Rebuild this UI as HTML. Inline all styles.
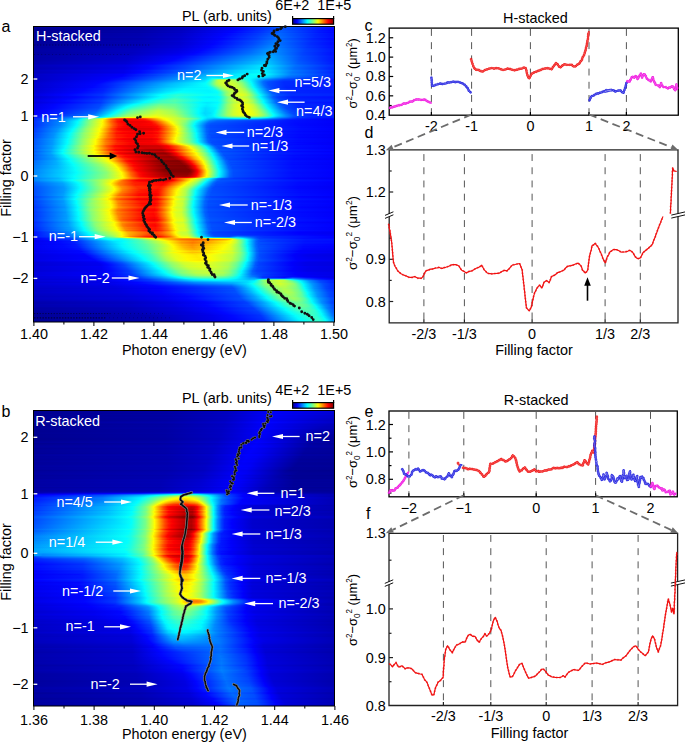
<!DOCTYPE html>
<html><head><meta charset="utf-8"><title>figure</title>
<style>
html,body{margin:0;padding:0;background:#fff}
body{width:685px;height:743px;position:relative;overflow:hidden;font-family:"Liberation Sans",sans-serif}
.h{position:absolute;left:34px;width:300px;top:0;height:0}
.h i{position:absolute;left:0;width:300px;height:1px;display:block}
svg{position:absolute;left:0;top:0}
text{font-family:"Liberation Sans",sans-serif}
</style></head><body>
<div class="h">
<i style="top:27px;background:linear-gradient(90deg,#00009c 0.5px,#0000b0 107.5px,#0000c9 148.5px,#0004ff 196.5px,#0036ff 228.5px,#005fff 249.5px,#001bff 290.5px,#01f 299.5px)"></i>
<i style="top:28px;background:linear-gradient(90deg,#000094 0.5px,#0000a8 107.5px,#0000c1 148.5px,#0004ff 202.5px,#0030ff 229.5px,#0056ff 248.5px,#01f 290.5px,#0007ff 299.5px)"></i>
<i style="top:29px;background:linear-gradient(90deg,#000092 0.5px,#0000a6 107.5px,#0000bf 148.5px,#0005ff 203.5px,#0030ff 229.5px,#05f 248.5px,#01f 288.5px,#0004ff 299.5px)"></i>
<i style="top:30px;background:linear-gradient(90deg,#000093 0.5px,#0000a7 106.5px,#0000c0 147.5px,#0005ff 201.5px,#0032ff 228.5px,#0059ff 247.5px,#0014ff 287.5px,#0005ff 299.5px)"></i>
<i style="top:31px;background:linear-gradient(90deg,#000095 0.5px,#00a 106.5px,#0000c4 147.5px,#0005ff 197.5px,#0036ff 227.5px,#005eff 247.5px,#0019ff 285.5px,#0008ff 299.5px)"></i>
<i style="top:32px;background:linear-gradient(90deg,#000092 0.5px,#0000a8 106.5px,#0000c2 147.5px,#0004ff 198.5px,#03f 226.5px,#005cff 246.5px,#0016ff 285.5px,#0004ff 299.5px)"></i>
<i style="top:33px;background:linear-gradient(90deg,#009 0.5px,#0000af 105.5px,#0000c9 146.5px,#0005ff 191.5px,#003cff 225.5px,#0067ff 245.5px,#0020ff 284.5px,#000cff 299.5px)"></i>
<i style="top:34px;background:linear-gradient(90deg,#000097 0.5px,#0000ae 105.5px,#0000c8 146.5px,#0005ff 192.5px,#003aff 224.5px,#06f 245.5px,#0020ff 282.5px,#000aff 299.5px)"></i>
<i style="top:35px;background:linear-gradient(90deg,#000098 0.5px,#0000af 105.5px,#0000ca 146.5px,#0005ff 190.5px,#003eff 224.5px,#0069ff 244.5px,#0021ff 282.5px,#000bff 299.5px)"></i>
<i style="top:36px;background:linear-gradient(90deg,#009 0.5px,#0000b1 104.5px,#00c 146.5px,#0004ff 187.5px,#0040ff 223.5px,#006dff 244.5px,#0024ff 281.5px,#000cff 299.5px)"></i>
<i style="top:37px;background:linear-gradient(90deg,#00009b 0.5px,#0000b3 104.5px,#0000cf 146.5px,#0005ff 185.5px,#0042ff 222.5px,#0072ff 243.5px,#0028ff 280.5px,#000eff 299.5px)"></i>
<i style="top:38px;background:linear-gradient(90deg,#000094 0.5px,#0000ac 104.5px,#0000c9 146.5px,#0004ff 189.5px,#003dff 222.5px,#006bff 242.5px,#001fff 280.5px,#0006ff 299.5px)"></i>
<i style="top:39px;background:linear-gradient(90deg,#000096 0.5px,#0000af 104.5px,#00c 146.5px,#0004ff 186.5px,#0042ff 222.5px,#006fff 242.5px,#0025ff 278.5px,#0008ff 299.5px)"></i>
<i style="top:40px;background:linear-gradient(90deg,#00009a 0.5px,#0000b3 103.5px,#0000d0 145.5px,#0005ff 183.5px,#0047ff 221.5px,#0076ff 241.5px,#0029ff 278.5px,#000cff 299.5px)"></i>
<i style="top:41px;background:linear-gradient(90deg,#00009d 0.5px,#0000b6 103.5px,#0000d4 145.5px,#0005ff 180.5px,#004bff 220.5px,#007cff 241.5px,#002eff 277.5px,#0010ff 299.5px)"></i>
<i style="top:42px;background:linear-gradient(90deg,#009 0.5px,#0000b3 103.5px,#0000d0 145.5px,#0006ff 182.5px,#0049ff 220.5px,#0079ff 240.5px,#002bff 276.5px,#000bff 299.5px)"></i>
<i style="top:43px;background:linear-gradient(90deg,#009 0.5px,#0000b4 103.5px,#0000d2 145.5px,#0004ff 180.5px,#004aff 219.5px,#007bff 239.5px,#002bff 276.5px,#000bff 299.5px)"></i>
<i style="top:44px;background:linear-gradient(90deg,#009 0.5px,#0000b5 103.5px,#0000d3 145.5px,#0004ff 179.5px,#004dff 219.5px,#007dff 239.5px,#002dff 275.5px,#000bff 299.5px)"></i>
<i style="top:45px;background:linear-gradient(90deg,#00009c 0.5px,#0000b8 102.5px,#0000d7 145.5px,#0005ff 176.5px,#0051ff 218.5px,#0083ff 238.5px,#0031ff 275.5px,#000fff 299.5px)"></i>
<i style="top:46px;background:linear-gradient(90deg,#00009e 0.5px,#0000ba 102.5px,#0000da 145.5px,#0004ff 174.5px,#0056ff 218.5px,#0087ff 238.5px,#0036ff 273.5px,#0010ff 299.5px)"></i>
<i style="top:47px;background:linear-gradient(90deg,#00009c 0.5px,#0000b8 102.5px,#0000d9 145.5px,#0005ff 175.5px,#0054ff 217.5px,#0087ff 237.5px,#03f 273.5px,#000eff 299.5px)"></i>
<i style="top:48px;background:linear-gradient(90deg,#0000a1 0.5px,#0000bf 102.5px,#0000de 144.5px,#0006ff 171.5px,#005eff 217.5px,#0090ff 237.5px,#003cff 272.5px,#0014ff 299.5px)"></i>
<i style="top:49px;background:linear-gradient(90deg,#0000a3 0.5px,#0000c0 101.5px,#0000e1 144.5px,#0006ff 169.5px,#0061ff 216.5px,#0094ff 236.5px,#003eff 272.5px,#0016ff 299.5px)"></i>
<i style="top:50px;background:linear-gradient(90deg,#0000a3 0.5px,#0000c1 100.5px,#0000e3 144.5px,#0005ff 167.5px,#0065ff 216.5px,#0097ff 235.5px,#003fff 271.5px,#0016ff 299.5px)"></i>
<i style="top:51px;background:linear-gradient(90deg,#0000a3 0.5px,#0000c2 99.5px,#0000e7 144.5px,#0005ff 164.5px,#006aff 216.5px,#009aff 235.5px,#0042ff 270.5px,#0016ff 299.5px)"></i>
<i style="top:52px;background:linear-gradient(90deg,#0000a0 0.5px,#0000bf 97.5px,#0000e8 144.5px,#0005ff 163.5px,#006cff 216.5px,#009aff 235.5px,#003eff 270.5px,#0012ff 299.5px)"></i>
<i style="top:53px;background:linear-gradient(90deg,#0000a1 0.5px,#0000c0 96.5px,#0000ed 144.5px,#0006ff 160.5px,#0072ff 216.5px,#009eff 234.5px,#0041ff 269.5px,#0012ff 299.5px)"></i>
<i style="top:54px;background:linear-gradient(90deg,#0000a1 0.5px,#0000c1 95.5px,#0000f1 144.5px,#0007ff 158.5px,#0078ff 216.5px,#00a1ff 234.5px,#0043ff 268.5px,#01f 299.5px)"></i>
<i style="top:55px;background:linear-gradient(90deg,#0000a5 0.5px,#0000c5 94.5px,#0000f8 144.5px,#0016ff 162.5px,#0084ff 217.5px,#00a8ff 234.5px,#0047ff 268.5px,#0015ff 299.5px)"></i>
<i style="top:56px;background:linear-gradient(90deg,#0000a8 0.5px,#0000ca 94.5px,#0004ff 146.5px,#0086ff 214.5px,#00b0ff 233.5px,#004dff 267.5px,#0018ff 299.5px)"></i>
<i style="top:57px;background:linear-gradient(90deg,#0000a6 0.5px,#0000c9 93.5px,#0004ff 145.5px,#008eff 216.5px,#00b1ff 233.5px,#004dff 266.5px,#0016ff 299.5px)"></i>
<i style="top:58px;background:linear-gradient(90deg,#0000a7 0.5px,#0000ca 93.5px,#0004ff 142.5px,#0096ff 217.5px,#00b5ff 233.5px,#004eff 266.5px,#0016ff 299.5px)"></i>
<i style="top:59px;background:linear-gradient(90deg,#0000a8 0.5px,#0000cb 92.5px,#0005ff 140.5px,#00a2ff 220.5px,#00b8ff 233.5px,#0051ff 265.5px,#0016ff 299.5px)"></i>
<i style="top:60px;background:linear-gradient(90deg,#0000a8 0.5px,#0000cd 92.5px,#0005ff 138.5px,#00bdff 232.5px,#0052ff 265.5px,#0016ff 299.5px)"></i>
<i style="top:61px;background:linear-gradient(90deg,#0000ab 0.5px,#0000d0 91.5px,#0005ff 134.5px,#00bcff 226.5px,#00c1ff 233.5px,#0057ff 264.5px,#0018ff 299.5px)"></i>
<i style="top:62px;background:linear-gradient(90deg,#0000ad 0.5px,#0000d3 91.5px,#0005ff 129.5px,#0097ff 205.5px,#00caff 231.5px,#005aff 264.5px,#001bff 299.5px)"></i>
<i style="top:63px;background:linear-gradient(90deg,#0000ad 0.5px,#0000d4 91.5px,#0005ff 127.5px,#0084ff 193.5px,#0cf 231.5px,#005cff 263.5px,#001aff 299.5px)"></i>
<i style="top:64px;background:linear-gradient(90deg,#0000b3 0.5px,#0000dc 91.5px,#0005ff 120.5px,#04f 156.5px,#00d8ff 230.5px,#0083ff 253.5px,#005fff 265.5px,#0020ff 299.5px)"></i>
<i style="top:65px;background:linear-gradient(90deg,#0000ba 0.5px,#0000e2 90.5px,#0006ff 114.5px,#0043ff 150.5px,#00e4ff 229.5px,#00c8ff 238.5px,#0070ff 261.5px,#0027ff 299.5px)"></i>
<i style="top:66px;background:linear-gradient(90deg,#0000b8 0.5px,#0000e2 90.5px,#0005ff 113.5px,#0046ff 150.5px,#00e4ff 227.5px,#00dcff 233.5px,#006eff 261.5px,#0025ff 299.5px)"></i>
<i style="top:67px;background:linear-gradient(90deg,#0000b5 0.5px,#0000df 90.5px,#0005ff 114.5px,#0048ff 151.5px,#00daff 222.5px,#00e2ff 230.5px,#006cff 260.5px,#0020ff 299.5px)"></i>
<i style="top:68px;background:linear-gradient(90deg,#0000b3 0.5px,#0000df 90.5px,#0006ff 114.5px,#004cff 152.5px,#00cfff 215.5px,#00e4ff 229.5px,#006aff 260.5px,#001eff 299.5px)"></i>
<i style="top:69px;background:linear-gradient(90deg,#0000b7 0.5px,#0000e4 90.5px,#0005ff 110.5px,#0050ff 150.5px,#00d2ff 211.5px,#00ebff 229.5px,#0071ff 259.5px,#0021ff 299.5px)"></i>
<i style="top:70px;background:linear-gradient(90deg,#0000bf 0.5px,#0000eb 89.5px,#0006ff 104.5px,#005bff 149.5px,#00dcff 208.5px,#00faff 228.5px,#009dff 250.5px,#0076ff 261.5px,#002aff 299.5px)"></i>
<i style="top:71px;background:linear-gradient(90deg,#0000bd 0.5px,#0000ea 89.5px,#0005ff 104.5px,#005cff 149.5px,#00daff 206.5px,#00f9ff 228.5px,#007aff 258.5px,#0026ff 299.5px)"></i>
<i style="top:72px;background:linear-gradient(90deg,#00b 0.5px,#0000e9 89.5px,#0006ff 104.5px,#0060ff 150.5px,#00d9ff 204.5px,#00f8ff 228.5px,#0076ff 258.5px,#0024ff 299.5px)"></i>
<i style="top:73px;background:linear-gradient(90deg,#0000c0 0.5px,#0000f1 89.5px,#0007ff 100.5px,#006eff 151.5px,#00e2ff 203.5px,#04fffb 226.5px,#00f5ff 231.5px,#007dff 257.5px,#0029ff 299.5px)"></i>
<i style="top:74px;background:linear-gradient(90deg,#0000c7 0.5px,#0000fb 89.5px,#0075ff 148.5px,#00e6ff 198.5px,#05fffa 219.5px,#08fff7 228.5px,#00f6ff 232.5px,#0083ff 256.5px,#002eff 299.5px)"></i>
<i style="top:75px;background:linear-gradient(90deg,#0000c5 0.5px,#0000fa 88.5px,#0039ff 119.5px,#00b8ff 174.5px,#00fbff 213.5px,#02fffd 227.5px,#00a4ff 246.5px,#07f 257.5px,#002aff 299.5px)"></i>
<i style="top:76px;background:linear-gradient(90deg,#0000c6 0.5px,#0000fd 87.5px,#00a4ff 163.5px,#00c9ff 175.5px,#00d2ff 181.5px,#00d2ff 186.5px,#01fffe 210.5px,#00f7ff 227.5px,#0075ff 254.5px,#0029ff 299.5px)"></i>
<i style="top:77px;background:linear-gradient(90deg,#0000c6 0.5px,#0000fe 82.5px,#004bff 119.5px,#00c7ff 172.5px,#00e4ff 177.5px,#00dcff 182.5px,#00d3ff 185.5px,#00f6ff 202.5px,#09fff6 206.5px,#0afff5 211.5px,#00f6ff 220.5px,#00deff 228.5px,#006aff 253.5px,#0027ff 299.5px)"></i>
<i style="top:78px;background:linear-gradient(90deg,#0000c5 0.5px,#0000fa 75.5px,#01f 90.5px,#0cf 171.5px,#01fffe 178.5px,#06fff9 183.5px,#14ffeb 200.5px,#1fffe0 208.5px,#00faff 216.5px,#0080ff 241.5px,#0053ff 254.5px,#0021ff 299.5px)"></i>
<i style="top:79px;background:linear-gradient(90deg,#0000c4 0.5px,#0000fa 72.5px,#0018ff 90.5px,#00d1ff 170.5px,#0ef 174.5px,#08fff7 176.5px,#87ff78 183.5px,#9f6 185.5px,#a0ff5f 190.5px,#81ff7e 200.5px,#0ff 215.5px,#08f 231.5px,#0045ff 250.5px,#0017ff 299.5px)"></i>
<i style="top:80px;background:linear-gradient(90deg,#0000c7 0.5px,#0004ff 73.5px,#004fff 108.5px,#00dfff 170.5px,#01fffe 174.5px,#35ffca 177.5px,#b5ff4a 183.5px,#c5ff3a 184.5px,#d5ff2a 189.5px,#b4ff4b 199.5px,#9bff64 202.5px,#07fff8 215.5px,#00e6ff 218.5px,#0074ff 230.5px,#0039ff 248.5px,#0017ff 299.5px)"></i>
<i style="top:81px;background:linear-gradient(90deg,#0000ca 0.5px,#0004ff 69.5px,#005cff 108.5px,#00c3ff 153.5px,#00ebff 170.5px,#02fffd 173.5px,#30ffcf 176.5px,#a7ff58 182.5px,#c3ff3c 184.5px,#d6ff29 190.5px,#b8ff47 200.5px,#69ff96 208.5px,#02fffd 216.5px,#006cff 229.5px,#004fff 235.5px,#002cff 250.5px,#0019ff 299.5px)"></i>
<i style="top:82px;background:linear-gradient(90deg,#0000ce 0.5px,#0005ff 66.5px,#0067ff 108.5px,#00c0ff 145.5px,#00f6ff 170.5px,#02fffd 172.5px,#29ffd6 175.5px,#abff54 182.5px,#c9ff36 185.5px,#d9ff26 191.5px,#bcff43 201.5px,#7bff84 208.5px,#00fcff 217.5px,#0073ff 228.5px,#0050ff 233.5px,#002aff 249.5px,#001dff 299.5px)"></i>
<i style="top:83px;background:linear-gradient(90deg,#0000d0 0.5px,#0005ff 63.5px,#0067ff 105.5px,#0bf 138.5px,#02fffd 171.5px,#1dffe2 174.5px,#af5 182.5px,#c7ff38 185.5px,#daff25 192.5px,#beff41 202.5px,#8f7 208.5px,#05fffa 217.5px,#006cff 229.5px,#004cff 234.5px,#0029ff 250.5px,#001fff 299.5px)"></i>
<i style="top:84px;background:linear-gradient(90deg,#0000d1 0.5px,#0006ff 61.5px,#0041ff 89.5px,#0bf 135.5px,#03fffc 171.5px,#1bffe4 174.5px,#a3ff5c 182.5px,#c1ff3e 185.5px,#d7ff28 192.5px,#c3ff3c 202.5px,#9cff63 207.5px,#4affb5 213.5px,#00fbff 218.5px,#0070ff 229.5px,#004cff 234.5px,#0029ff 250.5px,#001fff 299.5px)"></i>
<i style="top:85px;background:linear-gradient(90deg,#0000d0 0.5px,#0005ff 60.5px,#0029ff 78.5px,#00c2ff 136.5px,#00ebff 159.5px,#04fffb 172.5px,#1dffe2 175.5px,#a0ff5f 183.5px,#c3ff3c 187.5px,#d3ff2c 194.5px,#c1ff3e 203.5px,#98ff67 208.5px,#42ffbd 214.5px,#02fffd 218.5px,#006aff 230.5px,#0049ff 235.5px,#0027ff 251.5px,#001dff 299.5px)"></i>
<i style="top:86px;background:linear-gradient(90deg,#0000d1 0.5px,#0005ff 58.5px,#001fff 73.5px,#009fff 119.5px,#00e9ff 153.5px,#03fffc 173.5px,#1affe5 176.5px,#9f6 184.5px,#c3ff3c 189.5px,#d1ff2e 196.5px,#bf4 205.5px,#89ff76 210.5px,#00fcff 219.5px,#0067ff 231.5px,#0048ff 236.5px,#0026ff 251.5px,#001cff 299.5px)"></i>
<i style="top:87px;background:linear-gradient(90deg,#0000cf 0.5px,#0005ff 58.5px,#0020ff 73.5px,#00c8ff 134.5px,#00ebff 153.5px,#00f8ff 172.5px,#08fff7 176.5px,#29ffd6 179.5px,#8dff72 185.5px,#baff45 190.5px,#cf3 198.5px,#b7ff48 206.5px,#84ff7b 211.5px,#05fffa 219.5px,#0062ff 232.5px,#04f 237.5px,#0023ff 252.5px,#001aff 299.5px)"></i>
<i style="top:88px;background:linear-gradient(90deg,#0000d4 0.5px,#0005ff 51.5px,#0020ff 70.5px,#00d2ff 133.5px,#00f5ff 151.5px,#00fdff 173.5px,#0ffff0 178.5px,#35ffca 181.5px,#8bff74 186.5px,#bcff43 191.5px,#d3ff2c 198.5px,#c4ff3b 206.5px,#a3ff5c 210.5px,#39ffc6 217.5px,#08fff7 220.5px,#00eaff 222.5px,#0065ff 233.5px,#0048ff 238.5px,#0028ff 253.5px,#001eff 299.5px)"></i>
<i style="top:89px;background:linear-gradient(90deg,#0000d3 0.5px,#0005ff 49.5px,#001fff 69.5px,#00d6ff 132.5px,#00f8ff 150.5px,#00f9ff 173.5px,#04fffb 178.5px,#1bffe4 181.5px,#8eff71 188.5px,#bcff43 193.5px,#d1ff2e 200.5px,#c3ff3c 207.5px,#a1ff5e 211.5px,#23ffdc 219.5px,#03fffc 221.5px,#006cff 233.5px,#004aff 238.5px,#0027ff 253.5px,#001dff 299.5px)"></i>
<i style="top:90px;background:linear-gradient(90deg,#0000d1 0.5px,#0005ff 50.5px,#0020ff 69.5px,#00d8ff 131.5px,#00faff 149.5px,#00f5ff 174.5px,#06fff9 181.5px,#2affd5 184.5px,#81ff7e 189.5px,#b2ff4d 194.5px,#cbff34 201.5px,#c4ff3b 207.5px,#a8ff57 211.5px,#4fffb0 217.5px,#00fbff 222.5px,#0071ff 233.5px,#004aff 238.5px,#0024ff 254.5px,#001aff 299.5px)"></i>
<i style="top:91px;background:linear-gradient(90deg,#0000d3 0.5px,#0006ff 47.5px,#0024ff 69.5px,#00e1ff 131.5px,#02fffd 146.5px,#00f6ff 175.5px,#03fffc 182.5px,#24ffdb 185.5px,#7dff82 190.5px,#b0ff4f 195.5px,#cf3 202.5px,#c7ff38 208.5px,#af5 212.5px,#3cffc3 219.5px,#0afff5 222.5px,#00ebff 224.5px,#06f 235.5px,#0046ff 240.5px,#0025ff 255.5px,#001bff 299.5px)"></i>
<i style="top:92px;background:linear-gradient(90deg,#0000d5 0.5px,#0005ff 44.5px,#0025ff 68.5px,#00eaff 131.5px,#05fffa 142.5px,#06fff9 152.5px,#00f7ff 176.5px,#03fffc 183.5px,#26ffd9 186.5px,#7fff80 191.5px,#b1ff4e 196.5px,#ceff31 203.5px,#cf3 208.5px,#b3ff4c 212.5px,#6bff94 217.5px,#06fff9 223.5px,#00a7ff 230.5px,#005bff 237.5px,#003dff 244.5px,#0025ff 256.5px,#001bff 299.5px)"></i>
<i style="top:93px;background:linear-gradient(90deg,#0000da 0.5px,#0005ff 38.5px,#002cff 68.5px,#00d0ff 117.5px,#03fffc 134.5px,#19ffe6 146.5px,#00fbff 171.5px,#08fff7 183.5px,#26ffd9 186.5px,#8dff72 192.5px,#c3ff3c 198.5px,#daff25 206.5px,#c7ff38 211.5px,#9aff65 215.5px,#06fff9 224.5px,#00a8ff 231.5px,#005cff 238.5px,#003bff 247.5px,#0029ff 258.5px,#0020ff 299.5px)"></i>
<i style="top:94px;background:linear-gradient(90deg,#0000df 0.5px,#0005ff 33.5px,#03f 68.5px,#00beff 109.5px,#0ff 127.5px,#28ffd7 144.5px,#03fffc 173.5px,#0dfff2 183.5px,#29ffd6 186.5px,#90ff6f 192.5px,#c8ff37 198.5px,#e2ff1d 206.5px,#d1ff2e 211.5px,#a7ff58 215.5px,#05fffa 225.5px,#0065ff 238.5px,#0049ff 244.5px,#002dff 257.5px,#0023ff 299.5px)"></i>
<i style="top:95px;background:linear-gradient(90deg,#0000df 0.5px,#0006ff 33.5px,#0034ff 68.5px,#00b4ff 105.5px,#03fffc 125.5px,#30ffcf 143.5px,#02fffd 173.5px,#0cfff3 183.5px,#26ffd9 186.5px,#97ff68 193.5px,#cbff34 199.5px,#e2ff1d 207.5px,#cbff34 212.5px,#90ff6f 217.5px,#00fdff 226.5px,#0073ff 237.5px,#004fff 242.5px,#002cff 257.5px,#02f 299.5px)"></i>
<i style="top:96px;background:linear-gradient(90deg,#0000d5 0.5px,#0006ff 41.5px,#002bff 68.5px,#00a7ff 104.5px,#03fffc 127.5px,#29ffd6 142.5px,#00faff 166.5px,#00f5ff 176.5px,#01fffe 184.5px,#2fd 187.5px,#82ff7d 193.5px,#b7ff48 199.5px,#d0ff2f 207.5px,#bcff43 212.5px,#86ff79 217.5px,#06fff9 225.5px,#00cdff 229.5px,#0058ff 239.5px,#003bff 245.5px,#001fff 258.5px,#0016ff 299.5px)"></i>
<i style="top:97px;background:linear-gradient(90deg,#0000d4 0.5px,#0005ff 41.5px,#002aff 68.5px,#00a0ff 102.5px,#02fffd 125.5px,#2effd1 141.5px,#00faff 165.5px,#00f1ff 175.5px,#04fffb 185.5px,#3dffc2 189.5px,#86ff79 194.5px,#b6ff49 200.5px,#cf3 208.5px,#b3ff4c 213.5px,#7aff85 218.5px,#00fbff 226.5px,#0064ff 238.5px,#003fff 243.5px,#001cff 258.5px,#0012ff 299.5px)"></i>
<i style="top:98px;background:linear-gradient(90deg,#0000d9 0.5px,#0005ff 36.5px,#0032ff 68.5px,#00acff 102.5px,#01fffe 121.5px,#3dffc2 140.5px,#00fbff 168.5px,#00fcff 181.5px,#0afff5 185.5px,#40ffbf 189.5px,#8aff75 194.5px,#bcff43 200.5px,#d6ff29 208.5px,#beff41 213.5px,#7aff85 219.5px,#00fbff 227.5px,#0064ff 239.5px,#0042ff 244.5px,#0020ff 259.5px,#0016ff 299.5px)"></i>
<i style="top:99px;background:linear-gradient(90deg,#0000df 0.5px,#0005ff 31.5px,#0037ff 67.5px,#00c0ff 103.5px,#05fffa 118.5px,#3fffc0 134.5px,#4affb5 141.5px,#00fdff 170.5px,#06fff9 183.5px,#1affe5 186.5px,#90ff6f 194.5px,#c4ff3b 200.5px,#e1ff1e 208.5px,#caff35 213.5px,#8aff75 219.5px,#00fcff 228.5px,#06f 240.5px,#0046ff 245.5px,#0024ff 260.5px,#001bff 299.5px)"></i>
<i style="top:100px;background:linear-gradient(90deg,#0000e3 0.5px,#0005ff 27.5px,#003dff 67.5px,#05fffa 114.5px,#3dffc2 128.5px,#54ffab 140.5px,#00fdff 171.5px,#09fff6 183.5px,#1fffe0 186.5px,#95ff6a 194.5px,#c9ff36 200.5px,#e8ff17 208.5px,#d4ff2b 213.5px,#a5ff5a 218.5px,#00faff 229.5px,#0067ff 241.5px,#0048ff 246.5px,#0027ff 260.5px,#001eff 299.5px)"></i>
<i style="top:101px;background:linear-gradient(90deg,#0000e0 0.5px,#0006ff 29.5px,#003dff 67.5px,#02fffd 111.5px,#41ffbe 127.5px,#53ffac 140.5px,#00fbff 168.5px,#00f9ff 177.5px,#03fffc 183.5px,#1bffe4 186.5px,#91ff6e 194.5px,#c4ff3b 200.5px,#e4ff1b 208.5px,#d3ff2c 213.5px,#a8ff57 218.5px,#40ffbf 225.5px,#0ff 229.5px,#006bff 241.5px,#0047ff 246.5px,#0023ff 261.5px,#001aff 299.5px)"></i>
<i style="top:102px;background:linear-gradient(90deg,#0000db 0.5px,#0005ff 32.5px,#0035ff 66.5px,#00feff 109.5px,#43ffbc 126.5px,#4dffb2 140.5px,#00fcff 164.5px,#00e9ff 172.5px,#00f8ff 183.5px,#08fff7 185.5px,#8f7 194.5px,#baff45 200.5px,#daff25 208.5px,#c6ff39 214.5px,#9aff65 219.5px,#20ffdf 227.5px,#0ff 229.5px,#0076ff 240.5px,#0048ff 245.5px,#001dff 260.5px,#0012ff 299.5px)"></i>
<i style="top:103px;background:linear-gradient(90deg,#0000e1 0.5px,#0005ff 27.5px,#003dff 66.5px,#00f9ff 103.5px,#4fb 120.5px,#59ffa6 128.5px,#56ffa9 141.5px,#00faff 166.5px,#00edff 173.5px,#00feff 183.5px,#1cffe3 186.5px,#85ff7a 193.5px,#bdff42 199.5px,#e6ff19 208.5px,#d4ff2b 214.5px,#abff54 219.5px,#43ffbc 226.5px,#02fffd 230.5px,#006eff 242.5px,#0047ff 247.5px,#0021ff 262.5px,#0017ff 299.5px)"></i>
<i style="top:104px;background:linear-gradient(90deg,#0000e8 0.5px,#0006ff 22.5px,#0047ff 66.5px,#0ff 99.5px,#6bff94 125.5px,#65ff9a 140.5px,#00fcff 167.5px,#00f2ff 173.5px,#06fff9 183.5px,#26ffd9 186.5px,#8fff70 193.5px,#c7ff38 199.5px,#f3ff0c 208.5px,#e2ff1d 214.5px,#bcff43 219.5px,#56ffa9 226.5px,#04fffb 231.5px,#0068ff 244.5px,#0048ff 249.5px,#0026ff 263.5px,#001dff 299.5px)"></i>
<i style="top:105px;background:linear-gradient(90deg,#0000e9 0.5px,#0006ff 21.5px,#004aff 66.5px,#02fffd 96.5px,#79ff86 125.5px,#6f9 141.5px,#00fdff 166.5px,#0ef 172.5px,#0ff 182.5px,#1bffe4 185.5px,#90ff6f 193.5px,#c8ff37 199.5px,#f5ff0a 208.5px,#e6ff19 214.5px,#c5ff3a 219.5px,#73ff8c 225.5px,#00feff 232.5px,#007aff 243.5px,#0050ff 248.5px,#0027ff 263.5px,#001dff 299.5px)"></i>
<i style="top:106px;background:linear-gradient(90deg,#0000eb 0.5px,#0006ff 19.5px,#004bff 65.5px,#01fffe 93.5px,#74ff8b 119.5px,#87ff78 126.5px,#6dff92 141.5px,#00fbff 166.5px,#00ebff 172.5px,#01fffe 182.5px,#2dffd2 186.5px,#93ff6c 193.5px,#cfff30 200.5px,#f8ff07 208.5px,#eaff15 214.5px,#cf3 219.5px,#7fff80 225.5px,#0afff5 232.5px,#00ecff 234.5px,#06f 246.5px,#04f 252.5px,#0026ff 265.5px,#001dff 299.5px)"></i>
<i style="top:107px;background:linear-gradient(90deg,#0000ea 0.5px,#0006ff 19.5px,#004aff 64.5px,#00e4ff 87.5px,#01fffe 91.5px,#36ffc9 101.5px,#8fff70 124.5px,#79ff86 139.5px,#00fbff 165.5px,#00e4ff 171.5px,#00f7ff 181.5px,#07fff8 183.5px,#91ff6e 193.5px,#cf3 200.5px,#f5ff0a 209.5px,#daff25 217.5px,#aeff51 222.5px,#45ffba 229.5px,#03fffc 233.5px,#006cff 246.5px,#0048ff 251.5px,#0023ff 265.5px,#001aff 299.5px)"></i>
<i style="top:108px;background:linear-gradient(90deg,#0000ec 0.5px,#0007ff 18.5px,#0050ff 64.5px,#03fffc 89.5px,#3bffc4 98.5px,#9dff62 124.5px,#83ff7c 139.5px,#00feff 164.5px,#00e0ff 171.5px,#00f7ff 181.5px,#09fff6 183.5px,#92ff6d 193.5px,#c7ff38 199.5px,#f5ff0a 209.5px,#e1ff1e 216.5px,#c0ff3f 221.5px,#72ff8d 227.5px,#00feff 234.5px,#0076ff 246.5px,#0048ff 252.5px,#0023ff 266.5px,#0019ff 299.5px)"></i>
<i style="top:109px;background:linear-gradient(90deg,#0000f0 0.5px,#0007ff 15.5px,#05f 63.5px,#00fdff 86.5px,#4bffb4 97.5px,#aeff51 124.5px,#93ff6c 138.5px,#0ff 164.5px,#00dfff 171.5px,#00f4ff 180.5px,#05fffa 182.5px,#97ff68 193.5px,#cbff34 199.5px,#faff05 209.5px,#ecff13 215.5px,#c9ff36 221.5px,#81ff7e 227.5px,#00feff 235.5px,#0078ff 247.5px,#004aff 253.5px,#0025ff 267.5px,#001bff 299.5px)"></i>
<i style="top:110px;background:linear-gradient(90deg,#0000f3 0.5px,#0007ff 13.5px,#0059ff 62.5px,#00a8ff 73.5px,#0ff 84.5px,#5effa1 97.5px,#bdff42 124.5px,#9eff61 138.5px,#2dffd2 157.5px,#0ff 164.5px,#0df 171.5px,#00f1ff 179.5px,#0ff 181.5px,#9bff64 193.5px,#cfff30 199.5px,#ff0 210.5px,#e8ff17 217.5px,#bdff42 223.5px,#70ff8f 229.5px,#00fdff 236.5px,#0070ff 249.5px,#0048ff 255.5px,#0026ff 268.5px,#001cff 299.5px)"></i>
<i style="top:111px;background:linear-gradient(90deg,#0000f5 0.5px,#0008ff 12.5px,#0061ff 62.5px,#00fdff 82.5px,#69ff96 96.5px,#c7ff38 124.5px,#9dff62 140.5px,#0ff 164.5px,#00dbff 171.5px,#00f1ff 179.5px,#02fffd 181.5px,#9cff63 193.5px,#d0ff2f 199.5px,#fffe00 210.5px,#efff10 216.5px,#c4ff3b 223.5px,#6cff93 230.5px,#09fff6 236.5px,#00edff 238.5px,#0068ff 251.5px,#0045ff 257.5px,#0025ff 270.5px,#001bff 299.5px)"></i>
<i style="top:112px;background:linear-gradient(90deg,#0000f6 0.5px,#0009ff 11.5px,#0065ff 61.5px,#00eaff 78.5px,#04fffb 81.5px,#71ff8e 95.5px,#cf3 123.5px,#acff53 137.5px,#82ff7d 145.5px,#00feff 164.5px,#00daff 170.5px,#00e3ff 176.5px,#04fffb 181.5px,#9dff62 193.5px,#cfff30 199.5px,#ff0 211.5px,#deff21 220.5px,#a9ff56 226.5px,#56ffa9 232.5px,#06fff9 237.5px,#0097ff 247.5px,#0052ff 255.5px,#0025ff 269.5px,#001aff 299.5px)"></i>
<i style="top:113px;background:linear-gradient(90deg,#0000f8 0.5px,#000bff 11.5px,#0069ff 60.5px,#00bdff 71.5px,#01fffe 79.5px,#79ff86 94.5px,#d1ff2e 123.5px,#a4ff5b 140.5px,#00fdff 164.5px,#00d9ff 170.5px,#00e2ff 176.5px,#00fbff 180.5px,#2dffd2 184.5px,#9dff62 193.5px,#ceff31 199.5px,#fcff03 211.5px,#e8ff17 218.5px,#c2ff3d 224.5px,#70ff8f 231.5px,#01fffe 238.5px,#007aff 251.5px,#0048ff 258.5px,#02f 272.5px,#0018ff 299.5px)"></i>
<i style="top:114px;background:linear-gradient(90deg,#0000fd 0.5px,#0072ff 59.5px,#00adff 67.5px,#03fffc 77.5px,#86ff79 93.5px,#df2 122.5px,#b2ff4d 139.5px,#62ff9d 151.5px,#00fbff 165.5px,#00dbff 171.5px,#00f0ff 178.5px,#02fffd 180.5px,#a0ff5f 193.5px,#d0ff2f 199.5px,#feff01 212.5px,#d8ff27 222.5px,#94ff6b 229.5px,#1dffe2 237.5px,#0ff 239.5px,#0086ff 251.5px,#004bff 259.5px,#0024ff 273.5px,#001bff 299.5px)"></i>
<i style="top:115px;background:linear-gradient(90deg,#0003ff 0.5px,#06f 49.5px,#007eff 59.5px,#03fffc 75.5px,#92ff6d 92.5px,#e7ff18 121.5px,#cf3 133.5px,#abff54 142.5px,#0ff 165.5px,#00dfff 171.5px,#00ecff 177.5px,#03fffc 180.5px,#97ff68 193.5px,#c3ff3c 199.5px,#efff10 212.5px,#d2ff2d 221.5px,#a3ff5c 227.5px,#4dffb2 234.5px,#03fffc 239.5px,#0082ff 252.5px,#004bff 260.5px,#0024ff 274.5px,#001cff 299.5px)"></i>
<i style="top:116px;background:linear-gradient(90deg,#000aff 0.5px,#0076ff 44.5px,#07f 52.5px,#008dff 59.5px,#00fcff 72.5px,#a7ff58 92.5px,#f5ff0a 121.5px,#c0ff3f 140.5px,#4affb5 156.5px,#02fffd 166.5px,#00e5ff 172.5px,#00f0ff 178.5px,#06fff9 181.5px,#80ff7f 194.5px,#a4ff5b 201.5px,#c1ff3e 213.5px,#9eff61 223.5px,#4effb1 232.5px,#00feff 238.5px,#00beff 244.5px,#05f 258.5px,#002fff 269.5px,#0020ff 284.5px,#001fff 299.5px)"></i>
<i style="top:117px;background:linear-gradient(90deg,#0015ff 0.5px,#006fff 32.5px,#009aff 44.5px,#0af 52.5px,#00d5ff 60.5px,#02fffd 65.5px,#bf4 83.5px,#f5ff0a 91.5px,#fff900 97.5px,#ffe800 111.5px,#fff200 122.5px,#f7ff08 127.5px,#bcff43 143.5px,#00fcff 168.5px,#00e3ff 173.5px,#00e2ff 179.5px,#02fffd 185.5px,#4affb5 197.5px,#6f9 213.5px,#4fb 224.5px,#02fffd 233.5px,#00a1ff 243.5px,#0043ff 259.5px,#001eff 275.5px,#0019ff 299.5px)"></i>
<i style="top:118px;background:linear-gradient(90deg,#002aff 0.5px,#0049ff 15.5px,#0079ff 30.5px,#00c0ff 43.5px,#00f9ff 48.5px,#2cffd3 52.5px,#c5ff3a 68.5px,#f9ff06 71.5px,#ffad00 76.5px,#ff6400 82.5px,#ff4000 89.5px,#ff3900 104.5px,#ff4a00 109.5px,#fff500 128.5px,#faff05 131.5px,#a8ff57 150.5px,#48ffb7 162.5px,#00fdff 168.5px,#00d4ff 173.5px,#00beff 180.5px,#00d6ff 190.5px,#00edff 201.5px,#0ef 215.5px,#00caff 227.5px,#0059ff 247.5px,#0023ff 263.5px,#000eff 285.5px,#0004ff 299.5px)"></i>
<i style="top:119px;background:linear-gradient(90deg,#002fff 0.5px,#0057ff 17.5px,#0081ff 29.5px,#00dcff 43.5px,#01fffe 46.5px,#65ff9a 53.5px,#faff05 68.5px,#ffe200 70.5px,#ff7000 76.5px,#ff2300 82.5px,#ff0400 88.5px,#ff0300 105.5px,#ff1d00 111.5px,#ff8500 120.5px,#ffec00 129.5px,#fcff03 132.5px,#9eff61 151.5px,#2cffd3 163.5px,#00faff 167.5px,#00bcff 173.5px,#0097ff 179.5px,#008fff 187.5px,#0092ff 206.5px,#007dff 223.5px,#0023ff 253.5px,#0007ff 278.5px,#0000f9 299.5px)"></i>
<i style="top:120px;background:linear-gradient(90deg,#002fff 0.5px,#007fff 27.5px,#0ef 43.5px,#04fffb 45.5px,#81ff7e 55.5px,#efff10 67.5px,#fcff03 68.5px,#fb0 72.5px,#ff6700 77.5px,#ff1f00 83.5px,#f00 90.5px,#ff0600 109.5px,#ff1d00 114.5px,#ff7c00 122.5px,#fff400 132.5px,#f9ff06 134.5px,#8fff70 151.5px,#01fffe 164.5px,#0086ff 176.5px,#006dff 183.5px,#04f 225.5px,#0010ff 257.5px,#0000f8 299.5px)"></i>
<i style="top:121px;background:linear-gradient(90deg,#03f 0.5px,#08f 27.5px,#00fbff 43.5px,#37ffc8 48.5px,#93ff6c 56.5px,#fffa00 68.5px,#ff6c00 76.5px,#ff1500 83.5px,#fe0000 87.5px,#ed0000 95.5px,#f40000 110.5px,#ff0500 115.5px,#ff3700 120.5px,#ffef00 134.5px,#fbff04 136.5px,#8aff75 151.5px,#02fffd 162.5px,#0076ff 175.5px,#005fff 182.5px,#000dff 260.5px,#0000fb 299.5px)"></i>
<i style="top:122px;background:linear-gradient(90deg,#0032ff 0.5px,#008bff 27.5px,#01fffe 43.5px,#8dff72 55.5px,#f8ff07 67.5px,#ffea00 69.5px,#ff7100 76.5px,#ff1900 83.5px,#fe0000 88.5px,#e00 97.5px,#f70000 112.5px,#ff0800 117.5px,#ff3c00 122.5px,#fff700 136.5px,#f4ff0b 138.5px,#84ff7b 151.5px,#02fffd 161.5px,#006cff 174.5px,#0058ff 180.5px,#000cff 260.5px,#0000fb 299.5px)"></i>
<i style="top:123px;background:linear-gradient(90deg,#0031ff 0.5px,#008cff 27.5px,#03fffc 43.5px,#8eff71 55.5px,#fffb00 68.5px,#ff6b00 77.5px,#ff1900 84.5px,#fc0000 91.5px,#f40000 105.5px,#ff0600 117.5px,#f20 121.5px,#feff01 138.5px,#72ff8d 152.5px,#06fff9 160.5px,#00c6ff 165.5px,#0067ff 173.5px,#0054ff 177.5px,#000aff 261.5px,#0000f9 299.5px)"></i>
<i style="top:124px;background:linear-gradient(90deg,#0031ff 0.5px,#0089ff 26.5px,#00fcff 42.5px,#91ff6e 55.5px,#f9ff06 67.5px,#ffeb00 69.5px,#ff6000 78.5px,#ff1b00 84.5px,#fe0000 91.5px,#f40000 102.5px,#fe0000 116.5px,#ff1300 121.5px,#ff5900 127.5px,#fffb00 139.5px,#6eff91 152.5px,#00feff 160.5px,#0067ff 172.5px,#0051ff 176.5px,#0009ff 263.5px,#0000f9 299.5px)"></i>
<i style="top:125px;background:linear-gradient(90deg,#0031ff 0.5px,#008cff 26.5px,#01fffe 42.5px,#8bff74 54.5px,#faff05 67.5px,#ffdb00 70.5px,#ff5600 79.5px,#ff1e00 84.5px,#ff0100 91.5px,#f50000 104.5px,#ff0400 119.5px,#ff1800 123.5px,#ffa600 134.5px,#fff800 140.5px,#dfff20 143.5px,#23ffdc 157.5px,#06fff9 159.5px,#00c2ff 164.5px,#005fff 172.5px,#004cff 176.5px,#0008ff 265.5px,#0000f9 299.5px)"></i>
<i style="top:126px;background:linear-gradient(90deg,#0035ff 0.5px,#0093ff 26.5px,#01fffe 41.5px,#8bff74 53.5px,#fffc00 67.5px,#ff4b00 79.5px,#ff1300 84.5px,#fc0000 89.5px,#eb0000 99.5px,#f20000 117.5px,#ff0700 123.5px,#ff4d00 129.5px,#fbff04 142.5px,#09fff6 159.5px,#00ebff 161.5px,#005eff 172.5px,#004cff 176.5px,#000aff 267.5px,#0000fc 299.5px)"></i>
<i style="top:127px;background:linear-gradient(90deg,#0037ff 0.5px,#0092ff 25.5px,#00fdff 40.5px,#8fff70 53.5px,#faff05 66.5px,#ffdc00 69.5px,#ff5600 78.5px,#ff1300 84.5px,#fc0000 90.5px,#ed0000 101.5px,#f40000 117.5px,#ff0200 122.5px,#ff2500 126.5px,#feff01 142.5px,#00fdff 160.5px,#005dff 172.5px,#004bff 176.5px,#0009ff 267.5px,#0000fb 299.5px)"></i>
<i style="top:128px;background:linear-gradient(90deg,#003dff 0.5px,#0095ff 24.5px,#02fffd 39.5px,#91ff6e 52.5px,#fbff04 65.5px,#ffdc00 68.5px,#ff4f00 77.5px,#ff0a00 83.5px,#f50000 87.5px,#de0000 99.5px,#e50000 117.5px,#f80000 123.5px,#ff0a00 125.5px,#fb0 138.5px,#faff05 143.5px,#08fff7 160.5px,#00eaff 162.5px,#0063ff 172.5px,#004fff 176.5px,#000dff 267.5px,#00f 299.5px)"></i>
<i style="top:129px;background:linear-gradient(90deg,#003fff 0.5px,#0094ff 23.5px,#0ff 38.5px,#96ff69 52.5px,#feff01 65.5px,#ffb700 70.5px,#ff4d00 77.5px,#ff0a00 83.5px,#fa0000 86.5px,#e10000 99.5px,#e80000 117.5px,#ff0300 124.5px,#ff8200 134.5px,#fcff03 143.5px,#00fcff 161.5px,#0063ff 172.5px,#004fff 176.5px,#000cff 267.5px,#0000fe 299.5px)"></i>
<i style="top:130px;background:linear-gradient(90deg,#003fff 0.5px,#0090ff 22.5px,#04fffb 38.5px,#8fff70 51.5px,#feff01 65.5px,#ffa700 71.5px,#ff3900 79.5px,#ff0b00 84.5px,#f90000 90.5px,#ea0000 102.5px,#f20000 117.5px,#ff0500 123.5px,#ff4600 129.5px,#faff05 143.5px,#1dffe2 159.5px,#00feff 161.5px,#0063ff 172.5px,#004cff 176.5px,#000aff 266.5px,#0000fc 299.5px)"></i>
<i style="top:131px;background:linear-gradient(90deg,#003dff 0.5px,#0090ff 22.5px,#00fcff 37.5px,#8dff72 51.5px,#f9ff06 65.5px,#ffeb00 67.5px,#ff6a00 76.5px,#ff2800 82.5px,#ff1000 88.5px,#fc0000 99.5px,#ff0600 118.5px,#ff1e00 124.5px,#ffd600 139.5px,#fffd00 142.5px,#48ffb7 156.5px,#00feff 161.5px,#0060ff 172.5px,#0048ff 176.5px,#0006ff 266.5px,#0000f7 299.5px)"></i>
<i style="top:132px;background:linear-gradient(90deg,#0043ff 0.5px,#0093ff 21.5px,#0ff 36.5px,#8fff70 50.5px,#faff05 64.5px,#ffeb00 66.5px,#ff6500 75.5px,#ff1800 82.5px,#ff0100 89.5px,#ef0000 102.5px,#f60000 117.5px,#ff0400 122.5px,#ff2500 126.5px,#feff01 143.5px,#4fb 157.5px,#00f9ff 162.5px,#0065ff 172.5px,#004fff 175.5px,#000aff 264.5px,#0000fb 299.5px)"></i>
<i style="top:133px;background:linear-gradient(90deg,#0048ff 0.5px,#0094ff 20.5px,#0ff 35.5px,#8eff71 49.5px,#fffd00 64.5px,#ff5b00 75.5px,#ff1000 82.5px,#fd0000 87.5px,#e90000 102.5px,#f00000 117.5px,#ff0300 123.5px,#ff4200 129.5px,#fffb00 143.5px,#5affa5 156.5px,#01fffe 162.5px,#0069ff 172.5px,#0051ff 175.5px,#000bff 264.5px,#0000fc 299.5px)"></i>
<i style="top:134px;background:linear-gradient(90deg,#0045ff 0.5px,#0093ff 20.5px,#00feff 35.5px,#8bff74 49.5px,#f2ff0d 63.5px,#fff500 65.5px,#ff6900 75.5px,#f20 82.5px,#ff0100 95.5px,#ff0500 118.5px,#ff1d00 124.5px,#ffc700 138.5px,#fffa00 142.5px,#65ff9a 155.5px,#00fdff 162.5px,#06f 172.5px,#004cff 175.5px,#0007ff 264.5px,#0000f8 299.5px)"></i>
<i style="top:135px;background:linear-gradient(90deg,#0049ff 0.5px,#0090ff 19.5px,#03fffc 35.5px,#87ff78 48.5px,#fffb00 64.5px,#ff6f00 74.5px,#ff1f00 82.5px,#ff0100 93.5px,#f60000 110.5px,#ff0600 120.5px,#ff1a00 124.5px,#fb0 137.5px,#fffd00 142.5px,#68ff97 155.5px,#02fffd 162.5px,#005dff 173.5px,#0048ff 177.5px,#0007ff 266.5px,#0000f8 299.5px)"></i>
<i style="top:136px;background:linear-gradient(90deg,#004bff 0.5px,#0093ff 19.5px,#00fcff 34.5px,#91ff6e 49.5px,#fdff02 63.5px,#ff6b00 74.5px,#ff1f00 82.5px,#f00 93.5px,#f40000 106.5px,#fe0000 118.5px,#f10 123.5px,#ff5400 129.5px,#fcff03 142.5px,#6aff95 155.5px,#04fffb 162.5px,#005eff 173.5px,#0049ff 177.5px,#0007ff 266.5px,#0000f9 299.5px)"></i>
<i style="top:137px;background:linear-gradient(90deg,#004bff 0.5px,#0092ff 19.5px,#05fffa 35.5px,#87ff78 48.5px,#f1ff0e 62.5px,#fff500 64.5px,#ff7e00 73.5px,#ff2b00 82.5px,#ff0b00 93.5px,#fe0000 104.5px,#ff0600 117.5px,#ff1c00 123.5px,#ff6100 129.5px,#fdff02 141.5px,#67ff98 155.5px,#02fffd 162.5px,#005cff 173.5px,#0046ff 177.5px,#0004ff 266.5px,#0000f6 299.5px)"></i>
<i style="top:138px;background:linear-gradient(90deg,#0053ff 0.5px,#009aff 19.5px,#04fffb 34.5px,#90ff6f 48.5px,#fffd00 62.5px,#ff7300 72.5px,#ff1700 82.5px,#fe0000 89.5px,#e80000 102.5px,#ef0000 117.5px,#ff0200 122.5px,#ff2700 126.5px,#fffc00 141.5px,#70ff8f 155.5px,#00fbff 163.5px,#0063ff 173.5px,#004eff 176.5px,#000aff 265.5px,#0000fb 299.5px)"></i>
<i style="top:139px;background:linear-gradient(90deg,#0058ff 0.5px,#009fff 19.5px,#0ff 33.5px,#95ff6a 48.5px,#feff01 61.5px,#ff6800 72.5px,#ff0a00 83.5px,#f90000 88.5px,#df0000 102.5px,#e60000 117.5px,#f00 123.5px,#ff3c00 128.5px,#fffd00 141.5px,#75ff8a 155.5px,#0ff 163.5px,#0067ff 173.5px,#0051ff 176.5px,#000cff 264.5px,#0000fd 299.5px)"></i>
<i style="top:140px;background:linear-gradient(90deg,#0056ff 0.5px,#0096ff 18.5px,#00fcff 33.5px,#9f6 49.5px,#faff05 61.5px,#ffde00 64.5px,#ff7f00 71.5px,#ff1b00 83.5px,#fb0000 94.5px,#e00 105.5px,#f50000 117.5px,#ff0400 121.5px,#ff2500 125.5px,#ff0 140.5px,#70ff8f 155.5px,#00fcff 163.5px,#0064ff 173.5px,#004dff 176.5px,#0008ff 264.5px,#0000f9 299.5px)"></i>
<i style="top:141px;background:linear-gradient(90deg,#0058ff 0.5px,#09f 18.5px,#0ff 33.5px,#94ff6b 48.5px,#fffe00 61.5px,#ff7b00 71.5px,#ff1b00 83.5px,#fb0000 93.5px,#eb0000 104.5px,#f20000 117.5px,#ff0700 122.5px,#ff2e00 126.5px,#ff0 140.5px,#74ff8b 155.5px,#02fffd 163.5px,#005cff 174.5px,#0049ff 178.5px,#0008ff 266.5px,#0000f9 299.5px)"></i>
<i style="top:142px;background:linear-gradient(90deg,#0056ff 0.5px,#0097ff 18.5px,#00feff 33.5px,#92ff6d 48.5px,#fdff02 61.5px,#ff8400 71.5px,#ff2500 83.5px,#fb0000 98.5px,#f70000 116.5px,#ff0700 121.5px,#ff2b00 126.5px,#fffe00 141.5px,#71ff8e 156.5px,#00fcff 164.5px,#0062ff 174.5px,#004aff 177.5px,#0006ff 263.5px,#0000f6 299.5px)"></i>
<i style="top:143px;background:linear-gradient(90deg,#0057ff 0.5px,#0098ff 18.5px,#03fffc 33.5px,#95ff6a 48.5px,#fffd00 61.5px,#ff7f00 71.5px,#ff2400 82.5px,#fb0000 96.5px,#e00 107.5px,#f60000 120.5px,#ff0800 124.5px,#ff3100 129.5px,#fffd00 144.5px,#72ff8d 158.5px,#09fff6 165.5px,#00e8ff 167.5px,#0068ff 175.5px,#004dff 178.5px,#001eff 228.5px,#00f 279.5px,#0000f7 299.5px)"></i>
<i style="top:144px;background:linear-gradient(90deg,#0056ff 0.5px,#0098ff 18.5px,#00fbff 32.5px,#96ff69 48.5px,#fffc00 61.5px,#ff8000 71.5px,#ff2a00 81.5px,#ff0100 95.5px,#e00 107.5px,#f30000 121.5px,#ff0800 126.5px,#ff3800 132.5px,#fffa00 147.5px,#74ff8b 160.5px,#06fff9 167.5px,#009eff 173.5px,#0061ff 177.5px,#0049ff 180.5px,#0006ff 263.5px,#0000f6 299.5px)"></i>
<i style="top:145px;background:linear-gradient(90deg,#005eff 0.5px,#00a2ff 18.5px,#0ff 31.5px,#9bff64 47.5px,#feff01 59.5px,#ff5800 72.5px,#ff0900 81.5px,#f70000 86.5px,#cd0000 106.5px,#d20000 123.5px,#ff0200 132.5px,#ff7100 142.5px,#fdff02 152.5px,#73ff8c 163.5px,#00faff 170.5px,#006fff 178.5px,#0053ff 181.5px,#0010ff 255.5px,#0000fd 299.5px)"></i>
<i style="top:146px;background:linear-gradient(90deg,#005eff 0.5px,#009dff 17.5px,#04fffb 31.5px,#9eff61 47.5px,#fffe00 59.5px,#f50 72.5px,#ff0a00 80.5px,#fa0000 84.5px,#c80000 107.5px,#ce0000 125.5px,#fd0000 134.5px,#ff5b00 143.5px,#fcff03 155.5px,#73ff8c 165.5px,#08fff7 171.5px,#00e1ff 173.5px,#0067ff 180.5px,#0050ff 183.5px,#000dff 262.5px,#0000fd 299.5px)"></i>
<i style="top:147px;background:linear-gradient(90deg,#005bff 0.5px,#009aff 17.5px,#03fffc 31.5px,#9aff65 47.5px,#fffa00 60.5px,#ff5900 73.5px,#ff1800 80.5px,#fd0000 88.5px,#d20000 109.5px,#d50000 126.5px,#fe0000 134.5px,#ff4a00 142.5px,#ffb700 151.5px,#fffc00 156.5px,#76ff89 166.5px,#08fff7 172.5px,#00e2ff 174.5px,#0065ff 181.5px,#004dff 184.5px,#000aff 262.5px,#0000fa 299.5px)"></i>
<i style="top:148px;background:linear-gradient(90deg,#005aff 0.5px,#009aff 17.5px,#00fcff 30.5px,#a0ff5f 48.5px,#fffe00 60.5px,#ff5700 74.5px,#ff1900 81.5px,#fb0000 91.5px,#d10000 111.5px,#d20000 127.5px,#ff0200 135.5px,#ff7300 146.5px,#fffe00 157.5px,#73ff8c 167.5px,#05fffa 173.5px,#0062ff 182.5px,#004cff 185.5px,#0009ff 262.5px,#0000f9 299.5px)"></i>
<i style="top:149px;background:linear-gradient(90deg,#0062ff 0.5px,#00a4ff 17.5px,#02fffd 29.5px,#a3ff5c 47.5px,#fffc00 59.5px,#ff4100 74.5px,#f00 81.5px,#d90000 93.5px,#ae0000 113.5px,#ac0000 127.5px,#d00 135.5px,#ff0300 139.5px,#ffbd00 154.5px,#fdff02 159.5px,#67ff98 169.5px,#09fff6 174.5px,#00e2ff 176.5px,#0076ff 182.5px,#0057ff 185.5px,#0025ff 233.5px,#000aff 278.5px,#0001ff 299.5px)"></i>
<i style="top:150px;background:linear-gradient(90deg,#0063ff 0.5px,#009fff 16.5px,#00fdff 28.5px,#b2ff4d 49.5px,#fffe00 59.5px,#ff3c00 75.5px,#fc0000 82.5px,#cd0000 98.5px,#a90000 115.5px,#a50000 128.5px,#d40000 135.5px,#fa0000 139.5px,#ff5e00 147.5px,#fff700 159.5px,#ecff13 161.5px,#75ff8a 169.5px,#05fffa 175.5px,#0073ff 183.5px,#0057ff 186.5px,#0012ff 260.5px,#0002ff 299.5px)"></i>
<i style="top:151px;background:linear-gradient(90deg,#0058ff 0.5px,#0096ff 16.5px,#00fdff 29.5px,#a4ff5b 49.5px,#feff01 61.5px,#ff5300 77.5px,#ff1b00 84.5px,#fb0000 95.5px,#ca0000 117.5px,#c50000 129.5px,#ff0400 137.5px,#ffcb00 154.5px,#fdff02 159.5px,#74ff8b 169.5px,#06fff9 175.5px,#00bcff 179.5px,#06f 184.5px,#004cff 187.5px,#0008ff 260.5px,#0000f8 299.5px)"></i>
<i style="top:152px;background:linear-gradient(90deg,#0060ff 0.5px,#009fff 16.5px,#01fffe 28.5px,#adff52 49.5px,#ff0 60.5px,#ff3f00 77.5px,#ff0300 84.5px,#a90000 118.5px,#a00000 129.5px,#c00000 134.5px,#f00 140.5px,#ff9a00 152.5px,#fdff02 161.5px,#7aff85 170.5px,#0bfff4 176.5px,#00f7ff 177.5px,#006bff 185.5px,#0053ff 188.5px,#0010ff 260.5px,#00f 299.5px)"></i>
<i style="top:153px;background:linear-gradient(90deg,#0065ff 0.5px,#00a2ff 16.5px,#04fffb 28.5px,#b3ff4c 50.5px,#fdff02 60.5px,#ffbf00 66.5px,#ff4500 76.5px,#ff0300 83.5px,#db0000 92.5px,#940000 120.5px,#8e0000 131.5px,#b40000 136.5px,#f90000 142.5px,#ff3400 146.5px,#ffa700 155.5px,#fffc00 162.5px,#7aff85 171.5px,#0afff5 177.5px,#00e4ff 179.5px,#006dff 186.5px,#0056ff 189.5px,#0013ff 260.5px,#0003ff 299.5px)"></i>
<i style="top:154px;background:linear-gradient(90deg,#0060ff 0.5px,#009fff 17.5px,#05fffa 30.5px,#c1ff3e 55.5px,#fdff02 63.5px,#ff8d00 73.5px,#ff1400 85.5px,#fb0000 90.5px,#a70000 121.5px,#a00000 132.5px,#b80000 136.5px,#f80000 142.5px,#ff1400 144.5px,#ff9300 153.5px,#fffc00 162.5px,#8fff70 170.5px,#00faff 178.5px,#0071ff 186.5px,#0053ff 189.5px,#0028ff 227.5px,#000aff 267.5px,#0000fc 299.5px)"></i>
<i style="top:155px;background:linear-gradient(90deg,#005cff 0.5px,#009dff 18.5px,#00feff 31.5px,#fdff02 66.5px,#ff3000 85.5px,#ff0e00 91.5px,#f80000 98.5px,#b50000 122.5px,#ae0000 134.5px,#d10000 139.5px,#fd0000 143.5px,#ff5300 149.5px,#ffb200 156.5px,#faff05 163.5px,#73ff8c 172.5px,#01fffe 178.5px,#0068ff 187.5px,#004dff 190.5px,#0009ff 259.5px,#0000f8 299.5px)"></i>
<i style="top:156px;background:linear-gradient(90deg,#0063ff 0.5px,#00a0ff 18.5px,#04fffb 32.5px,#feff01 67.5px,#ff2100 86.5px,#f00 91.5px,#9e0000 122.5px,#970000 136.5px,#bd0000 141.5px,#ff0400 147.5px,#ffab00 158.5px,#fff900 164.5px,#d8ff27 167.5px,#4effb1 175.5px,#0ff 179.5px,#006aff 188.5px,#0051ff 191.5px,#000dff 259.5px,#0000fc 299.5px)"></i>
<i style="top:157px;background:linear-gradient(90deg,#0062ff 0.5px,#00a1ff 19.5px,#02fffd 33.5px,#fcff03 69.5px,#ffba00 75.5px,#ff2000 88.5px,#fe0000 94.5px,#9f0000 123.5px,#970000 137.5px,#ae0000 141.5px,#fb0000 148.5px,#ff3a00 152.5px,#fa0 159.5px,#fffc00 165.5px,#7fff80 173.5px,#09fff6 179.5px,#00e4ff 181.5px,#06f 189.5px,#004eff 192.5px,#000bff 259.5px,#0000fa 299.5px)"></i>
<i style="top:158px;background:linear-gradient(90deg,#0060ff 0.5px,#00a0ff 20.5px,#04fffb 35.5px,#f6ff09 71.5px,#fff300 73.5px,#ff2600 90.5px,#fd0000 99.5px,#a80000 124.5px,#a20000 139.5px,#ba0000 143.5px,#fc0000 149.5px,#ff3700 153.5px,#ffae00 160.5px,#fbff04 166.5px,#75ff8a 174.5px,#00fcff 180.5px,#006bff 189.5px,#004eff 192.5px,#0034ff 211.5px,#0007ff 261.5px,#0000f7 299.5px)"></i>
<i style="top:159px;background:linear-gradient(90deg,#0061ff 0.5px,#00a4ff 21.5px,#03fffc 36.5px,#efff10 72.5px,#fffc00 74.5px,#ff2900 91.5px,#f00 100.5px,#a70000 125.5px,#a20000 141.5px,#bc0000 145.5px,#ff0200 151.5px,#ff5400 156.5px,#ffca00 163.5px,#fff700 166.5px,#e8ff17 168.5px,#57ffa8 176.5px,#06fff9 180.5px,#00c0ff 184.5px,#005aff 191.5px,#0045ff 195.5px,#0007ff 260.5px,#0000f6 299.5px)"></i>
<i style="top:160px;background:linear-gradient(90deg,#006bff 0.5px,#00abff 21.5px,#0ff 35.5px,#ef1 72.5px,#fffe00 74.5px,#ff1b00 91.5px,#fd0000 95.5px,#8b0000 126.5px,#800 143.5px,#a70000 147.5px,#ff0100 154.5px,#fe0 167.5px,#ff0 168.5px,#40ffbf 178.5px,#03fffc 181.5px,#06f 191.5px,#004cff 195.5px,#000dff 259.5px,#0000fc 299.5px)"></i>
<i style="top:161px;background:linear-gradient(90deg,#0070ff 0.5px,#00adff 21.5px,#04fffb 36.5px,#cbff34 68.5px,#fffe00 75.5px,#ff9e00 82.5px,#ff1500 92.5px,#fd0000 95.5px,#850000 126.5px,#830000 145.5px,#b30000 150.5px,#f70000 155.5px,#ff1b00 157.5px,#fff200 168.5px,#f9ff06 169.5px,#0dfff2 181.5px,#00f9ff 182.5px,#006dff 191.5px,#0053ff 194.5px,#000fff 258.5px,#0000fd 299.5px)"></i>
<i style="top:162px;background:linear-gradient(90deg,#006fff 0.5px,#00aeff 22.5px,#01fffe 37.5px,#aeff51 66.5px,#ff0 77.5px,#ff2300 93.5px,#ff0100 98.5px,#920000 127.5px,#8d0000 146.5px,#ae0000 150.5px,#ff0100 156.5px,#feff01 169.5px,#00fcff 182.5px,#0063ff 192.5px,#004aff 196.5px,#000bff 259.5px,#0000fa 299.5px)"></i>
<i style="top:163px;background:linear-gradient(90deg,#0073ff 0.5px,#00afff 22.5px,#04fffb 38.5px,#9dff62 65.5px,#fcff03 78.5px,#ffce00 82.5px,#ff2100 94.5px,#fe0000 99.5px,#8f0000 127.5px,#800 147.5px,#a60000 151.5px,#fa0000 157.5px,#ff1f00 159.5px,#fff300 169.5px,#f7ff08 170.5px,#05fffa 182.5px,#0069ff 192.5px,#004fff 195.5px,#000cff 258.5px,#0000fa 299.5px)"></i>
<i style="top:164px;background:linear-gradient(90deg,#0073ff 0.5px,#00adff 22.5px,#02fffd 39.5px,#96ff69 66.5px,#f3ff0c 79.5px,#feff01 80.5px,#ff2a00 95.5px,#ff0800 100.5px,#f20000 105.5px,#970000 128.5px,#8f0000 148.5px,#a90000 152.5px,#f00 158.5px,#ff7b00 164.5px,#ff0 170.5px,#0afff5 182.5px,#00e5ff 184.5px,#0060ff 193.5px,#0048ff 197.5px,#0009ff 259.5px,#0000f8 299.5px)"></i>
<i style="top:165px;background:linear-gradient(90deg,#007aff 0.5px,#00b7ff 23.5px,#04fffb 39.5px,#9f6 67.5px,#fffb00 81.5px,#ff2500 95.5px,#ff0100 99.5px,#860000 128.5px,#800000 150.5px,#950000 153.5px,#f00 160.5px,#ff8700 166.5px,#fdff02 171.5px,#03fffc 183.5px,#0069ff 193.5px,#0050ff 196.5px,#000eff 258.5px,#0000fc 299.5px)"></i>
<i style="top:166px;background:linear-gradient(90deg,#007bff 0.5px,#00b7ff 23.5px,#05fffa 40.5px,#90ff6f 67.5px,#fffb00 82.5px,#ff3400 95.5px,#ff0a00 99.5px,#f40000 103.5px,#800 129.5px,#820000 151.5px,#9b0000 154.5px,#f70000 160.5px,#ff0b00 161.5px,#ffb100 168.5px,#fffb00 171.5px,#07fff8 183.5px,#00d3ff 186.5px,#0060ff 194.5px,#004bff 198.5px,#000dff 259.5px,#0000fb 299.5px)"></i>
<i style="top:167px;background:linear-gradient(90deg,#007bff 0.5px,#00b6ff 23.5px,#05fffa 41.5px,#8dff72 68.5px,#fffe00 83.5px,#ff4700 95.5px,#ff1000 100.5px,#fa0000 104.5px,#8f0000 130.5px,#870000 151.5px,#9b0000 154.5px,#f40000 160.5px,#ff0800 161.5px,#ff9400 167.5px,#fff900 171.5px,#b0ff4f 175.5px,#0afff5 183.5px,#00e5ff 185.5px,#0062ff 194.5px,#0049ff 198.5px,#000bff 259.5px,#0000fa 299.5px)"></i>
<i style="top:168px;background:linear-gradient(90deg,#007eff 0.5px,#00bcff 24.5px,#04fffb 41.5px,#8eff71 69.5px,#fffa00 84.5px,#ff4e00 95.5px,#ff1300 100.5px,#fa0000 104.5px,#890000 131.5px,#830000 152.5px,#9b0000 155.5px,#f90000 161.5px,#ff2300 163.5px,#ffef00 171.5px,#f7ff08 172.5px,#00fdff 184.5px,#06f 194.5px,#004bff 198.5px,#000dff 258.5px,#0000fb 299.5px)"></i>
<i style="top:169px;background:linear-gradient(90deg,#0083ff 0.5px,#00c1ff 24.5px,#06fff9 41.5px,#93ff6c 70.5px,#fffe00 84.5px,#ffbf00 88.5px,#ff5900 94.5px,#ff0400 101.5px,#800000 130.5px,#800000 154.5px,#a00000 157.5px,#f40000 162.5px,#ff0b00 163.5px,#ff8c00 168.5px,#fffa00 172.5px,#07fff8 184.5px,#00d4ff 187.5px,#0062ff 195.5px,#004eff 199.5px,#0010ff 259.5px,#0000fe 299.5px)"></i>
<i style="top:170px;background:linear-gradient(90deg,#0085ff 0.5px,#00c6ff 25.5px,#04fffb 41.5px,#93ff6c 71.5px,#fffc00 85.5px,#fb0 89.5px,#ff6200 94.5px,#ff0200 102.5px,#800000 131.5px,#800000 155.5px,#c50000 160.5px,#fd0000 163.5px,#ff6300 167.5px,#fff200 172.5px,#f3ff0c 173.5px,#0cfff3 184.5px,#00f9ff 185.5px,#0065ff 195.5px,#004fff 199.5px,#0010ff 259.5px,#00f 299.5px)"></i>
<i style="top:171px;background:linear-gradient(90deg,#0085ff 0.5px,#00c9ff 26.5px,#04fffb 42.5px,#90ff6f 72.5px,#fffd00 86.5px,#ffa700 91.5px,#ff5700 96.5px,#ff0700 103.5px,#f40000 106.5px,#800000 133.5px,#800000 155.5px,#b30000 159.5px,#fa0000 163.5px,#ff2900 165.5px,#fe0 172.5px,#f7ff08 173.5px,#0ffff0 184.5px,#00fcff 185.5px,#0067ff 195.5px,#004eff 199.5px,#000fff 258.5px,#0000fd 299.5px)"></i>
<i style="top:172px;background:linear-gradient(90deg,#0084ff 0.5px,#00c7ff 26.5px,#05fffa 43.5px,#89ff76 72.5px,#fffd00 87.5px,#f60 96.5px,#ff0d00 104.5px,#fa0000 107.5px,#890000 134.5px,#840000 154.5px,#9d0000 157.5px,#fe0000 163.5px,#ff6100 167.5px,#ffef00 172.5px,#f6ff09 173.5px,#0ffff0 184.5px,#00fcff 185.5px,#06f 195.5px,#004cff 199.5px,#000dff 258.5px,#0000fc 299.5px)"></i>
<i style="top:173px;background:linear-gradient(90deg,#0086ff 0.5px,#00c9ff 26.5px,#03fffc 42.5px,#89ff76 72.5px,#fcff03 87.5px,#ffd400 90.5px,#ff6d00 96.5px,#ff1200 104.5px,#f90000 108.5px,#900000 134.5px,#8a0000 153.5px,#9d0000 156.5px,#f40000 162.5px,#ff0800 163.5px,#ff8600 168.5px,#fff300 172.5px,#f3ff0c 173.5px,#0dfff2 184.5px,#00faff 185.5px,#0065ff 195.5px,#004cff 199.5px,#000dff 258.5px,#0000fc 299.5px)"></i>
<i style="top:174px;background:linear-gradient(90deg,#008aff 0.5px,#0cf 26.5px,#03fffc 41.5px,#8dff72 72.5px,#fcff03 87.5px,#ffd700 90.5px,#ff6e00 96.5px,#ff0900 105.5px,#f20000 109.5px,#940000 133.5px,#8e0000 153.5px,#b10000 157.5px,#fa0000 162.5px,#ff2500 164.5px,#fff500 172.5px,#f2ff0d 173.5px,#0cfff3 184.5px,#00f9ff 185.5px,#0065ff 195.5px,#004dff 199.5px,#000fff 258.5px,#0000fd 299.5px)"></i>
<i style="top:175px;background:linear-gradient(90deg,#008bff 0.5px,#00c9ff 25.5px,#02fffd 40.5px,#8fff70 72.5px,#fffa00 88.5px,#ff6700 97.5px,#ff0e00 105.5px,#fa0000 108.5px,#9d0000 133.5px,#970000 152.5px,#b40000 156.5px,#f50000 161.5px,#ff0700 162.5px,#ff9700 168.5px,#fffa00 172.5px,#09fff6 184.5px,#00e5ff 186.5px,#0063ff 195.5px,#004cff 199.5px,#000eff 259.5px,#0000fd 299.5px)"></i>
<i style="top:176px;background:linear-gradient(90deg,#008dff 0.5px,#00caff 25.5px,#06fff9 40.5px,#90ff6f 72.5px,#fffe00 88.5px,#ffad00 93.5px,#ff6100 98.5px,#ff0a00 106.5px,#f90000 109.5px,#a50000 133.5px,#9f0000 151.5px,#b70000 155.5px,#ff0100 161.5px,#ff7000 166.5px,#fffe00 172.5px,#06fff9 184.5px,#00a5ff 190.5px,#0061ff 195.5px,#004cff 199.5px,#000eff 259.5px,#0000fd 299.5px)"></i>
<i style="top:177px;background:linear-gradient(90deg,#0087ff 0.5px,#00beff 24.5px,#02fffd 40.5px,#90ff6f 72.5px,#f0ff0f 87.5px,#fff800 89.5px,#ff8200 97.5px,#ff2500 106.5px,#fe0000 116.5px,#ce0000 133.5px,#d80000 143.5px,#f10000 152.5px,#ff0100 154.5px,#ff4100 160.5px,#ff8900 164.5px,#fff400 169.5px,#f4ff0b 170.5px,#02fffd 182.5px,#00b0ff 187.5px,#05f 195.5px,#0042ff 200.5px,#0008ff 260.5px,#0000f7 299.5px)"></i>
<i style="top:178px;background:linear-gradient(90deg,#007eff 0.5px,#00b4ff 24.5px,#02fffd 41.5px,#8dff72 69.5px,#e5ff1a 84.5px,#fffa00 87.5px,#ff9500 95.5px,#ff3b00 106.5px,#ff0400 134.5px,#ff1200 138.5px,#ffb300 154.5px,#fbff04 161.5px,#b8ff47 166.5px,#08fff7 175.5px,#00e5ff 177.5px,#0076ff 184.5px,#0059ff 188.5px,#0039ff 199.5px,#0003ff 262.5px,#0000f3 299.5px)"></i>
<i style="top:179px;background:linear-gradient(90deg,#0084ff 0.5px,#00bfff 25.5px,#01fffe 38.5px,#98ff67 66.5px,#fffe00 82.5px,#ffb700 87.5px,#ff7000 92.5px,#ff1200 104.5px,#fd0000 114.5px,#e40000 134.5px,#f00 138.5px,#ff8c00 149.5px,#fcff03 157.5px,#a0ff5f 165.5px,#2dffd2 171.5px,#05fffa 173.5px,#06f 183.5px,#004eff 187.5px,#000eff 262.5px,#0000fe 299.5px)"></i>
<i style="top:180px;background:linear-gradient(90deg,#0083ff 0.5px,#00c2ff 26.5px,#03fffc 38.5px,#b3ff4c 68.5px,#fffb00 79.5px,#ffc700 83.5px,#ff6400 89.5px,#ff1f00 97.5px,#fb0000 102.5px,#e30000 114.5px,#d00000 133.5px,#ec0000 137.5px,#ff0400 139.5px,#f70 148.5px,#fff600 156.5px,#ef1 158.5px,#af5 164.5px,#35ffca 170.5px,#00f9ff 173.5px,#006dff 182.5px,#05f 186.5px,#0014ff 262.5px,#0005ff 299.5px)"></i>
<i style="top:181px;background:linear-gradient(90deg,#0075ff 0.5px,#00b5ff 27.5px,#03fffc 41.5px,#af5 67.5px,#fffb00 78.5px,#ff7600 87.5px,#ff1a00 99.5px,#ff0500 105.5px,#e90000 131.5px,#f00 135.5px,#ff7e00 146.5px,#fcff03 155.5px,#a2ff5d 163.5px,#2effd1 169.5px,#06fff9 171.5px,#0073ff 180.5px,#0056ff 183.5px,#003eff 203.5px,#000eff 264.5px,#0000fe 299.5px)"></i>
<i style="top:182px;background:linear-gradient(90deg,#0068ff 0.5px,#00abff 28.5px,#01fffe 43.5px,#a2ff5d 66.5px,#fffa00 77.5px,#ff8400 85.5px,#ff1d00 100.5px,#fc0000 129.5px,#ff0700 132.5px,#ff7600 143.5px,#fffe00 153.5px,#9bff64 162.5px,#28ffd7 168.5px,#0ff 170.5px,#006fff 179.5px,#0052ff 182.5px,#003bff 201.5px,#0009ff 265.5px,#0000fa 299.5px)"></i>
<i style="top:183px;background:linear-gradient(90deg,#0062ff 0.5px,#00a2ff 28.5px,#0ff 44.5px,#acff53 67.5px,#feff01 76.5px,#f80 84.5px,#ff2800 98.5px,#ff1600 106.5px,#ff0400 129.5px,#ff1e00 133.5px,#ffa300 145.5px,#fbff04 152.5px,#98ff67 161.5px,#00fdff 169.5px,#006fff 178.5px,#0052ff 181.5px,#0040ff 194.5px,#0009ff 265.5px,#0000fa 299.5px)"></i>
<i style="top:184px;background:linear-gradient(90deg,#005fff 0.5px,#00a3ff 29.5px,#04fffb 45.5px,#cbff34 71.5px,#faff05 76.5px,#ffe900 78.5px,#ff8d00 84.5px,#ff5800 91.5px,#ff1d00 101.5px,#ff0500 128.5px,#ff1f00 132.5px,#ffa800 144.5px,#fff900 150.5px,#cf3 155.5px,#a3ff5c 159.5px,#4bffb4 164.5px,#00fbff 168.5px,#0065ff 178.5px,#004bff 182.5px,#000aff 263.5px,#0000fa 299.5px)"></i>
<i style="top:185px;background:linear-gradient(90deg,#005bff 0.5px,#009fff 29.5px,#02fffd 45.5px,#e7ff18 75.5px,#fcff03 77.5px,#ffb700 82.5px,#ff8300 86.5px,#ff2400 101.5px,#ff0a00 127.5px,#ff2400 131.5px,#ffd800 146.5px,#ff0 149.5px,#9fff60 158.5px,#0afff5 166.5px,#00f8ff 167.5px,#0067ff 177.5px,#004bff 181.5px,#0009ff 263.5px,#0000f9 299.5px)"></i>
<i style="top:186px;background:linear-gradient(90deg,#0054ff 0.5px,#09f 29.5px,#04fffb 46.5px,#ef1 77.5px,#fff900 79.5px,#ff9600 86.5px,#ff3500 101.5px,#ff2100 113.5px,#ff1800 126.5px,#f30 130.5px,#fffe00 147.5px,#97ff68 157.5px,#03fffc 165.5px,#005bff 177.5px,#0046ff 181.5px,#0005ff 264.5px,#0000f6 299.5px)"></i>
<i style="top:187px;background:linear-gradient(90deg,#0052ff 0.5px,#0096ff 29.5px,#03fffc 46.5px,#f2ff0d 78.5px,#fdff02 79.5px,#ff9300 87.5px,#ff2f00 103.5px,#ff1800 125.5px,#ff3400 129.5px,#fcff03 146.5px,#a2ff5d 155.5px,#25ffda 162.5px,#01fffe 164.5px,#0068ff 175.5px,#0049ff 179.5px,#0006ff 263.5px,#0000f6 299.5px)"></i>
<i style="top:188px;background:linear-gradient(90deg,#0050ff 0.5px,#09f 30.5px,#02fffd 46.5px,#f6ff09 79.5px,#fffc00 80.5px,#ff8f00 88.5px,#ff2d00 104.5px,#ff1800 124.5px,#ff2900 127.5px,#fffa00 144.5px,#a0ff5f 154.5px,#00feff 163.5px,#006bff 174.5px,#004bff 178.5px,#0006ff 263.5px,#0000f7 299.5px)"></i>
<i style="top:189px;background:linear-gradient(90deg,#0050ff 0.5px,#009bff 30.5px,#00feff 45.5px,#fffc00 80.5px,#ff8900 88.5px,#ff4500 98.5px,#ff1d00 106.5px,#ff0c00 123.5px,#ff1c00 126.5px,#ffeb00 142.5px,#fcff03 144.5px,#a4ff5b 153.5px,#02fffd 162.5px,#005cff 175.5px,#004aff 179.5px,#0009ff 265.5px,#0000fa 299.5px)"></i>
<i style="top:190px;background:linear-gradient(90deg,#004fff 0.5px,#009bff 30.5px,#01fffe 45.5px,#f9ff06 79.5px,#ffed00 81.5px,#ff8700 88.5px,#f40 98.5px,#ff1900 107.5px,#ff0c00 123.5px,#f20 126.5px,#fd0 140.5px,#feff01 143.5px,#a9ff56 152.5px,#07fff8 161.5px,#00dbff 164.5px,#0061ff 174.5px,#004bff 178.5px,#0009ff 265.5px,#0000fa 299.5px)"></i>
<i style="top:191px;background:linear-gradient(90deg,#004fff 0.5px,#0098ff 29.5px,#00feff 44.5px,#fffa00 79.5px,#ff7c00 88.5px,#ff1c00 104.5px,#ff0400 121.5px,#ff0d00 124.5px,#ff4b00 129.5px,#fff800 142.5px,#e7ff18 145.5px,#b4ff4b 151.5px,#60ff9f 156.5px,#04fffb 161.5px,#005eff 174.5px,#004cff 178.5px,#000aff 266.5px,#0000fc 299.5px)"></i>
<i style="top:192px;background:linear-gradient(90deg,#004eff 0.5px,#09f 29.5px,#03fffc 44.5px,#fffc00 78.5px,#ff7e00 87.5px,#ff1f00 103.5px,#ff0a00 115.5px,#ff0600 122.5px,#ff1a00 125.5px,#fffd00 142.5px,#b1ff4e 151.5px,#5cffa3 156.5px,#0ff 161.5px,#0064ff 173.5px,#004dff 177.5px,#000aff 265.5px,#0000fc 299.5px)"></i>
<i style="top:193px;background:linear-gradient(90deg,#004fff 0.5px,#009dff 29.5px,#03fffc 43.5px,#fbff04 76.5px,#ffde00 79.5px,#ff8200 85.5px,#ff5a00 90.5px,#ff0c00 105.5px,#fa0000 121.5px,#ff0a00 124.5px,#fffd00 142.5px,#b2ff4d 151.5px,#5cffa3 156.5px,#00feff 161.5px,#0063ff 173.5px,#004fff 177.5px,#000cff 266.5px,#0000fe 299.5px)"></i>
<i style="top:194px;background:linear-gradient(90deg,#004fff 0.5px,#009fff 29.5px,#0ff 42.5px,#cdff32 69.5px,#fbff04 75.5px,#ffde00 78.5px,#ff7500 85.5px,#ff3d00 94.5px,#ff0700 105.5px,#fa0000 122.5px,#ff0900 124.5px,#ffbe00 137.5px,#fdff02 142.5px,#d3ff2c 147.5px,#b1ff4e 151.5px,#5affa5 156.5px,#0dfff2 160.5px,#00fbff 161.5px,#006bff 172.5px,#0051ff 176.5px,#000eff 265.5px,#00f 299.5px)"></i>
<i style="top:195px;background:linear-gradient(90deg,#004fff 0.5px,#00a2ff 29.5px,#00fdff 41.5px,#d5ff2a 69.5px,#fcff03 74.5px,#ffde00 77.5px,#ff7200 84.5px,#ff4500 91.5px,#ff0400 104.5px,#f20000 121.5px,#ff0700 124.5px,#ffa100 135.5px,#fff800 141.5px,#e7ff18 144.5px,#bcff43 150.5px,#7fff80 154.5px,#0afff5 160.5px,#00e9ff 162.5px,#0068ff 172.5px,#0052ff 176.5px,#000fff 266.5px,#0001ff 299.5px)"></i>
<i style="top:196px;background:linear-gradient(90deg,#0042ff 0.5px,#0091ff 28.5px,#04fffb 43.5px,#adff52 65.5px,#fffa00 76.5px,#ff9b00 83.5px,#ff6c00 91.5px,#ff2e00 104.5px,#ff2000 121.5px,#ff4200 125.5px,#fffb00 139.5px,#caff35 145.5px,#a9ff56 150.5px,#6cff93 154.5px,#09fff6 159.5px,#00e6ff 161.5px,#0058ff 172.5px,#0045ff 176.5px,#0003ff 267.5px,#0000f6 299.5px)"></i>
<i style="top:197px;background:linear-gradient(90deg,#0042ff 0.5px,#0093ff 28.5px,#01fffe 42.5px,#a6ff59 63.5px,#fffb00 75.5px,#f90 82.5px,#ff7300 88.5px,#ff2800 104.5px,#ff1800 120.5px,#ff2900 123.5px,#ffc600 135.5px,#fffd00 139.5px,#d0ff2f 144.5px,#b4ff4b 149.5px,#7dff82 153.5px,#07fff8 159.5px,#00d6ff 162.5px,#0057ff 172.5px,#0045ff 177.5px,#0005ff 267.5px,#0000f7 299.5px)"></i>
<i style="top:198px;background:linear-gradient(90deg,#004bff 0.5px,#009dff 28.5px,#04fffb 41.5px,#a1ff5e 60.5px,#feff01 73.5px,#ffca00 77.5px,#ff7b00 82.5px,#ff5600 87.5px,#ff0400 104.5px,#f30000 120.5px,#ff0600 123.5px,#ff7e00 132.5px,#fffa00 140.5px,#daff25 145.5px,#c2ff3d 149.5px,#89ff76 153.5px,#00feff 160.5px,#0069ff 171.5px,#0052ff 175.5px,#000eff 266.5px,#0001ff 299.5px)"></i>
<i style="top:199px;background:linear-gradient(90deg,#004eff 0.5px,#00a6ff 29.5px,#0ff 40.5px,#a2ff5d 59.5px,#fffb00 73.5px,#ffc600 77.5px,#ff7000 82.5px,#ff4c00 86.5px,#fa0000 102.5px,#e30000 116.5px,#e50000 121.5px,#f00 124.5px,#ff6f00 132.5px,#fff200 140.5px,#ff0 141.5px,#e2ff1d 145.5px,#c9ff36 149.5px,#8dff72 153.5px,#02fffd 160.5px,#006cff 171.5px,#0056ff 175.5px,#0013ff 266.5px,#0005ff 299.5px)"></i>
<i style="top:200px;background:linear-gradient(90deg,#04f 0.5px,#009bff 29.5px,#05fffa 42.5px,#91ff6e 58.5px,#fffa00 75.5px,#ff8300 83.5px,#ff5d00 89.5px,#f10 105.5px,#ff0200 120.5px,#ff1400 123.5px,#ff8b00 132.5px,#fff700 139.5px,#efff10 141.5px,#d5ff2a 145.5px,#beff41 149.5px,#80ff7f 153.5px,#07fff8 159.5px,#00c9ff 163.5px,#0062ff 171.5px,#004dff 175.5px,#000bff 267.5px,#0000fd 299.5px)"></i>
<i style="top:201px;background:linear-gradient(90deg,#0040ff 0.5px,#0097ff 29.5px,#00feff 42.5px,#87ff78 57.5px,#f9ff06 75.5px,#ffed00 77.5px,#ff9100 83.5px,#ff6d00 88.5px,#ff1b00 106.5px,#ff0c00 120.5px,#ff1e00 123.5px,#ffa500 133.5px,#fffe00 139.5px,#d9ff26 143.5px,#c4ff3b 148.5px,#8cff73 152.5px,#01fffe 159.5px,#0068ff 170.5px,#004cff 174.5px,#0008ff 266.5px,#0000fa 299.5px)"></i>
<i style="top:202px;background:linear-gradient(90deg,#0040ff 0.5px,#0097ff 29.5px,#00feff 42.5px,#8bff74 57.5px,#fffc00 76.5px,#ff8600 84.5px,#ff6100 90.5px,#ff1500 107.5px,#ff0700 120.5px,#ff1a00 123.5px,#ff9300 132.5px,#fffd00 139.5px,#dbff24 143.5px,#c6ff39 148.5px,#8dff72 152.5px,#0ff 159.5px,#0068ff 170.5px,#004dff 174.5px,#000aff 266.5px,#0000fb 299.5px)"></i>
<i style="top:203px;background:linear-gradient(90deg,#0042ff 0.5px,#009eff 30.5px,#01fffe 42.5px,#8aff75 56.5px,#fffa00 76.5px,#ffbf00 80.5px,#ff7e00 84.5px,#ff5b00 89.5px,#ff0800 107.5px,#fc0000 121.5px,#ff1800 124.5px,#f90 133.5px,#fff800 139.5px,#e7ff18 142.5px,#cf3 148.5px,#90ff6f 152.5px,#02fffd 159.5px,#006bff 170.5px,#0051ff 174.5px,#000dff 266.5px,#00f 299.5px)"></i>
<i style="top:204px;background:linear-gradient(90deg,#003eff 0.5px,#009aff 30.5px,#05fffa 43.5px,#80ff7f 55.5px,#fbff04 76.5px,#ffec00 78.5px,#ff8c00 84.5px,#ff6c00 88.5px,#ff1200 108.5px,#ff0600 120.5px,#ff1800 123.5px,#ff9300 132.5px,#ff0 139.5px,#dcff23 143.5px,#c8ff37 148.5px,#8aff75 152.5px,#0efff1 158.5px,#00fcff 159.5px,#06f 170.5px,#004eff 174.5px,#000aff 267.5px,#0000fc 299.5px)"></i>
<i style="top:205px;background:linear-gradient(90deg,#003dff 0.5px,#09f 30.5px,#04fffb 43.5px,#81ff7e 55.5px,#fbff04 76.5px,#ffec00 78.5px,#ff8b00 84.5px,#ff6a00 88.5px,#f10 108.5px,#ff0400 120.5px,#ff1700 123.5px,#ff9400 132.5px,#fdff02 139.5px,#dcff23 143.5px,#d1ff2e 147.5px,#adff52 150.5px,#0efff1 158.5px,#00fbff 159.5px,#06f 170.5px,#004eff 174.5px,#000aff 267.5px,#0000fc 299.5px)"></i>
<i style="top:206px;background:linear-gradient(90deg,#0039ff 0.5px,#0094ff 30.5px,#00fcff 43.5px,#82ff7d 56.5px,#f6ff09 76.5px,#fffd00 77.5px,#ff9400 84.5px,#ff7200 89.5px,#ff2100 107.5px,#ff1300 120.5px,#ff2700 123.5px,#ffb200 133.5px,#fffe00 138.5px,#daff25 142.5px,#cbff34 147.5px,#a7ff58 150.5px,#0afff5 158.5px,#00e7ff 160.5px,#0062ff 170.5px,#004aff 174.5px,#0007ff 267.5px,#0000f9 299.5px)"></i>
<i style="top:207px;background:linear-gradient(90deg,#0035ff 0.5px,#0090ff 30.5px,#02fffd 44.5px,#7dff82 56.5px,#f4ff0b 76.5px,#fffe00 77.5px,#f90 84.5px,#ff7100 91.5px,#ff2b00 107.5px,#ff1e00 120.5px,#f30 123.5px,#ffcd00 134.5px,#fff900 137.5px,#d4ff2b 142.5px,#c6ff39 147.5px,#a2ff5d 150.5px,#07fff8 158.5px,#00d6ff 161.5px,#005fff 170.5px,#0047ff 174.5px,#0004ff 267.5px,#0000f6 299.5px)"></i>
<i style="top:208px;background:linear-gradient(90deg,#003aff 0.5px,#009bff 31.5px,#00fcff 43.5px,#84ff7b 56.5px,#fffb00 76.5px,#ff8400 84.5px,#ff4f00 94.5px,#ff1700 107.5px,#ff0b00 120.5px,#ff2e00 124.5px,#ffb200 133.5px,#fffe00 138.5px,#dbff24 142.5px,#cdff32 147.5px,#97ff68 151.5px,#00fcff 159.5px,#0065ff 170.5px,#004cff 174.5px,#0009ff 267.5px,#0000fb 299.5px)"></i>
<i style="top:209px;background:linear-gradient(90deg,#003dff 0.5px,#009eff 31.5px,#01fffe 43.5px,#8f7 56.5px,#fffb00 75.5px,#ffbe00 79.5px,#ff7e00 83.5px,#ff5b00 88.5px,#ff0a00 106.5px,#fd0000 120.5px,#ff1500 123.5px,#ff8700 131.5px,#fffa00 138.5px,#deff21 143.5px,#d2ff2d 147.5px,#9cff63 151.5px,#03fffc 159.5px,#0069ff 170.5px,#0050ff 174.5px,#000cff 267.5px,#0000fe 299.5px)"></i>
<i style="top:210px;background:linear-gradient(90deg,#003dff 0.5px,#009fff 31.5px,#01fffe 43.5px,#89ff76 56.5px,#ff0 74.5px,#ffc600 78.5px,#ff7400 83.5px,#ff4a00 90.5px,#ff0300 106.5px,#f80000 120.5px,#ff0700 122.5px,#ff7400 130.5px,#fff900 138.5px,#e0ff1f 143.5px,#d3ff2c 147.5px,#9eff61 151.5px,#05fffa 159.5px,#006aff 170.5px,#0051ff 174.5px,#000eff 267.5px,#00f 299.5px)"></i>
<i style="top:211px;background:linear-gradient(90deg,#0038ff 0.5px,#09f 31.5px,#03fffc 44.5px,#81ff7e 56.5px,#fffb00 75.5px,#ff8e00 82.5px,#ff6e00 86.5px,#ff1800 105.5px,#ff0900 119.5px,#ff1b00 122.5px,#ff8700 130.5px,#fff800 137.5px,#e6ff19 140.5px,#cbff34 147.5px,#96ff69 151.5px,#0ff 159.5px,#0065ff 170.5px,#004cff 174.5px,#0009ff 267.5px,#0000fb 299.5px)"></i>
<i style="top:212px;background:linear-gradient(90deg,#0035ff 0.5px,#0095ff 31.5px,#00feff 44.5px,#84ff7b 57.5px,#f4ff0b 74.5px,#feff01 75.5px,#ff8a00 83.5px,#ff4700 96.5px,#ff1e00 106.5px,#f10 119.5px,#ff2300 122.5px,#ff9f00 131.5px,#fffd00 137.5px,#dbff24 141.5px,#c9ff36 147.5px,#95ff6a 151.5px,#0ff 159.5px,#0064ff 170.5px,#004aff 174.5px,#0007ff 267.5px,#0000f9 299.5px)"></i>
<i style="top:213px;background:linear-gradient(90deg,#0038ff 0.5px,#0098ff 31.5px,#01fffe 44.5px,#87ff78 57.5px,#fffd00 75.5px,#ff8300 83.5px,#ff5e00 89.5px,#ff1200 106.5px,#ff0400 119.5px,#ff1500 122.5px,#ff8200 130.5px,#fff500 137.5px,#fdff02 138.5px,#df2 142.5px,#d0ff2f 147.5px,#9dff62 151.5px,#07fff8 159.5px,#00d7ff 162.5px,#005fff 171.5px,#004cff 175.5px,#000aff 267.5px,#0000fc 299.5px)"></i>
<i style="top:214px;background:linear-gradient(90deg,#0037ff 0.5px,#009dff 32.5px,#0ff 44.5px,#85ff7a 57.5px,#fcff03 75.5px,#ffd900 78.5px,#f80 83.5px,#ff6800 87.5px,#ff1200 106.5px,#ff0300 119.5px,#ff1300 122.5px,#ff7e00 130.5px,#ff0 138.5px,#deff21 142.5px,#d3ff2c 147.5px,#a1ff5e 151.5px,#0bfff4 159.5px,#00f9ff 160.5px,#0061ff 171.5px,#004dff 175.5px,#000aff 267.5px,#0000fc 299.5px)"></i>
<i style="top:215px;background:linear-gradient(90deg,#0036ff 0.5px,#009bff 32.5px,#00fcff 44.5px,#8aff75 58.5px,#fffe00 76.5px,#ff8400 84.5px,#ff6000 90.5px,#ff1300 107.5px,#ff0700 120.5px,#ff2a00 124.5px,#ffa000 132.5px,#ff0 138.5px,#df2 142.5px,#d4ff2b 147.5px,#b3ff4c 150.5px,#34ffcb 157.5px,#00fbff 160.5px,#0063ff 171.5px,#004dff 175.5px,#000aff 267.5px,#0000fc 299.5px)"></i>
<i style="top:216px;background:linear-gradient(90deg,#0035ff 0.5px,#009aff 32.5px,#05fffa 45.5px,#8f7 58.5px,#fcff03 76.5px,#ffda00 79.5px,#ff8900 84.5px,#ff6b00 88.5px,#f10 108.5px,#ff0600 120.5px,#ff1c00 123.5px,#ff8c00 131.5px,#fffd00 138.5px,#deff21 142.5px,#d7ff28 147.5px,#b7ff48 150.5px,#38ffc7 157.5px,#0ff 160.5px,#0065ff 171.5px,#004dff 175.5px,#000aff 266.5px,#0000fc 299.5px)"></i>
<i style="top:217px;background:linear-gradient(90deg,#0038ff 0.5px,#009dff 32.5px,#00fcff 44.5px,#8bff74 58.5px,#fdff02 76.5px,#ffda00 79.5px,#ff8500 84.5px,#ff6200 88.5px,#ff0600 108.5px,#f80000 120.5px,#ff0e00 123.5px,#ff7f00 131.5px,#fff500 138.5px,#fdff02 139.5px,#e5ff1a 142.5px,#d7ff28 148.5px,#a0ff5f 152.5px,#08fff7 160.5px,#00e6ff 162.5px,#0061ff 172.5px,#004fff 176.5px,#000dff 267.5px,#00f 299.5px)"></i>
<i style="top:218px;background:linear-gradient(90deg,#0038ff 0.5px,#009cff 32.5px,#00fbff 44.5px,#91ff6e 59.5px,#fffb00 77.5px,#ffbf00 81.5px,#ff7c00 85.5px,#ff5e00 89.5px,#ff0300 109.5px,#f60000 120.5px,#ff0200 122.5px,#ff5b00 129.5px,#fff200 138.5px,#fffe00 139.5px,#e3ff1c 143.5px,#dbff24 148.5px,#a4ff5b 152.5px,#0cfff3 160.5px,#00faff 161.5px,#006eff 171.5px,#0052ff 175.5px,#000eff 266.5px,#00f 299.5px)"></i>
<i style="top:219px;background:linear-gradient(90deg,#003bff 0.5px,#00a0ff 32.5px,#00feff 44.5px,#94ff6b 59.5px,#fdff02 76.5px,#ffe000 79.5px,#ff7600 85.5px,#ff5300 89.5px,#fb0000 107.5px,#e80000 120.5px,#ff0700 124.5px,#ff6c00 131.5px,#ffe800 138.5px,#fdff02 140.5px,#eaff15 143.5px,#e4ff1b 148.5px,#aeff51 152.5px,#03fffc 161.5px,#0069ff 172.5px,#0054ff 176.5px,#01f 266.5px,#0004ff 299.5px)"></i>
<i style="top:220px;background:linear-gradient(90deg,#0038ff 0.5px,#00a2ff 33.5px,#02fffd 45.5px,#8fff70 59.5px,#ff0 77.5px,#ffdc00 80.5px,#ff7500 86.5px,#ff5600 90.5px,#fd0000 109.5px,#ef0000 120.5px,#ff0200 123.5px,#ff6f00 131.5px,#ffe900 138.5px,#fcff03 140.5px,#e8ff17 143.5px,#e2ff1d 148.5px,#bfff40 151.5px,#04fffb 161.5px,#0069ff 172.5px,#0053ff 176.5px,#0010ff 266.5px,#0002ff 299.5px)"></i>
<i style="top:221px;background:linear-gradient(90deg,#0031ff 0.5px,#009aff 33.5px,#0ff 46.5px,#83ff7c 59.5px,#fffb00 79.5px,#ff8200 87.5px,#ff6100 93.5px,#ff1300 110.5px,#ff0700 120.5px,#ff1800 123.5px,#ff7f00 131.5px,#ff0 139.5px,#dfff20 143.5px,#daff25 148.5px,#baff45 151.5px,#0ff 161.5px,#0065ff 172.5px,#004eff 176.5px,#000bff 266.5px,#0000fc 299.5px)"></i>
<i style="top:222px;background:linear-gradient(90deg,#0029ff 0.5px,#0091ff 33.5px,#00fcff 47.5px,#7eff81 60.5px,#f1ff0e 79.5px,#fff600 81.5px,#ff9d00 87.5px,#ff7f00 92.5px,#ff4a00 104.5px,#ff2a00 112.5px,#ff2300 121.5px,#ff4600 125.5px,#ffb000 133.5px,#fffc00 138.5px,#d5ff2a 143.5px,#caff35 149.5px,#93ff6c 153.5px,#00fbff 161.5px,#0061ff 172.5px,#0047ff 176.5px,#0005ff 266.5px,#0000f6 299.5px)"></i>
<i style="top:223px;background:linear-gradient(90deg,#002dff 0.5px,#009cff 34.5px,#0ff 47.5px,#83ff7c 60.5px,#fffd00 80.5px,#ff8600 88.5px,#ff6700 94.5px,#ff3400 105.5px,#ff1700 112.5px,#ff1000 121.5px,#ff3200 125.5px,#ff8c00 132.5px,#fffb00 139.5px,#dcff23 144.5px,#d5ff2a 149.5px,#9eff61 153.5px,#06fff9 161.5px,#00baff 166.5px,#005eff 173.5px,#004bff 177.5px,#000aff 266.5px,#0000fb 299.5px)"></i>
<i style="top:224px;background:linear-gradient(90deg,#002fff 0.5px,#009dff 34.5px,#00feff 47.5px,#8aff75 61.5px,#fffd00 80.5px,#ffc300 84.5px,#ff8300 88.5px,#ff6800 92.5px,#ff3a00 103.5px,#ff1200 111.5px,#ff0500 120.5px,#ff1d00 124.5px,#ff8000 132.5px,#fff300 139.5px,#ff0 140.5px,#e1ff1e 144.5px,#daff25 149.5px,#b6ff49 152.5px,#0dfff2 161.5px,#00fbff 162.5px,#0063ff 173.5px,#004eff 177.5px,#000cff 266.5px,#0000fe 299.5px)"></i>
<i style="top:225px;background:linear-gradient(90deg,#002fff 0.5px,#009dff 34.5px,#00fcff 47.5px,#90ff6f 62.5px,#ff0 80.5px,#ffc700 84.5px,#ff8400 88.5px,#ff6500 92.5px,#ff3900 103.5px,#ff0c00 112.5px,#ff0300 121.5px,#f20 125.5px,#ff7800 132.5px,#ffed00 139.5px,#f9ff06 141.5px,#e2ff1d 145.5px,#deff21 149.5px,#bcff43 152.5px,#01fffe 162.5px,#0067ff 173.5px,#0050ff 177.5px,#000eff 266.5px,#00f 299.5px)"></i>
<i style="top:226px;background:linear-gradient(90deg,#002dff 0.5px,#00a1ff 35.5px,#01fffe 48.5px,#8cff73 62.5px,#fffb00 81.5px,#ffc000 85.5px,#ff8000 89.5px,#ff6500 93.5px,#ff3e00 103.5px,#ff1000 112.5px,#ff0600 121.5px,#ff2e00 126.5px,#ff8600 133.5px,#fff800 140.5px,#eaff15 143.5px,#deff21 149.5px,#beff41 152.5px,#04fffb 162.5px,#0069ff 173.5px,#0050ff 177.5px,#000eff 265.5px,#00f 299.5px)"></i>
<i style="top:227px;background:linear-gradient(90deg,#0028ff 0.5px,#009aff 35.5px,#01fffe 49.5px,#83ff7c 62.5px,#fffd00 82.5px,#f80 90.5px,#ff6c00 96.5px,#ff4300 105.5px,#ff1d00 113.5px,#ff1400 121.5px,#ff3000 125.5px,#ff8d00 133.5px,#fffb00 140.5px,#df2 145.5px,#d4ff2b 150.5px,#9dff62 154.5px,#05fffa 162.5px,#0067ff 173.5px,#004dff 177.5px,#000aff 265.5px,#0000fb 299.5px)"></i>
<i style="top:228px;background:linear-gradient(90deg,#0027ff 0.5px,#009eff 36.5px,#00fcff 49.5px,#8f7 63.5px,#feff01 82.5px,#ffc900 86.5px,#ff8c00 90.5px,#ff7100 94.5px,#ff4200 105.5px,#ff1b00 113.5px,#f10 121.5px,#ff2a00 125.5px,#ff8200 133.5px,#ff0 141.5px,#e0ff1f 145.5px,#d9ff26 150.5px,#b6ff49 153.5px,#0cfff3 162.5px,#00faff 163.5px,#0061ff 174.5px,#004dff 178.5px,#000bff 266.5px,#0000fc 299.5px)"></i>
<i style="top:229px;background:linear-gradient(90deg,#0025ff 0.5px,#009aff 36.5px,#0ff 50.5px,#83ff7c 63.5px,#fffd00 83.5px,#ff8b00 91.5px,#ff6800 98.5px,#ff2000 113.5px,#ff1400 121.5px,#ff2a00 125.5px,#ff7e00 133.5px,#fffa00 141.5px,#df2 146.5px,#daff25 150.5px,#bcff43 153.5px,#3affc5 160.5px,#0ff 163.5px,#0063ff 174.5px,#004dff 178.5px,#000bff 265.5px,#0000fc 299.5px)"></i>
<i style="top:230px;background:linear-gradient(90deg,#0028ff 0.5px,#00a0ff 37.5px,#0ff 50.5px,#8bff74 64.5px,#fffb00 83.5px,#ffb300 88.5px,#ff7c00 92.5px,#ff1400 113.5px,#ff0900 122.5px,#ff2d00 127.5px,#ff7800 134.5px,#fffa00 142.5px,#e4ff1b 146.5px,#df2 151.5px,#b8ff47 154.5px,#0bfff4 163.5px,#00f9ff 164.5px,#006bff 174.5px,#0051ff 178.5px,#000eff 265.5px,#00f 299.5px)"></i>
<i style="top:231px;background:linear-gradient(90deg,#001cff 0.5px,#0092ff 37.5px,#0ff 52.5px,#78ff87 64.5px,#f4ff0b 84.5px,#ff0 85.5px,#ffa400 92.5px,#ff3b00 113.5px,#ff2f00 122.5px,#ff4f00 127.5px,#ffa100 135.5px,#fffb00 141.5px,#d6ff29 146.5px,#cfff30 151.5px,#b0ff4f 154.5px,#42ffbd 160.5px,#06fff9 163.5px,#008bff 171.5px,#0051ff 176.5px,#0042ff 183.5px,#0004ff 266.5px,#0000f6 299.5px)"></i>
<i style="top:232px;background:linear-gradient(90deg,#0015ff 0.5px,#008cff 38.5px,#05fffa 54.5px,#71ff8e 65.5px,#edff12 85.5px,#fffb00 87.5px,#ffb500 93.5px,#ff5000 114.5px,#ff4500 122.5px,#ff6200 127.5px,#ffad00 135.5px,#fdff02 141.5px,#ceff31 146.5px,#c3ff3c 152.5px,#9fff60 155.5px,#05fffa 163.5px,#0056ff 175.5px,#0040ff 179.5px,#00f 264.5px,#0000f1 299.5px)"></i>
<i style="top:233px;background:linear-gradient(90deg,#0015ff 0.5px,#08f 38.5px,#00f3ff 53.5px,#07fff8 55.5px,#71ff8e 66.5px,#dfff20 84.5px,#fdff02 87.5px,#ffb100 94.5px,#ff4f00 114.5px,#ff4500 123.5px,#ff7600 130.5px,#ffb100 136.5px,#fff800 141.5px,#d9ff26 145.5px,#caff35 149.5px,#c0ff3f 153.5px,#86ff79 157.5px,#0efff1 163.5px,#00faff 164.5px,#06f 174.5px,#0045ff 178.5px,#0001ff 264.5px,#0000f1 299.5px)"></i>
<i style="top:234px;background:linear-gradient(90deg,#0015ff 0.5px,#0087ff 39.5px,#00f3ff 54.5px,#08fff7 56.5px,#67ff98 66.5px,#c4ff3b 81.5px,#fbff04 87.5px,#ffa800 95.5px,#ff4600 114.5px,#ff3a00 123.5px,#ff6100 129.5px,#ffa300 136.5px,#fffb00 142.5px,#d3ff2c 147.5px,#c8ff37 153.5px,#91ff6e 157.5px,#06fff9 164.5px,#00c4ff 168.5px,#0058ff 176.5px,#04f 180.5px,#0003ff 265.5px,#0000f4 299.5px)"></i>
<i style="top:235px;background:linear-gradient(90deg,#0016ff 0.5px,#006aff 33.5px,#0090ff 42.5px,#00f0ff 55.5px,#04fffb 57.5px,#5fffa0 67.5px,#a7ff58 79.5px,#fffa00 88.5px,#ffa600 95.5px,#ff4000 112.5px,#ff2b00 123.5px,#ff4800 128.5px,#ff9200 136.5px,#fffc00 143.5px,#dcff23 147.5px,#d2ff2d 153.5px,#aeff51 156.5px,#02fffd 165.5px,#0063ff 176.5px,#0049ff 180.5px,#003dff 196.5px,#0048ff 204.5px,#001dff 233.5px,#0000fe 285.5px,#0000f8 299.5px)"></i>
<i style="top:236px;background:linear-gradient(90deg,#001bff 0.5px,#0037ff 15.5px,#0078ff 39.5px,#00e4ff 55.5px,#0ff 58.5px,#53ffac 68.5px,#8bff74 78.5px,#ff0 87.5px,#ff8e00 96.5px,#ff2700 111.5px,#ff0c00 120.5px,#ff1000 125.5px,#ff6500 135.5px,#ffb400 140.5px,#fff400 144.5px,#feff01 145.5px,#e7ff18 148.5px,#e4ff1b 153.5px,#c1ff3e 156.5px,#03fffc 166.5px,#0069ff 177.5px,#0051ff 181.5px,#04f 195.5px,#0084ff 203.5px,#0031ff 226.5px,#000eff 273.5px,#0001ff 299.5px)"></i>
<i style="top:237px;background:linear-gradient(90deg,#000dff 0.5px,#0043ff 29.5px,#0063ff 40.5px,#00d3ff 57.5px,#05fffa 63.5px,#4effb1 75.5px,#68ff97 79.5px,#fffe00 93.5px,#ffac00 103.5px,#ff5e00 115.5px,#ff4700 124.5px,#ff6b00 132.5px,#ff9d00 138.5px,#fe0 145.5px,#ff0 149.5px,#fbff04 154.5px,#bfff40 159.5px,#37ffc8 168.5px,#00feff 173.5px,#00c3ff 179.5px,#00afff 189.5px,#00a5ff 195.5px,#00d4ff 202.5px,#00d1ff 204.5px,#003fff 223.5px,#002eff 230.5px,#000aff 278.5px,#0000fe 299.5px)"></i>
<i style="top:238px;background:linear-gradient(90deg,#0000f5 0.5px,#0009ff 7.5px,#0046ff 39.5px,#00b9ff 58.5px,#00feff 68.5px,#32ffcd 78.5px,#28ffd7 86.5px,#9f6 104.5px,#fcff03 116.5px,#ffb300 130.5px,#ffa100 141.5px,#ff9700 156.5px,#ffb900 165.5px,#ff0 183.5px,#df2 194.5px,#d7ff28 195.5px,#3effc1 203.5px,#05fffa 208.5px,#005eff 221.5px,#003eff 225.5px,#000eff 269.5px,#0007ff 299.5px)"></i>
<i style="top:239px;background:linear-gradient(90deg,#0000f4 0.5px,#0008ff 8.5px,#0036ff 38.5px,#00acff 59.5px,#00fcff 73.5px,#16ffe9 78.5px,#0ff 86.5px,#54ffab 103.5px,#fffc00 125.5px,#ffa600 137.5px,#ff7200 147.5px,#ff5900 161.5px,#ff7e00 179.5px,#ffb000 192.5px,#ffc700 195.5px,#feff01 198.5px,#96ff69 203.5px,#28ffd7 210.5px,#03fffc 212.5px,#06f 222.5px,#0048ff 226.5px,#0016ff 272.5px,#01f 299.5px)"></i>
<i style="top:240px;background:linear-gradient(90deg,#0000ef 0.5px,#0005ff 15.5px,#0026ff 39.5px,#00f3ff 78.5px,#00fbff 87.5px,#4fffb0 105.5px,#ebff14 127.5px,#fffc00 130.5px,#ff9300 146.5px,#ff7200 159.5px,#ff9a00 177.5px,#ffd100 191.5px,#fffe00 197.5px,#c1ff3e 202.5px,#49ffb6 209.5px,#0cfff3 212.5px,#00f8ff 213.5px,#0070ff 221.5px,#004fff 224.5px,#003cff 233.5px,#0013ff 272.5px,#000dff 299.5px)"></i>
<i style="top:241px;background:linear-gradient(90deg,#0000ed 0.5px,#0006ff 24.5px,#001aff 39.5px,#00e0ff 79.5px,#03fffc 90.5px,#54ffab 108.5px,#c9ff36 126.5px,#fffa00 134.5px,#ffa400 147.5px,#ff8400 159.5px,#ffaf00 176.5px,#fff600 193.5px,#f8ff07 196.5px,#c9ff36 201.5px,#6cff93 207.5px,#07fff8 212.5px,#00ceff 215.5px,#005dff 222.5px,#04f 226.5px,#0010ff 271.5px,#0009ff 299.5px)"></i>
<i style="top:242px;background:linear-gradient(90deg,#0000f3 0.5px,#0008ff 24.5px,#001dff 40.5px,#00eaff 82.5px,#05fffa 89.5px,#56ffa9 108.5px,#beff41 125.5px,#fffb00 134.5px,#ff9b00 147.5px,#f70 158.5px,#ff9d00 173.5px,#fbff04 196.5px,#cbff34 201.5px,#70ff8f 207.5px,#0cfff3 212.5px,#00f8ff 213.5px,#006eff 221.5px,#0052ff 224.5px,#0014ff 270.5px,#000cff 299.5px)"></i>
<i style="top:243px;background:linear-gradient(90deg,#0000f3 0.5px,#0008ff 26.5px,#0019ff 40.5px,#00f6ff 86.5px,#0efff1 92.5px,#5affa5 110.5px,#bf4 126.5px,#ff0 135.5px,#ffa500 147.5px,#ff8000 158.5px,#ffad00 174.5px,#faff05 195.5px,#cfff30 200.5px,#7eff81 206.5px,#0bfff4 212.5px,#00f7ff 213.5px,#006eff 221.5px,#0052ff 224.5px,#01f 270.5px,#0008ff 299.5px)"></i>
<i style="top:244px;background:linear-gradient(90deg,#0000f1 0.5px,#0008ff 29.5px,#0016ff 41.5px,#00f5ff 87.5px,#0cfff3 93.5px,#56ffa9 111.5px,#b4ff4b 127.5px,#fdff02 137.5px,#ffb800 147.5px,#ff9100 158.5px,#ffc600 175.5px,#faff05 192.5px,#d9ff26 198.5px,#87ff78 205.5px,#07fff8 212.5px,#00d0ff 215.5px,#005fff 222.5px,#0049ff 226.5px,#000bff 270.5px,#0002ff 299.5px)"></i>
<i style="top:245px;background:linear-gradient(90deg,#0000f5 0.5px,#000aff 28.5px,#001aff 42.5px,#00f8ff 87.5px,#12ffed 94.5px,#54ffab 111.5px,#b6ff49 128.5px,#fffd00 138.5px,#ffb800 147.5px,#ff9000 157.5px,#ffa200 165.5px,#fffd00 190.5px,#e9ff16 196.5px,#96ff69 204.5px,#45ffba 209.5px,#00f9ff 213.5px,#0070ff 221.5px,#0053ff 224.5px,#000bff 269.5px,#0002ff 299.5px)"></i>
<i style="top:246px;background:linear-gradient(90deg,#0000f4 0.5px,#0009ff 29.5px,#0019ff 43.5px,#00f7ff 88.5px,#1fe 95.5px,#54ffab 112.5px,#b7ff48 129.5px,#fffe00 139.5px,#ffbe00 148.5px,#ff9a00 158.5px,#ffd800 176.5px,#fbff04 190.5px,#e4ff1b 196.5px,#87ff78 205.5px,#00faff 213.5px,#0070ff 221.5px,#0053ff 224.5px,#0007ff 269.5px,#0000fd 299.5px)"></i>
<i style="top:247px;background:linear-gradient(90deg,#0000f5 0.5px,#000aff 30.5px,#001aff 44.5px,#00f8ff 89.5px,#16ffe9 97.5px,#59ffa6 113.5px,#c8ff37 131.5px,#fffd00 139.5px,#ffb600 150.5px,#ff9a00 158.5px,#ffc200 171.5px,#fffe00 189.5px,#e6ff19 196.5px,#8dff72 205.5px,#26ffd9 211.5px,#01fffe 213.5px,#0075ff 221.5px,#0056ff 224.5px,#0008ff 268.5px,#0000fd 299.5px)"></i>
<i style="top:248px;background:linear-gradient(90deg,#0000f3 0.5px,#0008ff 33.5px,#0016ff 45.5px,#00f5ff 90.5px,#0dfff2 96.5px,#54ffab 113.5px,#e3ff1c 135.5px,#fffa00 140.5px,#fb0 151.5px,#ffa400 159.5px,#feff01 188.5px,#df2 197.5px,#80ff7f 206.5px,#03fffc 213.5px,#0068ff 222.5px,#0051ff 225.5px,#0004ff 269.5px,#0000fa 299.5px)"></i>
<i style="top:249px;background:linear-gradient(90deg,#0000f3 0.5px,#0008ff 35.5px,#0015ff 46.5px,#00f4ff 91.5px,#08fff7 96.5px,#51ffae 113.5px,#fdff02 139.5px,#ffb900 153.5px,#ffa900 160.5px,#fdff02 188.5px,#deff21 197.5px,#83ff7c 206.5px,#07fff8 213.5px,#00cfff 216.5px,#006aff 222.5px,#0052ff 225.5px,#0002ff 269.5px,#0000f9 299.5px)"></i>
<i style="top:250px;background:linear-gradient(90deg,#0000ec 0.5px,#0006ff 44.5px,#002aff 53.5px,#00ebff 92.5px,#04fffb 98.5px,#4affb5 114.5px,#ecff13 138.5px,#fff900 143.5px,#ffc500 156.5px,#ffc300 162.5px,#faff05 184.5px,#d3ff2c 197.5px,#89ff76 205.5px,#3cffc3 210.5px,#04fffb 213.5px,#0065ff 222.5px,#004cff 225.5px,#0000fb 266.5px,#0000f1 299.5px)"></i>
<i style="top:251px;background:linear-gradient(90deg,#0000e9 0.5px,#0005ff 47.5px,#00eaff 94.5px,#04fffb 100.5px,#43ffbc 114.5px,#e2ff1d 137.5px,#fff900 145.5px,#ffce00 158.5px,#ffd700 165.5px,#fbff04 181.5px,#ceff31 197.5px,#87ff78 205.5px,#3dffc2 210.5px,#04fffb 213.5px,#0065ff 222.5px,#004aff 225.5px,#0000fb 263.5px,#0000ed 299.5px)"></i>
<i style="top:252px;background:linear-gradient(90deg,#0000ef 0.5px,#0006ff 45.5px,#001cff 52.5px,#00f3ff 95.5px,#09fff6 100.5px,#50ffaf 115.5px,#ebff14 136.5px,#fffc00 141.5px,#ffc300 156.5px,#ffbf00 162.5px,#fcff03 186.5px,#d5ff2a 198.5px,#89ff76 206.5px,#39ffc6 211.5px,#0ff 214.5px,#0070ff 222.5px,#0053ff 225.5px,#0000fd 266.5px,#0000f2 299.5px)"></i>
<i style="top:253px;background:linear-gradient(90deg,#0000e8 0.5px,#0003ff 49.5px,#00f7ff 99.5px,#09fff6 103.5px,#42ffbd 115.5px,#d6ff29 134.5px,#fffb00 145.5px,#ffd500 158.5px,#ffdc00 165.5px,#faff05 181.5px,#caff35 198.5px,#82ff7d 206.5px,#47ffb8 210.5px,#00faff 214.5px,#006bff 222.5px,#004eff 225.5px,#0000fb 262.5px,#0000eb 294.5px,#0000ea 299.5px)"></i>
<i style="top:254px;background:linear-gradient(90deg,#0000e4 0.5px,#0000fd 50.5px,#005fff 70.5px,#00feff 103.5px,#3fffc0 116.5px,#c3ff3c 132.5px,#ecff13 141.5px,#fff700 149.5px,#ffe100 161.5px,#faff05 177.5px,#c4ff3b 198.5px,#7eff81 206.5px,#45ffba 210.5px,#00f9ff 214.5px,#0069ff 222.5px,#004bff 225.5px,#0000fb 260.5px,#0000ec 274.5px,#0000e5 299.5px)"></i>
<i style="top:255px;background:linear-gradient(90deg,#0000e3 0.5px,#0000fa 51.5px,#000fff 56.5px,#01fffe 105.5px,#3fffc0 117.5px,#b6ff49 131.5px,#e1ff1e 139.5px,#fffb00 150.5px,#ffe900 162.5px,#f9ff06 175.5px,#c0ff3f 198.5px,#7aff85 206.5px,#42ffbd 210.5px,#0bfff4 213.5px,#00f7ff 214.5px,#0067ff 222.5px,#004aff 225.5px,#0000fb 259.5px,#0000eb 273.5px,#0000e3 299.5px)"></i>
<i style="top:256px;background:linear-gradient(90deg,#0000e3 0.5px,#0000fb 53.5px,#0029ff 63.5px,#0ff 106.5px,#41ffbe 118.5px,#b0ff4f 131.5px,#dfff20 139.5px,#fffa00 151.5px,#ffe900 162.5px,#f8ff07 176.5px,#beff41 198.5px,#78ff87 206.5px,#2dffd2 211.5px,#08fff7 213.5px,#00e2ff 215.5px,#06f 222.5px,#004aff 225.5px,#0000fa 260.5px,#0000ec 274.5px,#0000e5 299.5px)"></i>
<i style="top:257px;background:linear-gradient(90deg,#0000e4 0.5px,#0000fe 55.5px,#008eff 85.5px,#04fffb 108.5px,#43ffbc 119.5px,#af5 131.5px,#e4ff1b 141.5px,#fff800 152.5px,#ffe900 163.5px,#faff05 176.5px,#c3ff3c 197.5px,#8aff75 204.5px,#4cffb3 209.5px,#06fff9 213.5px,#0085ff 220.5px,#005aff 223.5px,#0045ff 227.5px,#0000fa 261.5px,#0000ed 278.5px,#0000e7 299.5px)"></i>
<i style="top:258px;background:linear-gradient(90deg,#0000e4 0.5px,#0000fc 56.5px,#002fff 68.5px,#02fffd 109.5px,#4fb 120.5px,#af5 132.5px,#e3ff1c 142.5px,#fffa00 153.5px,#ffed00 165.5px,#f9ff06 176.5px,#c0ff3f 197.5px,#7cff83 205.5px,#36ffc9 210.5px,#02fffd 213.5px,#0064ff 222.5px,#004cff 225.5px,#0000fb 261.5px,#00e 278.5px,#0000e8 299.5px)"></i>
<i style="top:259px;background:linear-gradient(90deg,#0000e6 0.5px,#0002ff 59.5px,#007aff 85.5px,#03fffc 110.5px,#48ffb7 121.5px,#acff53 133.5px,#eaff15 144.5px,#fffa00 153.5px,#ffeb00 165.5px,#f9ff06 177.5px,#c6ff39 196.5px,#8fff70 203.5px,#54ffab 208.5px,#0ff 213.5px,#0072ff 221.5px,#0053ff 224.5px,#0000fc 262.5px,#0000ed 291.5px,#0000ea 299.5px)"></i>
<i style="top:260px;background:linear-gradient(90deg,#0000e7 0.5px,#0005ff 61.5px,#0071ff 85.5px,#03fffc 111.5px,#4affb5 122.5px,#a8ff57 133.5px,#ecff13 145.5px,#fff800 154.5px,#ffeb00 166.5px,#f9ff06 178.5px,#c6ff39 196.5px,#83ff7c 204.5px,#41ffbe 209.5px,#00feff 213.5px,#0072ff 221.5px,#0054ff 224.5px,#0000fc 263.5px,#0000ed 299.5px)"></i>
<i style="top:261px;background:linear-gradient(90deg,#0000df 0.5px,#0000f7 61.5px,#000aff 66.5px,#0067ff 87.5px,#02fffd 114.5px,#49ffb6 124.5px,#9cff63 134.5px,#deff21 146.5px,#feff01 161.5px,#f7ff08 172.5px,#bcff43 195.5px,#86ff79 202.5px,#40ffbf 208.5px,#01fffe 212.5px,#0067ff 221.5px,#004cff 224.5px,#0000fc 260.5px,#0000ed 275.5px,#0000e6 299.5px)"></i>
<i style="top:262px;background:linear-gradient(90deg,#0000d8 0.5px,#0000f1 63.5px,#0007ff 69.5px,#0054ff 87.5px,#04fffb 117.5px,#51ffae 127.5px,#97ff68 136.5px,#d3ff2c 148.5px,#edff12 163.5px,#e1ff1e 175.5px,#b3ff4c 194.5px,#81ff7e 201.5px,#40ffbf 207.5px,#04fffb 211.5px,#005dff 221.5px,#04f 224.5px,#0000fc 257.5px,#0000e8 271.5px,#0000e0 299.5px)"></i>
<i style="top:263px;background:linear-gradient(90deg,#0000d7 0.5px,#0000f0 65.5px,#0006ff 71.5px,#004cff 88.5px,#00d8ff 112.5px,#01fffe 118.5px,#8eff71 136.5px,#d0ff2f 149.5px,#e7ff18 164.5px,#d9ff26 177.5px,#aeff51 194.5px,#72ff8d 202.5px,#2bffd4 208.5px,#00fdff 211.5px,#005aff 221.5px,#003fff 225.5px,#0000fb 257.5px,#0000e8 271.5px,#0000e0 299.5px)"></i>
<i style="top:264px;background:linear-gradient(90deg,#0000d6 0.5px,#0000ef 66.5px,#0007ff 73.5px,#0047ff 89.5px,#00cfff 112.5px,#00feff 119.5px,#8dff72 137.5px,#d2ff2d 151.5px,#e4ff1b 165.5px,#d4ff2b 179.5px,#acff53 194.5px,#64ff9b 203.5px,#09fff6 210.5px,#00e9ff 212.5px,#0058ff 221.5px,#003fff 225.5px,#0000fa 258.5px,#0000e8 272.5px,#0000e0 299.5px)"></i>
<i style="top:265px;background:linear-gradient(90deg,#0000d6 0.5px,#00e 66.5px,#0008ff 74.5px,#0045ff 90.5px,#0cf 113.5px,#03fffc 121.5px,#8aff75 138.5px,#cdff32 152.5px,#dfff20 166.5px,#cf3 181.5px,#a8ff57 194.5px,#5dffa2 203.5px,#0ff 210.5px,#005fff 220.5px,#0045ff 223.5px,#0000fc 257.5px,#0000e8 271.5px,#0000e0 299.5px)"></i>
<i style="top:266px;background:linear-gradient(90deg,#0000dc 0.5px,#0000f6 67.5px,#0009ff 73.5px,#0045ff 90.5px,#00d1ff 114.5px,#02fffd 121.5px,#90ff6f 139.5px,#d3ff2c 153.5px,#e5ff1a 166.5px,#d5ff2a 180.5px,#b2ff4d 193.5px,#74ff8b 201.5px,#1dffe2 208.5px,#0ff 210.5px,#0061ff 220.5px,#0047ff 224.5px,#0000fb 260.5px,#0000ed 275.5px,#0000e6 299.5px)"></i>
<i style="top:267px;background:linear-gradient(90deg,#0000db 0.5px,#0000f4 67.5px,#0006ff 73.5px,#0042ff 91.5px,#00d4ff 116.5px,#03fffc 123.5px,#8aff75 140.5px,#cbff34 154.5px,#df2 167.5px,#cbff34 182.5px,#acff53 193.5px,#6cff93 201.5px,#03fffc 209.5px,#005bff 220.5px,#04f 224.5px,#0000fa 260.5px,#0000eb 276.5px,#0000e5 299.5px)"></i>
<i style="top:268px;background:linear-gradient(90deg,#0000da 0.5px,#0000f3 67.5px,#000aff 75.5px,#0040ff 92.5px,#00d7ff 118.5px,#0ff 124.5px,#86ff79 141.5px,#c5ff3a 155.5px,#d7ff28 168.5px,#c2ff3d 184.5px,#a7ff58 193.5px,#64ff9b 201.5px,#08fff7 208.5px,#00eaff 210.5px,#0061ff 219.5px,#0046ff 223.5px,#0000fb 259.5px,#0000eb 274.5px,#0000e4 299.5px)"></i>
<i style="top:269px;background:linear-gradient(90deg,#0000da 0.5px,#0000f2 67.5px,#0008ff 75.5px,#003eff 93.5px,#00e1ff 121.5px,#03fffc 126.5px,#82ff7d 142.5px,#c2ff3d 157.5px,#d1ff2e 169.5px,#baff45 186.5px,#9bff64 194.5px,#51ffae 202.5px,#00feff 208.5px,#005cff 219.5px,#04f 223.5px,#0000fb 259.5px,#0000eb 274.5px,#0000e4 299.5px)"></i>
<i style="top:270px;background:linear-gradient(90deg,#0000d6 0.5px,#00e 67.5px,#0005ff 76.5px,#0039ff 94.5px,#00e0ff 123.5px,#01fffe 128.5px,#78ff87 143.5px,#b6ff49 158.5px,#c5ff3a 170.5px,#abff54 188.5px,#90ff6f 194.5px,#4fb 202.5px,#0ff 207.5px,#005fff 218.5px,#0042ff 222.5px,#0000fb 257.5px,#0000e8 272.5px,#0000e0 299.5px)"></i>
<i style="top:271px;background:linear-gradient(90deg,#0000d8 0.5px,#0000f2 68.5px,#0008ff 77.5px,#003aff 95.5px,#00e6ff 125.5px,#0ff 129.5px,#7f8 144.5px,#b4ff4b 159.5px,#c3ff3c 171.5px,#af5 188.5px,#8eff71 194.5px,#4bffb4 201.5px,#00f9ff 207.5px,#005dff 218.5px,#04f 222.5px,#0000fb 258.5px,#0000ea 273.5px,#0000e2 299.5px)"></i>
<i style="top:272px;background:linear-gradient(90deg,#0000de 0.5px,#0000f7 68.5px,#01f 79.5px,#003fff 96.5px,#00f0ff 127.5px,#04fffb 130.5px,#81ff7e 146.5px,#baff45 161.5px,#c6ff39 173.5px,#acff53 189.5px,#89ff76 195.5px,#3fffc0 202.5px,#00f9ff 207.5px,#0061ff 218.5px,#0048ff 223.5px,#0000fb 261.5px,#0000ed 282.5px,#0000e8 299.5px)"></i>
<i style="top:273px;background:linear-gradient(90deg,#0000de 0.5px,#0000f7 68.5px,#0010ff 79.5px,#003aff 96.5px,#00e5ff 127.5px,#06fff9 132.5px,#7aff85 147.5px,#b3ff4c 162.5px,#bfff40 174.5px,#a5ff5a 189.5px,#81ff7e 195.5px,#37ffc8 202.5px,#01fffe 206.5px,#006bff 217.5px,#004dff 222.5px,#0000fd 260.5px,#0000ef 277.5px,#0000e8 299.5px)"></i>
<i style="top:274px;background:linear-gradient(90deg,#00d 0.5px,#0000f6 68.5px,#000bff 78.5px,#0037ff 97.5px,#0df 128.5px,#04fffb 134.5px,#69ff96 147.5px,#a3ff5c 162.5px,#b1ff4e 174.5px,#9dff62 188.5px,#75ff8a 195.5px,#2cffd3 202.5px,#06fff9 205.5px,#009cff 213.5px,#0064ff 218.5px,#0036ff 230.5px,#0000fa 261.5px,#0000ec 283.5px,#0000e7 299.5px)"></i>
<i style="top:275px;background:linear-gradient(90deg,#0000e0 0.5px,#0000f7 68.5px,#000eff 79.5px,#0039ff 98.5px,#00cbff 127.5px,#04fffb 136.5px,#5effa1 148.5px,#98ff67 163.5px,#a5ff5a 176.5px,#8fff70 189.5px,#5bffa4 197.5px,#03fffc 205.5px,#07f 217.5px,#003bff 229.5px,#0000fa 264.5px,#0000ea 299.5px)"></i>
<i style="top:276px;background:linear-gradient(90deg,#0000d9 0.5px,#0000f1 69.5px,#0007ff 81.5px,#002eff 99.5px,#00b0ff 127.5px,#01fffe 140.5px,#4fb 150.5px,#7f8 165.5px,#80ff7f 179.5px,#6aff95 190.5px,#38ffc7 198.5px,#00fcff 204.5px,#0084ff 216.5px,#005eff 223.5px,#0035ff 228.5px,#000cff 252.5px,#0009ff 260.5px,#0000f7 269.5px,#0000e3 299.5px)"></i>
<i style="top:277px;background:linear-gradient(90deg,#0000d9 0.5px,#00e 69.5px,#0007ff 83.5px,#002dff 101.5px,#0096ff 126.5px,#00eaff 141.5px,#0ff 144.5px,#38ffc7 155.5px,#5cffa3 169.5px,#5effa1 183.5px,#42ffbd 193.5px,#00fcff 203.5px,#0095ff 216.5px,#008cff 220.5px,#0042ff 227.5px,#0034ff 228.5px,#000bff 250.5px,#0038ff 258.5px,#000cff 272.5px,#0000f8 283.5px,#0000e4 299.5px)"></i>
<i style="top:278px;background:linear-gradient(90deg,#0000d7 0.5px,#0000ea 69.5px,#0007ff 87.5px,#0029ff 103.5px,#007eff 126.5px,#00d0ff 142.5px,#01fffe 151.5px,#2effd1 166.5px,#39ffc6 182.5px,#23ffdc 193.5px,#00fcff 201.5px,#0af 215.5px,#00a2ff 221.5px,#0073ff 228.5px,#0065ff 246.5px,#005cff 250.5px,#0086ff 258.5px,#0039ff 271.5px,#000aff 285.5px,#0000f9 294.5px,#0000ed 299.5px)"></i>
<i style="top:279px;background:linear-gradient(90deg,#0000d2 0.5px,#0000e5 70.5px,#0005ff 92.5px,#003cff 115.5px,#00a5ff 141.5px,#00e3ff 155.5px,#03fffc 169.5px,#0bfff4 186.5px,#00faff 195.5px,#00b9ff 215.5px,#00c0ff 220.5px,#03fffc 225.5px,#3fc 228.5px,#56ffa9 234.5px,#67ff98 245.5px,#54ffab 250.5px,#02fffd 256.5px,#00c8ff 261.5px,#006cff 271.5px,#0030ff 281.5px,#000fff 292.5px,#0009ff 299.5px)"></i>
<i style="top:280px;background:linear-gradient(90deg,#0000db 0.5px,#00e 70.5px,#0007ff 89.5px,#0038ff 115.5px,#009dff 143.5px,#00d5ff 159.5px,#00f3ff 181.5px,#00e6ff 200.5px,#00d7ff 214.5px,#00ebff 220.5px,#00faff 221.5px,#43ffbc 225.5px,#83ff7c 228.5px,#b2ff4d 234.5px,#d1ff2e 245.5px,#bdff42 250.5px,#3fffc0 259.5px,#00fbff 264.5px,#008bff 274.5px,#0042ff 285.5px,#0023ff 297.5px,#0021ff 299.5px)"></i>
<i style="top:281px;background:linear-gradient(90deg,#0000d7 0.5px,#0000ea 71.5px,#0006ff 95.5px,#0034ff 120.5px,#00adff 159.5px,#00cdff 186.5px,#00daff 212.5px,#0ff 220.5px,#69ff96 227.5px,#85ff7a 229.5px,#af5 234.5px,#ceff31 245.5px,#bcff43 250.5px,#76ff89 258.5px,#02fffd 266.5px,#008cff 276.5px,#0048ff 286.5px,#0020ff 299.5px)"></i>
<i style="top:282px;background:linear-gradient(90deg,#0000d2 0.5px,#0000e5 72.5px,#0006ff 103.5px,#0029ff 123.5px,#0089ff 160.5px,#00bdff 203.5px,#00dcff 213.5px,#02fffd 219.5px,#5fa 226.5px,#84ff7b 230.5px,#acff53 237.5px,#c8ff37 245.5px,#b4ff4b 251.5px,#86ff79 258.5px,#3fffc0 263.5px,#00feff 267.5px,#0092ff 276.5px,#004bff 286.5px,#001eff 299.5px)"></i>
<i style="top:283px;background:linear-gradient(90deg,#0000d8 0.5px,#0000eb 74.5px,#0006ff 103.5px,#0024ff 123.5px,#0079ff 162.5px,#00a6ff 198.5px,#00deff 212.5px,#02fffd 217.5px,#3affc5 223.5px,#8bff74 230.5px,#b8ff47 238.5px,#d3ff2c 246.5px,#a8ff57 256.5px,#85ff7a 260.5px,#04fffb 268.5px,#0098ff 277.5px,#004eff 288.5px,#0027ff 299.5px)"></i>
<i style="top:284px;background:linear-gradient(90deg,#0000d6 0.5px,#0000e8 75.5px,#0006ff 111.5px,#0063ff 165.5px,#008aff 197.5px,#00cfff 211.5px,#06fff9 218.5px,#65ff9a 227.5px,#93ff6c 232.5px,#cdff32 246.5px,#b5ff4a 253.5px,#8bff74 260.5px,#3fffc0 265.5px,#00fdff 269.5px,#0095ff 278.5px,#004cff 289.5px,#0029ff 299.5px)"></i>
<i style="top:285px;background:linear-gradient(90deg,#0000d2 0.5px,#0000e4 76.5px,#0005ff 118.5px,#004dff 166.5px,#006fff 197.5px,#0bf 210.5px,#04fffb 219.5px,#82ff7d 231.5px,#c3ff3c 246.5px,#b9ff46 251.5px,#82ff7d 261.5px,#48ffb7 265.5px,#04fffb 269.5px,#0090ff 279.5px,#0049ff 290.5px,#0028ff 299.5px)"></i>
<i style="top:286px;background:linear-gradient(90deg,#0000cf 0.5px,#0000e0 78.5px,#0005ff 124.5px,#003fff 170.5px,#005aff 197.5px,#0098ff 207.5px,#02fffd 220.5px,#75ff8a 231.5px,#b9ff46 246.5px,#b4ff4b 251.5px,#81ff7e 261.5px,#4fffb0 265.5px,#0afff5 269.5px,#00ebff 271.5px,#008aff 280.5px,#04f 291.5px,#0028ff 299.5px)"></i>
<i style="top:287px;background:linear-gradient(90deg,#0000cd 0.5px,#0000df 79.5px,#0004ff 127.5px,#003cff 176.5px,#0053ff 198.5px,#009cff 209.5px,#01fffe 221.5px,#72ff8d 232.5px,#b1ff4e 246.5px,#b3ff4c 251.5px,#7aff85 262.5px,#45ffba 266.5px,#01fffe 270.5px,#0096ff 279.5px,#0046ff 291.5px,#0029ff 299.5px)"></i>
<i style="top:288px;background:linear-gradient(90deg,#0000c9 0.5px,#0000db 80.5px,#0000fc 126.5px,#004dff 199.5px,#00a8ff 212.5px,#00fcff 222.5px,#73ff8c 234.5px,#b0ff4f 249.5px,#9eff61 255.5px,#70ff8f 263.5px,#38ffc7 267.5px,#04fffb 270.5px,#008eff 280.5px,#0041ff 292.5px,#0028ff 299.5px)"></i>
<i style="top:289px;background:linear-gradient(90deg,#00c 0.5px,#0000de 81.5px,#0005ff 131.5px,#0052ff 200.5px,#00bdff 215.5px,#02fffd 223.5px,#7f8 235.5px,#b4ff4b 250.5px,#a2ff5d 256.5px,#70ff8f 264.5px,#23ffdc 269.5px,#02fffd 271.5px,#0098ff 280.5px,#0048ff 292.5px,#002fff 299.5px)"></i>
<i style="top:290px;background:linear-gradient(90deg,#0000c9 0.5px,#0000dc 82.5px,#0000fb 126.5px,#004cff 200.5px,#009aff 212.5px,#00feff 224.5px,#73ff8c 236.5px,#afff50 251.5px,#9cff63 257.5px,#71ff8e 264.5px,#3affc5 268.5px,#08fff7 271.5px,#00eaff 273.5px,#0092ff 281.5px,#0045ff 293.5px,#0030ff 299.5px)"></i>
<i style="top:291px;background:linear-gradient(90deg,#0000c9 0.5px,#0000dc 83.5px,#0000fa 127.5px,#004eff 201.5px,#00abff 215.5px,#00feff 225.5px,#79ff86 238.5px,#afff50 252.5px,#a0ff5f 257.5px,#6dff92 265.5px,#2fd 270.5px,#02fffd 272.5px,#0098ff 281.5px,#0049ff 293.5px,#0034ff 299.5px)"></i>
<i style="top:292px;background:linear-gradient(90deg,#0000cb 0.5px,#0000de 84.5px,#0000fb 127.5px,#0052ff 202.5px,#00b6ff 217.5px,#02fffd 226.5px,#7bff84 239.5px,#b1ff4e 253.5px,#a1ff5e 258.5px,#6aff95 266.5px,#00fdff 273.5px,#0097ff 282.5px,#004aff 294.5px,#0039ff 299.5px)"></i>
<i style="top:293px;background:linear-gradient(90deg,#0000c7 0.5px,#0000db 86.5px,#0000f6 127.5px,#000bff 145.5px,#004cff 202.5px,#00a2ff 216.5px,#00fdff 227.5px,#75ff8a 240.5px,#af5 254.5px,#9f6 259.5px,#6aff95 266.5px,#21ffde 271.5px,#02fffd 273.5px,#0098ff 282.5px,#004aff 294.5px,#0038ff 299.5px)"></i>
<i style="top:294px;background:linear-gradient(90deg,#0000c4 0.5px,#0000d8 87.5px,#0000f3 128.5px,#0009ff 147.5px,#004bff 203.5px,#00a7ff 218.5px,#04fffb 229.5px,#70ff8f 241.5px,#a5ff5a 255.5px,#93ff6c 260.5px,#61ff9e 267.5px,#07fff8 273.5px,#0df 276.5px,#0092ff 283.5px,#0046ff 295.5px,#0039ff 299.5px)"></i>
<i style="top:295px;background:linear-gradient(90deg,#0000c2 0.5px,#0000d6 89.5px,#0000ef 128.5px,#0008ff 150.5px,#0049ff 204.5px,#00a4ff 219.5px,#0ff 230.5px,#6cff93 242.5px,#9fff60 256.5px,#8dff72 261.5px,#57ffa8 268.5px,#00fcff 274.5px,#0094ff 283.5px,#0047ff 295.5px,#0039ff 299.5px)"></i>
<i style="top:296px;background:linear-gradient(90deg,#0000be 0.5px,#0000d3 91.5px,#0000ec 129.5px,#0006ff 153.5px,#0048ff 205.5px,#00a1ff 220.5px,#05fffa 232.5px,#6cff93 244.5px,#9f6 257.5px,#86ff79 262.5px,#58ffa7 268.5px,#01fffe 274.5px,#0095ff 283.5px,#0047ff 295.5px,#0039ff 299.5px)"></i>
<i style="top:297px;background:linear-gradient(90deg,#0000c1 0.5px,#0000d7 93.5px,#0000ef 130.5px,#0007ff 152.5px,#004aff 205.5px,#00a6ff 221.5px,#01fffe 232.5px,#71ff8e 245.5px,#9eff61 258.5px,#8aff75 263.5px,#59ffa6 269.5px,#0ff 275.5px,#0097ff 284.5px,#004bff 296.5px,#0041ff 299.5px)"></i>
<i style="top:298px;background:linear-gradient(90deg,#0000c2 0.5px,#0000d8 94.5px,#0000f0 130.5px,#0008ff 152.5px,#004dff 206.5px,#00a8ff 222.5px,#03fffc 233.5px,#71ff8e 246.5px,#9eff61 259.5px,#8aff75 264.5px,#57ffa8 270.5px,#00feff 276.5px,#00a0ff 284.5px,#0050ff 296.5px,#0046ff 299.5px)"></i>
<i style="top:299px;background:linear-gradient(90deg,#0000bf 0.5px,#0000d4 94.5px,#0000ed 131.5px,#0006ff 155.5px,#004dff 208.5px,#00abff 224.5px,#05fffa 235.5px,#6eff91 248.5px,#96ff69 260.5px,#82ff7d 265.5px,#50ffaf 271.5px,#08fff7 276.5px,#00ecff 278.5px,#0093ff 286.5px,#004cff 297.5px,#0046ff 299.5px)"></i>
<i style="top:300px;background:linear-gradient(90deg,#0000ba 0.5px,#0000d0 94.5px,#0000e9 132.5px,#0006ff 160.5px,#0049ff 209.5px,#00aeff 226.5px,#00fdff 236.5px,#65ff9a 249.5px,#8cff73 261.5px,#7aff85 266.5px,#48ffb7 272.5px,#01fffe 277.5px,#0095ff 286.5px,#004cff 297.5px,#0045ff 299.5px)"></i>
<i style="top:301px;background:linear-gradient(90deg,#0000b2 0.5px,#0000c8 95.5px,#0000e3 134.5px,#0005ff 168.5px,#0040ff 210.5px,#00a4ff 227.5px,#01fffe 239.5px,#56ffa9 250.5px,#7dff82 262.5px,#6cff93 267.5px,#3bffc4 273.5px,#04fffb 277.5px,#008cff 287.5px,#0047ff 297.5px,#0040ff 299.5px)"></i>
<i style="top:302px;background:linear-gradient(90deg,#0000ae 0.5px,#0000c4 95.5px,#0000de 135.5px,#0005ff 172.5px,#003fff 212.5px,#00a6ff 229.5px,#01fffe 241.5px,#51ffae 252.5px,#73ff8c 263.5px,#63ff9c 268.5px,#3fc 274.5px,#00fcff 278.5px,#008fff 287.5px,#0046ff 297.5px,#003fff 299.5px)"></i>
<i style="top:303px;background:linear-gradient(90deg,#0000ad 0.5px,#0000c3 95.5px,#0000de 136.5px,#0005ff 173.5px,#003fff 213.5px,#00acff 231.5px,#00fdff 242.5px,#51ffae 254.5px,#6fff90 265.5px,#53ffac 271.5px,#24ffdb 276.5px,#00fbff 279.5px,#008dff 288.5px,#004aff 297.5px,#0042ff 299.5px)"></i>
<i style="top:304px;background:linear-gradient(90deg,#0000b1 0.5px,#0000c6 94.5px,#0000e1 135.5px,#0005ff 170.5px,#0045ff 214.5px,#00baff 233.5px,#04fffb 243.5px,#56ffa9 255.5px,#74ff8b 266.5px,#59ffa6 272.5px,#2bffd4 277.5px,#03fffc 280.5px,#0092ff 289.5px,#004fff 298.5px,#004cff 299.5px)"></i>
<i style="top:305px;background:linear-gradient(90deg,#0000ae 0.5px,#0000c4 94.5px,#0000e0 136.5px,#0004ff 172.5px,#0043ff 215.5px,#00b7ff 234.5px,#0ff 244.5px,#50ffaf 256.5px,#6eff91 267.5px,#5fa 273.5px,#27ffd8 278.5px,#00feff 281.5px,#008fff 290.5px,#0051ff 298.5px,#004dff 299.5px)"></i>
<i style="top:306px;background:linear-gradient(90deg,#0000ae 0.5px,#0000c3 94.5px,#0000e0 138.5px,#0005ff 173.5px,#0047ff 217.5px,#00d3ff 239.5px,#05fffa 246.5px,#50ffaf 258.5px,#6bff94 268.5px,#53ffac 274.5px,#25ffda 279.5px,#00feff 282.5px,#008dff 291.5px,#05f 298.5px,#0051ff 299.5px)"></i>
<i style="top:307px;background:linear-gradient(90deg,#0000a7 0.5px,#0000bd 95.5px,#0000db 141.5px,#0005ff 179.5px,#003fff 218.5px,#00d7ff 242.5px,#01fffe 248.5px,#43ffbc 259.5px,#5effa1 269.5px,#46ffb9 275.5px,#1affe5 280.5px,#01fffe 282.5px,#0083ff 292.5px,#0052ff 298.5px,#004dff 299.5px)"></i>
<i style="top:308px;background:linear-gradient(90deg,#0000a4 0.5px,#0000ba 95.5px,#0000d9 142.5px,#0005ff 182.5px,#003cff 219.5px,#0ef 247.5px,#09fff6 251.5px,#40ffbf 261.5px,#57ffa8 270.5px,#41ffbe 276.5px,#16ffe9 281.5px,#00fdff 283.5px,#007eff 293.5px,#004fff 299.5px)"></i>
<i style="top:309px;background:linear-gradient(90deg,#0000a5 0.5px,#0000ba 94.5px,#0000da 142.5px,#0004ff 181.5px,#003eff 220.5px,#03fffc 251.5px,#42ffbd 263.5px,#5fa 272.5px,#34ffcb 279.5px,#00feff 284.5px,#007eff 294.5px,#05f 299.5px)"></i>
<i style="top:310px;background:linear-gradient(90deg,#0000a5 0.5px,#0000ba 94.5px,#0000db 144.5px,#0005ff 182.5px,#0043ff 222.5px,#03fffc 252.5px,#40ffbf 264.5px,#54ffab 273.5px,#34ffcb 280.5px,#0ff 285.5px,#007bff 295.5px,#005aff 299.5px)"></i>
<i style="top:311px;background:linear-gradient(90deg,#0000a1 0.5px,#0000b7 95.5px,#0000da 148.5px,#0005ff 185.5px,#003fff 223.5px,#03fffc 254.5px,#3bffc4 266.5px,#4cffb3 274.5px,#2dffd2 281.5px,#00f9ff 286.5px,#0074ff 296.5px,#005bff 299.5px)"></i>
<i style="top:312px;background:linear-gradient(90deg,#00009f 0.5px,#0000b5 97.5px,#0000dc 154.5px,#0006ff 188.5px,#003dff 224.5px,#0ff 255.5px,#39ffc6 268.5px,#47ffb8 275.5px,#29ffd6 282.5px,#02fffd 286.5px,#006fff 297.5px,#005fff 299.5px)"></i>
<i style="top:313px;background:linear-gradient(90deg,#00009d 0.5px,#0000b4 100.5px,#0000e3 165.5px,#0006ff 190.5px,#003cff 225.5px,#02fffd 257.5px,#39ffc6 270.5px,#42ffbd 277.5px,#25ffda 283.5px,#00fdff 287.5px,#0076ff 297.5px,#0065ff 299.5px)"></i>
<i style="top:314px;background:linear-gradient(90deg,#00009b 0.5px,#0000b4 106.5px,#0000eb 174.5px,#0006ff 193.5px,#0035ff 225.5px,#00fdff 258.5px,#3bffc4 273.5px,#3effc1 278.5px,#20ffdf 284.5px,#04fffb 287.5px,#00bfff 292.5px,#0072ff 298.5px,#006aff 299.5px)"></i>
<i style="top:315px;background:linear-gradient(90deg,#000098 0.5px,#0000b1 113.5px,#0000ea 177.5px,#0006ff 197.5px,#0031ff 226.5px,#02fffd 261.5px,#37ffc8 275.5px,#35ffca 280.5px,#1fe 286.5px,#00fbff 288.5px,#0076ff 298.5px,#006eff 299.5px)"></i>
<i style="top:316px;background:linear-gradient(90deg,#009 0.5px,#0000b3 116.5px,#0000ec 178.5px,#0006ff 197.5px,#03f 227.5px,#00fdff 261.5px,#3bffc4 277.5px,#32ffcd 282.5px,#00faff 289.5px,#0080ff 298.5px,#0078ff 299.5px)"></i>
<i style="top:317px;background:linear-gradient(90deg,#000098 0.5px,#0000b3 118.5px,#0000eb 179.5px,#0007ff 199.5px,#03f 228.5px,#02fffd 263.5px,#39ffc6 278.5px,#30ffcf 283.5px,#04fffb 289.5px,#00bfff 294.5px,#0080ff 299.5px)"></i>
<i style="top:318px;background:linear-gradient(90deg,#000098 0.5px,#0000b3 120.5px,#0000ea 179.5px,#0006ff 200.5px,#002fff 228.5px,#0ff 264.5px,#38ffc7 279.5px,#2fffd0 284.5px,#0cfff3 289.5px,#01fffe 290.5px,#0091ff 298.5px,#08f 299.5px)"></i>
<i style="top:319px;background:linear-gradient(90deg,#000097 0.5px,#0000b3 121.5px,#0000ea 180.5px,#0006ff 201.5px,#002eff 229.5px,#00feff 265.5px,#37ffc8 280.5px,#2effd1 285.5px,#00fdff 291.5px,#0090ff 299.5px)"></i>
<i style="top:320px;background:linear-gradient(90deg,#000094 0.5px,#0000b0 123.5px,#0000e6 181.5px,#0006ff 205.5px,#002bff 230.5px,#00fdff 267.5px,#32ffcd 282.5px,#1cffe3 288.5px,#02fffd 291.5px,#0095ff 299.5px)"></i>
<i style="top:321px;background:linear-gradient(90deg,#000094 0.5px,#0000b0 124.5px,#0000e6 182.5px,#0006ff 206.5px,#002bff 231.5px,#00fcff 268.5px,#32ffcd 283.5px,#1bffe4 289.5px,#0ff 292.5px,#009fff 299.5px)"></i>
</div>
<div class="h">
<i style="top:411px;background:linear-gradient(90deg,#000092 0.5px,#0000a3 134.5px,#0000c2 195.5px,#0000fa 236.5px,#0000d9 299.5px)"></i>
<i style="top:412px;background:linear-gradient(90deg,#000091 0.5px,#0000a3 134.5px,#0000c0 194.5px,#0000fa 236.5px,#0000d6 299.5px)"></i>
<i style="top:413px;background:linear-gradient(90deg,#00008f 0.5px,#0000a0 133.5px,#0000bf 194.5px,#0000f7 235.5px,#0000d1 299.5px)"></i>
<i style="top:414px;background:linear-gradient(90deg,#000095 0.5px,#0000a6 133.5px,#0000c4 193.5px,#0000fe 235.5px,#0000d5 299.5px)"></i>
<i style="top:415px;background:linear-gradient(90deg,#00008f 0.5px,#0000a1 133.5px,#0000bf 193.5px,#0000f8 235.5px,#00c 299.5px)"></i>
<i style="top:416px;background:linear-gradient(90deg,#000090 0.5px,#0000a1 133.5px,#0000c0 193.5px,#0000f8 234.5px,#0000cb 299.5px)"></i>
<i style="top:417px;background:linear-gradient(90deg,#000093 0.5px,#0000a5 133.5px,#0000c3 192.5px,#0000fc 234.5px,#00c 299.5px)"></i>
<i style="top:418px;background:linear-gradient(90deg,#000090 0.5px,#0000a1 133.5px,#0000bf 192.5px,#0000f8 233.5px,#0000c6 299.5px)"></i>
<i style="top:419px;background:linear-gradient(90deg,#00008f 0.5px,#0000a0 133.5px,#0000bf 192.5px,#0000f7 233.5px,#0000c2 299.5px)"></i>
<i style="top:420px;background:linear-gradient(90deg,#000091 0.5px,#0000a2 132.5px,#0000c0 191.5px,#0000f9 232.5px,#0000cf 279.5px,#0000c2 299.5px)"></i>
<i style="top:421px;background:linear-gradient(90deg,#000097 0.5px,#0000a8 132.5px,#0000c7 191.5px,#0001ff 231.5px,#0000e5 265.5px,#0000c7 297.5px,#0000c7 299.5px)"></i>
<i style="top:422px;background:linear-gradient(90deg,#00009c 0.5px,#0000ad 132.5px,#0000cb 190.5px,#0002ff 227.5px,#0003ff 239.5px,#0000d7 278.5px,#0000c9 299.5px)"></i>
<i style="top:423px;background:linear-gradient(90deg,#000095 0.5px,#0000a7 132.5px,#0000c5 190.5px,#0000fe 231.5px,#0000d4 273.5px,#0000c0 299.5px)"></i>
<i style="top:424px;background:linear-gradient(90deg,#000091 0.5px,#0000a2 132.5px,#0000c1 190.5px,#0000fa 231.5px,#0000ce 272.5px,#0000b9 299.5px)"></i>
<i style="top:425px;background:linear-gradient(90deg,#000094 0.5px,#0000a5 132.5px,#0000c3 189.5px,#0000fc 230.5px,#0000d3 269.5px,#0000bc 293.5px,#0000ba 299.5px)"></i>
<i style="top:426px;background:linear-gradient(90deg,#000093 0.5px,#0000a4 132.5px,#0000c3 189.5px,#0000fb 230.5px,#0000d0 269.5px,#0000ba 291.5px,#0000b6 299.5px)"></i>
<i style="top:427px;background:linear-gradient(90deg,#000095 0.5px,#0000a6 131.5px,#0000c5 189.5px,#0000fd 230.5px,#0000d1 268.5px,#0000ba 289.5px,#0000b6 299.5px)"></i>
<i style="top:428px;background:linear-gradient(90deg,#000097 0.5px,#0000a8 131.5px,#0000c7 188.5px,#00f 228.5px,#0000e7 254.5px,#0000bc 285.5px,#0000b6 299.5px)"></i>
<i style="top:429px;background:linear-gradient(90deg,#000093 0.5px,#0000a4 131.5px,#0000c3 188.5px,#0000fb 229.5px,#0000ce 266.5px,#0000b5 286.5px,#0000af 299.5px)"></i>
<i style="top:430px;background:linear-gradient(90deg,#000092 0.5px,#0000a3 131.5px,#0000c3 188.5px,#0000fb 229.5px,#0000cb 266.5px,#0000b3 285.5px,#0000ac 299.5px)"></i>
<i style="top:431px;background:linear-gradient(90deg,#000091 0.5px,#0000a2 131.5px,#0000c1 187.5px,#0000f9 228.5px,#0000cd 263.5px,#0000b0 283.5px,#0000a9 299.5px)"></i>
<i style="top:432px;background:linear-gradient(90deg,#000093 0.5px,#0000a4 131.5px,#0000c3 187.5px,#0000fb 228.5px,#0000cd 263.5px,#0000af 283.5px,#0000a8 299.5px)"></i>
<i style="top:433px;background:linear-gradient(90deg,#000094 0.5px,#0000a5 131.5px,#0000c3 186.5px,#0000fc 227.5px,#0000cf 261.5px,#0000ae 282.5px,#0000a7 299.5px)"></i>
<i style="top:434px;background:linear-gradient(90deg,#000091 0.5px,#0000a2 131.5px,#0000c1 186.5px,#0000f9 227.5px,#0000ca 261.5px,#0000a9 281.5px,#0000a1 299.5px)"></i>
<i style="top:435px;background:linear-gradient(90deg,#000092 0.5px,#0000a3 130.5px,#0000c2 186.5px,#0000fa 227.5px,#0000c8 261.5px,#0000a7 281.5px,#0000a0 299.5px)"></i>
<i style="top:436px;background:linear-gradient(90deg,#000092 0.5px,#0000a3 130.5px,#0000c2 185.5px,#0000fa 226.5px,#0000cb 259.5px,#0000a6 280.5px,#00009e 299.5px)"></i>
<i style="top:437px;background:linear-gradient(90deg,#000091 0.5px,#0000a2 130.5px,#0000c1 185.5px,#0000f9 226.5px,#0000c5 260.5px,#0000a3 279.5px,#00009b 299.5px)"></i>
<i style="top:438px;background:linear-gradient(90deg,#00008f 0.5px,#0000a0 130.5px,#0000bd 184.5px,#0000f6 225.5px,#0000c2 259.5px,#0000a0 279.5px,#000098 299.5px)"></i>
<i style="top:439px;background:linear-gradient(90deg,#00008f 0.5px,#0000a0 131.5px,#0000be 184.5px,#0000f6 224.5px,#0000cf 252.5px,#0000a0 278.5px,#000098 299.5px)"></i>
<i style="top:440px;background:linear-gradient(90deg,#000093 0.5px,#0000a4 130.5px,#0000c1 183.5px,#0000fa 224.5px,#0000c3 259.5px,#0000a2 278.5px,#00009b 299.5px)"></i>
<i style="top:441px;background:linear-gradient(90deg,#000097 0.5px,#0000a8 130.5px,#0000c6 183.5px,#0000fe 223.5px,#0000d3 252.5px,#0000a6 276.5px,#00009e 299.5px)"></i>
<i style="top:442px;background:linear-gradient(90deg,#00009a 0.5px,#0000ab 130.5px,#0000c8 182.5px,#0001ff 221.5px,#0000f5 233.5px,#0000a8 276.5px,#0000a1 299.5px)"></i>
<i style="top:443px;background:linear-gradient(90deg,#000091 0.5px,#0000a2 131.5px,#0000bf 182.5px,#0000f6 222.5px,#0000c4 254.5px,#00009e 276.5px,#000097 299.5px)"></i>
<i style="top:444px;background:linear-gradient(90deg,#000095 0.5px,#0000a6 131.5px,#0000c3 182.5px,#0000fa 221.5px,#0000da 244.5px,#0000a1 275.5px,#00009a 299.5px)"></i>
<i style="top:445px;background:linear-gradient(90deg,#009 0.5px,#0000ab 131.5px,#0000c7 181.5px,#00f 220.5px,#0000ed 235.5px,#0000a5 274.5px,#00009e 299.5px)"></i>
<i style="top:446px;background:linear-gradient(90deg,#00009c 0.5px,#0000ad 131.5px,#0000ca 181.5px,#0001ff 218.5px,#0000f7 230.5px,#0000a7 274.5px,#0000a1 299.5px)"></i>
<i style="top:447px;background:linear-gradient(90deg,#009 0.5px,#00a 131.5px,#0000c6 180.5px,#0000fe 219.5px,#0000e9 235.5px,#0000a3 273.5px,#00009d 299.5px)"></i>
<i style="top:448px;background:linear-gradient(90deg,#000095 0.5px,#0000a7 131.5px,#0000c3 180.5px,#0000fa 219.5px,#0000cf 246.5px,#00009f 272.5px,#009 299.5px)"></i>
<i style="top:449px;background:linear-gradient(90deg,#000098 0.5px,#0000a9 131.5px,#0000c4 179.5px,#0000fc 218.5px,#0000e4 235.5px,#0000a0 272.5px,#00009a 299.5px)"></i>
<i style="top:450px;background:linear-gradient(90deg,#00009a 0.5px,#0000ab 131.5px,#0000c6 179.5px,#0000fd 217.5px,#0000ed 230.5px,#0000a1 271.5px,#00009c 299.5px)"></i>
<i style="top:451px;background:linear-gradient(90deg,#009 0.5px,#00a 131.5px,#0000c4 178.5px,#0000fc 216.5px,#0000f1 227.5px,#0000a0 270.5px,#00009a 299.5px)"></i>
<i style="top:452px;background:linear-gradient(90deg,#009 0.5px,#00a 131.5px,#0000c5 178.5px,#0000fc 216.5px,#0000eb 229.5px,#00009e 270.5px,#00009a 299.5px)"></i>
<i style="top:453px;background:linear-gradient(90deg,#000096 0.5px,#0000a7 132.5px,#0000c0 177.5px,#0000f8 215.5px,#0000ec 226.5px,#00009b 269.5px,#000096 299.5px)"></i>
<i style="top:454px;background:linear-gradient(90deg,#00009e 0.5px,#0000af 131.5px,#0000ca 177.5px,#00f 213.5px,#0000f8 224.5px,#0000a2 269.5px,#00009e 299.5px)"></i>
<i style="top:455px;background:linear-gradient(90deg,#0000a0 0.5px,#0000b1 132.5px,#0000ca 176.5px,#00f 211.5px,#0000f9 223.5px,#0000a3 268.5px,#00009e 299.5px)"></i>
<i style="top:456px;background:linear-gradient(90deg,#00009b 0.5px,#0000ac 132.5px,#0000c6 176.5px,#0000fc 213.5px,#0000f3 223.5px,#00009d 267.5px,#009 299.5px)"></i>
<i style="top:457px;background:linear-gradient(90deg,#00009c 0.5px,#0000ad 132.5px,#0000c5 175.5px,#0000fc 212.5px,#0000f6 221.5px,#00009d 267.5px,#009 299.5px)"></i>
<i style="top:458px;background:linear-gradient(90deg,#00009b 0.5px,#0000ac 132.5px,#0000c4 175.5px,#0000fb 212.5px,#0000f0 222.5px,#00009b 266.5px,#000098 299.5px)"></i>
<i style="top:459px;background:linear-gradient(90deg,#009 0.5px,#00a 132.5px,#0000c1 174.5px,#0000f8 211.5px,#0000f1 220.5px,#000098 266.5px,#000095 299.5px)"></i>
<i style="top:460px;background:linear-gradient(90deg,#00009c 0.5px,#0000ad 132.5px,#0000c5 174.5px,#0000fb 210.5px,#0000f5 219.5px,#00009a 265.5px,#000097 299.5px)"></i>
<i style="top:461px;background:linear-gradient(90deg,#00009e 0.5px,#0000b0 132.5px,#0000c6 173.5px,#0000fd 209.5px,#0000f8 218.5px,#00009c 264.5px,#009 299.5px)"></i>
<i style="top:462px;background:linear-gradient(90deg,#00009b 0.5px,#0000ad 133.5px,#0000c4 173.5px,#0000fa 209.5px,#0000f3 218.5px,#000098 264.5px,#000096 299.5px)"></i>
<i style="top:463px;background:linear-gradient(90deg,#00009b 0.5px,#0000ac 133.5px,#0000c1 172.5px,#0000f8 208.5px,#0000f2 217.5px,#000097 263.5px,#000094 299.5px)"></i>
<i style="top:464px;background:linear-gradient(90deg,#00009c 0.5px,#0000ae 133.5px,#0000c4 172.5px,#0000f9 207.5px,#0000f5 216.5px,#000098 262.5px,#000095 299.5px)"></i>
<i style="top:465px;background:linear-gradient(90deg,#00009f 0.5px,#0000b1 133.5px,#0000c6 171.5px,#0000fc 206.5px,#0000f9 215.5px,#00009a 261.5px,#000098 299.5px)"></i>
<i style="top:466px;background:linear-gradient(90deg,#0000a1 0.5px,#0000b2 133.5px,#0000c8 171.5px,#0000fe 206.5px,#0000f9 215.5px,#00009b 260.5px,#009 299.5px)"></i>
<i style="top:467px;background:linear-gradient(90deg,#00009d 0.5px,#0000af 133.5px,#0000c5 171.5px,#0000fa 206.5px,#0000f5 214.5px,#000097 259.5px,#000095 299.5px)"></i>
<i style="top:468px;background:linear-gradient(90deg,#00009f 0.5px,#0000b0 133.5px,#0000c5 170.5px,#0000fa 204.5px,#0000fa 212.5px,#000098 258.5px,#000095 299.5px)"></i>
<i style="top:469px;background:linear-gradient(90deg,#00009d 0.5px,#0000af 133.5px,#0000c4 170.5px,#0000f8 204.5px,#0000f6 212.5px,#000098 256.5px,#000093 299.5px)"></i>
<i style="top:470px;background:linear-gradient(90deg,#000098 0.5px,#00a 133.5px,#0000be 169.5px,#0000f3 204.5px,#0000ef 212.5px,#000093 255.5px,#00008e 299.5px)"></i>
<i style="top:471px;background:linear-gradient(90deg,#00009c 0.5px,#0000ad 133.5px,#0000c2 169.5px,#0000f7 204.5px,#0000f1 212.5px,#009 253.5px,#000091 271.5px,#000091 299.5px)"></i>
<i style="top:472px;background:linear-gradient(90deg,#00009e 0.5px,#0000b0 132.5px,#0000c6 169.5px,#0000fa 204.5px,#0000f1 213.5px,#00009f 251.5px,#000094 265.5px,#000094 299.5px)"></i>
<i style="top:473px;background:linear-gradient(90deg,#0000a0 0.5px,#0000b1 131.5px,#0000c7 168.5px,#0000fb 203.5px,#0000f6 211.5px,#0000a8 247.5px,#000095 262.5px,#000095 299.5px)"></i>
<i style="top:474px;background:linear-gradient(90deg,#00009f 0.5px,#0000b0 131.5px,#0000c7 168.5px,#0000fb 204.5px,#0000ea 215.5px,#0000a3 249.5px,#000095 263.5px,#000095 299.5px)"></i>
<i style="top:475px;background:linear-gradient(90deg,#00009b 0.5px,#0000ab 130.5px,#0000c3 168.5px,#0000f6 204.5px,#0000dc 218.5px,#000094 255.5px,#000090 299.5px)"></i>
<i style="top:476px;background:linear-gradient(90deg,#00009e 0.5px,#0000af 129.5px,#0000c7 167.5px,#0000fa 203.5px,#0000eb 213.5px,#0000ab 243.5px,#000094 261.5px,#000094 299.5px)"></i>
<i style="top:477px;background:linear-gradient(90deg,#00009e 0.5px,#0000af 129.5px,#0000c7 167.5px,#0000fa 203.5px,#0000e2 216.5px,#0000a5 246.5px,#000094 262.5px,#000094 299.5px)"></i>
<i style="top:478px;background:linear-gradient(90deg,#00009d 0.5px,#0000ae 128.5px,#0000c8 167.5px,#0000f9 203.5px,#00c 224.5px,#000093 259.5px,#000093 299.5px)"></i>
<i style="top:479px;background:linear-gradient(90deg,#0000a3 0.5px,#0000b4 128.5px,#0000cf 167.5px,#00f 202.5px,#0000ea 214.5px,#0000b2 241.5px,#009 260.5px,#009 299.5px)"></i>
<i style="top:480px;background:linear-gradient(90deg,#0000a5 0.5px,#0000b5 127.5px,#0000d0 166.5px,#0001ff 201.5px,#0000f4 210.5px,#0000b9 237.5px,#00009a 260.5px,#00009a 299.5px)"></i>
<i style="top:481px;background:linear-gradient(90deg,#0000a3 0.5px,#0000b3 127.5px,#0000cf 166.5px,#0000fe 202.5px,#0000b3 239.5px,#000098 260.5px,#000098 299.5px)"></i>
<i style="top:482px;background:linear-gradient(90deg,#0000a5 0.5px,#0000b6 127.5px,#0000d2 166.5px,#0001ff 200.5px,#0000f4 209.5px,#00b 235.5px,#00009b 259.5px,#00009b 299.5px)"></i>
<i style="top:483px;background:linear-gradient(90deg,#0000a4 0.5px,#0000b4 126.5px,#0000d2 166.5px,#00f 201.5px,#0000b6 237.5px,#009 260.5px,#009 299.5px)"></i>
<i style="top:484px;background:linear-gradient(90deg,#0000a3 0.5px,#0000b3 126.5px,#0000d2 166.5px,#0000fe 201.5px,#0000b7 235.5px,#009 259.5px,#009 299.5px)"></i>
<i style="top:485px;background:linear-gradient(90deg,#0000a3 0.5px,#0000b4 126.5px,#0000d3 166.5px,#0000fe 201.5px,#0000b8 234.5px,#009 259.5px,#009 299.5px)"></i>
<i style="top:486px;background:linear-gradient(90deg,#0000a6 0.5px,#0000b6 125.5px,#0000d7 166.5px,#0002ff 199.5px,#0000f2 208.5px,#0000bd 232.5px,#00009c 259.5px,#00009c 299.5px)"></i>
<i style="top:487px;background:linear-gradient(90deg,#00009f 0.5px,#0000af 125.5px,#0000d0 166.5px,#0000f8 200.5px,#0000b5 232.5px,#000095 259.5px,#000095 299.5px)"></i>
<i style="top:488px;background:linear-gradient(90deg,#0000a4 0.5px,#0000b4 125.5px,#0000d6 166.5px,#0000fd 200.5px,#0000ba 231.5px,#009 259.5px,#009 299.5px)"></i>
<i style="top:489px;background:linear-gradient(90deg,#0000a6 0.5px,#0000b6 124.5px,#0000da 166.5px,#0001ff 199.5px,#00b 232.5px,#00009c 259.5px,#00009c 299.5px)"></i>
<i style="top:490px;background:linear-gradient(90deg,#0000a1 0.5px,#0000b2 124.5px,#0000d6 166.5px,#0000f9 200.5px,#0000b9 229.5px,#000097 259.5px,#000097 299.5px)"></i>
<i style="top:491px;background:linear-gradient(90deg,#0000a5 0.5px,#0000bc 123.5px,#0000fe 199.5px,#0000bc 229.5px,#00009b 259.5px,#00009a 299.5px)"></i>
<i style="top:492px;background:linear-gradient(90deg,#00a 0.5px,#0000b6 14.5px,#0000d5 110.5px,#0005ff 149.5px,#000aff 187.5px,#0003ff 201.5px,#0000c5 228.5px,#0000a4 259.5px,#00009e 299.5px)"></i>
<i style="top:493px;background:linear-gradient(90deg,#0000c1 0.5px,#0000d3 11.5px,#0000f9 76.5px,#001bff 106.5px,#005cff 135.5px,#0080ff 151.5px,#006eff 165.5px,#001fff 194.5px,#0000fb 207.5px,#0000d3 228.5px,#0000b3 262.5px,#0000a6 299.5px)"></i>
<i style="top:494px;background:linear-gradient(90deg,#0000f8 0.5px,#0000f6 11.5px,#000aff 34.5px,#0030ff 71.5px,#007fff 109.5px,#00d8ff 132.5px,#03fffc 141.5px,#1fffe0 150.5px,#16ffe9 157.5px,#00fbff 163.5px,#0042ff 191.5px,#0000fd 209.5px,#0000d7 238.5px,#0000b4 293.5px,#0000b3 299.5px)"></i>
<i style="top:495px;background:linear-gradient(90deg,#0009ff 0.5px,#000eff 13.5px,#0053ff 69.5px,#00baff 107.5px,#02fffd 122.5px,#8cff73 146.5px,#95ff6a 153.5px,#67ff98 162.5px,#00fdff 173.5px,#05f 190.5px,#00f 208.5px,#0000e8 224.5px,#0000b2 299.5px)"></i>
<i style="top:496px;background:linear-gradient(90deg,#000bff 0.5px,#0063ff 68.5px,#00d5ff 106.5px,#06fff9 115.5px,#69ff96 130.5px,#c4ff3b 144.5px,#d4ff2b 152.5px,#b4ff4b 159.5px,#7fff80 165.5px,#05fffa 175.5px,#0081ff 186.5px,#0053ff 191.5px,#0000fd 208.5px,#0000e6 228.5px,#0000b0 299.5px)"></i>
<i style="top:497px;background:linear-gradient(90deg,#0017ff 0.5px,#0075ff 68.5px,#00efff 106.5px,#07fff8 110.5px,#5effa1 123.5px,#daff25 139.5px,#feff01 147.5px,#fffd00 153.5px,#d2ff2d 161.5px,#7dff82 168.5px,#00fdff 177.5px,#0073ff 188.5px,#0041ff 196.5px,#00f 210.5px,#0000b8 299.5px)"></i>
<i style="top:498px;background:linear-gradient(90deg,#001cff 0.5px,#007cff 68.5px,#00f4ff 105.5px,#08fff7 108.5px,#64ff9b 121.5px,#e5ff1a 136.5px,#fffb00 141.5px,#ffe100 150.5px,#fe0 155.5px,#f8ff07 159.5px,#c8ff37 164.5px,#00feff 177.5px,#0070ff 188.5px,#0030ff 199.5px,#00f 210.5px,#0000b8 299.5px)"></i>
<i style="top:499px;background:linear-gradient(90deg,#001aff 0.5px,#007bff 68.5px,#00f1ff 104.5px,#05fffa 107.5px,#5effa1 119.5px,#dcff23 132.5px,#ff0 137.5px,#ffdc00 146.5px,#ffd700 152.5px,#feff01 160.5px,#d5ff2a 164.5px,#09fff6 176.5px,#00e9ff 178.5px,#0070ff 187.5px,#0042ff 194.5px,#0000fd 208.5px,#0000b4 299.5px)"></i>
<i style="top:500px;background:linear-gradient(90deg,#001eff 0.5px,#0082ff 68.5px,#00faff 104.5px,#1effe1 109.5px,#71ff8e 119.5px,#fcff03 132.5px,#ffc600 142.5px,#ffb600 151.5px,#ffdb00 159.5px,#ff0 163.5px,#83ff7c 170.5px,#00fdff 177.5px,#006fff 187.5px,#0037ff 196.5px,#00f 207.5px,#0000b5 299.5px)"></i>
<i style="top:501px;background:linear-gradient(90deg,#0023ff 0.5px,#0089ff 68.5px,#03fffc 104.5px,#6dff92 117.5px,#fdff02 129.5px,#ffb900 137.5px,#ff9b00 144.5px,#ff9300 152.5px,#ffc500 161.5px,#ffea00 164.5px,#fffd00 165.5px,#07fff8 177.5px,#00c5ff 181.5px,#0071ff 187.5px,#01f 203.5px,#0000fc 208.5px,#0000b6 299.5px)"></i>
<i style="top:502px;background:linear-gradient(90deg,#0027ff 0.5px,#008eff 68.5px,#03fffc 103.5px,#70ff8f 116.5px,#ff0 127.5px,#ffad00 134.5px,#ff7e00 141.5px,#ff6e00 151.5px,#f90 160.5px,#ffb700 163.5px,#fff100 166.5px,#f6ff09 167.5px,#2fd 176.5px,#00fbff 178.5px,#007cff 186.5px,#0049ff 193.5px,#0001ff 206.5px,#0000b6 299.5px)"></i>
<i style="top:503px;background:linear-gradient(90deg,#002cff 0.5px,#0098ff 69.5px,#03fffc 102.5px,#75ff8a 115.5px,#fffe00 125.5px,#ff9a00 132.5px,#ff5f00 139.5px,#ff4900 151.5px,#ff7000 160.5px,#ff8f00 163.5px,#ffcd00 166.5px,#feff01 168.5px,#2cffd3 176.5px,#03fffc 178.5px,#0087ff 185.5px,#0059ff 190.5px,#0002ff 205.5px,#0000b6 299.5px)"></i>
<i style="top:504px;background:linear-gradient(90deg,#0030ff 0.5px,#009fff 69.5px,#0ff 100.5px,#5dffa2 111.5px,#a5ff5a 117.5px,#fffb00 123.5px,#ff7800 131.5px,#f40 136.5px,#ff2a00 142.5px,#ff2000 153.5px,#ff3b00 160.5px,#ff5b00 163.5px,#ff9d00 166.5px,#fff300 169.5px,#edff12 170.5px,#3fffc0 176.5px,#0efff1 178.5px,#00f6ff 179.5px,#0091ff 184.5px,#005dff 188.5px,#000fff 201.5px,#0000fc 205.5px,#0000e2 230.5px,#0000b6 299.5px)"></i>
<i style="top:505px;background:linear-gradient(90deg,#002cff 0.5px,#00a2ff 70.5px,#00f9ff 99.5px,#10ffef 102.5px,#7bff84 113.5px,#f9ff06 121.5px,#ff8c00 128.5px,#ff4500 133.5px,#ff2500 138.5px,#ff0800 155.5px,#f10 159.5px,#ff2d00 162.5px,#ff6500 165.5px,#fe0 170.5px,#f1ff0e 171.5px,#14ffeb 178.5px,#00f6ff 179.5px,#0094ff 183.5px,#004fff 187.5px,#0028ff 191.5px,#0000fd 201.5px,#0000d8 217.5px,#0000b0 299.5px)"></i>
<i style="top:506px;background:linear-gradient(90deg,#0035ff 0.5px,#00aeff 70.5px,#01fffe 98.5px,#6aff95 110.5px,#acff53 115.5px,#f3ff0c 119.5px,#fff800 120.5px,#ff5d00 128.5px,#ff1300 133.5px,#fd0000 136.5px,#c00 157.5px,#dc0000 160.5px,#ff0700 163.5px,#ff6500 167.5px,#ffe500 171.5px,#f6ff09 172.5px,#03fffc 179.5px,#0096ff 183.5px,#004bff 187.5px,#001fff 191.5px,#0000fc 201.5px,#0000d4 218.5px,#0000b5 299.5px)"></i>
<i style="top:507px;background:linear-gradient(90deg,#0037ff 0.5px,#00b4ff 71.5px,#03fffc 98.5px,#7f8 111.5px,#c1ff3e 116.5px,#f7ff08 119.5px,#ffdf00 121.5px,#ff4600 129.5px,#ff0c00 133.5px,#fa0000 135.5px,#ba0000 157.5px,#ce0000 160.5px,#fe0000 163.5px,#ff5f00 167.5px,#fbff04 172.5px,#04fffb 179.5px,#007fff 184.5px,#003aff 188.5px,#001cff 191.5px,#0000fb 201.5px,#0000d3 218.5px,#0000b5 299.5px)"></i>
<i style="top:508px;background:linear-gradient(90deg,#0038ff 0.5px,#00b5ff 71.5px,#02fffd 98.5px,#81ff7e 112.5px,#e2ff1d 118.5px,#fff600 120.5px,#ff4b00 129.5px,#ff0600 134.5px,#f00000 138.5px,#b40000 156.5px,#c00000 159.5px,#ff0300 163.5px,#ff6400 167.5px,#f9ff06 172.5px,#03fffc 179.5px,#0094ff 183.5px,#0047ff 187.5px,#0021ff 190.5px,#0003ff 198.5px,#0000d1 218.5px,#0000b4 299.5px)"></i>
<i style="top:509px;background:linear-gradient(90deg,#003aff 0.5px,#00b7ff 71.5px,#04fffb 98.5px,#82ff7d 112.5px,#e3ff1c 118.5px,#fff600 120.5px,#ff5b00 128.5px,#ff1000 133.5px,#fc0000 135.5px,#ab0000 155.5px,#af0000 158.5px,#d70000 161.5px,#ff0200 163.5px,#ff8100 168.5px,#f9ff06 172.5px,#03fffc 179.5px,#0094ff 183.5px,#0047ff 187.5px,#02f 190.5px,#0003ff 198.5px,#0000d1 218.5px,#0000b4 299.5px)"></i>
<i style="top:510px;background:linear-gradient(90deg,#0035ff 0.5px,#00b3ff 72.5px,#00f5ff 97.5px,#0bfff4 100.5px,#78ff87 112.5px,#faff05 120.5px,#ff4600 131.5px,#ff1800 135.5px,#f90000 141.5px,#c10000 155.5px,#c60000 158.5px,#f10000 161.5px,#ff0700 162.5px,#f90 168.5px,#fff300 171.5px,#ebff14 172.5px,#1bffe4 178.5px,#00f9ff 179.5px,#008cff 183.5px,#0040ff 187.5px,#001bff 190.5px,#0000fe 197.5px,#0000cb 218.5px,#0000ae 299.5px)"></i>
<i style="top:511px;background:linear-gradient(90deg,#003fff 0.5px,#00beff 72.5px,#01fffe 97.5px,#78ff87 111.5px,#c1ff3e 116.5px,#f7ff08 119.5px,#ffe000 121.5px,#ff4800 129.5px,#ff0200 134.5px,#a30000 154.5px,#a60000 158.5px,#d20000 161.5px,#fe0000 163.5px,#ff7f00 168.5px,#fbff04 172.5px,#04fffb 179.5px,#0095ff 183.5px,#0048ff 187.5px,#02f 190.5px,#0004ff 198.5px,#0000d2 219.5px,#0000b5 299.5px)"></i>
<i style="top:512px;background:linear-gradient(90deg,#0041ff 0.5px,#00c1ff 73.5px,#02fffd 97.5px,#78ff87 111.5px,#c0ff3f 116.5px,#f6ff09 119.5px,#ffe100 121.5px,#ff4900 129.5px,#ff0400 134.5px,#a30000 154.5px,#a70000 158.5px,#d30000 161.5px,#f00 163.5px,#ff8000 168.5px,#faff05 172.5px,#03fffc 179.5px,#0094ff 183.5px,#0047ff 187.5px,#02f 190.5px,#0004ff 198.5px,#0000d1 219.5px,#0000b4 299.5px)"></i>
<i style="top:513px;background:linear-gradient(90deg,#003eff 0.5px,#00bdff 73.5px,#02fffd 98.5px,#7dff82 112.5px,#edff12 119.5px,#ff0 120.5px,#ff4b00 130.5px,#ff1600 134.5px,#fb0000 138.5px,#b50000 154.5px,#b90000 158.5px,#e50000 161.5px,#fb0000 162.5px,#ff7500 167.5px,#ffed00 171.5px,#f1ff0e 172.5px,#00fcff 179.5px,#008fff 183.5px,#0042ff 187.5px,#001dff 190.5px,#0002ff 197.5px,#0000ce 218.5px,#0000b0 299.5px)"></i>
<i style="top:514px;background:linear-gradient(90deg,#0043ff 0.5px,#00c3ff 73.5px,#01fffe 97.5px,#7f8 111.5px,#bfff40 116.5px,#f3ff0c 119.5px,#fff800 120.5px,#ff4f00 129.5px,#ff0a00 134.5px,#fa0000 136.5px,#a80000 154.5px,#ad0000 158.5px,#d90000 161.5px,#ff0700 163.5px,#ff8600 168.5px,#ffe500 171.5px,#f6ff09 172.5px,#01fffe 179.5px,#0092ff 183.5px,#0046ff 187.5px,#0020ff 190.5px,#0002ff 198.5px,#0000d0 218.5px,#0000b3 299.5px)"></i>
<i style="top:515px;background:linear-gradient(90deg,#0048ff 0.5px,#00caff 74.5px,#01fffe 96.5px,#4effb1 106.5px,#94ff6b 113.5px,#f9ff06 119.5px,#ffca00 122.5px,#ff4500 129.5px,#ff0a00 133.5px,#f60000 135.5px,#9f0000 153.5px,#9b0000 157.5px,#b00 160.5px,#fb0000 163.5px,#ff5f00 167.5px,#fcff03 172.5px,#05fffa 179.5px,#0080ff 184.5px,#003aff 188.5px,#001cff 191.5px,#0000fb 201.5px,#0000d3 218.5px,#0000b5 299.5px)"></i>
<i style="top:516px;background:linear-gradient(90deg,#0053ff 0.5px,#00d9ff 75.5px,#04fffb 93.5px,#20ffdf 99.5px,#94ff6b 112.5px,#f6ff09 118.5px,#fff400 119.5px,#ff4700 127.5px,#ff0300 131.5px,#c00 136.5px,#800000 152.5px,#800000 158.5px,#970000 160.5px,#f00000 164.5px,#ff0900 165.5px,#ff5d00 168.5px,#fff100 172.5px,#e7ff18 173.5px,#10ffef 179.5px,#00f0ff 180.5px,#0089ff 184.5px,#0043ff 188.5px,#0025ff 191.5px,#0000fb 204.5px,#0000db 218.5px,#0000bd 299.5px)"></i>
<i style="top:517px;background:linear-gradient(90deg,#0054ff 0.5px,#00d9ff 75.5px,#04fffb 93.5px,#20ffdf 99.5px,#94ff6b 112.5px,#f5ff0a 118.5px,#fff600 119.5px,#ff3800 128.5px,#ff0600 131.5px,#d60000 135.5px,#800000 152.5px,#800000 158.5px,#ae0000 161.5px,#f30000 164.5px,#ff0d00 165.5px,#ff6000 168.5px,#fff300 172.5px,#e6ff19 173.5px,#0ffff0 179.5px,#0ef 180.5px,#08f 184.5px,#0042ff 188.5px,#0024ff 191.5px,#0000fb 204.5px,#0000da 218.5px,#0000bc 299.5px)"></i>
<i style="top:518px;background:linear-gradient(90deg,#004eff 0.5px,#00d4ff 76.5px,#04fffb 96.5px,#6aff95 109.5px,#a5ff5a 114.5px,#faff05 119.5px,#ffb400 123.5px,#f30 130.5px,#fc0000 134.5px,#a90000 149.5px,#960000 156.5px,#a90000 159.5px,#e20000 162.5px,#f90000 163.5px,#ff4300 166.5px,#fb0 170.5px,#fdff02 172.5px,#05fffa 179.5px,#0080ff 184.5px,#003aff 188.5px,#001cff 191.5px,#0000fc 201.5px,#0000d3 218.5px,#0000b6 299.5px)"></i>
<i style="top:519px;background:linear-gradient(90deg,#004aff 0.5px,#00d0ff 77.5px,#03fffc 97.5px,#76ff89 111.5px,#cdff32 117.5px,#fffe00 120.5px,#ff4a00 130.5px,#ff1400 134.5px,#fe0000 137.5px,#b10000 153.5px,#af0000 157.5px,#cf0000 160.5px,#f90000 162.5px,#ff4100 165.5px,#ffcb00 170.5px,#ffec00 171.5px,#f1ff0e 172.5px,#00fdff 179.5px,#008fff 183.5px,#0043ff 187.5px,#001eff 190.5px,#0000fe 198.5px,#0000ce 218.5px,#0000b1 299.5px)"></i>
<i style="top:520px;background:linear-gradient(90deg,#004bff 0.5px,#00d5ff 79.5px,#03fffc 97.5px,#75ff8a 111.5px,#cf3 117.5px,#ff0 120.5px,#ff4c00 130.5px,#ff1600 134.5px,#fa0000 138.5px,#b30000 153.5px,#b10000 157.5px,#d10000 160.5px,#fb0000 162.5px,#ff7600 167.5px,#ffed00 171.5px,#f0ff0f 172.5px,#00fcff 179.5px,#008fff 183.5px,#0042ff 187.5px,#001dff 190.5px,#0002ff 197.5px,#0000cd 218.5px,#0000b0 299.5px)"></i>
<i style="top:521px;background:linear-gradient(90deg,#004eff 0.5px,#00daff 80.5px,#05fffa 97.5px,#7f8 111.5px,#ceff31 117.5px,#fffd00 120.5px,#ff4900 130.5px,#ff1300 134.5px,#fc0000 137.5px,#b10000 152.5px,#ad0000 157.5px,#ce0000 160.5px,#f70000 162.5px,#ff2700 164.5px,#ffac00 169.5px,#ffeb00 171.5px,#f2ff0d 172.5px,#00fdff 179.5px,#0090ff 183.5px,#0043ff 187.5px,#001eff 190.5px,#00f 198.5px,#0000ce 218.5px,#0000b1 299.5px)"></i>
<i style="top:522px;background:linear-gradient(90deg,#004fff 0.5px,#00deff 82.5px,#05fffa 97.5px,#76ff89 111.5px,#cf3 117.5px,#ff0 120.5px,#ff4c00 130.5px,#ff1700 134.5px,#fa0000 138.5px,#b40000 152.5px,#b00000 157.5px,#d10000 160.5px,#fb0000 162.5px,#ff7600 167.5px,#ffed00 171.5px,#f0ff0f 172.5px,#00fcff 179.5px,#008eff 183.5px,#0042ff 187.5px,#001dff 190.5px,#0001ff 197.5px,#0000cd 218.5px,#0000b0 299.5px)"></i>
<i style="top:523px;background:linear-gradient(90deg,#004fff 0.5px,#00e4ff 85.5px,#04fffb 97.5px,#75ff8a 111.5px,#dbff24 118.5px,#fcff03 120.5px,#ff4100 131.5px,#ff1300 135.5px,#f90000 139.5px,#b80000 152.5px,#b40000 157.5px,#d60000 160.5px,#ff0100 162.5px,#ff9600 168.5px,#fff000 171.5px,#edff12 172.5px,#1cffe3 178.5px,#00faff 179.5px,#008dff 183.5px,#0041ff 187.5px,#001cff 190.5px,#00f 197.5px,#00c 218.5px,#0000af 299.5px)"></i>
<i style="top:524px;background:linear-gradient(90deg,#0053ff 0.5px,#0ef 89.5px,#01fffe 96.5px,#7f8 111.5px,#df2 118.5px,#ff0 120.5px,#ff4d00 130.5px,#ff1700 134.5px,#f00 137.5px,#b20000 152.5px,#af0000 157.5px,#d10000 160.5px,#fb0000 162.5px,#f70 167.5px,#fe0 171.5px,#f0ff0f 172.5px,#00fcff 179.5px,#008eff 183.5px,#0042ff 187.5px,#001dff 190.5px,#0001ff 197.5px,#0000cd 218.5px,#0000b0 299.5px)"></i>
<i style="top:525px;background:linear-gradient(90deg,#0056ff 0.5px,#00f9ff 93.5px,#09fff6 97.5px,#7aff85 111.5px,#dfff20 118.5px,#fffc00 120.5px,#ff4800 130.5px,#ff1200 134.5px,#fa0000 137.5px,#ac0000 152.5px,#a00 157.5px,#c00 160.5px,#f60000 162.5px,#ff2600 164.5px,#ffab00 169.5px,#ffeb00 171.5px,#f2ff0d 172.5px,#00fdff 179.5px,#0090ff 183.5px,#0043ff 187.5px,#001eff 190.5px,#00f 198.5px,#0000ce 218.5px,#0000b1 299.5px)"></i>
<i style="top:526px;background:linear-gradient(90deg,#0057ff 0.5px,#00fbff 94.5px,#10ffef 98.5px,#79ff86 111.5px,#deff21 118.5px,#fffe00 120.5px,#ff4b00 130.5px,#ff1500 134.5px,#fd0000 137.5px,#ae0000 152.5px,#ac0000 157.5px,#ce0000 160.5px,#f90000 162.5px,#ff4200 165.5px,#fc0 170.5px,#ffec00 171.5px,#f1ff0e 172.5px,#00fcff 179.5px,#008fff 183.5px,#0043ff 187.5px,#001dff 190.5px,#0000fe 198.5px,#0000ce 218.5px,#0000b0 299.5px)"></i>
<i style="top:527px;background:linear-gradient(90deg,#0058ff 0.5px,#00fbff 94.5px,#0ffff0 98.5px,#78ff87 111.5px,#dcff23 118.5px,#feff01 120.5px,#ff4000 131.5px,#ff1000 135.5px,#fc0000 138.5px,#b20000 152.5px,#b10000 157.5px,#d30000 160.5px,#fd0000 162.5px,#ff9400 168.5px,#ffef00 171.5px,#ef1 172.5px,#1dffe2 178.5px,#00fbff 179.5px,#008dff 183.5px,#0041ff 187.5px,#001cff 190.5px,#0001ff 197.5px,#0000cd 218.5px,#0000af 299.5px)"></i>
<i style="top:528px;background:linear-gradient(90deg,#005dff 0.5px,#04fffb 95.5px,#62ff9d 108.5px,#96ff69 113.5px,#fffa00 120.5px,#ff5300 129.5px,#ff0d00 134.5px,#f50000 137.5px,#a70000 151.5px,#a30000 157.5px,#c60000 160.5px,#f10000 162.5px,#ff0900 163.5px,#ff8900 168.5px,#ffe800 171.5px,#f5ff0a 172.5px,#0ff 179.5px,#0091ff 183.5px,#0045ff 187.5px,#001fff 190.5px,#0001ff 198.5px,#0000cf 218.5px,#0000b2 299.5px)"></i>
<i style="top:529px;background:linear-gradient(90deg,#0067ff 0.5px,#05fffa 91.5px,#19ffe6 97.5px,#89ff76 111.5px,#dfff20 117.5px,#fffc00 119.5px,#ff4700 128.5px,#ff0700 132.5px,#e50000 135.5px,#870000 151.5px,#830000 157.5px,#a70000 160.5px,#ff0400 164.5px,#ff6e00 168.5px,#fffa00 172.5px,#0afff5 179.5px,#00cdff 181.5px,#0070ff 185.5px,#0031ff 189.5px,#0017ff 193.5px,#0000fa 203.5px,#0000d6 218.5px,#0000b9 299.5px)"></i>
<i style="top:530px;background:linear-gradient(90deg,#005fff 0.5px,#03fffc 95.5px,#68ff97 109.5px,#a1ff5e 114.5px,#fffe00 120.5px,#ff4c00 130.5px,#ff1600 134.5px,#fe0000 137.5px,#b00000 151.5px,#a00 156.5px,#c20000 159.5px,#f00 162.5px,#ff9800 168.5px,#fff400 171.5px,#e9ff16 172.5px,#17ffe8 178.5px,#00f5ff 179.5px,#008aff 183.5px,#003fff 187.5px,#001bff 190.5px,#0000fd 198.5px,#0000cd 218.5px,#0000b0 299.5px)"></i>
<i style="top:531px;background:linear-gradient(90deg,#0060ff 0.5px,#01fffe 95.5px,#6f9 109.5px,#a0ff5f 114.5px,#ff0 120.5px,#ff5100 130.5px,#ff1300 135.5px,#f80000 139.5px,#b70000 151.5px,#ba0000 156.5px,#df0000 159.5px,#f30000 160.5px,#ff0a00 161.5px,#ffa300 167.5px,#fffd00 170.5px,#13ffec 177.5px,#00f2ff 178.5px,#0089ff 182.5px,#003eff 186.5px,#0014ff 190.5px,#0000fa 198.5px,#00c 218.5px,#0000af 299.5px)"></i>
<i style="top:532px;background:linear-gradient(90deg,#006aff 0.5px,#04fffb 94.5px,#37ffc8 102.5px,#81ff7e 111.5px,#e9ff16 118.5px,#fbff04 119.5px,#ff4c00 129.5px,#ff0800 134.5px,#f70000 136.5px,#a00 150.5px,#ab0000 154.5px,#cb0000 157.5px,#f20000 159.5px,#ff0a00 160.5px,#ff8c00 165.5px,#ffea00 168.5px,#f3ff0c 169.5px,#02fffd 176.5px,#0096ff 180.5px,#003bff 185.5px,#0016ff 189.5px,#0000fa 199.5px,#0000d0 218.5px,#0000b3 299.5px)"></i>
<i style="top:533px;background:linear-gradient(90deg,#006fff 0.5px,#04fffb 94.5px,#37ffc8 102.5px,#81ff7e 111.5px,#ebff14 118.5px,#fdff02 119.5px,#ff5b00 128.5px,#ff0800 134.5px,#f80000 136.5px,#ae0000 150.5px,#b00000 153.5px,#d00000 156.5px,#f70000 158.5px,#ff2600 160.5px,#ffae00 165.5px,#fe0 167.5px,#efff10 168.5px,#00fdff 175.5px,#0095ff 179.5px,#003aff 184.5px,#001bff 187.5px,#0000fb 198.5px,#0000d0 219.5px,#0000b3 299.5px)"></i>
<i style="top:534px;background:linear-gradient(90deg,#0076ff 0.5px,#05fffa 93.5px,#25ffda 99.5px,#85ff7a 111.5px,#dfff20 117.5px,#fffb00 119.5px,#ff6200 127.5px,#ff0a00 133.5px,#f00 134.5px,#af0000 148.5px,#a90000 152.5px,#be0000 155.5px,#f50000 158.5px,#ff0d00 159.5px,#ff9000 164.5px,#fff200 167.5px,#ebff14 168.5px,#1affe5 174.5px,#00f9ff 175.5px,#0093ff 179.5px,#0039ff 184.5px,#001cff 187.5px,#0000fa 199.5px,#0000d2 219.5px,#0000b5 299.5px)"></i>
<i style="top:535px;background:linear-gradient(90deg,#007dff 0.5px,#04fffb 90.5px,#16ffe9 96.5px,#8bff74 111.5px,#e5ff1a 117.5px,#f7ff08 118.5px,#ffe100 120.5px,#ff5700 127.5px,#fe0000 133.5px,#d40000 139.5px,#a10000 150.5px,#a50000 153.5px,#c60000 156.5px,#ff0300 159.5px,#ff6a00 163.5px,#ffed00 167.5px,#ef1 168.5px,#1dffe2 174.5px,#00fcff 175.5px,#0096ff 179.5px,#003cff 184.5px,#001fff 187.5px,#0000fb 200.5px,#0000d4 219.5px,#0000b7 299.5px)"></i>
<i style="top:536px;background:linear-gradient(90deg,#0083ff 0.5px,#05fffa 89.5px,#19ffe6 96.5px,#8eff71 111.5px,#e9ff16 117.5px,#fbff04 118.5px,#ff4100 128.5px,#ff0500 132.5px,#cf0000 139.5px,#9e0000 150.5px,#a30000 153.5px,#c30000 156.5px,#fe0000 159.5px,#f60 163.5px,#ffeb00 167.5px,#efff10 168.5px,#00feff 175.5px,#0098ff 179.5px,#003eff 184.5px,#0020ff 187.5px,#0000fa 201.5px,#0000d6 219.5px,#0000b9 299.5px)"></i>
<i style="top:537px;background:linear-gradient(90deg,#0083ff 0.5px,#04fffb 91.5px,#1cffe3 97.5px,#8aff75 111.5px,#f5ff0a 118.5px,#fff700 119.5px,#ff4e00 128.5px,#ff0700 133.5px,#ed0000 136.5px,#b00000 150.5px,#b00 154.5px,#e50000 157.5px,#f80000 158.5px,#ff2500 160.5px,#ff9100 164.5px,#fff400 167.5px,#e8ff17 168.5px,#1affe5 174.5px,#00f9ff 175.5px,#0094ff 179.5px,#003aff 184.5px,#001dff 187.5px,#0000fb 199.5px,#0000d3 219.5px,#0000b6 299.5px)"></i>
<i style="top:538px;background:linear-gradient(90deg,#0082ff 0.5px,#03fffc 93.5px,#34ffcb 101.5px,#85ff7a 111.5px,#ff0 119.5px,#ff5f00 128.5px,#ff1800 133.5px,#f00 136.5px,#c60000 150.5px,#d10000 154.5px,#f90000 157.5px,#ff2100 159.5px,#ffa200 164.5px,#ff0 167.5px,#13ffec 174.5px,#00f4ff 175.5px,#008fff 179.5px,#0036ff 184.5px,#0018ff 187.5px,#0000fc 197.5px,#0000cf 219.5px,#0000b2 299.5px)"></i>
<i style="top:539px;background:linear-gradient(90deg,#08f 0.5px,#04fffb 92.5px,#2fd 98.5px,#7eff81 110.5px,#d2ff2d 116.5px,#fffa00 119.5px,#ff5700 128.5px,#ff1000 133.5px,#fe0000 135.5px,#c30000 149.5px,#c70000 153.5px,#e40000 156.5px,#ff0700 158.5px,#ff6300 162.5px,#fffd00 167.5px,#16ffe9 174.5px,#00f6ff 175.5px,#0091ff 179.5px,#0038ff 184.5px,#001bff 187.5px,#0000fb 198.5px,#0000d1 219.5px,#0000b4 299.5px)"></i>
<i style="top:540px;background:linear-gradient(90deg,#0085ff 0.5px,#03fffc 94.5px,#76ff89 110.5px,#d8ff27 117.5px,#f8ff07 119.5px,#ffd200 122.5px,#ff4100 131.5px,#ff1700 135.5px,#fb0000 141.5px,#de0000 150.5px,#e90000 154.5px,#f00 156.5px,#ff4a00 160.5px,#ffce00 165.5px,#ffec00 166.5px,#f4ff0b 167.5px,#0dfff2 174.5px,#0ef 175.5px,#008aff 179.5px,#0031ff 184.5px,#0015ff 187.5px,#0000fa 196.5px,#00c 218.5px,#0000ae 299.5px)"></i>
<i style="top:541px;background:linear-gradient(90deg,#008cff 0.5px,#03fffc 93.5px,#52ffad 105.5px,#85ff7a 111.5px,#feff01 119.5px,#ff4700 130.5px,#ff1600 134.5px,#fc0000 139.5px,#d90000 150.5px,#e50000 154.5px,#f90000 156.5px,#ff1a00 158.5px,#ff7500 162.5px,#ffe800 166.5px,#f6ff09 167.5px,#10ffef 174.5px,#00f0ff 175.5px,#008cff 179.5px,#0034ff 184.5px,#0017ff 187.5px,#0000fa 197.5px,#0000cd 219.5px,#0000b0 299.5px)"></i>
<i style="top:542px;background:linear-gradient(90deg,#008fff 0.5px,#03fffc 93.5px,#61ff9e 107.5px,#93ff6c 112.5px,#feff01 119.5px,#ff4800 130.5px,#ff1700 134.5px,#fe0000 139.5px,#de0000 150.5px,#ea0000 154.5px,#fe0000 156.5px,#ff3100 159.5px,#ffb100 164.5px,#ffed00 166.5px,#f1ff0e 167.5px,#0bfff4 174.5px,#00ecff 175.5px,#008aff 179.5px,#0032ff 184.5px,#0016ff 187.5px,#0000fa 197.5px,#0000cd 219.5px,#0000b0 299.5px)"></i>
<i style="top:543px;background:linear-gradient(90deg,#0091ff 0.5px,#03fffc 93.5px,#69ff96 108.5px,#a1ff5e 113.5px,#fdff02 119.5px,#ff4a00 130.5px,#ff1900 134.5px,#fe0000 140.5px,#e60000 150.5px,#f50000 154.5px,#fe0000 155.5px,#ff2b00 158.5px,#ff8a00 162.5px,#fbff04 166.5px,#14ffeb 173.5px,#00f5ff 174.5px,#0090ff 178.5px,#0036ff 183.5px,#0018ff 186.5px,#0000fb 196.5px,#00c 219.5px,#0000b0 299.5px)"></i>
<i style="top:544px;background:linear-gradient(90deg,#0097ff 0.5px,#04fffb 91.5px,#20ffdf 97.5px,#82ff7d 110.5px,#e5ff1a 117.5px,#fff700 119.5px,#ff5700 128.5px,#f10 133.5px,#fb0000 136.5px,#d90000 149.5px,#e50000 153.5px,#ff0500 156.5px,#ff3e00 159.5px,#ffaf00 163.5px,#fff400 165.5px,#e7ff18 166.5px,#1affe5 172.5px,#00fcff 173.5px,#0082ff 178.5px,#002fff 183.5px,#0014ff 187.5px,#0000f9 198.5px,#0000d0 219.5px,#0000b4 299.5px)"></i>
<i style="top:545px;background:linear-gradient(90deg,#009aff 0.5px,#04fffb 90.5px,#1bffe4 96.5px,#83ff7c 110.5px,#e6ff19 117.5px,#fff600 119.5px,#f50 128.5px,#ff0f00 133.5px,#f90000 136.5px,#d90000 149.5px,#e60000 153.5px,#ff0600 156.5px,#ff4100 159.5px,#ffb400 163.5px,#fffa00 165.5px,#12ffed 172.5px,#00f4ff 173.5px,#007dff 178.5px,#0038ff 182.5px,#001bff 185.5px,#0000fc 197.5px,#0000d1 219.5px,#0000b4 299.5px)"></i>
<i style="top:546px;background:linear-gradient(90deg,#009dff 0.5px,#03fffc 89.5px,#17ffe8 95.5px,#83ff7c 110.5px,#e7ff18 117.5px,#f8ff07 118.5px,#ffe300 120.5px,#ff5300 128.5px,#ff0d00 133.5px,#f80000 136.5px,#d80000 149.5px,#e50000 153.5px,#ff0600 156.5px,#ff4100 159.5px,#ffb400 163.5px,#fffb00 165.5px,#13ffec 172.5px,#00f5ff 173.5px,#007dff 178.5px,#0039ff 182.5px,#001cff 185.5px,#0000fa 198.5px,#0000d1 219.5px,#0000b4 299.5px)"></i>
<i style="top:547px;background:linear-gradient(90deg,#009aff 0.5px,#04fffb 92.5px,#6bff94 108.5px,#a2ff5d 113.5px,#ff0 119.5px,#ff4700 130.5px,#ff1700 134.5px,#f00 140.5px,#ec0000 149.5px,#ff0300 154.5px,#ff2a00 157.5px,#f80 161.5px,#f8ff07 165.5px,#0cfff3 172.5px,#00efff 173.5px,#0078ff 178.5px,#0034ff 182.5px,#0017ff 185.5px,#0000fc 195.5px,#0000cd 219.5px,#0000b0 299.5px)"></i>
<i style="top:548px;background:linear-gradient(90deg,#00a2ff 0.5px,#05fffa 89.5px,#1bffe4 95.5px,#84ff7b 110.5px,#d7ff28 116.5px,#f8ff07 118.5px,#ffe200 120.5px,#ff5200 128.5px,#ff0d00 133.5px,#f70000 136.5px,#d90000 149.5px,#e70000 153.5px,#ff0600 156.5px,#ff4200 159.5px,#ffb600 163.5px,#fffc00 165.5px,#13ffec 172.5px,#00f5ff 173.5px,#007dff 178.5px,#0039ff 182.5px,#001cff 185.5px,#0000fa 198.5px,#0000d2 219.5px,#0000b5 299.5px)"></i>
<i style="top:549px;background:linear-gradient(90deg,#00a6ff 0.5px,#04fffb 87.5px,#18ffe7 94.5px,#86ff79 110.5px,#d9ff26 116.5px,#faff05 118.5px,#ffa600 123.5px,#ff2f00 130.5px,#fe0000 134.5px,#dc0000 144.5px,#d60000 150.5px,#eb0000 154.5px,#ff0300 156.5px,#ff3f00 159.5px,#ff9300 162.5px,#fffb00 165.5px,#15ffea 172.5px,#00f7ff 173.5px,#007fff 178.5px,#003aff 182.5px,#001dff 185.5px,#0000fb 198.5px,#0000d3 219.5px,#0000b6 299.5px)"></i>
<i style="top:550px;background:linear-gradient(90deg,#00a4ff 0.5px,#04fffb 90.5px,#34ffcb 99.5px,#80ff7f 110.5px,#e3ff1c 117.5px,#fffa00 119.5px,#ff4d00 129.5px,#ff0e00 134.5px,#fb0000 138.5px,#e50000 149.5px,#fa0000 154.5px,#ff1200 156.5px,#ff4e00 159.5px,#ffc000 163.5px,#faff05 165.5px,#10ffef 172.5px,#00f2ff 173.5px,#007bff 178.5px,#0036ff 182.5px,#0019ff 185.5px,#0000fa 197.5px,#0000cf 219.5px,#0000b2 299.5px)"></i>
<i style="top:551px;background:linear-gradient(90deg,#00a1ff 0.5px,#04fffb 92.5px,#6fff90 109.5px,#adff52 114.5px,#faff05 119.5px,#ff3500 132.5px,#ff1500 136.5px,#fa0000 146.5px,#ff0200 152.5px,#ff2600 156.5px,#ff6100 159.5px,#fe0 164.5px,#f0ff0f 165.5px,#09fff6 172.5px,#00d1ff 174.5px,#0062ff 179.5px,#0025ff 183.5px,#000dff 187.5px,#0000f7 196.5px,#0000cb 219.5px,#0000ae 299.5px)"></i>
<i style="top:552px;background:linear-gradient(90deg,#00a4ff 0.5px,#0af 15.5px,#04fffb 92.5px,#6dff92 109.5px,#adff52 114.5px,#fbff04 119.5px,#ff3f00 131.5px,#ff1700 135.5px,#fc0000 144.5px,#f80000 150.5px,#ff0500 153.5px,#ff2300 156.5px,#ff5f00 159.5px,#ffed00 164.5px,#f1ff0e 165.5px,#0bfff4 172.5px,#00edff 173.5px,#0076ff 178.5px,#0032ff 182.5px,#0016ff 185.5px,#0000fa 195.5px,#00c 219.5px,#0000af 299.5px)"></i>
<i style="top:553px;background:linear-gradient(90deg,#00a0ff 0.5px,#0096ff 9.5px,#00f1ff 90.5px,#04fffb 94.5px,#62ff9d 109.5px,#a5ff5a 114.5px,#fffd00 120.5px,#ff4300 132.5px,#ff2300 136.5px,#ff0800 149.5px,#ff1d00 154.5px,#ff4500 157.5px,#ffa300 161.5px,#fff800 164.5px,#c8ff37 166.5px,#05fffa 172.5px,#0073ff 178.5px,#0023ff 183.5px,#000aff 187.5px,#0000f5 196.5px,#0000c9 219.5px,#0000ac 299.5px)"></i>
<i style="top:554px;background:linear-gradient(90deg,#00a4ff 0.5px,#0089ff 8.5px,#00c9ff 66.5px,#00edff 90.5px,#06fff9 95.5px,#54ffab 108.5px,#97ff68 113.5px,#f4ff0b 119.5px,#fffb00 120.5px,#ff3d00 132.5px,#ff1b00 136.5px,#fd0000 147.5px,#ff0600 152.5px,#ff1d00 155.5px,#ff5000 158.5px,#ffd600 163.5px,#fff400 164.5px,#ebff14 165.5px,#0afff5 172.5px,#00edff 173.5px,#0078ff 178.5px,#0029ff 183.5px,#000eff 187.5px,#0000f8 196.5px,#00c 219.5px,#0000ae 299.5px)"></i>
<i style="top:555px;background:linear-gradient(90deg,#009fff 0.5px,#0087ff 8.5px,#00bcff 56.5px,#00f7ff 90.5px,#05fffa 93.5px,#56ffa9 107.5px,#92ff6d 112.5px,#fff900 119.5px,#ff3600 129.5px,#fb0000 133.5px,#d70000 138.5px,#bf0000 149.5px,#d50000 154.5px,#ff0100 157.5px,#ff4a00 160.5px,#fff800 165.5px,#a0ff5f 168.5px,#05fffa 173.5px,#007cff 179.5px,#003eff 183.5px,#0020ff 187.5px,#0000fa 203.5px,#00d 220.5px,#0000bc 299.5px)"></i>
<i style="top:556px;background:linear-gradient(90deg,#0054ff 0.5px,#0070ff 9.5px,#009eff 52.5px,#00e6ff 89.5px,#07fff8 96.5px,#46ffb9 107.5px,#8bff74 114.5px,#cf3 118.5px,#f5ff0a 120.5px,#fff300 121.5px,#ff4b00 129.5px,#ff0300 134.5px,#da0000 140.5px,#c60000 149.5px,#dc0000 154.5px,#f60000 156.5px,#ff0a00 157.5px,#f50 160.5px,#ff0 165.5px,#2fd 172.5px,#06fff9 173.5px,#0094ff 178.5px,#04f 183.5px,#0021ff 187.5px,#0000fb 203.5px,#0000de 220.5px,#0000bc 299.5px)"></i>
<i style="top:557px;background:linear-gradient(90deg,#03f 0.5px,#0056ff 8.5px,#0084ff 51.5px,#00d6ff 89.5px,#05fffa 99.5px,#35ffca 107.5px,#80ff7f 115.5px,#d8ff27 120.5px,#fffc00 122.5px,#ff5700 130.5px,#ff0700 136.5px,#ef0000 139.5px,#d30000 148.5px,#e20000 153.5px,#ff0700 156.5px,#ff4a00 159.5px,#ffe900 164.5px,#f4ff0b 165.5px,#06fff9 173.5px,#00abff 177.5px,#0047ff 183.5px,#0021ff 187.5px,#0000fb 203.5px,#0000de 220.5px,#0000b9 299.5px)"></i>
<i style="top:558px;background:linear-gradient(90deg,#0026ff 0.5px,#003eff 10.5px,#0068ff 50.5px,#00c1ff 88.5px,#05fffa 103.5px,#3dffc2 110.5px,#8cff73 117.5px,#f7ff08 123.5px,#ffe000 125.5px,#ff6f00 131.5px,#ff2000 137.5px,#ff0100 142.5px,#e00 149.5px,#fd0000 153.5px,#ff1200 155.5px,#ff4e00 158.5px,#fffb00 164.5px,#02fffd 173.5px,#0084ff 179.5px,#002dff 185.5px,#0015ff 189.5px,#0000f8 202.5px,#0000da 220.5px,#0000b4 299.5px)"></i>
<i style="top:559px;background:linear-gradient(90deg,#0021ff 0.5px,#003bff 21.5px,#005cff 50.5px,#00baff 88.5px,#04fffb 104.5px,#57ffa8 113.5px,#94ff6b 118.5px,#fcff03 124.5px,#ff6b00 132.5px,#ff1c00 138.5px,#ff0100 142.5px,#ec0000 149.5px,#ff0500 154.5px,#ff3700 157.5px,#ffa300 161.5px,#fffd00 164.5px,#07fff8 173.5px,#00c3ff 176.5px,#0059ff 182.5px,#0027ff 186.5px,#0010ff 192.5px,#0000f8 203.5px,#0000db 221.5px,#0000b6 299.5px)"></i>
<i style="top:560px;background:linear-gradient(90deg,#001dff 0.5px,#0051ff 49.5px,#00b6ff 88.5px,#01fffe 104.5px,#4affb5 112.5px,#9cff63 119.5px,#fffd00 125.5px,#f60 133.5px,#ff1800 139.5px,#fc0000 143.5px,#ec0000 150.5px,#ff0400 154.5px,#ff3800 157.5px,#ffc300 162.5px,#ff0 164.5px,#0cfff3 173.5px,#00f4ff 174.5px,#007cff 180.5px,#0034ff 185.5px,#0019ff 189.5px,#0000f9 203.5px,#00d 220.5px,#0000b7 299.5px)"></i>
<i style="top:561px;background:linear-gradient(90deg,#0017ff 0.5px,#0049ff 49.5px,#00b0ff 88.5px,#02fffd 105.5px,#79ff86 117.5px,#fffb00 126.5px,#ff6a00 134.5px,#ff1e00 140.5px,#fe0000 145.5px,#f40000 150.5px,#ff0300 153.5px,#ff2d00 156.5px,#ff9200 160.5px,#ffe900 163.5px,#f8ff07 164.5px,#0ffff0 173.5px,#00f6ff 174.5px,#007eff 180.5px,#002bff 186.5px,#0013ff 191.5px,#0000f9 203.5px,#0000dc 220.5px,#0000b6 299.5px)"></i>
<i style="top:562px;background:linear-gradient(90deg,#01f 0.5px,#0041ff 49.5px,#00a5ff 87.5px,#05fffa 106.5px,#89ff76 119.5px,#fffc00 127.5px,#ff7400 135.5px,#f20 142.5px,#ff0500 149.5px,#ff1400 153.5px,#ff4000 156.5px,#ffbe00 161.5px,#fff400 163.5px,#efff10 164.5px,#10ffef 173.5px,#00f8ff 174.5px,#0080ff 180.5px,#002bff 186.5px,#0012ff 191.5px,#0000f9 202.5px,#0000da 220.5px,#0000b4 299.5px)"></i>
<i style="top:563px;background:linear-gradient(90deg,#000bff 0.5px,#0037ff 48.5px,#009dff 87.5px,#00feff 106.5px,#7fff80 119.5px,#ff0 128.5px,#ff8300 136.5px,#ff3e00 142.5px,#ff1f00 148.5px,#ff2600 152.5px,#ff4800 155.5px,#ffb800 160.5px,#fcff03 163.5px,#10ffef 173.5px,#00f9ff 174.5px,#0071ff 181.5px,#002bff 186.5px,#0014ff 190.5px,#0000f9 201.5px,#0000d7 219.5px,#0000b0 299.5px)"></i>
<i style="top:564px;background:linear-gradient(90deg,#0006ff 0.5px,#0030ff 48.5px,#0096ff 87.5px,#00f8ff 106.5px,#0afff5 108.5px,#82ff7d 120.5px,#fbff04 129.5px,#ff6f00 140.5px,#f40 145.5px,#ff3600 150.5px,#ff4800 153.5px,#f70 156.5px,#fff800 162.5px,#c4ff3b 165.5px,#1fe 173.5px,#00faff 174.5px,#0073ff 181.5px,#002cff 186.5px,#0013ff 190.5px,#0000f9 200.5px,#0000d3 219.5px,#0000ad 299.5px)"></i>
<i style="top:565px;background:linear-gradient(90deg,#000bff 0.5px,#0035ff 48.5px,#0097ff 86.5px,#02fffd 106.5px,#89ff76 120.5px,#fffd00 129.5px,#ff6e00 139.5px,#f30 145.5px,#ff2300 149.5px,#ff2d00 152.5px,#ff5400 155.5px,#fbff04 163.5px,#0bfff4 174.5px,#00f5ff 175.5px,#0071ff 182.5px,#002eff 187.5px,#0015ff 193.5px,#0000f8 204.5px,#0000da 219.5px,#0000b3 299.5px)"></i>
<i style="top:566px;background:linear-gradient(90deg,#000dff 0.5px,#0035ff 48.5px,#09f 86.5px,#00feff 105.5px,#8aff75 120.5px,#feff01 129.5px,#ff6400 140.5px,#ff2a00 146.5px,#ff2000 150.5px,#ff3600 153.5px,#ff6800 156.5px,#fdff02 163.5px,#02fffd 175.5px,#006bff 183.5px,#0036ff 187.5px,#001eff 192.5px,#0000fa 205.5px,#00d 219.5px,#0000b6 299.5px)"></i>
<i style="top:567px;background:linear-gradient(90deg,#000cff 0.5px,#03f 48.5px,#0092ff 85.5px,#0ff 105.5px,#92ff6d 121.5px,#fffb00 130.5px,#ff6400 141.5px,#ff2d00 147.5px,#ff2800 150.5px,#ff3f00 153.5px,#ff8700 157.5px,#fbff04 163.5px,#09fff6 175.5px,#00e0ff 177.5px,#0062ff 184.5px,#0032ff 188.5px,#00f 204.5px,#0000de 219.5px,#0000b7 299.5px)"></i>
<i style="top:568px;background:linear-gradient(90deg,#0009ff 0.5px,#002eff 48.5px,#008dff 85.5px,#05fffa 106.5px,#97ff68 122.5px,#fffb00 131.5px,#ff6300 143.5px,#ff3b00 148.5px,#ff3f00 151.5px,#ff6100 154.5px,#fff700 162.5px,#e0ff1f 164.5px,#0efff1 175.5px,#00f9ff 176.5px,#07f 183.5px,#003eff 187.5px,#02f 192.5px,#0000f9 206.5px,#0000dc 219.5px,#0000b5 299.5px)"></i>
<i style="top:569px;background:linear-gradient(90deg,#000bff 0.5px,#002eff 48.5px,#0089ff 84.5px,#01fffe 105.5px,#97ff68 122.5px,#ff0 131.5px,#ff5e00 144.5px,#ff3f00 148.5px,#ff4200 151.5px,#ff6300 154.5px,#fff400 162.5px,#f8ff07 163.5px,#06fff9 176.5px,#0082ff 183.5px,#003dff 188.5px,#001fff 195.5px,#0000fa 207.5px,#0000df 219.5px,#0000b8 299.5px)"></i>
<i style="top:570px;background:linear-gradient(90deg,#0003ff 0.5px,#0024ff 48.5px,#007fff 84.5px,#00feff 106.5px,#9eff61 124.5px,#ff0 133.5px,#ff7f00 145.5px,#ff6800 149.5px,#ff7300 152.5px,#ffb500 157.5px,#faff05 162.5px,#06fff9 176.5px,#0074ff 184.5px,#003dff 188.5px,#0021ff 193.5px,#0000fb 205.5px,#0000d9 218.5px,#0000b2 299.5px)"></i>
<i style="top:571px;background:linear-gradient(90deg,#0000fd 0.5px,#001fff 48.5px,#0075ff 83.5px,#03fffc 107.5px,#a8ff57 126.5px,#fffc00 135.5px,#ff9500 146.5px,#ff8700 150.5px,#ffa100 154.5px,#ff0 161.5px,#1bffe4 175.5px,#00f7ff 177.5px,#005cff 186.5px,#002fff 190.5px,#0000fc 204.5px,#0000d7 218.5px,#0000b0 299.5px)"></i>
<i style="top:572px;background:linear-gradient(90deg,#0002ff 0.5px,#0021ff 48.5px,#0079ff 83.5px,#02fffd 106.5px,#bcff43 128.5px,#fffc00 135.5px,#ff9600 146.5px,#ff8600 150.5px,#ff9f00 154.5px,#fff800 161.5px,#daff25 164.5px,#07fff8 177.5px,#00d0ff 180.5px,#004fff 188.5px,#002dff 192.5px,#0000fc 206.5px,#0000dc 218.5px,#0000b4 299.5px)"></i>
<i style="top:573px;background:linear-gradient(90deg,#0000fc 0.5px,#001bff 48.5px,#006eff 82.5px,#05fffa 107.5px,#dcff23 133.5px,#fffd00 137.5px,#ffae00 147.5px,#ffa600 151.5px,#fc0 156.5px,#fff900 160.5px,#d2ff2d 164.5px,#0afff5 177.5px,#00f8ff 178.5px,#0054ff 188.5px,#002eff 192.5px,#0000fa 206.5px,#0000d8 218.5px,#0000b1 299.5px)"></i>
<i style="top:574px;background:linear-gradient(90deg,#0000f8 0.5px,#000eff 44.5px,#0069ff 82.5px,#0ff 107.5px,#fdff02 139.5px,#ffc600 148.5px,#ffc600 152.5px,#fffe00 159.5px,#afff50 166.5px,#00fcff 178.5px,#005aff 188.5px,#002fff 192.5px,#0000fc 205.5px,#0000d6 218.5px,#0000af 299.5px)"></i>
<i style="top:575px;background:linear-gradient(90deg,#0000fb 0.5px,#0017ff 48.5px,#006cff 82.5px,#00feff 106.5px,#fffe00 140.5px,#ffca00 148.5px,#ffc900 152.5px,#fffd00 159.5px,#b5ff4a 166.5px,#0bfff4 178.5px,#00f9ff 179.5px,#005aff 189.5px,#03f 193.5px,#0000fb 207.5px,#0000da 218.5px,#0000b3 299.5px)"></i>
<i style="top:576px;background:linear-gradient(90deg,#0000fd 0.5px,#0018ff 48.5px,#0069ff 81.5px,#02fffd 106.5px,#ff0 140.5px,#ffc900 149.5px,#ffcf00 153.5px,#fffc00 159.5px,#b9ff46 166.5px,#03fffc 179.5px,#0056ff 190.5px,#03f 194.5px,#0000fb 208.5px,#00d 218.5px,#0000b6 299.5px)"></i>
<i style="top:577px;background:linear-gradient(90deg,#0000fb 0.5px,#0016ff 48.5px,#0065ff 81.5px,#00feff 106.5px,#fffd00 141.5px,#ffcf00 149.5px,#ffd500 153.5px,#feff01 159.5px,#af5 167.5px,#02fffd 179.5px,#004bff 191.5px,#002aff 196.5px,#0000fb 208.5px,#00d 218.5px,#0000b5 299.5px)"></i>
<i style="top:578px;background:linear-gradient(90deg,#00f 0.5px,#001aff 48.5px,#0068ff 81.5px,#03fffc 106.5px,#fffd00 140.5px,#ffc900 148.5px,#ffc700 152.5px,#fcff03 160.5px,#96ff69 169.5px,#09fff6 179.5px,#00e7ff 181.5px,#0052ff 191.5px,#0030ff 196.5px,#0000fb 209.5px,#0000e1 218.5px,#0000b9 299.5px)"></i>
<i style="top:579px;background:linear-gradient(90deg,#0008ff 0.5px,#02f 48.5px,#0071ff 81.5px,#00feff 104.5px,#fffd00 138.5px,#ffb400 148.5px,#ffb200 152.5px,#ffe700 159.5px,#f8ff07 162.5px,#7bff84 172.5px,#05fffa 180.5px,#005eff 191.5px,#003fff 195.5px,#0000fd 211.5px,#0000e9 219.5px,#0000c2 299.5px)"></i>
<i style="top:580px;background:linear-gradient(90deg,#0001ff 0.5px,#001bff 48.5px,#0067ff 81.5px,#01fffe 106.5px,#fffb00 140.5px,#ffc700 148.5px,#ffc500 152.5px,#ff0 160.5px,#9f6 169.5px,#00fcff 180.5px,#0058ff 191.5px,#0038ff 195.5px,#0000fa 210.5px,#0000e3 219.5px,#0000bc 299.5px)"></i>
<i style="top:581px;background:linear-gradient(90deg,#0000fa 0.5px,#0012ff 47.5px,#005fff 81.5px,#00feff 107.5px,#feff01 141.5px,#ffd500 149.5px,#ffda00 153.5px,#fbff04 159.5px,#af5 167.5px,#05fffa 179.5px,#0054ff 191.5px,#03f 195.5px,#0000fd 208.5px,#0000de 218.5px,#0000b7 299.5px)"></i>
<i style="top:582px;background:linear-gradient(90deg,#0000f0 0.5px,#0005ff 45.5px,#0052ff 81.5px,#00f7ff 108.5px,#08fff7 110.5px,#e3ff1c 140.5px,#fffd00 145.5px,#ffec00 151.5px,#fcff03 156.5px,#b2ff4d 165.5px,#08fff7 178.5px,#00e9ff 180.5px,#004cff 191.5px,#0026ff 196.5px,#0000fd 206.5px,#0000d7 217.5px,#0000af 299.5px)"></i>
<i style="top:583px;background:linear-gradient(90deg,#0000f4 0.5px,#0008ff 44.5px,#05f 81.5px,#00f4ff 107.5px,#0cfff3 110.5px,#eaff15 140.5px,#fffa00 144.5px,#ffe300 150.5px,#fffa00 156.5px,#e7ff18 160.5px,#96ff69 168.5px,#0ff 179.5px,#0053ff 191.5px,#0030ff 195.5px,#0000fa 208.5px,#0000da 218.5px,#0000b3 299.5px)"></i>
<i style="top:584px;background:linear-gradient(90deg,#0000f6 0.5px,#000aff 43.5px,#0056ff 81.5px,#00f5ff 107.5px,#0efff1 110.5px,#ef1 140.5px,#fffb00 143.5px,#ffde00 150.5px,#ffef00 155.5px,#fbff04 158.5px,#a6ff59 167.5px,#04fffb 179.5px,#004cff 192.5px,#002bff 197.5px,#0000fd 208.5px,#00d 218.5px,#0000b6 299.5px)"></i>
<i style="top:585px;background:linear-gradient(90deg,#0000f1 0.5px,#0006ff 45.5px,#0050ff 81.5px,#00edff 107.5px,#06fff9 110.5px,#d0ff2f 137.5px,#fffb00 145.5px,#ffeb00 151.5px,#feff01 156.5px,#b5ff4a 165.5px,#00fdff 179.5px,#05f 191.5px,#002cff 196.5px,#0000fd 207.5px,#0000da 217.5px,#0000b2 299.5px)"></i>
<i style="top:586px;background:linear-gradient(90deg,#00e 0.5px,#0005ff 46.5px,#004cff 81.5px,#00e9ff 107.5px,#02fffd 110.5px,#c5ff3a 136.5px,#fdff02 145.5px,#fff200 151.5px,#f8ff07 156.5px,#b1ff4e 165.5px,#18ffe7 177.5px,#00fbff 179.5px,#0054ff 191.5px,#002bff 196.5px,#0000fb 207.5px,#0000d9 217.5px,#0000b0 299.5px)"></i>
<i style="top:587px;background:linear-gradient(90deg,#0000f0 0.5px,#0006ff 45.5px,#004dff 81.5px,#00ebff 107.5px,#04fffb 110.5px,#c2ff3d 135.5px,#fffc00 145.5px,#ffed00 151.5px,#fdff02 156.5px,#b5ff4a 165.5px,#1cffe3 177.5px,#0ff 179.5px,#005aff 191.5px,#002fff 196.5px,#0000fb 208.5px,#0000da 218.5px,#0000b3 299.5px)"></i>
<i style="top:588px;background:linear-gradient(90deg,#00e 0.5px,#0006ff 47.5px,#0049ff 81.5px,#00dfff 106.5px,#0ff 110.5px,#beff41 135.5px,#fdff02 145.5px,#fff200 151.5px,#f8ff07 156.5px,#b2ff4d 165.5px,#1affe5 177.5px,#00fdff 179.5px,#005aff 191.5px,#002eff 196.5px,#0000fa 208.5px,#0000d9 218.5px,#0000b2 299.5px)"></i>
<i style="top:589px;background:linear-gradient(90deg,#0000ed 0.5px,#0005ff 47.5px,#0047ff 81.5px,#0df 106.5px,#06fff9 111.5px,#b6ff49 134.5px,#ff0 146.5px,#fff400 151.5px,#f7ff08 156.5px,#b1ff4e 165.5px,#28ffd7 176.5px,#00fdff 179.5px,#005cff 191.5px,#002fff 196.5px,#0000fa 208.5px,#0000d9 218.5px,#0000b2 299.5px)"></i>
<i style="top:590px;background:linear-gradient(90deg,#0000f2 0.5px,#0007ff 44.5px,#004cff 81.5px,#00e2ff 106.5px,#04fffb 110.5px,#b8ff47 133.5px,#fffd00 144.5px,#ffe900 150.5px,#fbff04 157.5px,#b0ff4f 166.5px,#06fff9 179.5px,#0cf 183.5px,#004dff 193.5px,#0028ff 199.5px,#0000fc 209.5px,#0000df 218.5px,#0000b8 299.5px)"></i>
<i style="top:591px;background:linear-gradient(90deg,#0000f3 0.5px,#0008ff 44.5px,#004bff 81.5px,#00e2ff 106.5px,#04fffb 110.5px,#b8ff47 133.5px,#fffc00 144.5px,#ffe800 150.5px,#fcff03 157.5px,#b1ff4e 166.5px,#08fff7 179.5px,#00ebff 181.5px,#0051ff 193.5px,#002aff 199.5px,#0000f9 210.5px,#0000e1 218.5px,#0000b9 299.5px)"></i>
<i style="top:592px;background:linear-gradient(90deg,#00e 0.5px,#0006ff 47.5px,#04f 81.5px,#00daff 106.5px,#05fffa 111.5px,#a9ff56 132.5px,#fbff04 145.5px,#fff600 152.5px,#f7ff08 156.5px,#b3ff4c 165.5px,#3affc5 175.5px,#02fffd 179.5px,#004dff 193.5px,#0026ff 199.5px,#0000fa 209.5px,#0000dc 218.5px,#0000b5 299.5px)"></i>
<i style="top:593px;background:linear-gradient(90deg,#0000ea 0.5px,#0005ff 49.5px,#003fff 81.5px,#00d4ff 106.5px,#00feff 111.5px,#a4ff5b 132.5px,#f8ff07 146.5px,#ff0 152.5px,#d7ff28 160.5px,#8eff71 168.5px,#00feff 179.5px,#0057ff 192.5px,#002dff 197.5px,#0000fc 208.5px,#0000db 217.5px,#0000b3 299.5px)"></i>
<i style="top:594px;background:linear-gradient(90deg,#0000ec 0.5px,#0005ff 48.5px,#0040ff 81.5px,#00ceff 105.5px,#01fffe 111.5px,#a7ff58 132.5px,#fbff04 146.5px,#fffb00 152.5px,#ef1 157.5px,#a8ff57 166.5px,#10ffef 178.5px,#02fffd 179.5px,#0051ff 193.5px,#0028ff 199.5px,#0000fa 209.5px,#00d 218.5px,#0000b5 299.5px)"></i>
<i style="top:595px;background:linear-gradient(90deg,#0000ed 0.5px,#0005ff 47.5px,#0040ff 81.5px,#00ceff 105.5px,#02fffd 111.5px,#a2ff5d 131.5px,#fdff02 146.5px,#fff900 152.5px,#f5ff0a 156.5px,#b4ff4b 165.5px,#3cffc3 175.5px,#05fffa 179.5px,#004aff 194.5px,#001dff 202.5px,#0000fd 209.5px,#0000df 218.5px,#0000b7 299.5px)"></i>
<i style="top:596px;background:linear-gradient(90deg,#0000ea 0.5px,#0004ff 49.5px,#003aff 81.5px,#00c8ff 105.5px,#05fffa 112.5px,#9cff63 131.5px,#f1ff0e 145.5px,#ff0 151.5px,#deff21 159.5px,#9dff62 167.5px,#03fffc 179.5px,#0054ff 193.5px,#0029ff 199.5px,#0000fb 209.5px,#0000dc 218.5px,#0000b4 299.5px)"></i>
<i style="top:597px;background:linear-gradient(90deg,#0000e3 0.5px,#0004ff 54.5px,#0032ff 81.5px,#00beff 105.5px,#03fffc 113.5px,#8fff70 131.5px,#e7ff18 146.5px,#f4ff0b 152.5px,#d9ff26 160.5px,#a2ff5d 167.5px,#15ffea 178.5px,#00f8ff 180.5px,#006dff 191.5px,#0035ff 197.5px,#0000fe 208.5px,#0000db 217.5px,#0000af 299.5px)"></i>
<i style="top:598px;background:linear-gradient(90deg,#0000e4 0.5px,#0004ff 53.5px,#0032ff 81.5px,#00bfff 105.5px,#05fffa 113.5px,#8eff71 131.5px,#fffb00 150.5px,#ffed00 155.5px,#feff01 162.5px,#cdff32 168.5px,#41ffbe 178.5px,#05fffa 182.5px,#006cff 194.5px,#0039ff 201.5px,#0000fa 212.5px,#0000e4 219.5px,#0000b1 299.5px)"></i>
<i style="top:599px;background:linear-gradient(90deg,#0000e8 0.5px,#0005ff 51.5px,#0036ff 81.5px,#00c3ff 105.5px,#0ff 112.5px,#7cff83 128.5px,#e1ff1e 144.5px,#fff900 148.5px,#ffc300 153.5px,#ffae00 159.5px,#ffc400 165.5px,#fffb00 170.5px,#b6ff49 175.5px,#00fdff 186.5px,#0085ff 196.5px,#0005ff 214.5px,#0000d4 260.5px,#0000b5 299.5px)"></i>
<i style="top:600px;background:linear-gradient(90deg,#0000ea 0.5px,#0005ff 50.5px,#0037ff 81.5px,#00c5ff 105.5px,#03fffc 112.5px,#6eff91 126.5px,#d0ff2f 142.5px,#fffe00 147.5px,#ffa800 153.5px,#ff8500 158.5px,#ff8600 163.5px,#ff9f00 167.5px,#fff600 173.5px,#e5ff1a 175.5px,#1fe 187.5px,#03fffc 188.5px,#0085ff 199.5px,#000dff 215.5px,#0000fd 223.5px,#0000b7 299.5px)"></i>
<i style="top:601px;background:linear-gradient(90deg,#0000eb 0.5px,#0005ff 49.5px,#0039ff 81.5px,#00c7ff 105.5px,#05fffa 112.5px,#6fff90 126.5px,#d0ff2f 142.5px,#fffd00 147.5px,#ffa000 153.5px,#ff7900 158.5px,#ff7500 162.5px,#ff9000 167.5px,#ffe700 173.5px,#fff900 174.5px,#ceff31 177.5px,#1cffe3 187.5px,#01fffe 189.5px,#008dff 199.5px,#0012ff 215.5px,#0000fe 226.5px,#0000b8 299.5px)"></i>
<i style="top:602px;background:linear-gradient(90deg,#0000e8 0.5px,#0005ff 51.5px,#0036ff 81.5px,#00c3ff 105.5px,#0ff 112.5px,#6aff95 126.5px,#cbff34 142.5px,#faff05 147.5px,#ffd800 150.5px,#ffa300 154.5px,#ff8500 159.5px,#ff8b00 164.5px,#ffa900 168.5px,#fdff02 174.5px,#18ffe7 187.5px,#00fcff 189.5px,#008bff 199.5px,#000fff 215.5px,#0000fe 224.5px,#0000b6 299.5px)"></i>
<i style="top:603px;background:linear-gradient(90deg,#0000e2 0.5px,#0000fd 51.5px,#002cff 81.5px,#00b4ff 105.5px,#00feff 114.5px,#80ff7f 132.5px,#cbff34 144.5px,#feff01 149.5px,#ffc800 154.5px,#ffb000 160.5px,#ffc400 166.5px,#fff900 171.5px,#eaff15 173.5px,#03fffc 187.5px,#007cff 199.5px,#0007ff 215.5px,#0000f7 223.5px,#0000b0 299.5px)"></i>
<i style="top:604px;background:linear-gradient(90deg,#0000df 0.5px,#0000f9 52.5px,#0020ff 80.5px,#06f 95.5px,#00b3ff 108.5px,#03fffc 118.5px,#86ff79 136.5px,#e4ff1b 149.5px,#ff0 152.5px,#ffea00 158.5px,#fffa00 164.5px,#efff10 167.5px,#9f6 174.5px,#02fffd 184.5px,#00a2ff 192.5px,#0050ff 202.5px,#0000fd 215.5px,#0000b3 294.5px,#0000af 299.5px)"></i>
<i style="top:605px;background:linear-gradient(90deg,#0000db 0.5px,#0000f9 54.5px,#0015ff 78.5px,#0030ff 88.5px,#00a5ff 111.5px,#0ff 122.5px,#83ff7c 138.5px,#d0ff2f 151.5px,#d3ff2c 157.5px,#b1ff4e 164.5px,#6aff95 171.5px,#0ff 179.5px,#008dff 189.5px,#003dff 201.5px,#0000fd 213.5px,#0000eb 224.5px,#0000b1 299.5px)"></i>
<i style="top:606px;background:linear-gradient(90deg,#0000e0 0.5px,#0000fe 56.5px,#02f 86.5px,#009dff 113.5px,#02fffd 124.5px,#80ff7f 138.5px,#b4ff4b 147.5px,#baff45 153.5px,#9dff62 160.5px,#58ffa7 168.5px,#03fffc 175.5px,#0079ff 188.5px,#04f 197.5px,#0000fc 213.5px,#0000dc 249.5px,#0000b8 299.5px)"></i>
<i style="top:607px;background:linear-gradient(90deg,#00d 0.5px,#0000fb 57.5px,#001dff 87.5px,#0096ff 114.5px,#0ff 125.5px,#75ff8a 138.5px,#a6ff59 147.5px,#a8ff57 152.5px,#8aff75 159.5px,#3effc1 168.5px,#06fff9 173.5px,#00a1ff 182.5px,#0056ff 191.5px,#0000fb 212.5px,#0000ea 225.5px,#0000b6 299.5px)"></i>
<i style="top:608px;background:linear-gradient(90deg,#0000dc 0.5px,#0000f9 57.5px,#0014ff 85.5px,#0069ff 106.5px,#0098ff 115.5px,#00fcff 125.5px,#76ff89 139.5px,#9fff60 147.5px,#a0ff5f 152.5px,#7aff85 160.5px,#24ffdb 170.5px,#01fffe 173.5px,#009eff 182.5px,#004eff 192.5px,#0000fb 212.5px,#0000ea 224.5px,#0000b6 299.5px)"></i>
<i style="top:609px;background:linear-gradient(90deg,#0000dc 0.5px,#0000f8 58.5px,#0012ff 85.5px,#004bff 100.5px,#008cff 114.5px,#05fffa 126.5px,#6bff94 138.5px,#9f6 147.5px,#96ff69 153.5px,#65ff9a 162.5px,#0cfff3 172.5px,#0ff 173.5px,#00a6ff 181.5px,#004eff 192.5px,#0000fc 212.5px,#0000eb 223.5px,#0000b7 299.5px)"></i>
<i style="top:610px;background:linear-gradient(90deg,#0000d7 0.5px,#0000f1 58.5px,#0008ff 83.5px,#001fff 92.5px,#0081ff 114.5px,#05fffa 127.5px,#5fffa0 138.5px,#8aff75 147.5px,#86ff79 153.5px,#50ffaf 163.5px,#03fffc 172.5px,#0096ff 182.5px,#0047ff 192.5px,#0000fa 211.5px,#0000e7 220.5px,#0000b2 299.5px)"></i>
<i style="top:611px;background:linear-gradient(90deg,#0000d2 0.5px,#0000ec 58.5px,#0005ff 86.5px,#0053ff 106.5px,#0080ff 115.5px,#00fcff 127.5px,#61ff9e 140.5px,#80ff7f 148.5px,#72ff8d 155.5px,#27ffd8 167.5px,#00fbff 172.5px,#09f 181.5px,#0043ff 192.5px,#0000fb 210.5px,#0000e4 219.5px,#0000af 299.5px)"></i>
<i style="top:612px;background:linear-gradient(90deg,#0000d3 0.5px,#0000ed 59.5px,#0006ff 87.5px,#0076ff 114.5px,#00fcff 127.5px,#5fffa0 140.5px,#7cff83 148.5px,#6dff92 155.5px,#17ffe8 169.5px,#00fbff 172.5px,#009aff 181.5px,#003fff 193.5px,#0000fd 210.5px,#0000e5 219.5px,#0000b1 299.5px)"></i>
<i style="top:613px;background:linear-gradient(90deg,#0000d6 0.5px,#0000ef 59.5px,#0006ff 86.5px,#002bff 97.5px,#0076ff 114.5px,#00d4ff 123.5px,#0ff 127.5px,#54ffab 138.5px,#79ff86 147.5px,#72ff8d 153.5px,#2dffd2 166.5px,#00feff 172.5px,#009dff 181.5px,#0043ff 193.5px,#0000fd 211.5px,#0000e8 220.5px,#0000b4 299.5px)"></i>
<i style="top:614px;background:linear-gradient(90deg,#0000db 0.5px,#0000f2 59.5px,#0008ff 85.5px,#0020ff 94.5px,#0078ff 114.5px,#00c1ff 121.5px,#00faff 126.5px,#5cffa3 139.5px,#7bff84 147.5px,#73ff8c 153.5px,#1dffe2 169.5px,#04fffb 172.5px,#0092ff 183.5px,#0043ff 194.5px,#0000fb 213.5px,#0000ea 224.5px,#0000b9 299.5px)"></i>
<i style="top:615px;background:linear-gradient(90deg,#0000d7 0.5px,#00e 59.5px,#0006ff 88.5px,#0071ff 114.5px,#00baff 121.5px,#00feff 127.5px,#4effb1 138.5px,#70ff8f 147.5px,#64ff9b 154.5px,#07fff8 171.5px,#00f3ff 173.5px,#0096ff 182.5px,#003fff 194.5px,#0000fc 212.5px,#0000e8 222.5px,#0000b7 299.5px)"></i>
<i style="top:616px;background:linear-gradient(90deg,#0000d1 0.5px,#0000e8 60.5px,#0005ff 91.5px,#006dff 115.5px,#00fdff 128.5px,#4bffb4 140.5px,#62ff9d 148.5px,#47ffb8 157.5px,#00fcff 171.5px,#008dff 182.5px,#0038ff 194.5px,#0000fa 211.5px,#0000e3 221.5px,#0000b1 299.5px)"></i>
<i style="top:617px;background:linear-gradient(90deg,#0000d4 0.5px,#0000ea 60.5px,#0003ff 90.5px,#006dff 115.5px,#01fffe 128.5px,#47ffb8 139.5px,#60ff9f 147.5px,#52ffad 154.5px,#00feff 171.5px,#0091ff 182.5px,#003cff 194.5px,#0000fa 212.5px,#0000e5 222.5px,#0000b5 299.5px)"></i>
<i style="top:618px;background:linear-gradient(90deg,#0000d4 0.5px,#0000e8 60.5px,#0003ff 91.5px,#0068ff 115.5px,#00c5ff 123.5px,#00fdff 128.5px,#43ffbc 139.5px,#59ffa6 147.5px,#47ffb8 155.5px,#00fcff 171.5px,#0090ff 182.5px,#0037ff 195.5px,#0000fb 212.5px,#0000e5 222.5px,#0000b5 299.5px)"></i>
<i style="top:619px;background:linear-gradient(90deg,#0000ce 0.5px,#0000e2 61.5px,#0000fc 92.5px,#005dff 115.5px,#00acff 122.5px,#00fbff 129.5px,#42ffbd 142.5px,#4bffb4 149.5px,#00feff 169.5px,#00d6ff 174.5px,#08f 182.5px,#0032ff 195.5px,#0000fa 211.5px,#0000e1 221.5px,#0000b1 299.5px)"></i>
<i style="top:620px;background:linear-gradient(90deg,#00c 0.5px,#0000e1 63.5px,#0000f8 92.5px,#000cff 97.5px,#0057ff 115.5px,#0097ff 121.5px,#00f5ff 129.5px,#0bfff4 132.5px,#3effc1 143.5px,#42ffbd 150.5px,#00faff 169.5px,#00d1ff 174.5px,#0085ff 182.5px,#002fff 196.5px,#0000fa 211.5px,#0000df 222.5px,#0000b0 299.5px)"></i>
<i style="top:621px;background:linear-gradient(90deg,#0000c9 0.5px,#0000de 64.5px,#0000f3 92.5px,#0009ff 98.5px,#004eff 115.5px,#008dff 121.5px,#00f4ff 130.5px,#09fff6 133.5px,#35ffca 143.5px,#38ffc7 150.5px,#00fdff 167.5px,#00dfff 172.5px,#08f 181.5px,#002eff 196.5px,#0000fd 210.5px,#00d 222.5px,#0000ae 299.5px)"></i>
<i style="top:622px;background:linear-gradient(90deg,#00c 0.5px,#0000e2 66.5px,#0000f7 93.5px,#000eff 99.5px,#05f 116.5px,#00f5ff 130.5px,#0cfff3 133.5px,#36ffc9 143.5px,#37ffc8 151.5px,#00feff 168.5px,#00d7ff 173.5px,#008cff 181.5px,#0035ff 196.5px,#0000fc 212.5px,#0000e2 222.5px,#0000b2 299.5px)"></i>
<i style="top:623px;background:linear-gradient(90deg,#0000ca 0.5px,#0000e1 69.5px,#0000f3 93.5px,#000aff 99.5px,#004fff 116.5px,#00a8ff 124.5px,#00f7ff 131.5px,#0cfff3 134.5px,#31ffce 144.5px,#2dffd2 152.5px,#00faff 168.5px,#00c7ff 174.5px,#0089ff 181.5px,#0032ff 197.5px,#0000f9 213.5px,#0000e1 223.5px,#0000b1 299.5px)"></i>
<i style="top:624px;background:linear-gradient(90deg,#0000c6 0.5px,#0000de 72.5px,#0000ef 94.5px,#0006ff 100.5px,#0045ff 116.5px,#0090ff 123.5px,#00edff 131.5px,#02fffd 134.5px,#26ffd9 144.5px,#2fd 152.5px,#00faff 166.5px,#0df 171.5px,#0089ff 180.5px,#002cff 198.5px,#0000fb 212.5px,#0000de 223.5px,#0000ae 299.5px)"></i>
<i style="top:625px;background:linear-gradient(90deg,#0000c7 0.5px,#0000e0 76.5px,#00e 94.5px,#0004ff 100.5px,#0041ff 116.5px,#0080ff 122.5px,#00f2ff 132.5px,#06fff9 135.5px,#25ffda 145.5px,#19ffe6 155.5px,#00fbff 166.5px,#00dcff 171.5px,#008aff 180.5px,#002dff 199.5px,#0000fb 213.5px,#0000df 224.5px,#0000b0 299.5px)"></i>
<i style="top:626px;background:linear-gradient(90deg,#0000c9 0.5px,#0000e4 81.5px,#0000f1 95.5px,#0007ff 101.5px,#0046ff 117.5px,#00f1ff 132.5px,#07fff8 135.5px,#23ffdc 144.5px,#1affe5 154.5px,#00faff 167.5px,#00c9ff 173.5px,#008cff 180.5px,#002eff 200.5px,#0000fc 214.5px,#0000e3 224.5px,#0000b3 299.5px)"></i>
<i style="top:627px;background:linear-gradient(90deg,#0000c7 0.5px,#0000e5 89.5px,#0000fb 99.5px,#0039ff 116.5px,#0068ff 121.5px,#00f3ff 133.5px,#06fff9 136.5px,#1dffe2 145.5px,#08fff7 160.5px,#00f6ff 167.5px,#00c4ff 173.5px,#0089ff 180.5px,#002cff 201.5px,#0000fa 215.5px,#0000e2 225.5px,#0000b2 299.5px)"></i>
<i style="top:628px;background:linear-gradient(90deg,#0000c8 0.5px,#0000e6 91.5px,#0005ff 102.5px,#003dff 117.5px,#0094ff 125.5px,#00f0ff 133.5px,#04fffb 136.5px,#1affe5 145.5px,#00faff 166.5px,#00d7ff 171.5px,#0090ff 179.5px,#002cff 202.5px,#0000fa 216.5px,#0000e4 226.5px,#0000b4 299.5px)"></i>
<i style="top:629px;background:linear-gradient(90deg,#0000c7 0.5px,#0000e6 93.5px,#0005ff 103.5px,#0038ff 117.5px,#008dff 125.5px,#00e6ff 133.5px,#03fffc 138.5px,#1fe 147.5px,#00f8ff 163.5px,#00e3ff 169.5px,#0090ff 179.5px,#0023ff 205.5px,#0000fb 216.5px,#0000e4 226.5px,#0000b5 299.5px)"></i>
<i style="top:630px;background:linear-gradient(90deg,#0000c3 0.5px,#0000e1 94.5px,#0004ff 105.5px,#0030ff 117.5px,#008dff 126.5px,#00deff 134.5px,#00fdff 142.5px,#00f8ff 154.5px,#00dcff 168.5px,#0085ff 180.5px,#000bff 211.5px,#0000f8 216.5px,#0000e0 226.5px,#0000b1 299.5px)"></i>
<i style="top:631px;background:linear-gradient(90deg,#0000c4 0.5px,#0000e4 95.5px,#0003ff 105.5px,#002fff 117.5px,#0089ff 126.5px,#00d7ff 134.5px,#00f8ff 142.5px,#00f6ff 152.5px,#00d2ff 169.5px,#0084ff 181.5px,#0001ff 215.5px,#0000e3 226.5px,#0000b4 299.5px)"></i>
<i style="top:632px;background:linear-gradient(90deg,#0000ca 0.5px,#0000e8 95.5px,#0007ff 105.5px,#0031ff 117.5px,#0094ff 127.5px,#00d4ff 134.5px,#00f7ff 142.5px,#00f6ff 152.5px,#00ceff 170.5px,#0087ff 182.5px,#0000fd 218.5px,#0000ea 227.5px,#0000ba 299.5px)"></i>
<i style="top:633px;background:linear-gradient(90deg,#0000c4 0.5px,#0000e2 96.5px,#0004ff 107.5px,#002eff 118.5px,#00bcff 133.5px,#00e3ff 141.5px,#00e8ff 150.5px,#00bfff 170.5px,#0079ff 184.5px,#0000fc 217.5px,#0000e5 226.5px,#0000b5 299.5px)"></i>
<i style="top:634px;background:linear-gradient(90deg,#0000be 0.5px,#0000db 96.5px,#0005ff 110.5px,#0024ff 118.5px,#00b1ff 134.5px,#00d6ff 142.5px,#00d5ff 152.5px,#00adff 171.5px,#005dff 190.5px,#0000fc 216.5px,#0000e1 226.5px,#0000b1 299.5px)"></i>
<i style="top:635px;background:linear-gradient(90deg,#0000be 0.5px,#0000d8 96.5px,#0004ff 111.5px,#0020ff 118.5px,#00aeff 135.5px,#00ceff 143.5px,#00c9ff 154.5px,#009eff 173.5px,#0000fd 216.5px,#0000e1 226.5px,#0000b1 299.5px)"></i>
<i style="top:636px;background:linear-gradient(90deg,#0000bc 0.5px,#0000d5 96.5px,#0005ff 113.5px,#0021ff 119.5px,#00a8ff 136.5px,#00c5ff 144.5px,#00baff 156.5px,#008cff 176.5px,#0000fd 216.5px,#0000e1 226.5px,#0000b0 299.5px)"></i>
<i style="top:637px;background:linear-gradient(90deg,#0000c0 0.5px,#0000da 97.5px,#0005ff 112.5px,#02f 119.5px,#00abff 137.5px,#00c4ff 145.5px,#00b4ff 158.5px,#007bff 183.5px,#0000fd 218.5px,#0000e6 227.5px,#0000b6 299.5px)"></i>
<i style="top:638px;background:linear-gradient(90deg,#0000c0 0.5px,#0000d9 97.5px,#0006ff 113.5px,#0026ff 120.5px,#00a8ff 138.5px,#00bcff 146.5px,#00a8ff 160.5px,#0079ff 184.5px,#0000fb 219.5px,#0000e6 228.5px,#0000b7 299.5px)"></i>
<i style="top:639px;background:linear-gradient(90deg,#0000c1 0.5px,#0000d9 97.5px,#0004ff 113.5px,#0024ff 120.5px,#00a0ff 138.5px,#00b4ff 146.5px,#009eff 162.5px,#007cff 184.5px,#0000fd 219.5px,#0000e7 228.5px,#0000b8 299.5px)"></i>
<i style="top:640px;background:linear-gradient(90deg,#0000bf 0.5px,#0000d8 97.5px,#0004ff 114.5px,#0027ff 121.5px,#0096ff 138.5px,#0af 147.5px,#007fff 183.5px,#000eff 215.5px,#0000f5 221.5px,#0000e4 231.5px,#0000b8 299.5px)"></i>
<i style="top:641px;background:linear-gradient(90deg,#0000bd 0.5px,#0000d6 97.5px,#0003ff 115.5px,#0043ff 126.5px,#008fff 139.5px,#009fff 148.5px,#007bff 184.5px,#0009ff 216.5px,#0000f1 222.5px,#0000e1 233.5px,#0000b7 299.5px)"></i>
<i style="top:642px;background:linear-gradient(90deg,#0000bd 0.5px,#0000d5 97.5px,#0004ff 116.5px,#0086ff 139.5px,#0096ff 148.5px,#007cff 184.5px,#0012ff 214.5px,#0000fa 220.5px,#0000e3 229.5px,#0000b7 299.5px)"></i>
<i style="top:643px;background:linear-gradient(90deg,#0000b9 0.5px,#0000d1 97.5px,#0002ff 117.5px,#0079ff 139.5px,#0089ff 149.5px,#07f 185.5px,#000cff 215.5px,#0000f7 220.5px,#0000e0 229.5px,#0000b4 299.5px)"></i>
<i style="top:644px;background:linear-gradient(90deg,#0000b4 0.5px,#0000ce 98.5px,#0004ff 119.5px,#006aff 139.5px,#007bff 149.5px,#0078ff 172.5px,#0070ff 186.5px,#0004ff 216.5px,#0000db 229.5px,#0000b0 299.5px)"></i>
<i style="top:645px;background:linear-gradient(90deg,#0000b2 0.5px,#0000cb 98.5px,#0000fa 118.5px,#0032ff 129.5px,#0064ff 141.5px,#006fff 152.5px,#0073ff 172.5px,#006eff 186.5px,#0008ff 215.5px,#0000f3 220.5px,#0000d9 229.5px,#0000af 299.5px)"></i>
<i style="top:646px;background:linear-gradient(90deg,#0000b0 0.5px,#0000c8 97.5px,#0000f6 118.5px,#0009ff 122.5px,#0057ff 140.5px,#06f 151.5px,#006cff 171.5px,#006dff 186.5px,#000cff 214.5px,#0000f7 219.5px,#0000d8 229.5px,#0000ae 299.5px)"></i>
<i style="top:647px;background:linear-gradient(90deg,#0000ae 0.5px,#0000c6 97.5px,#0000f2 118.5px,#0008ff 123.5px,#004eff 141.5px,#005bff 153.5px,#006cff 186.5px,#0010ff 213.5px,#0000fa 218.5px,#0000d6 229.5px,#0000ad 299.5px)"></i>
<i style="top:648px;background:linear-gradient(90deg,#0000b5 0.5px,#0000cf 98.5px,#0005ff 121.5px,#0051ff 142.5px,#005eff 158.5px,#0075ff 186.5px,#001fff 212.5px,#0000fc 220.5px,#00d 230.5px,#0000b5 299.5px)"></i>
<i style="top:649px;background:linear-gradient(90deg,#0000b0 0.5px,#0000c9 98.5px,#0005ff 123.5px,#0048ff 145.5px,#006fff 186.5px,#0020ff 211.5px,#0000f9 220.5px,#0000d8 230.5px,#0000b0 299.5px)"></i>
<i style="top:650px;background:linear-gradient(90deg,#0000af 0.5px,#0000c8 98.5px,#0003ff 123.5px,#0043ff 147.5px,#006fff 186.5px,#02f 211.5px,#0000fb 220.5px,#0000d8 230.5px,#0000b0 299.5px)"></i>
<i style="top:651px;background:linear-gradient(90deg,#0000ac 0.5px,#0000c5 98.5px,#0004ff 125.5px,#003dff 150.5px,#006bff 186.5px,#0021ff 211.5px,#0000fa 220.5px,#0000d4 231.5px,#0000ad 299.5px)"></i>
<i style="top:652px;background:linear-gradient(90deg,#00a 0.5px,#0000c2 98.5px,#0005ff 127.5px,#003cff 154.5px,#0069ff 186.5px,#0021ff 211.5px,#0000fa 220.5px,#0000d2 231.5px,#0000ab 299.5px)"></i>
<i style="top:653px;background:linear-gradient(90deg,#0000ae 0.5px,#0000c7 98.5px,#0006ff 126.5px,#0046ff 159.5px,#0070ff 186.5px,#0029ff 211.5px,#0000fc 221.5px,#0000d8 231.5px,#0000b1 299.5px)"></i>
<i style="top:654px;background:linear-gradient(90deg,#0000af 0.5px,#0000c8 98.5px,#0005ff 126.5px,#0072ff 184.5px,#0063ff 193.5px,#0028ff 212.5px,#0000fb 222.5px,#0000da 231.5px,#0000b2 299.5px)"></i>
<i style="top:655px;background:linear-gradient(90deg,#0000b0 0.5px,#0000c8 98.5px,#0005ff 127.5px,#0074ff 186.5px,#002fff 211.5px,#0000fd 222.5px,#0000da 232.5px,#0000b3 299.5px)"></i>
<i style="top:656px;background:linear-gradient(90deg,#0000b0 0.5px,#0000c8 98.5px,#0006ff 128.5px,#0076ff 186.5px,#0031ff 211.5px,#0000fb 223.5px,#0000dc 232.5px,#0000b4 299.5px)"></i>
<i style="top:657px;background:linear-gradient(90deg,#0000ae 0.5px,#0000c5 98.5px,#0004ff 130.5px,#0074ff 186.5px,#0030ff 211.5px,#0000fa 223.5px,#0000da 232.5px,#0000b2 299.5px)"></i>
<i style="top:658px;background:linear-gradient(90deg,#0000af 0.5px,#0000c6 98.5px,#0004ff 130.5px,#07f 187.5px,#002fff 212.5px,#0000fd 223.5px,#0000dc 232.5px,#0000b4 299.5px)"></i>
<i style="top:659px;background:linear-gradient(90deg,#0000b0 0.5px,#0000c6 98.5px,#0005ff 132.5px,#0078ff 187.5px,#0031ff 212.5px,#0000fa 224.5px,#0000dc 233.5px,#0000b5 299.5px)"></i>
<i style="top:660px;background:linear-gradient(90deg,#0000ad 0.5px,#0000c3 98.5px,#0004ff 135.5px,#0075ff 187.5px,#002fff 212.5px,#0000fd 223.5px,#0000d9 233.5px,#0000b2 299.5px)"></i>
<i style="top:661px;background:linear-gradient(90deg,#0000ac 0.5px,#0000c3 99.5px,#0004ff 137.5px,#0056ff 172.5px,#0076ff 187.5px,#0030ff 212.5px,#0000f9 224.5px,#0000da 233.5px,#0000b3 299.5px)"></i>
<i style="top:662px;background:linear-gradient(90deg,#0000ae 0.5px,#0000c5 99.5px,#0005ff 138.5px,#0041ff 163.5px,#0079ff 187.5px,#0034ff 212.5px,#0000fd 224.5px,#0000dc 233.5px,#0000b5 299.5px)"></i>
<i style="top:663px;background:linear-gradient(90deg,#0000ad 0.5px,#0000c3 99.5px,#0005ff 141.5px,#0079ff 187.5px,#0035ff 212.5px,#0000fd 224.5px,#0000dc 233.5px,#0000b4 299.5px)"></i>
<i style="top:664px;background:linear-gradient(90deg,#0000a9 0.5px,#0000bf 99.5px,#0005ff 145.5px,#0076ff 187.5px,#0032ff 212.5px,#0000fb 224.5px,#0000d9 233.5px,#0000b1 299.5px)"></i>
<i style="top:665px;background:linear-gradient(90deg,#0000a4 0.5px,#0000b9 99.5px,#0003ff 148.5px,#006fff 187.5px,#002dff 212.5px,#0000fa 223.5px,#0000d4 233.5px,#0000ac 299.5px)"></i>
<i style="top:666px;background:linear-gradient(90deg,#0000a8 0.5px,#0000be 100.5px,#0005ff 148.5px,#07f 187.5px,#0035ff 212.5px,#0000fd 224.5px,#0000d8 234.5px,#0000b1 299.5px)"></i>
<i style="top:667px;background:linear-gradient(90deg,#0000ab 0.5px,#0000c0 100.5px,#0005ff 148.5px,#007bff 187.5px,#0039ff 212.5px,#0000fd 225.5px,#0000dc 234.5px,#0000b4 299.5px)"></i>
<i style="top:668px;background:linear-gradient(90deg,#00a 0.5px,#0000bf 100.5px,#0003ff 149.5px,#007aff 187.5px,#0041ff 210.5px,#0000fd 225.5px,#0000db 234.5px,#0000b4 299.5px)"></i>
<i style="top:669px;background:linear-gradient(90deg,#0000ac 0.5px,#0000c0 100.5px,#0000fb 147.5px,#007eff 187.5px,#004cff 208.5px,#0000fc 226.5px,#00d 235.5px,#0000b6 299.5px)"></i>
<i style="top:670px;background:linear-gradient(90deg,#0000af 0.5px,#0000c4 101.5px,#0000fc 147.5px,#0082ff 187.5px,#0062ff 202.5px,#0036ff 215.5px,#0000fd 227.5px,#0000e1 235.5px,#0000ba 299.5px)"></i>
<i style="top:671px;background:linear-gradient(90deg,#0000ab 0.5px,#0000c0 101.5px,#0000f9 148.5px,#001aff 157.5px,#007eff 188.5px,#003eff 213.5px,#0000fb 227.5px,#0000de 235.5px,#0000b6 299.5px)"></i>
<i style="top:672px;background:linear-gradient(90deg,#0000a9 0.5px,#0000be 101.5px,#0000f5 148.5px,#0007ff 153.5px,#007bff 188.5px,#0046ff 211.5px,#0000fb 227.5px,#0000dc 236.5px,#0000b5 299.5px)"></i>
<i style="top:673px;background:linear-gradient(90deg,#0000a5 0.5px,#0000b9 101.5px,#00e 148.5px,#0007ff 155.5px,#0075ff 189.5px,#003bff 213.5px,#0000fd 226.5px,#0000d7 236.5px,#0000b0 299.5px)"></i>
<i style="top:674px;background:linear-gradient(90deg,#0000a3 0.5px,#0000b9 102.5px,#00e 149.5px,#0007ff 156.5px,#0073ff 189.5px,#003cff 213.5px,#0000f9 227.5px,#0000d7 236.5px,#0000af 299.5px)"></i>
<i style="top:675px;background:linear-gradient(90deg,#0000a3 0.5px,#0000b9 102.5px,#0000ed 149.5px,#0005ff 156.5px,#0073ff 189.5px,#0042ff 212.5px,#0000fc 227.5px,#0000d8 236.5px,#0000b0 299.5px)"></i>
<i style="top:676px;background:linear-gradient(90deg,#0000a3 0.5px,#0000b8 102.5px,#0000eb 149.5px,#0006ff 157.5px,#0072ff 190.5px,#003cff 214.5px,#0000fe 227.5px,#0000d7 237.5px,#0000b0 299.5px)"></i>
<i style="top:677px;background:linear-gradient(90deg,#0000a4 0.5px,#0000ba 102.5px,#0000ea 149.5px,#0005ff 157.5px,#0074ff 190.5px,#0041ff 214.5px,#0000fd 228.5px,#0000d9 237.5px,#0000b1 299.5px)"></i>
<i style="top:678px;background:linear-gradient(90deg,#0000a3 0.5px,#0000b8 102.5px,#0000ea 150.5px,#0005ff 158.5px,#0072ff 190.5px,#0045ff 213.5px,#0000fe 228.5px,#0000d9 237.5px,#0000b0 299.5px)"></i>
<i style="top:679px;background:linear-gradient(90deg,#0000a3 0.5px,#0000b8 102.5px,#0000e8 150.5px,#0006ff 159.5px,#0072ff 191.5px,#04f 214.5px,#0000fb 229.5px,#0000d8 238.5px,#0000b0 299.5px)"></i>
<i style="top:680px;background:linear-gradient(90deg,#00009f 0.5px,#0000b5 103.5px,#0000e3 150.5px,#0003ff 160.5px,#006dff 191.5px,#0042ff 214.5px,#0000f9 229.5px,#0000d5 238.5px,#0000ad 299.5px)"></i>
<i style="top:681px;background:linear-gradient(90deg,#00009e 0.5px,#0000b3 103.5px,#0000e2 151.5px,#0003ff 161.5px,#006bff 192.5px,#003fff 215.5px,#0000fa 229.5px,#0000d3 239.5px,#0000ac 299.5px)"></i>
<i style="top:682px;background:linear-gradient(90deg,#0000a0 0.5px,#0000b5 103.5px,#0000e3 151.5px,#0004ff 161.5px,#006eff 192.5px,#04f 215.5px,#0000fa 230.5px,#0000d6 239.5px,#0000ae 299.5px)"></i>
<i style="top:683px;background:linear-gradient(90deg,#0000a0 0.5px,#0000b5 103.5px,#0000e1 151.5px,#0005ff 162.5px,#006dff 192.5px,#0046ff 215.5px,#0000fd 230.5px,#0000d7 239.5px,#0000af 299.5px)"></i>
<i style="top:684px;background:linear-gradient(90deg,#0000a1 0.5px,#0000b6 104.5px,#0000e0 151.5px,#0004ff 162.5px,#006eff 193.5px,#004aff 215.5px,#0000fb 231.5px,#0000d7 240.5px,#0000af 299.5px)"></i>
<i style="top:685px;background:linear-gradient(90deg,#0000a1 0.5px,#0000b7 104.5px,#0000e2 152.5px,#0005ff 163.5px,#006fff 193.5px,#0049ff 216.5px,#0000fe 231.5px,#0000d8 240.5px,#0000b0 299.5px)"></i>
<i style="top:686px;background:linear-gradient(90deg,#0000a3 0.5px,#0000b9 104.5px,#0000e3 152.5px,#0006ff 163.5px,#0071ff 193.5px,#004eff 216.5px,#0000fe 232.5px,#0000da 241.5px,#0000b3 299.5px)"></i>
<i style="top:687px;background:linear-gradient(90deg,#0000a8 0.5px,#0000be 105.5px,#0000e6 152.5px,#0006ff 162.5px,#005dff 186.5px,#07f 194.5px,#0056ff 216.5px,#0000fb 234.5px,#0000df 242.5px,#0000b8 299.5px)"></i>
<i style="top:688px;background:linear-gradient(90deg,#0000a9 0.5px,#0000bf 105.5px,#0000e6 152.5px,#0005ff 162.5px,#0054ff 184.5px,#0079ff 195.5px,#0056ff 217.5px,#0000fa 235.5px,#0000e1 242.5px,#0000ba 299.5px)"></i>
<i style="top:689px;background:linear-gradient(90deg,#0000a6 0.5px,#0000bc 105.5px,#0000e4 153.5px,#0005ff 164.5px,#004cff 184.5px,#0074ff 195.5px,#0054ff 217.5px,#0000fa 235.5px,#00d 243.5px,#0000b7 299.5px)"></i>
<i style="top:690px;background:linear-gradient(90deg,#0000a4 0.5px,#0000b9 105.5px,#0000df 153.5px,#0006ff 166.5px,#004aff 185.5px,#0070ff 196.5px,#0053ff 217.5px,#0000fa 235.5px,#0000dc 243.5px,#0000b5 299.5px)"></i>
<i style="top:691px;background:linear-gradient(90deg,#0000a5 0.5px,#00b 106.5px,#0000e2 154.5px,#0004ff 166.5px,#003fff 183.5px,#0071ff 196.5px,#0052ff 218.5px,#0000fe 235.5px,#0000de 243.5px,#0000b6 299.5px)"></i>
<i style="top:692px;background:linear-gradient(90deg,#00009d 0.5px,#0000b2 106.5px,#0000d7 154.5px,#0006ff 171.5px,#0065ff 197.5px,#0049ff 218.5px,#0000fc 234.5px,#0000d5 244.5px,#0000ae 299.5px)"></i>
<i style="top:693px;background:linear-gradient(90deg,#00009a 0.5px,#0000af 106.5px,#0000d2 154.5px,#0005ff 173.5px,#0061ff 198.5px,#04f 219.5px,#0000fc 234.5px,#0000d3 244.5px,#0000ac 299.5px)"></i>
<i style="top:694px;background:linear-gradient(90deg,#0000a0 0.5px,#0000b4 106.5px,#0000da 155.5px,#0004ff 171.5px,#003aff 186.5px,#0068ff 198.5px,#004dff 219.5px,#0000fc 236.5px,#0000d9 245.5px,#0000b2 299.5px)"></i>
<i style="top:695px;background:linear-gradient(90deg,#0000a1 0.5px,#0000b6 107.5px,#0000d9 155.5px,#0005ff 172.5px,#003bff 187.5px,#0069ff 199.5px,#004cff 220.5px,#0000fb 237.5px,#0000da 246.5px,#0000b4 299.5px)"></i>
<i style="top:696px;background:linear-gradient(90deg,#0000a1 0.5px,#0000b4 107.5px,#0000d9 156.5px,#0006ff 174.5px,#0048ff 191.5px,#0067ff 200.5px,#004cff 220.5px,#0000fd 237.5px,#0000da 246.5px,#0000b3 299.5px)"></i>
<i style="top:697px;background:linear-gradient(90deg,#00009f 0.5px,#0000b2 107.5px,#0000d6 156.5px,#0006ff 176.5px,#0064ff 200.5px,#004cff 220.5px,#0000fe 237.5px,#0000d8 247.5px,#0000b2 299.5px)"></i>
<i style="top:698px;background:linear-gradient(90deg,#00009a 0.5px,#0000ad 107.5px,#0000cf 156.5px,#0005ff 179.5px,#005dff 201.5px,#0043ff 221.5px,#0000fb 237.5px,#0000d4 247.5px,#0000ad 299.5px)"></i>
<i style="top:699px;background:linear-gradient(90deg,#00009c 0.5px,#0000af 108.5px,#0000d1 157.5px,#0004ff 179.5px,#005eff 201.5px,#0047ff 221.5px,#0000fb 238.5px,#0000d6 248.5px,#0000af 299.5px)"></i>
<i style="top:700px;background:linear-gradient(90deg,#0000a3 0.5px,#0000b6 108.5px,#0000d8 157.5px,#0004ff 177.5px,#04f 193.5px,#0068ff 203.5px,#004fff 222.5px,#0000fd 240.5px,#0000de 249.5px,#0000b7 299.5px)"></i>
<i style="top:701px;background:linear-gradient(90deg,#0000a3 0.5px,#0000b6 108.5px,#0000d8 158.5px,#0006ff 179.5px,#0067ff 203.5px,#0050ff 222.5px,#0000fa 241.5px,#00d 250.5px,#0000b7 299.5px)"></i>
<i style="top:702px;background:linear-gradient(90deg,#0000a0 0.5px,#0000b3 109.5px,#0000d3 158.5px,#0004ff 181.5px,#0061ff 203.5px,#004dff 222.5px,#0000f9 241.5px,#0000db 250.5px,#0000b4 299.5px)"></i>
<i style="top:703px;background:linear-gradient(90deg,#0000a3 0.5px,#0000b5 109.5px,#0000d5 158.5px,#0004ff 181.5px,#0065ff 204.5px,#004fff 223.5px,#0000fb 242.5px,#0000de 251.5px,#0000b8 299.5px)"></i>
<i style="top:704px;background:linear-gradient(90deg,#00009d 0.5px,#0000ae 109.5px,#0000ce 159.5px,#0003ff 184.5px,#005cff 205.5px,#0045ff 224.5px,#0000fb 241.5px,#0000d8 251.5px,#0000b2 299.5px)"></i>
<i style="top:705px;background:linear-gradient(90deg,#00009b 0.5px,#0000ad 110.5px,#0000cb 159.5px,#0001ff 185.5px,#0059ff 205.5px,#04f 224.5px,#0000fc 241.5px,#0000d7 251.5px,#0000b1 299.5px)"></i>
</div>
<svg width="685" height="743" viewBox="0 0 685 743" font-size="14.4">
<rect x="33.5" y="26.5" width="301" height="295.5" fill="none" stroke="#000" stroke-width="1"/>
<defs><linearGradient id="cb18" x1="0" x2="1" y1="0" y2="0"><stop offset="0" stop-color="#00008f"/><stop offset="0.11" stop-color="#0000ff"/><stop offset="0.36" stop-color="#00ffff"/><stop offset="0.5" stop-color="#80ff80"/><stop offset="0.62" stop-color="#ffff00"/><stop offset="0.87" stop-color="#ff0000"/><stop offset="1" stop-color="#800000"/></linearGradient></defs>
<rect x="292.6" y="18.6" width="41" height="5.6" fill="url(#cb18)" stroke="#000" stroke-width="1.2"/>
<line x1="292.6" y1="16" x2="292.6" y2="19" stroke="#000" stroke-width="1.2"/>
<line x1="333.6" y1="16" x2="333.6" y2="19" stroke="#000" stroke-width="1.2"/>
<defs><linearGradient id="cb402" x1="0" x2="1" y1="0" y2="0"><stop offset="0" stop-color="#00008f"/><stop offset="0.11" stop-color="#0000ff"/><stop offset="0.36" stop-color="#00ffff"/><stop offset="0.5" stop-color="#80ff80"/><stop offset="0.62" stop-color="#ffff00"/><stop offset="0.87" stop-color="#ff0000"/><stop offset="1" stop-color="#800000"/></linearGradient></defs>
<rect x="292.6" y="402.6" width="41" height="5.6" fill="url(#cb402)" stroke="#000" stroke-width="1.2"/>
<line x1="292.6" y1="400" x2="292.6" y2="403" stroke="#000" stroke-width="1.2"/>
<line x1="333.6" y1="400" x2="333.6" y2="403" stroke="#000" stroke-width="1.2"/>
<text x="182" y="20.5">PL (arb. units)</text>
<text x="275.3" y="10.2">6E+2</text>
<text x="317.3" y="10.2">1E+5</text>
<text x="182" y="402.8">PL (arb. units)</text>
<text x="275.3" y="394.6">4E+2</text>
<text x="317.3" y="394.6">1E+5</text>
<text x="1.5" y="31.9" font-size="16">a</text>
<text x="1.5" y="416.5" font-size="16">b</text>
<line x1="33.5" y1="79" x2="37.3" y2="79" stroke="#fff" stroke-width="1.3"/>
<text x="28.6" y="84" text-anchor="end">2</text>
<line x1="33.5" y1="116" x2="37.3" y2="116" stroke="#fff" stroke-width="1.3"/>
<text x="28.6" y="121" text-anchor="end">1</text>
<line x1="33.5" y1="176" x2="37.3" y2="176" stroke="#fff" stroke-width="1.3"/>
<text x="28.6" y="181" text-anchor="end">0</text>
<line x1="33.5" y1="237" x2="37.3" y2="237" stroke="#fff" stroke-width="1.3"/>
<text x="28.6" y="242" text-anchor="end">−1</text>
<line x1="33.5" y1="278.4" x2="37.3" y2="278.4" stroke="#fff" stroke-width="1.3"/>
<text x="28.6" y="283.4" text-anchor="end">−2</text>
<line x1="33.9" y1="322" x2="33.9" y2="326" stroke="#000" stroke-width="1"/>
<text x="33.9" y="339.3" text-anchor="middle">1.40</text>
<line x1="63.9" y1="322" x2="63.9" y2="324.5" stroke="#000" stroke-width="1"/>
<line x1="93.9" y1="322" x2="93.9" y2="326" stroke="#000" stroke-width="1"/>
<text x="93.9" y="339.3" text-anchor="middle">1.42</text>
<line x1="123.9" y1="322" x2="123.9" y2="324.5" stroke="#000" stroke-width="1"/>
<line x1="153.9" y1="322" x2="153.9" y2="326" stroke="#000" stroke-width="1"/>
<text x="153.9" y="339.3" text-anchor="middle">1.44</text>
<line x1="183.9" y1="322" x2="183.9" y2="324.5" stroke="#000" stroke-width="1"/>
<line x1="213.9" y1="322" x2="213.9" y2="326" stroke="#000" stroke-width="1"/>
<text x="213.9" y="339.3" text-anchor="middle">1.46</text>
<line x1="243.9" y1="322" x2="243.9" y2="324.5" stroke="#000" stroke-width="1"/>
<line x1="273.9" y1="322" x2="273.9" y2="326" stroke="#000" stroke-width="1"/>
<text x="273.9" y="339.3" text-anchor="middle">1.48</text>
<line x1="303.9" y1="322" x2="303.9" y2="324.5" stroke="#000" stroke-width="1"/>
<line x1="333.9" y1="322" x2="333.9" y2="326" stroke="#000" stroke-width="1"/>
<text x="333.9" y="339.3" text-anchor="middle">1.50</text>
<text x="122" y="355.3">Photon energy (eV)</text>
<text transform="translate(11.2 178) rotate(-90)" text-anchor="middle">Filling factor</text>
<text x="36" y="41.4" fill="#fff">H-stacked</text>
<g stroke="#000" fill="none"><path d="M34 45H150" stroke-width="1" stroke-dasharray="1.3 1.7" opacity=".35"/><path d="M34 54.5H130" stroke-width="1" stroke-dasharray="1 2.6" opacity=".25"/><path d="M34 313.6H110" stroke-width="1" stroke-dasharray="1.3 1.5" opacity=".5"/><path d="M110 313.6H165" stroke-width="1" stroke-dasharray="1 3" opacity=".25"/><path d="M34 317.8H105" stroke-width="1.2" stroke-dasharray="1.5 1.3" opacity=".55"/><path d="M105 317.8H170" stroke-width="1" stroke-dasharray="1 3" opacity=".25"/></g>
<text x="177" y="80" fill="#fff">n=2</text>
<path d="M206.4 75.5H225" stroke="#fff" stroke-width="1.3" fill="none"/><path d="M234 75.5L223 72.9L223 78.1Z" fill="#fff"/>
<text x="294.5" y="86.5" fill="#fff">n=5/3</text>
<path d="M296 90.6H277.4" stroke="#fff" stroke-width="1.3" fill="none"/><path d="M268.4 90.6L279.4 88L279.4 93.2Z" fill="#fff"/>
<text x="296" y="116.3" fill="#fff">n=4/3</text>
<path d="M304.6 102.2H286" stroke="#fff" stroke-width="1.3" fill="none"/><path d="M277 102.2L288 99.6L288 104.8Z" fill="#fff"/>
<text x="41.3" y="121.8" fill="#fff">n=1</text>
<path d="M73 116.8H90.2" stroke="#fff" stroke-width="1.3" fill="none"/><path d="M99.2 116.8L88.2 114.2L88.2 119.4Z" fill="#fff"/>
<text x="246.7" y="136.9" fill="#fff">n=2/3</text>
<path d="M244.2 132.4H224.5" stroke="#fff" stroke-width="1.3" fill="none"/><path d="M215.5 132.4L226.5 129.8L226.5 135Z" fill="#fff"/>
<text x="251.8" y="150.5" fill="#fff">n=1/3</text>
<path d="M249.2 146H230.5" stroke="#fff" stroke-width="1.3" fill="none"/><path d="M221.5 146L232.5 143.4L232.5 148.6Z" fill="#fff"/>
<text x="250.7" y="209.5" fill="#fff">n=-1/3</text>
<path d="M247.7 205H228" stroke="#fff" stroke-width="1.3" fill="none"/><path d="M219 205L230 202.4L230 207.6Z" fill="#fff"/>
<text x="254.8" y="227" fill="#fff">n=-2/3</text>
<path d="M251.8 222.5H233" stroke="#fff" stroke-width="1.3" fill="none"/><path d="M224 222.5L235 219.9L235 225.1Z" fill="#fff"/>
<text x="48.8" y="241.2" fill="#fff">n=-1</text>
<path d="M79 236.7H96.7" stroke="#fff" stroke-width="1.3" fill="none"/><path d="M105.7 236.7L94.7 234.1L94.7 239.3Z" fill="#fff"/>
<text x="80.5" y="282.5" fill="#fff">n=-2</text>
<path d="M111.8 278H130.5" stroke="#fff" stroke-width="1.3" fill="none"/><path d="M139.5 278L128.5 275.4L128.5 280.6Z" fill="#fff"/>
<path d="M87.7 156H111.7" stroke="#000" stroke-width="1.8" fill="none"/><path d="M117.2 156L109.7 152.4L109.7 159.6Z" fill="#000"/>
<rect x="33.5" y="410.5" width="301" height="295.5" fill="none" stroke="#000" stroke-width="1"/>
<line x1="33.5" y1="437.3" x2="37.3" y2="437.3" stroke="#fff" stroke-width="1.3"/>
<text x="28.6" y="442.3" text-anchor="end">2</text>
<line x1="33.5" y1="493.8" x2="37.3" y2="493.8" stroke="#fff" stroke-width="1.3"/>
<text x="28.6" y="498.8" text-anchor="end">1</text>
<line x1="33.5" y1="553.3" x2="37.3" y2="553.3" stroke="#fff" stroke-width="1.3"/>
<text x="28.6" y="558.3" text-anchor="end">0</text>
<line x1="33.5" y1="627.8" x2="37.3" y2="627.8" stroke="#fff" stroke-width="1.3"/>
<text x="28.6" y="632.8" text-anchor="end">−1</text>
<line x1="33.5" y1="684.3" x2="37.3" y2="684.3" stroke="#fff" stroke-width="1.3"/>
<text x="28.6" y="689.3" text-anchor="end">−2</text>
<line x1="33.9" y1="706" x2="33.9" y2="710" stroke="#000" stroke-width="1"/>
<text x="33.9" y="724.6" text-anchor="middle">1.36</text>
<line x1="64" y1="706" x2="64" y2="708.5" stroke="#000" stroke-width="1"/>
<line x1="94.1" y1="706" x2="94.1" y2="710" stroke="#000" stroke-width="1"/>
<text x="94.1" y="724.6" text-anchor="middle">1.38</text>
<line x1="124.2" y1="706" x2="124.2" y2="708.5" stroke="#000" stroke-width="1"/>
<line x1="154.3" y1="706" x2="154.3" y2="710" stroke="#000" stroke-width="1"/>
<text x="154.3" y="724.6" text-anchor="middle">1.40</text>
<line x1="184.4" y1="706" x2="184.4" y2="708.5" stroke="#000" stroke-width="1"/>
<line x1="214.5" y1="706" x2="214.5" y2="710" stroke="#000" stroke-width="1"/>
<text x="214.5" y="724.6" text-anchor="middle">1.42</text>
<line x1="244.6" y1="706" x2="244.6" y2="708.5" stroke="#000" stroke-width="1"/>
<line x1="274.7" y1="706" x2="274.7" y2="710" stroke="#000" stroke-width="1"/>
<text x="274.7" y="724.6" text-anchor="middle">1.44</text>
<line x1="304.8" y1="706" x2="304.8" y2="708.5" stroke="#000" stroke-width="1"/>
<line x1="334.9" y1="706" x2="334.9" y2="710" stroke="#000" stroke-width="1"/>
<text x="334.9" y="724.6" text-anchor="middle">1.46</text>
<text x="122" y="739.2">Photon energy (eV)</text>
<text transform="translate(11.2 562) rotate(-90)" text-anchor="middle">Filling factor</text>
<text x="35.2" y="425.9" fill="#fff">R-stacked</text>
<text x="305.6" y="441" fill="#fff">n=2</text>
<path d="M299.6 436.5H281" stroke="#fff" stroke-width="1.3" fill="none"/><path d="M272 436.5L283 433.9L283 439.1Z" fill="#fff"/>
<text x="280.5" y="497.8" fill="#fff">n=1</text>
<path d="M274.4 493.3H255.7" stroke="#fff" stroke-width="1.3" fill="none"/><path d="M246.7 493.3L257.7 490.7L257.7 495.9Z" fill="#fff"/>
<text x="274.4" y="516" fill="#fff">n=2/3</text>
<path d="M269.4 510H249.7" stroke="#fff" stroke-width="1.3" fill="none"/><path d="M240.7 510L251.7 507.4L251.7 512.6Z" fill="#fff"/>
<text x="265.4" y="538.5" fill="#fff">n=1/3</text>
<path d="M260.3 534H240.6" stroke="#fff" stroke-width="1.3" fill="none"/><path d="M231.6 534L242.6 531.4L242.6 536.6Z" fill="#fff"/>
<text x="265.4" y="583" fill="#fff">n=-1/3</text>
<path d="M260.3 578.4H240.6" stroke="#fff" stroke-width="1.3" fill="none"/><path d="M231.6 578.4L242.6 575.8L242.6 581Z" fill="#fff"/>
<text x="278.4" y="608" fill="#fff">n=-2/3</text>
<path d="M273 603.6H253.2" stroke="#fff" stroke-width="1.3" fill="none"/><path d="M244.2 603.6L255.2 601L255.2 606.2Z" fill="#fff"/>
<text x="56.4" y="506.5" fill="#fff">n=4/5</text>
<path d="M104.2 502H123" stroke="#fff" stroke-width="1.3" fill="none"/><path d="M132 502L121 499.4L121 504.6Z" fill="#fff"/>
<text x="48.8" y="546.7" fill="#fff">n=1/4</text>
<path d="M95.7 542.2H114.4" stroke="#fff" stroke-width="1.3" fill="none"/><path d="M123.4 542.2L112.4 539.6L112.4 544.8Z" fill="#fff"/>
<text x="62" y="595.5" fill="#fff">n=-1/2</text>
<path d="M113.3 591H132" stroke="#fff" stroke-width="1.3" fill="none"/><path d="M141 591L130 588.4L130 593.6Z" fill="#fff"/>
<text x="65.5" y="631.3" fill="#fff">n=-1</text>
<path d="M104.2 626.8H122" stroke="#fff" stroke-width="1.3" fill="none"/><path d="M131 626.8L120 624.2L120 629.4Z" fill="#fff"/>
<text x="90.6" y="688.7" fill="#fff">n=-2</text>
<path d="M130 684.2H148.6" stroke="#fff" stroke-width="1.3" fill="none"/><path d="M157.6 684.2L146.6 681.6L146.6 686.8Z" fill="#fff"/>
<path d="M285.3 26.8m-1.45 0a1.45 1.45 0 1 0 2.9 0a1.45 1.45 0 1 0 -2.9 0M282.0 27.4m-1.45 0a1.45 1.45 0 1 0 2.9 0a1.45 1.45 0 1 0 -2.9 0M281.5 27.7m-1.45 0a1.45 1.45 0 1 0 2.9 0a1.45 1.45 0 1 0 -2.9 0M280.7 28.8m-1.45 0a1.45 1.45 0 1 0 2.9 0a1.45 1.45 0 1 0 -2.9 0M278.0 29.6m-1.45 0a1.45 1.45 0 1 0 2.9 0a1.45 1.45 0 1 0 -2.9 0M276.9 29.8m-1.45 0a1.45 1.45 0 1 0 2.9 0a1.45 1.45 0 1 0 -2.9 0M274.1 30.9m-1.45 0a1.45 1.45 0 1 0 2.9 0a1.45 1.45 0 1 0 -2.9 0M273.9 32.1m-1.45 0a1.45 1.45 0 1 0 2.9 0a1.45 1.45 0 1 0 -2.9 0M272.1 33.5m-1.45 0a1.45 1.45 0 1 0 2.9 0a1.45 1.45 0 1 0 -2.9 0M273.9 34.6m-1.45 0a1.45 1.45 0 1 0 2.9 0a1.45 1.45 0 1 0 -2.9 0M274.9 35.4m-1.45 0a1.45 1.45 0 1 0 2.9 0a1.45 1.45 0 1 0 -2.9 0M277.2 36.6m-1.45 0a1.45 1.45 0 1 0 2.9 0a1.45 1.45 0 1 0 -2.9 0M278.2 37.6m-1.45 0a1.45 1.45 0 1 0 2.9 0a1.45 1.45 0 1 0 -2.9 0M278.9 38.9m-1.45 0a1.45 1.45 0 1 0 2.9 0a1.45 1.45 0 1 0 -2.9 0M280.2 40.6m-1.45 0a1.45 1.45 0 1 0 2.9 0a1.45 1.45 0 1 0 -2.9 0M277.9 41.7m-1.45 0a1.45 1.45 0 1 0 2.9 0a1.45 1.45 0 1 0 -2.9 0M275.9 43.6m-1.45 0a1.45 1.45 0 1 0 2.9 0a1.45 1.45 0 1 0 -2.9 0M277.2 44.5m-1.45 0a1.45 1.45 0 1 0 2.9 0a1.45 1.45 0 1 0 -2.9 0M278.3 45.3m-1.45 0a1.45 1.45 0 1 0 2.9 0a1.45 1.45 0 1 0 -2.9 0M277.9 46.1m-1.45 0a1.45 1.45 0 1 0 2.9 0a1.45 1.45 0 1 0 -2.9 0M274.8 46.3m-1.45 0a1.45 1.45 0 1 0 2.9 0a1.45 1.45 0 1 0 -2.9 0M276.5 48.4m-1.45 0a1.45 1.45 0 1 0 2.9 0a1.45 1.45 0 1 0 -2.9 0M275.6 48.7m-1.45 0a1.45 1.45 0 1 0 2.9 0a1.45 1.45 0 1 0 -2.9 0M274.4 50.5m-1.45 0a1.45 1.45 0 1 0 2.9 0a1.45 1.45 0 1 0 -2.9 0M275.7 51.4m-1.45 0a1.45 1.45 0 1 0 2.9 0a1.45 1.45 0 1 0 -2.9 0M273.1 51.8m-1.45 0a1.45 1.45 0 1 0 2.9 0a1.45 1.45 0 1 0 -2.9 0M270.2 52.3m-1.45 0a1.45 1.45 0 1 0 2.9 0a1.45 1.45 0 1 0 -2.9 0M268.7 53.0m-1.45 0a1.45 1.45 0 1 0 2.9 0a1.45 1.45 0 1 0 -2.9 0M267.4 53.6m-1.45 0a1.45 1.45 0 1 0 2.9 0a1.45 1.45 0 1 0 -2.9 0M268.4 54.6m-1.45 0a1.45 1.45 0 1 0 2.9 0a1.45 1.45 0 1 0 -2.9 0M269.1 55.7m-1.45 0a1.45 1.45 0 1 0 2.9 0a1.45 1.45 0 1 0 -2.9 0M269.2 57.2m-1.45 0a1.45 1.45 0 1 0 2.9 0a1.45 1.45 0 1 0 -2.9 0M267.8 59.3m-1.45 0a1.45 1.45 0 1 0 2.9 0a1.45 1.45 0 1 0 -2.9 0M266.9 61.8m-1.45 0a1.45 1.45 0 1 0 2.9 0a1.45 1.45 0 1 0 -2.9 0M266.8 63.0m-1.45 0a1.45 1.45 0 1 0 2.9 0a1.45 1.45 0 1 0 -2.9 0M266.0 64.6m-1.45 0a1.45 1.45 0 1 0 2.9 0a1.45 1.45 0 1 0 -2.9 0M265.6 65.7m-1.45 0a1.45 1.45 0 1 0 2.9 0a1.45 1.45 0 1 0 -2.9 0M264.3 65.5m-1.45 0a1.45 1.45 0 1 0 2.9 0a1.45 1.45 0 1 0 -2.9 0M262.0 68.3m-1.45 0a1.45 1.45 0 1 0 2.9 0a1.45 1.45 0 1 0 -2.9 0M261.6 70.3m-1.45 0a1.45 1.45 0 1 0 2.9 0a1.45 1.45 0 1 0 -2.9 0M263.4 71.4m-1.45 0a1.45 1.45 0 1 0 2.9 0a1.45 1.45 0 1 0 -2.9 0M262.2 73.6m-1.45 0a1.45 1.45 0 1 0 2.9 0a1.45 1.45 0 1 0 -2.9 0M264.3 74.9m-1.45 0a1.45 1.45 0 1 0 2.9 0a1.45 1.45 0 1 0 -2.9 0M262.8 75.9m-1.45 0a1.45 1.45 0 1 0 2.9 0a1.45 1.45 0 1 0 -2.9 0M258.8 76.4m-1.45 0a1.45 1.45 0 1 0 2.9 0a1.45 1.45 0 1 0 -2.9 0M247.2 74.1m-1.45 0a1.45 1.45 0 1 0 2.9 0a1.45 1.45 0 1 0 -2.9 0M244.7 75.8m-1.45 0a1.45 1.45 0 1 0 2.9 0a1.45 1.45 0 1 0 -2.9 0M242.7 76.7m-1.45 0a1.45 1.45 0 1 0 2.9 0a1.45 1.45 0 1 0 -2.9 0M242.1 78.0m-1.45 0a1.45 1.45 0 1 0 2.9 0a1.45 1.45 0 1 0 -2.9 0M239.6 78.9m-1.45 0a1.45 1.45 0 1 0 2.9 0a1.45 1.45 0 1 0 -2.9 0M237.9 79.9m-1.45 0a1.45 1.45 0 1 0 2.9 0a1.45 1.45 0 1 0 -2.9 0M229.0 80.3m-1.45 0a1.45 1.45 0 1 0 2.9 0a1.45 1.45 0 1 0 -2.9 0M227.2 81.3m-1.45 0a1.45 1.45 0 1 0 2.9 0a1.45 1.45 0 1 0 -2.9 0M225.7 82.9m-1.45 0a1.45 1.45 0 1 0 2.9 0a1.45 1.45 0 1 0 -2.9 0M226.4 83.8m-1.45 0a1.45 1.45 0 1 0 2.9 0a1.45 1.45 0 1 0 -2.9 0M227.1 84.9m-1.45 0a1.45 1.45 0 1 0 2.9 0a1.45 1.45 0 1 0 -2.9 0M228.1 85.9m-1.45 0a1.45 1.45 0 1 0 2.9 0a1.45 1.45 0 1 0 -2.9 0M230.1 86.9m-1.45 0a1.45 1.45 0 1 0 2.9 0a1.45 1.45 0 1 0 -2.9 0M231.2 87.1m-1.45 0a1.45 1.45 0 1 0 2.9 0a1.45 1.45 0 1 0 -2.9 0M232.3 87.4m-1.45 0a1.45 1.45 0 1 0 2.9 0a1.45 1.45 0 1 0 -2.9 0M234.1 88.5m-1.45 0a1.45 1.45 0 1 0 2.9 0a1.45 1.45 0 1 0 -2.9 0M234.8 89.6m-1.45 0a1.45 1.45 0 1 0 2.9 0a1.45 1.45 0 1 0 -2.9 0M236.7 90.5m-1.45 0a1.45 1.45 0 1 0 2.9 0a1.45 1.45 0 1 0 -2.9 0M236.9 91.2m-1.45 0a1.45 1.45 0 1 0 2.9 0a1.45 1.45 0 1 0 -2.9 0M236.3 92.1m-1.45 0a1.45 1.45 0 1 0 2.9 0a1.45 1.45 0 1 0 -2.9 0M234.7 93.0m-1.45 0a1.45 1.45 0 1 0 2.9 0a1.45 1.45 0 1 0 -2.9 0M234.1 94.3m-1.45 0a1.45 1.45 0 1 0 2.9 0a1.45 1.45 0 1 0 -2.9 0M232.1 95.6m-1.45 0a1.45 1.45 0 1 0 2.9 0a1.45 1.45 0 1 0 -2.9 0M233.6 96.4m-1.45 0a1.45 1.45 0 1 0 2.9 0a1.45 1.45 0 1 0 -2.9 0M234.9 97.6m-1.45 0a1.45 1.45 0 1 0 2.9 0a1.45 1.45 0 1 0 -2.9 0M236.9 98.5m-1.45 0a1.45 1.45 0 1 0 2.9 0a1.45 1.45 0 1 0 -2.9 0M237.4 99.4m-1.45 0a1.45 1.45 0 1 0 2.9 0a1.45 1.45 0 1 0 -2.9 0M239.5 100.0m-1.45 0a1.45 1.45 0 1 0 2.9 0a1.45 1.45 0 1 0 -2.9 0M241.1 101.0m-1.45 0a1.45 1.45 0 1 0 2.9 0a1.45 1.45 0 1 0 -2.9 0M242.0 102.1m-1.45 0a1.45 1.45 0 1 0 2.9 0a1.45 1.45 0 1 0 -2.9 0M242.6 103.1m-1.45 0a1.45 1.45 0 1 0 2.9 0a1.45 1.45 0 1 0 -2.9 0M242.6 104.5m-1.45 0a1.45 1.45 0 1 0 2.9 0a1.45 1.45 0 1 0 -2.9 0M241.6 105.7m-1.45 0a1.45 1.45 0 1 0 2.9 0a1.45 1.45 0 1 0 -2.9 0M242.4 106.5m-1.45 0a1.45 1.45 0 1 0 2.9 0a1.45 1.45 0 1 0 -2.9 0M242.9 107.5m-1.45 0a1.45 1.45 0 1 0 2.9 0a1.45 1.45 0 1 0 -2.9 0M242.4 108.9m-1.45 0a1.45 1.45 0 1 0 2.9 0a1.45 1.45 0 1 0 -2.9 0M242.9 110.7m-1.45 0a1.45 1.45 0 1 0 2.9 0a1.45 1.45 0 1 0 -2.9 0M243.2 111.8m-1.45 0a1.45 1.45 0 1 0 2.9 0a1.45 1.45 0 1 0 -2.9 0M243.8 112.6m-1.45 0a1.45 1.45 0 1 0 2.9 0a1.45 1.45 0 1 0 -2.9 0M244.7 113.4m-1.45 0a1.45 1.45 0 1 0 2.9 0a1.45 1.45 0 1 0 -2.9 0M245.4 114.9m-1.45 0a1.45 1.45 0 1 0 2.9 0a1.45 1.45 0 1 0 -2.9 0M246.0 115.6m-1.45 0a1.45 1.45 0 1 0 2.9 0a1.45 1.45 0 1 0 -2.9 0M247.3 116.6m-1.45 0a1.45 1.45 0 1 0 2.9 0a1.45 1.45 0 1 0 -2.9 0M249.3 117.4m-1.45 0a1.45 1.45 0 1 0 2.9 0a1.45 1.45 0 1 0 -2.9 0M137.5 117.6m-1.45 0a1.45 1.45 0 1 0 2.9 0a1.45 1.45 0 1 0 -2.9 0M140.3 116.9m-1.45 0a1.45 1.45 0 1 0 2.9 0a1.45 1.45 0 1 0 -2.9 0M124.6 120.0m-1.45 0a1.45 1.45 0 1 0 2.9 0a1.45 1.45 0 1 0 -2.9 0M125.4 120.5m-1.45 0a1.45 1.45 0 1 0 2.9 0a1.45 1.45 0 1 0 -2.9 0M126.8 121.8m-1.45 0a1.45 1.45 0 1 0 2.9 0a1.45 1.45 0 1 0 -2.9 0M127.9 124.0m-1.45 0a1.45 1.45 0 1 0 2.9 0a1.45 1.45 0 1 0 -2.9 0M130.0 125.4m-1.45 0a1.45 1.45 0 1 0 2.9 0a1.45 1.45 0 1 0 -2.9 0M131.9 127.3m-1.45 0a1.45 1.45 0 1 0 2.9 0a1.45 1.45 0 1 0 -2.9 0M134.1 128.6m-1.45 0a1.45 1.45 0 1 0 2.9 0a1.45 1.45 0 1 0 -2.9 0M135.9 129.8m-1.45 0a1.45 1.45 0 1 0 2.9 0a1.45 1.45 0 1 0 -2.9 0M139.6 131.8m-1.45 0a1.45 1.45 0 1 0 2.9 0a1.45 1.45 0 1 0 -2.9 0M143.6 133.2m-1.45 0a1.45 1.45 0 1 0 2.9 0a1.45 1.45 0 1 0 -2.9 0M140.1 133.8m-1.45 0a1.45 1.45 0 1 0 2.9 0a1.45 1.45 0 1 0 -2.9 0M137.5 134.2m-1.45 0a1.45 1.45 0 1 0 2.9 0a1.45 1.45 0 1 0 -2.9 0M136.5 136.8m-1.45 0a1.45 1.45 0 1 0 2.9 0a1.45 1.45 0 1 0 -2.9 0M134.6 138.9m-1.45 0a1.45 1.45 0 1 0 2.9 0a1.45 1.45 0 1 0 -2.9 0M135.7 140.6m-1.45 0a1.45 1.45 0 1 0 2.9 0a1.45 1.45 0 1 0 -2.9 0M136.1 142.6m-1.45 0a1.45 1.45 0 1 0 2.9 0a1.45 1.45 0 1 0 -2.9 0M137.5 143.9m-1.45 0a1.45 1.45 0 1 0 2.9 0a1.45 1.45 0 1 0 -2.9 0M138.3 146.2m-1.45 0a1.45 1.45 0 1 0 2.9 0a1.45 1.45 0 1 0 -2.9 0M137.6 148.0m-1.45 0a1.45 1.45 0 1 0 2.9 0a1.45 1.45 0 1 0 -2.9 0M135.0 149.7m-1.45 0a1.45 1.45 0 1 0 2.9 0a1.45 1.45 0 1 0 -2.9 0M135.9 152.0m-1.45 0a1.45 1.45 0 1 0 2.9 0a1.45 1.45 0 1 0 -2.9 0M138.8 152.2m-1.45 0a1.45 1.45 0 1 0 2.9 0a1.45 1.45 0 1 0 -2.9 0M142.1 152.7m-1.45 0a1.45 1.45 0 1 0 2.9 0a1.45 1.45 0 1 0 -2.9 0M144.4 153.1m-1.45 0a1.45 1.45 0 1 0 2.9 0a1.45 1.45 0 1 0 -2.9 0M146.8 153.4m-1.45 0a1.45 1.45 0 1 0 2.9 0a1.45 1.45 0 1 0 -2.9 0M149.4 153.2m-1.45 0a1.45 1.45 0 1 0 2.9 0a1.45 1.45 0 1 0 -2.9 0M152.1 154.1m-1.45 0a1.45 1.45 0 1 0 2.9 0a1.45 1.45 0 1 0 -2.9 0M154.7 154.7m-1.45 0a1.45 1.45 0 1 0 2.9 0a1.45 1.45 0 1 0 -2.9 0M156.2 156.6m-1.45 0a1.45 1.45 0 1 0 2.9 0a1.45 1.45 0 1 0 -2.9 0M158.7 158.3m-1.45 0a1.45 1.45 0 1 0 2.9 0a1.45 1.45 0 1 0 -2.9 0M161.1 160.1m-1.45 0a1.45 1.45 0 1 0 2.9 0a1.45 1.45 0 1 0 -2.9 0M162.0 161.8m-1.45 0a1.45 1.45 0 1 0 2.9 0a1.45 1.45 0 1 0 -2.9 0M163.9 163.8m-1.45 0a1.45 1.45 0 1 0 2.9 0a1.45 1.45 0 1 0 -2.9 0M166.0 165.8m-1.45 0a1.45 1.45 0 1 0 2.9 0a1.45 1.45 0 1 0 -2.9 0M166.7 168.0m-1.45 0a1.45 1.45 0 1 0 2.9 0a1.45 1.45 0 1 0 -2.9 0M168.3 169.5m-1.45 0a1.45 1.45 0 1 0 2.9 0a1.45 1.45 0 1 0 -2.9 0M169.5 171.2m-1.45 0a1.45 1.45 0 1 0 2.9 0a1.45 1.45 0 1 0 -2.9 0M170.5 172.9m-1.45 0a1.45 1.45 0 1 0 2.9 0a1.45 1.45 0 1 0 -2.9 0M171.3 174.8m-1.45 0a1.45 1.45 0 1 0 2.9 0a1.45 1.45 0 1 0 -2.9 0M173.3 176.4m-1.45 0a1.45 1.45 0 1 0 2.9 0a1.45 1.45 0 1 0 -2.9 0M169.8 178.2m-1.45 0a1.45 1.45 0 1 0 2.9 0a1.45 1.45 0 1 0 -2.9 0M165.8 179.1m-1.45 0a1.45 1.45 0 1 0 2.9 0a1.45 1.45 0 1 0 -2.9 0M163.4 179.9m-1.45 0a1.45 1.45 0 1 0 2.9 0a1.45 1.45 0 1 0 -2.9 0M160.6 179.7m-1.45 0a1.45 1.45 0 1 0 2.9 0a1.45 1.45 0 1 0 -2.9 0M158.8 180.1m-1.45 0a1.45 1.45 0 1 0 2.9 0a1.45 1.45 0 1 0 -2.9 0M156.2 180.4m-1.45 0a1.45 1.45 0 1 0 2.9 0a1.45 1.45 0 1 0 -2.9 0M153.9 180.6m-1.45 0a1.45 1.45 0 1 0 2.9 0a1.45 1.45 0 1 0 -2.9 0M152.1 181.5m-1.45 0a1.45 1.45 0 1 0 2.9 0a1.45 1.45 0 1 0 -2.9 0M149.5 182.2m-1.45 0a1.45 1.45 0 1 0 2.9 0a1.45 1.45 0 1 0 -2.9 0M148.4 185.8m-1.45 0a1.45 1.45 0 1 0 2.9 0a1.45 1.45 0 1 0 -2.9 0M149.2 188.2m-1.45 0a1.45 1.45 0 1 0 2.9 0a1.45 1.45 0 1 0 -2.9 0M149.4 190.4m-1.45 0a1.45 1.45 0 1 0 2.9 0a1.45 1.45 0 1 0 -2.9 0M149.9 192.7m-1.45 0a1.45 1.45 0 1 0 2.9 0a1.45 1.45 0 1 0 -2.9 0M149.6 195.1m-1.45 0a1.45 1.45 0 1 0 2.9 0a1.45 1.45 0 1 0 -2.9 0M150.0 197.4m-1.45 0a1.45 1.45 0 1 0 2.9 0a1.45 1.45 0 1 0 -2.9 0M151.0 199.9m-1.45 0a1.45 1.45 0 1 0 2.9 0a1.45 1.45 0 1 0 -2.9 0M149.9 201.8m-1.45 0a1.45 1.45 0 1 0 2.9 0a1.45 1.45 0 1 0 -2.9 0M150.6 204.0m-1.45 0a1.45 1.45 0 1 0 2.9 0a1.45 1.45 0 1 0 -2.9 0M149.3 183.9m-1.45 0a1.45 1.45 0 1 0 2.9 0a1.45 1.45 0 1 0 -2.9 0M150.4 185.4m-1.45 0a1.45 1.45 0 1 0 2.9 0a1.45 1.45 0 1 0 -2.9 0M149.7 187.1m-1.45 0a1.45 1.45 0 1 0 2.9 0a1.45 1.45 0 1 0 -2.9 0M149.5 188.1m-1.45 0a1.45 1.45 0 1 0 2.9 0a1.45 1.45 0 1 0 -2.9 0M150.2 189.5m-1.45 0a1.45 1.45 0 1 0 2.9 0a1.45 1.45 0 1 0 -2.9 0M149.8 191.0m-1.45 0a1.45 1.45 0 1 0 2.9 0a1.45 1.45 0 1 0 -2.9 0M150.3 192.5m-1.45 0a1.45 1.45 0 1 0 2.9 0a1.45 1.45 0 1 0 -2.9 0M149.9 193.7m-1.45 0a1.45 1.45 0 1 0 2.9 0a1.45 1.45 0 1 0 -2.9 0M151.2 195.6m-1.45 0a1.45 1.45 0 1 0 2.9 0a1.45 1.45 0 1 0 -2.9 0M150.3 196.7m-1.45 0a1.45 1.45 0 1 0 2.9 0a1.45 1.45 0 1 0 -2.9 0M150.6 197.8m-1.45 0a1.45 1.45 0 1 0 2.9 0a1.45 1.45 0 1 0 -2.9 0M150.2 199.4m-1.45 0a1.45 1.45 0 1 0 2.9 0a1.45 1.45 0 1 0 -2.9 0M150.5 201.1m-1.45 0a1.45 1.45 0 1 0 2.9 0a1.45 1.45 0 1 0 -2.9 0M149.6 202.3m-1.45 0a1.45 1.45 0 1 0 2.9 0a1.45 1.45 0 1 0 -2.9 0M149.2 203.8m-1.45 0a1.45 1.45 0 1 0 2.9 0a1.45 1.45 0 1 0 -2.9 0M148.3 204.9m-1.45 0a1.45 1.45 0 1 0 2.9 0a1.45 1.45 0 1 0 -2.9 0M146.8 206.2m-1.45 0a1.45 1.45 0 1 0 2.9 0a1.45 1.45 0 1 0 -2.9 0M145.6 207.4m-1.45 0a1.45 1.45 0 1 0 2.9 0a1.45 1.45 0 1 0 -2.9 0M144.6 208.8m-1.45 0a1.45 1.45 0 1 0 2.9 0a1.45 1.45 0 1 0 -2.9 0M143.8 210.4m-1.45 0a1.45 1.45 0 1 0 2.9 0a1.45 1.45 0 1 0 -2.9 0M143.1 211.6m-1.45 0a1.45 1.45 0 1 0 2.9 0a1.45 1.45 0 1 0 -2.9 0M142.7 213.3m-1.45 0a1.45 1.45 0 1 0 2.9 0a1.45 1.45 0 1 0 -2.9 0M143.0 214.9m-1.45 0a1.45 1.45 0 1 0 2.9 0a1.45 1.45 0 1 0 -2.9 0M143.7 216.2m-1.45 0a1.45 1.45 0 1 0 2.9 0a1.45 1.45 0 1 0 -2.9 0M143.4 217.6m-1.45 0a1.45 1.45 0 1 0 2.9 0a1.45 1.45 0 1 0 -2.9 0M144.4 219.1m-1.45 0a1.45 1.45 0 1 0 2.9 0a1.45 1.45 0 1 0 -2.9 0M143.8 220.4m-1.45 0a1.45 1.45 0 1 0 2.9 0a1.45 1.45 0 1 0 -2.9 0M144.7 222.2m-1.45 0a1.45 1.45 0 1 0 2.9 0a1.45 1.45 0 1 0 -2.9 0M145.5 223.9m-1.45 0a1.45 1.45 0 1 0 2.9 0a1.45 1.45 0 1 0 -2.9 0M146.4 224.9m-1.45 0a1.45 1.45 0 1 0 2.9 0a1.45 1.45 0 1 0 -2.9 0M146.7 226.3m-1.45 0a1.45 1.45 0 1 0 2.9 0a1.45 1.45 0 1 0 -2.9 0M147.5 227.1m-1.45 0a1.45 1.45 0 1 0 2.9 0a1.45 1.45 0 1 0 -2.9 0M148.6 228.4m-1.45 0a1.45 1.45 0 1 0 2.9 0a1.45 1.45 0 1 0 -2.9 0M149.6 229.5m-1.45 0a1.45 1.45 0 1 0 2.9 0a1.45 1.45 0 1 0 -2.9 0M148.9 230.9m-1.45 0a1.45 1.45 0 1 0 2.9 0a1.45 1.45 0 1 0 -2.9 0M150.2 232.2m-1.45 0a1.45 1.45 0 1 0 2.9 0a1.45 1.45 0 1 0 -2.9 0M152.5 233.0m-1.45 0a1.45 1.45 0 1 0 2.9 0a1.45 1.45 0 1 0 -2.9 0M152.2 234.0m-1.45 0a1.45 1.45 0 1 0 2.9 0a1.45 1.45 0 1 0 -2.9 0M154.0 235.2m-1.45 0a1.45 1.45 0 1 0 2.9 0a1.45 1.45 0 1 0 -2.9 0M154.4 236.2m-1.45 0a1.45 1.45 0 1 0 2.9 0a1.45 1.45 0 1 0 -2.9 0M155.7 237.3m-1.45 0a1.45 1.45 0 1 0 2.9 0a1.45 1.45 0 1 0 -2.9 0M201.5 237.3m-1.45 0a1.45 1.45 0 1 0 2.9 0a1.45 1.45 0 1 0 -2.9 0M208.0 239.6m-1.45 0a1.45 1.45 0 1 0 2.9 0a1.45 1.45 0 1 0 -2.9 0M203.2 242.6m-1.45 0a1.45 1.45 0 1 0 2.9 0a1.45 1.45 0 1 0 -2.9 0M203.2 243.3m-1.45 0a1.45 1.45 0 1 0 2.9 0a1.45 1.45 0 1 0 -2.9 0M201.4 245.0m-1.45 0a1.45 1.45 0 1 0 2.9 0a1.45 1.45 0 1 0 -2.9 0M203.1 245.5m-1.45 0a1.45 1.45 0 1 0 2.9 0a1.45 1.45 0 1 0 -2.9 0M203.1 247.0m-1.45 0a1.45 1.45 0 1 0 2.9 0a1.45 1.45 0 1 0 -2.9 0M203.8 248.4m-1.45 0a1.45 1.45 0 1 0 2.9 0a1.45 1.45 0 1 0 -2.9 0M202.4 249.8m-1.45 0a1.45 1.45 0 1 0 2.9 0a1.45 1.45 0 1 0 -2.9 0M202.8 250.6m-1.45 0a1.45 1.45 0 1 0 2.9 0a1.45 1.45 0 1 0 -2.9 0M202.9 251.7m-1.45 0a1.45 1.45 0 1 0 2.9 0a1.45 1.45 0 1 0 -2.9 0M203.7 253.1m-1.45 0a1.45 1.45 0 1 0 2.9 0a1.45 1.45 0 1 0 -2.9 0M203.9 254.6m-1.45 0a1.45 1.45 0 1 0 2.9 0a1.45 1.45 0 1 0 -2.9 0M203.4 255.1m-1.45 0a1.45 1.45 0 1 0 2.9 0a1.45 1.45 0 1 0 -2.9 0M205.0 256.1m-1.45 0a1.45 1.45 0 1 0 2.9 0a1.45 1.45 0 1 0 -2.9 0M205.7 257.8m-1.45 0a1.45 1.45 0 1 0 2.9 0a1.45 1.45 0 1 0 -2.9 0M205.0 258.9m-1.45 0a1.45 1.45 0 1 0 2.9 0a1.45 1.45 0 1 0 -2.9 0M205.1 259.5m-1.45 0a1.45 1.45 0 1 0 2.9 0a1.45 1.45 0 1 0 -2.9 0M206.2 261.4m-1.45 0a1.45 1.45 0 1 0 2.9 0a1.45 1.45 0 1 0 -2.9 0M206.2 262.3m-1.45 0a1.45 1.45 0 1 0 2.9 0a1.45 1.45 0 1 0 -2.9 0M205.5 263.2m-1.45 0a1.45 1.45 0 1 0 2.9 0a1.45 1.45 0 1 0 -2.9 0M206.8 264.7m-1.45 0a1.45 1.45 0 1 0 2.9 0a1.45 1.45 0 1 0 -2.9 0M208.3 265.6m-1.45 0a1.45 1.45 0 1 0 2.9 0a1.45 1.45 0 1 0 -2.9 0M207.7 267.2m-1.45 0a1.45 1.45 0 1 0 2.9 0a1.45 1.45 0 1 0 -2.9 0M208.6 267.7m-1.45 0a1.45 1.45 0 1 0 2.9 0a1.45 1.45 0 1 0 -2.9 0M209.9 269.0m-1.45 0a1.45 1.45 0 1 0 2.9 0a1.45 1.45 0 1 0 -2.9 0M209.7 270.2m-1.45 0a1.45 1.45 0 1 0 2.9 0a1.45 1.45 0 1 0 -2.9 0M211.0 271.9m-1.45 0a1.45 1.45 0 1 0 2.9 0a1.45 1.45 0 1 0 -2.9 0M211.3 272.9m-1.45 0a1.45 1.45 0 1 0 2.9 0a1.45 1.45 0 1 0 -2.9 0M212.2 274.5m-1.45 0a1.45 1.45 0 1 0 2.9 0a1.45 1.45 0 1 0 -2.9 0M214.1 274.7m-1.45 0a1.45 1.45 0 1 0 2.9 0a1.45 1.45 0 1 0 -2.9 0M214.5 276.2m-1.45 0a1.45 1.45 0 1 0 2.9 0a1.45 1.45 0 1 0 -2.9 0M215.0 277.0m-1.45 0a1.45 1.45 0 1 0 2.9 0a1.45 1.45 0 1 0 -2.9 0M268.4 279.8m-1.45 0a1.45 1.45 0 1 0 2.9 0a1.45 1.45 0 1 0 -2.9 0M268.2 281.1m-1.45 0a1.45 1.45 0 1 0 2.9 0a1.45 1.45 0 1 0 -2.9 0M268.4 282.2m-1.45 0a1.45 1.45 0 1 0 2.9 0a1.45 1.45 0 1 0 -2.9 0M269.7 282.8m-1.45 0a1.45 1.45 0 1 0 2.9 0a1.45 1.45 0 1 0 -2.9 0M271.0 284.3m-1.45 0a1.45 1.45 0 1 0 2.9 0a1.45 1.45 0 1 0 -2.9 0M271.1 285.2m-1.45 0a1.45 1.45 0 1 0 2.9 0a1.45 1.45 0 1 0 -2.9 0M272.5 286.1m-1.45 0a1.45 1.45 0 1 0 2.9 0a1.45 1.45 0 1 0 -2.9 0M273.0 287.0m-1.45 0a1.45 1.45 0 1 0 2.9 0a1.45 1.45 0 1 0 -2.9 0M274.1 288.6m-1.45 0a1.45 1.45 0 1 0 2.9 0a1.45 1.45 0 1 0 -2.9 0M274.7 289.4m-1.45 0a1.45 1.45 0 1 0 2.9 0a1.45 1.45 0 1 0 -2.9 0M276.5 290.7m-1.45 0a1.45 1.45 0 1 0 2.9 0a1.45 1.45 0 1 0 -2.9 0M276.8 292.0m-1.45 0a1.45 1.45 0 1 0 2.9 0a1.45 1.45 0 1 0 -2.9 0M278.1 292.2m-1.45 0a1.45 1.45 0 1 0 2.9 0a1.45 1.45 0 1 0 -2.9 0M279.1 292.8m-1.45 0a1.45 1.45 0 1 0 2.9 0a1.45 1.45 0 1 0 -2.9 0M280.9 294.0m-1.45 0a1.45 1.45 0 1 0 2.9 0a1.45 1.45 0 1 0 -2.9 0M281.3 295.1m-1.45 0a1.45 1.45 0 1 0 2.9 0a1.45 1.45 0 1 0 -2.9 0M282.1 296.0m-1.45 0a1.45 1.45 0 1 0 2.9 0a1.45 1.45 0 1 0 -2.9 0M283.0 296.7m-1.45 0a1.45 1.45 0 1 0 2.9 0a1.45 1.45 0 1 0 -2.9 0M284.6 298.2m-1.45 0a1.45 1.45 0 1 0 2.9 0a1.45 1.45 0 1 0 -2.9 0M286.7 298.8m-1.45 0a1.45 1.45 0 1 0 2.9 0a1.45 1.45 0 1 0 -2.9 0M287.1 299.9m-1.45 0a1.45 1.45 0 1 0 2.9 0a1.45 1.45 0 1 0 -2.9 0M287.7 300.7m-1.45 0a1.45 1.45 0 1 0 2.9 0a1.45 1.45 0 1 0 -2.9 0M287.9 301.4m-1.45 0a1.45 1.45 0 1 0 2.9 0a1.45 1.45 0 1 0 -2.9 0M290.0 303.3m-1.45 0a1.45 1.45 0 1 0 2.9 0a1.45 1.45 0 1 0 -2.9 0M291.1 303.6m-1.45 0a1.45 1.45 0 1 0 2.9 0a1.45 1.45 0 1 0 -2.9 0M293.0 304.6m-1.45 0a1.45 1.45 0 1 0 2.9 0a1.45 1.45 0 1 0 -2.9 0M293.4 305.3m-1.45 0a1.45 1.45 0 1 0 2.9 0a1.45 1.45 0 1 0 -2.9 0M294.5 306.1m-1.45 0a1.45 1.45 0 1 0 2.9 0a1.45 1.45 0 1 0 -2.9 0M299.3 308.0m-1.45 0a1.45 1.45 0 1 0 2.9 0a1.45 1.45 0 1 0 -2.9 0M301.7 311.7m-1.45 0a1.45 1.45 0 1 0 2.9 0a1.45 1.45 0 1 0 -2.9 0M304.8 313.2m-1.45 0a1.45 1.45 0 1 0 2.9 0a1.45 1.45 0 1 0 -2.9 0M307.3 314.2m-1.45 0a1.45 1.45 0 1 0 2.9 0a1.45 1.45 0 1 0 -2.9 0M309.1 315.7m-1.45 0a1.45 1.45 0 1 0 2.9 0a1.45 1.45 0 1 0 -2.9 0M311.7 317.5m-1.45 0a1.45 1.45 0 1 0 2.9 0a1.45 1.45 0 1 0 -2.9 0M313.2 319.6m-1.45 0a1.45 1.45 0 1 0 2.9 0a1.45 1.45 0 1 0 -2.9 0" fill="#111"/>
<path d="M270.8 412.2m-1.45 0a1.45 1.45 0 1 0 2.9 0a1.45 1.45 0 1 0 -2.9 0M268.2 412.0m-1.45 0a1.45 1.45 0 1 0 2.9 0a1.45 1.45 0 1 0 -2.9 0M267.5 415.1m-1.45 0a1.45 1.45 0 1 0 2.9 0a1.45 1.45 0 1 0 -2.9 0M271.5 416.1m-1.45 0a1.45 1.45 0 1 0 2.9 0a1.45 1.45 0 1 0 -2.9 0M270.1 416.5m-1.45 0a1.45 1.45 0 1 0 2.9 0a1.45 1.45 0 1 0 -2.9 0M267.6 418.1m-1.45 0a1.45 1.45 0 1 0 2.9 0a1.45 1.45 0 1 0 -2.9 0M267.2 417.8m-1.45 0a1.45 1.45 0 1 0 2.9 0a1.45 1.45 0 1 0 -2.9 0M267.6 418.8m-1.45 0a1.45 1.45 0 1 0 2.9 0a1.45 1.45 0 1 0 -2.9 0M268.5 420.1m-1.45 0a1.45 1.45 0 1 0 2.9 0a1.45 1.45 0 1 0 -2.9 0M267.0 421.2m-1.45 0a1.45 1.45 0 1 0 2.9 0a1.45 1.45 0 1 0 -2.9 0M267.8 422.0m-1.45 0a1.45 1.45 0 1 0 2.9 0a1.45 1.45 0 1 0 -2.9 0M265.4 423.5m-1.45 0a1.45 1.45 0 1 0 2.9 0a1.45 1.45 0 1 0 -2.9 0M263.1 424.0m-1.45 0a1.45 1.45 0 1 0 2.9 0a1.45 1.45 0 1 0 -2.9 0M264.8 425.8m-1.45 0a1.45 1.45 0 1 0 2.9 0a1.45 1.45 0 1 0 -2.9 0M263.6 425.8m-1.45 0a1.45 1.45 0 1 0 2.9 0a1.45 1.45 0 1 0 -2.9 0M264.2 427.3m-1.45 0a1.45 1.45 0 1 0 2.9 0a1.45 1.45 0 1 0 -2.9 0M261.9 428.7m-1.45 0a1.45 1.45 0 1 0 2.9 0a1.45 1.45 0 1 0 -2.9 0M261.0 429.5m-1.45 0a1.45 1.45 0 1 0 2.9 0a1.45 1.45 0 1 0 -2.9 0M261.2 430.2m-1.45 0a1.45 1.45 0 1 0 2.9 0a1.45 1.45 0 1 0 -2.9 0M259.9 431.7m-1.45 0a1.45 1.45 0 1 0 2.9 0a1.45 1.45 0 1 0 -2.9 0M259.1 433.0m-1.45 0a1.45 1.45 0 1 0 2.9 0a1.45 1.45 0 1 0 -2.9 0M260.0 434.1m-1.45 0a1.45 1.45 0 1 0 2.9 0a1.45 1.45 0 1 0 -2.9 0M259.3 435.9m-1.45 0a1.45 1.45 0 1 0 2.9 0a1.45 1.45 0 1 0 -2.9 0M259.2 437.1m-1.45 0a1.45 1.45 0 1 0 2.9 0a1.45 1.45 0 1 0 -2.9 0M255.0 437.6m-1.45 0a1.45 1.45 0 1 0 2.9 0a1.45 1.45 0 1 0 -2.9 0M253.1 438.3m-1.45 0a1.45 1.45 0 1 0 2.9 0a1.45 1.45 0 1 0 -2.9 0M251.6 439.6m-1.45 0a1.45 1.45 0 1 0 2.9 0a1.45 1.45 0 1 0 -2.9 0M248.3 440.7m-1.45 0a1.45 1.45 0 1 0 2.9 0a1.45 1.45 0 1 0 -2.9 0M248.8 441.6m-1.45 0a1.45 1.45 0 1 0 2.9 0a1.45 1.45 0 1 0 -2.9 0M247.0 440.9m-1.45 0a1.45 1.45 0 1 0 2.9 0a1.45 1.45 0 1 0 -2.9 0M246.3 443.0m-1.45 0a1.45 1.45 0 1 0 2.9 0a1.45 1.45 0 1 0 -2.9 0M245.5 442.8m-1.45 0a1.45 1.45 0 1 0 2.9 0a1.45 1.45 0 1 0 -2.9 0M243.1 443.4m-1.45 0a1.45 1.45 0 1 0 2.9 0a1.45 1.45 0 1 0 -2.9 0M243.3 443.4m-1.45 0a1.45 1.45 0 1 0 2.9 0a1.45 1.45 0 1 0 -2.9 0M241.3 444.8m-1.45 0a1.45 1.45 0 1 0 2.9 0a1.45 1.45 0 1 0 -2.9 0M241.3 447.4m-1.45 0a1.45 1.45 0 1 0 2.9 0a1.45 1.45 0 1 0 -2.9 0M239.7 447.8m-1.45 0a1.45 1.45 0 1 0 2.9 0a1.45 1.45 0 1 0 -2.9 0M239.2 449.4m-1.45 0a1.45 1.45 0 1 0 2.9 0a1.45 1.45 0 1 0 -2.9 0M239.1 450.0m-1.45 0a1.45 1.45 0 1 0 2.9 0a1.45 1.45 0 1 0 -2.9 0M238.8 451.7m-1.45 0a1.45 1.45 0 1 0 2.9 0a1.45 1.45 0 1 0 -2.9 0M239.6 453.2m-1.45 0a1.45 1.45 0 1 0 2.9 0a1.45 1.45 0 1 0 -2.9 0M237.7 454.2m-1.45 0a1.45 1.45 0 1 0 2.9 0a1.45 1.45 0 1 0 -2.9 0M238.4 455.1m-1.45 0a1.45 1.45 0 1 0 2.9 0a1.45 1.45 0 1 0 -2.9 0M237.2 456.5m-1.45 0a1.45 1.45 0 1 0 2.9 0a1.45 1.45 0 1 0 -2.9 0M238.7 458.5m-1.45 0a1.45 1.45 0 1 0 2.9 0a1.45 1.45 0 1 0 -2.9 0M235.7 459.4m-1.45 0a1.45 1.45 0 1 0 2.9 0a1.45 1.45 0 1 0 -2.9 0M236.4 460.3m-1.45 0a1.45 1.45 0 1 0 2.9 0a1.45 1.45 0 1 0 -2.9 0M236.8 461.7m-1.45 0a1.45 1.45 0 1 0 2.9 0a1.45 1.45 0 1 0 -2.9 0M236.0 462.8m-1.45 0a1.45 1.45 0 1 0 2.9 0a1.45 1.45 0 1 0 -2.9 0M236.5 463.3m-1.45 0a1.45 1.45 0 1 0 2.9 0a1.45 1.45 0 1 0 -2.9 0M237.1 465.0m-1.45 0a1.45 1.45 0 1 0 2.9 0a1.45 1.45 0 1 0 -2.9 0M234.9 466.7m-1.45 0a1.45 1.45 0 1 0 2.9 0a1.45 1.45 0 1 0 -2.9 0M235.7 468.3m-1.45 0a1.45 1.45 0 1 0 2.9 0a1.45 1.45 0 1 0 -2.9 0M235.5 468.6m-1.45 0a1.45 1.45 0 1 0 2.9 0a1.45 1.45 0 1 0 -2.9 0M236.4 470.5m-1.45 0a1.45 1.45 0 1 0 2.9 0a1.45 1.45 0 1 0 -2.9 0M236.3 470.5m-1.45 0a1.45 1.45 0 1 0 2.9 0a1.45 1.45 0 1 0 -2.9 0M235.2 471.0m-1.45 0a1.45 1.45 0 1 0 2.9 0a1.45 1.45 0 1 0 -2.9 0M234.6 472.2m-1.45 0a1.45 1.45 0 1 0 2.9 0a1.45 1.45 0 1 0 -2.9 0M234.8 474.4m-1.45 0a1.45 1.45 0 1 0 2.9 0a1.45 1.45 0 1 0 -2.9 0M232.1 476.3m-1.45 0a1.45 1.45 0 1 0 2.9 0a1.45 1.45 0 1 0 -2.9 0M233.8 477.2m-1.45 0a1.45 1.45 0 1 0 2.9 0a1.45 1.45 0 1 0 -2.9 0M233.9 478.5m-1.45 0a1.45 1.45 0 1 0 2.9 0a1.45 1.45 0 1 0 -2.9 0M233.0 479.6m-1.45 0a1.45 1.45 0 1 0 2.9 0a1.45 1.45 0 1 0 -2.9 0M233.9 479.8m-1.45 0a1.45 1.45 0 1 0 2.9 0a1.45 1.45 0 1 0 -2.9 0M230.2 481.6m-1.45 0a1.45 1.45 0 1 0 2.9 0a1.45 1.45 0 1 0 -2.9 0M231.6 483.1m-1.45 0a1.45 1.45 0 1 0 2.9 0a1.45 1.45 0 1 0 -2.9 0M232.7 483.5m-1.45 0a1.45 1.45 0 1 0 2.9 0a1.45 1.45 0 1 0 -2.9 0M230.3 485.5m-1.45 0a1.45 1.45 0 1 0 2.9 0a1.45 1.45 0 1 0 -2.9 0M231.2 486.3m-1.45 0a1.45 1.45 0 1 0 2.9 0a1.45 1.45 0 1 0 -2.9 0M229.8 487.3m-1.45 0a1.45 1.45 0 1 0 2.9 0a1.45 1.45 0 1 0 -2.9 0M230.8 489.2m-1.45 0a1.45 1.45 0 1 0 2.9 0a1.45 1.45 0 1 0 -2.9 0M226.6 490.5m-1.45 0a1.45 1.45 0 1 0 2.9 0a1.45 1.45 0 1 0 -2.9 0M228.9 491.2m-1.45 0a1.45 1.45 0 1 0 2.9 0a1.45 1.45 0 1 0 -2.9 0M228.8 493.2m-1.45 0a1.45 1.45 0 1 0 2.9 0a1.45 1.45 0 1 0 -2.9 0M227.2 492.1m-1.45 0a1.45 1.45 0 1 0 2.9 0a1.45 1.45 0 1 0 -2.9 0M227.1 494.2m-1.45 0a1.45 1.45 0 1 0 2.9 0a1.45 1.45 0 1 0 -2.9 0" fill="#7c7c7c"/>
<path d="M270.8 412.2m-1.05 0a1.05 1.05 0 1 0 2.1 0a1.05 1.05 0 1 0 -2.1 0M268.2 412.0m-1.05 0a1.05 1.05 0 1 0 2.1 0a1.05 1.05 0 1 0 -2.1 0M267.5 415.1m-1.05 0a1.05 1.05 0 1 0 2.1 0a1.05 1.05 0 1 0 -2.1 0M271.5 416.1m-1.05 0a1.05 1.05 0 1 0 2.1 0a1.05 1.05 0 1 0 -2.1 0M270.1 416.5m-1.05 0a1.05 1.05 0 1 0 2.1 0a1.05 1.05 0 1 0 -2.1 0M267.6 418.1m-1.05 0a1.05 1.05 0 1 0 2.1 0a1.05 1.05 0 1 0 -2.1 0M267.2 417.8m-1.05 0a1.05 1.05 0 1 0 2.1 0a1.05 1.05 0 1 0 -2.1 0M267.6 418.8m-1.05 0a1.05 1.05 0 1 0 2.1 0a1.05 1.05 0 1 0 -2.1 0M268.5 420.1m-1.05 0a1.05 1.05 0 1 0 2.1 0a1.05 1.05 0 1 0 -2.1 0M267.0 421.2m-1.05 0a1.05 1.05 0 1 0 2.1 0a1.05 1.05 0 1 0 -2.1 0M267.8 422.0m-1.05 0a1.05 1.05 0 1 0 2.1 0a1.05 1.05 0 1 0 -2.1 0M265.4 423.5m-1.05 0a1.05 1.05 0 1 0 2.1 0a1.05 1.05 0 1 0 -2.1 0M263.1 424.0m-1.05 0a1.05 1.05 0 1 0 2.1 0a1.05 1.05 0 1 0 -2.1 0M264.8 425.8m-1.05 0a1.05 1.05 0 1 0 2.1 0a1.05 1.05 0 1 0 -2.1 0M263.6 425.8m-1.05 0a1.05 1.05 0 1 0 2.1 0a1.05 1.05 0 1 0 -2.1 0M264.2 427.3m-1.05 0a1.05 1.05 0 1 0 2.1 0a1.05 1.05 0 1 0 -2.1 0M261.9 428.7m-1.05 0a1.05 1.05 0 1 0 2.1 0a1.05 1.05 0 1 0 -2.1 0M261.0 429.5m-1.05 0a1.05 1.05 0 1 0 2.1 0a1.05 1.05 0 1 0 -2.1 0M261.2 430.2m-1.05 0a1.05 1.05 0 1 0 2.1 0a1.05 1.05 0 1 0 -2.1 0M259.9 431.7m-1.05 0a1.05 1.05 0 1 0 2.1 0a1.05 1.05 0 1 0 -2.1 0M259.1 433.0m-1.05 0a1.05 1.05 0 1 0 2.1 0a1.05 1.05 0 1 0 -2.1 0M260.0 434.1m-1.05 0a1.05 1.05 0 1 0 2.1 0a1.05 1.05 0 1 0 -2.1 0M259.3 435.9m-1.05 0a1.05 1.05 0 1 0 2.1 0a1.05 1.05 0 1 0 -2.1 0M259.2 437.1m-1.05 0a1.05 1.05 0 1 0 2.1 0a1.05 1.05 0 1 0 -2.1 0M255.0 437.6m-1.05 0a1.05 1.05 0 1 0 2.1 0a1.05 1.05 0 1 0 -2.1 0M253.1 438.3m-1.05 0a1.05 1.05 0 1 0 2.1 0a1.05 1.05 0 1 0 -2.1 0M251.6 439.6m-1.05 0a1.05 1.05 0 1 0 2.1 0a1.05 1.05 0 1 0 -2.1 0M248.3 440.7m-1.05 0a1.05 1.05 0 1 0 2.1 0a1.05 1.05 0 1 0 -2.1 0M248.8 441.6m-1.05 0a1.05 1.05 0 1 0 2.1 0a1.05 1.05 0 1 0 -2.1 0M247.0 440.9m-1.05 0a1.05 1.05 0 1 0 2.1 0a1.05 1.05 0 1 0 -2.1 0M246.3 443.0m-1.05 0a1.05 1.05 0 1 0 2.1 0a1.05 1.05 0 1 0 -2.1 0M245.5 442.8m-1.05 0a1.05 1.05 0 1 0 2.1 0a1.05 1.05 0 1 0 -2.1 0M243.1 443.4m-1.05 0a1.05 1.05 0 1 0 2.1 0a1.05 1.05 0 1 0 -2.1 0M243.3 443.4m-1.05 0a1.05 1.05 0 1 0 2.1 0a1.05 1.05 0 1 0 -2.1 0M241.3 444.8m-1.05 0a1.05 1.05 0 1 0 2.1 0a1.05 1.05 0 1 0 -2.1 0M241.3 447.4m-1.05 0a1.05 1.05 0 1 0 2.1 0a1.05 1.05 0 1 0 -2.1 0M239.7 447.8m-1.05 0a1.05 1.05 0 1 0 2.1 0a1.05 1.05 0 1 0 -2.1 0M239.2 449.4m-1.05 0a1.05 1.05 0 1 0 2.1 0a1.05 1.05 0 1 0 -2.1 0M239.1 450.0m-1.05 0a1.05 1.05 0 1 0 2.1 0a1.05 1.05 0 1 0 -2.1 0M238.8 451.7m-1.05 0a1.05 1.05 0 1 0 2.1 0a1.05 1.05 0 1 0 -2.1 0M239.6 453.2m-1.05 0a1.05 1.05 0 1 0 2.1 0a1.05 1.05 0 1 0 -2.1 0M237.7 454.2m-1.05 0a1.05 1.05 0 1 0 2.1 0a1.05 1.05 0 1 0 -2.1 0M238.4 455.1m-1.05 0a1.05 1.05 0 1 0 2.1 0a1.05 1.05 0 1 0 -2.1 0M237.2 456.5m-1.05 0a1.05 1.05 0 1 0 2.1 0a1.05 1.05 0 1 0 -2.1 0M238.7 458.5m-1.05 0a1.05 1.05 0 1 0 2.1 0a1.05 1.05 0 1 0 -2.1 0M235.7 459.4m-1.05 0a1.05 1.05 0 1 0 2.1 0a1.05 1.05 0 1 0 -2.1 0M236.4 460.3m-1.05 0a1.05 1.05 0 1 0 2.1 0a1.05 1.05 0 1 0 -2.1 0M236.8 461.7m-1.05 0a1.05 1.05 0 1 0 2.1 0a1.05 1.05 0 1 0 -2.1 0M236.0 462.8m-1.05 0a1.05 1.05 0 1 0 2.1 0a1.05 1.05 0 1 0 -2.1 0M236.5 463.3m-1.05 0a1.05 1.05 0 1 0 2.1 0a1.05 1.05 0 1 0 -2.1 0M237.1 465.0m-1.05 0a1.05 1.05 0 1 0 2.1 0a1.05 1.05 0 1 0 -2.1 0M234.9 466.7m-1.05 0a1.05 1.05 0 1 0 2.1 0a1.05 1.05 0 1 0 -2.1 0M235.7 468.3m-1.05 0a1.05 1.05 0 1 0 2.1 0a1.05 1.05 0 1 0 -2.1 0M235.5 468.6m-1.05 0a1.05 1.05 0 1 0 2.1 0a1.05 1.05 0 1 0 -2.1 0M236.4 470.5m-1.05 0a1.05 1.05 0 1 0 2.1 0a1.05 1.05 0 1 0 -2.1 0M236.3 470.5m-1.05 0a1.05 1.05 0 1 0 2.1 0a1.05 1.05 0 1 0 -2.1 0M235.2 471.0m-1.05 0a1.05 1.05 0 1 0 2.1 0a1.05 1.05 0 1 0 -2.1 0M234.6 472.2m-1.05 0a1.05 1.05 0 1 0 2.1 0a1.05 1.05 0 1 0 -2.1 0M234.8 474.4m-1.05 0a1.05 1.05 0 1 0 2.1 0a1.05 1.05 0 1 0 -2.1 0M232.1 476.3m-1.05 0a1.05 1.05 0 1 0 2.1 0a1.05 1.05 0 1 0 -2.1 0M233.8 477.2m-1.05 0a1.05 1.05 0 1 0 2.1 0a1.05 1.05 0 1 0 -2.1 0M233.9 478.5m-1.05 0a1.05 1.05 0 1 0 2.1 0a1.05 1.05 0 1 0 -2.1 0M233.0 479.6m-1.05 0a1.05 1.05 0 1 0 2.1 0a1.05 1.05 0 1 0 -2.1 0M233.9 479.8m-1.05 0a1.05 1.05 0 1 0 2.1 0a1.05 1.05 0 1 0 -2.1 0M230.2 481.6m-1.05 0a1.05 1.05 0 1 0 2.1 0a1.05 1.05 0 1 0 -2.1 0M231.6 483.1m-1.05 0a1.05 1.05 0 1 0 2.1 0a1.05 1.05 0 1 0 -2.1 0M232.7 483.5m-1.05 0a1.05 1.05 0 1 0 2.1 0a1.05 1.05 0 1 0 -2.1 0M230.3 485.5m-1.05 0a1.05 1.05 0 1 0 2.1 0a1.05 1.05 0 1 0 -2.1 0M231.2 486.3m-1.05 0a1.05 1.05 0 1 0 2.1 0a1.05 1.05 0 1 0 -2.1 0M229.8 487.3m-1.05 0a1.05 1.05 0 1 0 2.1 0a1.05 1.05 0 1 0 -2.1 0M230.8 489.2m-1.05 0a1.05 1.05 0 1 0 2.1 0a1.05 1.05 0 1 0 -2.1 0M226.6 490.5m-1.05 0a1.05 1.05 0 1 0 2.1 0a1.05 1.05 0 1 0 -2.1 0M228.9 491.2m-1.05 0a1.05 1.05 0 1 0 2.1 0a1.05 1.05 0 1 0 -2.1 0M228.8 493.2m-1.05 0a1.05 1.05 0 1 0 2.1 0a1.05 1.05 0 1 0 -2.1 0M227.2 492.1m-1.05 0a1.05 1.05 0 1 0 2.1 0a1.05 1.05 0 1 0 -2.1 0M227.1 494.2m-1.05 0a1.05 1.05 0 1 0 2.1 0a1.05 1.05 0 1 0 -2.1 0" fill="#0a0a0a"/>
<path d="M191.6 492.7m-1.45 0a1.45 1.45 0 1 0 2.9 0a1.45 1.45 0 1 0 -2.9 0M190.4 493.0m-1.45 0a1.45 1.45 0 1 0 2.9 0a1.45 1.45 0 1 0 -2.9 0M189.4 493.3m-1.45 0a1.45 1.45 0 1 0 2.9 0a1.45 1.45 0 1 0 -2.9 0M188.3 493.6m-1.45 0a1.45 1.45 0 1 0 2.9 0a1.45 1.45 0 1 0 -2.9 0M187.4 493.8m-1.45 0a1.45 1.45 0 1 0 2.9 0a1.45 1.45 0 1 0 -2.9 0M186.6 494.2m-1.45 0a1.45 1.45 0 1 0 2.9 0a1.45 1.45 0 1 0 -2.9 0M185.7 494.4m-1.45 0a1.45 1.45 0 1 0 2.9 0a1.45 1.45 0 1 0 -2.9 0M184.9 494.6m-1.45 0a1.45 1.45 0 1 0 2.9 0a1.45 1.45 0 1 0 -2.9 0M184.0 494.8m-1.45 0a1.45 1.45 0 1 0 2.9 0a1.45 1.45 0 1 0 -2.9 0M183.1 495.3m-1.45 0a1.45 1.45 0 1 0 2.9 0a1.45 1.45 0 1 0 -2.9 0M182.4 495.7m-1.45 0a1.45 1.45 0 1 0 2.9 0a1.45 1.45 0 1 0 -2.9 0M181.7 496.2m-1.45 0a1.45 1.45 0 1 0 2.9 0a1.45 1.45 0 1 0 -2.9 0M180.9 496.7m-1.45 0a1.45 1.45 0 1 0 2.9 0a1.45 1.45 0 1 0 -2.9 0M180.7 497.6m-1.45 0a1.45 1.45 0 1 0 2.9 0a1.45 1.45 0 1 0 -2.9 0M180.5 498.4m-1.45 0a1.45 1.45 0 1 0 2.9 0a1.45 1.45 0 1 0 -2.9 0M180.4 499.6m-1.45 0a1.45 1.45 0 1 0 2.9 0a1.45 1.45 0 1 0 -2.9 0M180.9 500.2m-1.45 0a1.45 1.45 0 1 0 2.9 0a1.45 1.45 0 1 0 -2.9 0M181.9 501.1m-1.45 0a1.45 1.45 0 1 0 2.9 0a1.45 1.45 0 1 0 -2.9 0M182.8 501.9m-1.45 0a1.45 1.45 0 1 0 2.9 0a1.45 1.45 0 1 0 -2.9 0M182.2 502.7m-1.45 0a1.45 1.45 0 1 0 2.9 0a1.45 1.45 0 1 0 -2.9 0M181.4 503.4m-1.45 0a1.45 1.45 0 1 0 2.9 0a1.45 1.45 0 1 0 -2.9 0M180.8 504.2m-1.45 0a1.45 1.45 0 1 0 2.9 0a1.45 1.45 0 1 0 -2.9 0M181.6 504.7m-1.45 0a1.45 1.45 0 1 0 2.9 0a1.45 1.45 0 1 0 -2.9 0M182.6 505.3m-1.45 0a1.45 1.45 0 1 0 2.9 0a1.45 1.45 0 1 0 -2.9 0M183.1 506.0m-1.45 0a1.45 1.45 0 1 0 2.9 0a1.45 1.45 0 1 0 -2.9 0M183.8 506.5m-1.45 0a1.45 1.45 0 1 0 2.9 0a1.45 1.45 0 1 0 -2.9 0M184.6 507.0m-1.45 0a1.45 1.45 0 1 0 2.9 0a1.45 1.45 0 1 0 -2.9 0M185.2 507.7m-1.45 0a1.45 1.45 0 1 0 2.9 0a1.45 1.45 0 1 0 -2.9 0M186.1 508.3m-1.45 0a1.45 1.45 0 1 0 2.9 0a1.45 1.45 0 1 0 -2.9 0M186.5 509.3m-1.45 0a1.45 1.45 0 1 0 2.9 0a1.45 1.45 0 1 0 -2.9 0M186.9 510.1m-1.45 0a1.45 1.45 0 1 0 2.9 0a1.45 1.45 0 1 0 -2.9 0M186.6 511.2m-1.45 0a1.45 1.45 0 1 0 2.9 0a1.45 1.45 0 1 0 -2.9 0M187.2 512.2m-1.45 0a1.45 1.45 0 1 0 2.9 0a1.45 1.45 0 1 0 -2.9 0M187.3 513.0m-1.45 0a1.45 1.45 0 1 0 2.9 0a1.45 1.45 0 1 0 -2.9 0M187.3 514.2m-1.45 0a1.45 1.45 0 1 0 2.9 0a1.45 1.45 0 1 0 -2.9 0M187.1 515.1m-1.45 0a1.45 1.45 0 1 0 2.9 0a1.45 1.45 0 1 0 -2.9 0M187.2 516.0m-1.45 0a1.45 1.45 0 1 0 2.9 0a1.45 1.45 0 1 0 -2.9 0M187.1 517.0m-1.45 0a1.45 1.45 0 1 0 2.9 0a1.45 1.45 0 1 0 -2.9 0M187.0 518.0m-1.45 0a1.45 1.45 0 1 0 2.9 0a1.45 1.45 0 1 0 -2.9 0M187.0 519.1m-1.45 0a1.45 1.45 0 1 0 2.9 0a1.45 1.45 0 1 0 -2.9 0M186.9 520.0m-1.45 0a1.45 1.45 0 1 0 2.9 0a1.45 1.45 0 1 0 -2.9 0M186.8 521.1m-1.45 0a1.45 1.45 0 1 0 2.9 0a1.45 1.45 0 1 0 -2.9 0M186.7 522.1m-1.45 0a1.45 1.45 0 1 0 2.9 0a1.45 1.45 0 1 0 -2.9 0M186.7 523.0m-1.45 0a1.45 1.45 0 1 0 2.9 0a1.45 1.45 0 1 0 -2.9 0M186.6 524.0m-1.45 0a1.45 1.45 0 1 0 2.9 0a1.45 1.45 0 1 0 -2.9 0M186.5 525.1m-1.45 0a1.45 1.45 0 1 0 2.9 0a1.45 1.45 0 1 0 -2.9 0M186.4 526.1m-1.45 0a1.45 1.45 0 1 0 2.9 0a1.45 1.45 0 1 0 -2.9 0M186.2 527.0m-1.45 0a1.45 1.45 0 1 0 2.9 0a1.45 1.45 0 1 0 -2.9 0M186.2 528.1m-1.45 0a1.45 1.45 0 1 0 2.9 0a1.45 1.45 0 1 0 -2.9 0M185.8 529.1m-1.45 0a1.45 1.45 0 1 0 2.9 0a1.45 1.45 0 1 0 -2.9 0M185.8 530.1m-1.45 0a1.45 1.45 0 1 0 2.9 0a1.45 1.45 0 1 0 -2.9 0M185.6 531.1m-1.45 0a1.45 1.45 0 1 0 2.9 0a1.45 1.45 0 1 0 -2.9 0M185.3 532.0m-1.45 0a1.45 1.45 0 1 0 2.9 0a1.45 1.45 0 1 0 -2.9 0M185.3 533.1m-1.45 0a1.45 1.45 0 1 0 2.9 0a1.45 1.45 0 1 0 -2.9 0M185.1 534.1m-1.45 0a1.45 1.45 0 1 0 2.9 0a1.45 1.45 0 1 0 -2.9 0M184.9 535.1m-1.45 0a1.45 1.45 0 1 0 2.9 0a1.45 1.45 0 1 0 -2.9 0M184.6 536.1m-1.45 0a1.45 1.45 0 1 0 2.9 0a1.45 1.45 0 1 0 -2.9 0M184.3 537.0m-1.45 0a1.45 1.45 0 1 0 2.9 0a1.45 1.45 0 1 0 -2.9 0M184.1 538.0m-1.45 0a1.45 1.45 0 1 0 2.9 0a1.45 1.45 0 1 0 -2.9 0M183.5 539.1m-1.45 0a1.45 1.45 0 1 0 2.9 0a1.45 1.45 0 1 0 -2.9 0M183.4 540.2m-1.45 0a1.45 1.45 0 1 0 2.9 0a1.45 1.45 0 1 0 -2.9 0M183.1 541.1m-1.45 0a1.45 1.45 0 1 0 2.9 0a1.45 1.45 0 1 0 -2.9 0M182.9 542.1m-1.45 0a1.45 1.45 0 1 0 2.9 0a1.45 1.45 0 1 0 -2.9 0M182.6 543.2m-1.45 0a1.45 1.45 0 1 0 2.9 0a1.45 1.45 0 1 0 -2.9 0M182.4 544.2m-1.45 0a1.45 1.45 0 1 0 2.9 0a1.45 1.45 0 1 0 -2.9 0M182.2 545.0m-1.45 0a1.45 1.45 0 1 0 2.9 0a1.45 1.45 0 1 0 -2.9 0M181.9 546.1m-1.45 0a1.45 1.45 0 1 0 2.9 0a1.45 1.45 0 1 0 -2.9 0M181.7 547.1m-1.45 0a1.45 1.45 0 1 0 2.9 0a1.45 1.45 0 1 0 -2.9 0M181.7 548.1m-1.45 0a1.45 1.45 0 1 0 2.9 0a1.45 1.45 0 1 0 -2.9 0M181.6 549.0m-1.45 0a1.45 1.45 0 1 0 2.9 0a1.45 1.45 0 1 0 -2.9 0M182.0 549.9m-1.45 0a1.45 1.45 0 1 0 2.9 0a1.45 1.45 0 1 0 -2.9 0M182.1 550.9m-1.45 0a1.45 1.45 0 1 0 2.9 0a1.45 1.45 0 1 0 -2.9 0M182.0 551.8m-1.45 0a1.45 1.45 0 1 0 2.9 0a1.45 1.45 0 1 0 -2.9 0M182.2 552.8m-1.45 0a1.45 1.45 0 1 0 2.9 0a1.45 1.45 0 1 0 -2.9 0M182.1 553.8m-1.45 0a1.45 1.45 0 1 0 2.9 0a1.45 1.45 0 1 0 -2.9 0M182.0 554.8m-1.45 0a1.45 1.45 0 1 0 2.9 0a1.45 1.45 0 1 0 -2.9 0M181.8 555.8m-1.45 0a1.45 1.45 0 1 0 2.9 0a1.45 1.45 0 1 0 -2.9 0M181.9 556.8m-1.45 0a1.45 1.45 0 1 0 2.9 0a1.45 1.45 0 1 0 -2.9 0M181.8 557.8m-1.45 0a1.45 1.45 0 1 0 2.9 0a1.45 1.45 0 1 0 -2.9 0M181.6 558.8m-1.45 0a1.45 1.45 0 1 0 2.9 0a1.45 1.45 0 1 0 -2.9 0M181.6 559.8m-1.45 0a1.45 1.45 0 1 0 2.9 0a1.45 1.45 0 1 0 -2.9 0M181.4 560.7m-1.45 0a1.45 1.45 0 1 0 2.9 0a1.45 1.45 0 1 0 -2.9 0M181.3 561.8m-1.45 0a1.45 1.45 0 1 0 2.9 0a1.45 1.45 0 1 0 -2.9 0M181.0 562.7m-1.45 0a1.45 1.45 0 1 0 2.9 0a1.45 1.45 0 1 0 -2.9 0M181.0 563.7m-1.45 0a1.45 1.45 0 1 0 2.9 0a1.45 1.45 0 1 0 -2.9 0M180.6 564.7m-1.45 0a1.45 1.45 0 1 0 2.9 0a1.45 1.45 0 1 0 -2.9 0M180.7 565.9m-1.45 0a1.45 1.45 0 1 0 2.9 0a1.45 1.45 0 1 0 -2.9 0M180.3 566.7m-1.45 0a1.45 1.45 0 1 0 2.9 0a1.45 1.45 0 1 0 -2.9 0M180.2 567.7m-1.45 0a1.45 1.45 0 1 0 2.9 0a1.45 1.45 0 1 0 -2.9 0M180.2 568.8m-1.45 0a1.45 1.45 0 1 0 2.9 0a1.45 1.45 0 1 0 -2.9 0M180.1 569.8m-1.45 0a1.45 1.45 0 1 0 2.9 0a1.45 1.45 0 1 0 -2.9 0M180.1 570.8m-1.45 0a1.45 1.45 0 1 0 2.9 0a1.45 1.45 0 1 0 -2.9 0M180.1 571.8m-1.45 0a1.45 1.45 0 1 0 2.9 0a1.45 1.45 0 1 0 -2.9 0M180.0 572.8m-1.45 0a1.45 1.45 0 1 0 2.9 0a1.45 1.45 0 1 0 -2.9 0M179.8 573.8m-1.45 0a1.45 1.45 0 1 0 2.9 0a1.45 1.45 0 1 0 -2.9 0M180.1 574.8m-1.45 0a1.45 1.45 0 1 0 2.9 0a1.45 1.45 0 1 0 -2.9 0M180.3 575.8m-1.45 0a1.45 1.45 0 1 0 2.9 0a1.45 1.45 0 1 0 -2.9 0M180.7 576.8m-1.45 0a1.45 1.45 0 1 0 2.9 0a1.45 1.45 0 1 0 -2.9 0M181.0 577.6m-1.45 0a1.45 1.45 0 1 0 2.9 0a1.45 1.45 0 1 0 -2.9 0M181.4 578.6m-1.45 0a1.45 1.45 0 1 0 2.9 0a1.45 1.45 0 1 0 -2.9 0M181.4 579.6m-1.45 0a1.45 1.45 0 1 0 2.9 0a1.45 1.45 0 1 0 -2.9 0M181.5 580.7m-1.45 0a1.45 1.45 0 1 0 2.9 0a1.45 1.45 0 1 0 -2.9 0M181.5 581.8m-1.45 0a1.45 1.45 0 1 0 2.9 0a1.45 1.45 0 1 0 -2.9 0M181.6 582.9m-1.45 0a1.45 1.45 0 1 0 2.9 0a1.45 1.45 0 1 0 -2.9 0M181.7 584.0m-1.45 0a1.45 1.45 0 1 0 2.9 0a1.45 1.45 0 1 0 -2.9 0M181.5 585.0m-1.45 0a1.45 1.45 0 1 0 2.9 0a1.45 1.45 0 1 0 -2.9 0M182.1 545.0m-1.45 0a1.45 1.45 0 1 0 2.9 0a1.45 1.45 0 1 0 -2.9 0M181.9 546.0m-1.45 0a1.45 1.45 0 1 0 2.9 0a1.45 1.45 0 1 0 -2.9 0M182.3 547.0m-1.45 0a1.45 1.45 0 1 0 2.9 0a1.45 1.45 0 1 0 -2.9 0M182.4 548.0m-1.45 0a1.45 1.45 0 1 0 2.9 0a1.45 1.45 0 1 0 -2.9 0M182.5 549.0m-1.45 0a1.45 1.45 0 1 0 2.9 0a1.45 1.45 0 1 0 -2.9 0M182.7 550.1m-1.45 0a1.45 1.45 0 1 0 2.9 0a1.45 1.45 0 1 0 -2.9 0M182.7 551.1m-1.45 0a1.45 1.45 0 1 0 2.9 0a1.45 1.45 0 1 0 -2.9 0M182.9 552.0m-1.45 0a1.45 1.45 0 1 0 2.9 0a1.45 1.45 0 1 0 -2.9 0M182.7 553.0m-1.45 0a1.45 1.45 0 1 0 2.9 0a1.45 1.45 0 1 0 -2.9 0M182.9 554.0m-1.45 0a1.45 1.45 0 1 0 2.9 0a1.45 1.45 0 1 0 -2.9 0M182.5 554.9m-1.45 0a1.45 1.45 0 1 0 2.9 0a1.45 1.45 0 1 0 -2.9 0M182.7 556.1m-1.45 0a1.45 1.45 0 1 0 2.9 0a1.45 1.45 0 1 0 -2.9 0M182.7 557.1m-1.45 0a1.45 1.45 0 1 0 2.9 0a1.45 1.45 0 1 0 -2.9 0M182.5 558.1m-1.45 0a1.45 1.45 0 1 0 2.9 0a1.45 1.45 0 1 0 -2.9 0M182.4 559.0m-1.45 0a1.45 1.45 0 1 0 2.9 0a1.45 1.45 0 1 0 -2.9 0M182.2 560.0m-1.45 0a1.45 1.45 0 1 0 2.9 0a1.45 1.45 0 1 0 -2.9 0M182.1 561.0m-1.45 0a1.45 1.45 0 1 0 2.9 0a1.45 1.45 0 1 0 -2.9 0M182.1 562.0m-1.45 0a1.45 1.45 0 1 0 2.9 0a1.45 1.45 0 1 0 -2.9 0M181.8 563.0m-1.45 0a1.45 1.45 0 1 0 2.9 0a1.45 1.45 0 1 0 -2.9 0M181.7 564.0m-1.45 0a1.45 1.45 0 1 0 2.9 0a1.45 1.45 0 1 0 -2.9 0M181.5 565.0m-1.45 0a1.45 1.45 0 1 0 2.9 0a1.45 1.45 0 1 0 -2.9 0M181.2 566.0m-1.45 0a1.45 1.45 0 1 0 2.9 0a1.45 1.45 0 1 0 -2.9 0M180.9 567.0m-1.45 0a1.45 1.45 0 1 0 2.9 0a1.45 1.45 0 1 0 -2.9 0M180.8 568.0m-1.45 0a1.45 1.45 0 1 0 2.9 0a1.45 1.45 0 1 0 -2.9 0M180.6 569.0m-1.45 0a1.45 1.45 0 1 0 2.9 0a1.45 1.45 0 1 0 -2.9 0M180.3 570.0m-1.45 0a1.45 1.45 0 1 0 2.9 0a1.45 1.45 0 1 0 -2.9 0M180.0 571.1m-1.45 0a1.45 1.45 0 1 0 2.9 0a1.45 1.45 0 1 0 -2.9 0M179.9 572.0m-1.45 0a1.45 1.45 0 1 0 2.9 0a1.45 1.45 0 1 0 -2.9 0M179.9 573.1m-1.45 0a1.45 1.45 0 1 0 2.9 0a1.45 1.45 0 1 0 -2.9 0M179.9 574.0m-1.45 0a1.45 1.45 0 1 0 2.9 0a1.45 1.45 0 1 0 -2.9 0M180.3 574.9m-1.45 0a1.45 1.45 0 1 0 2.9 0a1.45 1.45 0 1 0 -2.9 0M180.7 575.8m-1.45 0a1.45 1.45 0 1 0 2.9 0a1.45 1.45 0 1 0 -2.9 0M180.9 576.7m-1.45 0a1.45 1.45 0 1 0 2.9 0a1.45 1.45 0 1 0 -2.9 0M181.4 577.6m-1.45 0a1.45 1.45 0 1 0 2.9 0a1.45 1.45 0 1 0 -2.9 0M181.8 578.5m-1.45 0a1.45 1.45 0 1 0 2.9 0a1.45 1.45 0 1 0 -2.9 0M182.4 579.3m-1.45 0a1.45 1.45 0 1 0 2.9 0a1.45 1.45 0 1 0 -2.9 0M182.9 580.1m-1.45 0a1.45 1.45 0 1 0 2.9 0a1.45 1.45 0 1 0 -2.9 0M182.5 581.0m-1.45 0a1.45 1.45 0 1 0 2.9 0a1.45 1.45 0 1 0 -2.9 0M181.9 581.8m-1.45 0a1.45 1.45 0 1 0 2.9 0a1.45 1.45 0 1 0 -2.9 0M181.6 582.6m-1.45 0a1.45 1.45 0 1 0 2.9 0a1.45 1.45 0 1 0 -2.9 0M181.5 583.6m-1.45 0a1.45 1.45 0 1 0 2.9 0a1.45 1.45 0 1 0 -2.9 0M181.2 584.5m-1.45 0a1.45 1.45 0 1 0 2.9 0a1.45 1.45 0 1 0 -2.9 0M181.5 585.3m-1.45 0a1.45 1.45 0 1 0 2.9 0a1.45 1.45 0 1 0 -2.9 0M181.7 586.4m-1.45 0a1.45 1.45 0 1 0 2.9 0a1.45 1.45 0 1 0 -2.9 0M181.8 587.2m-1.45 0a1.45 1.45 0 1 0 2.9 0a1.45 1.45 0 1 0 -2.9 0M182.1 588.2m-1.45 0a1.45 1.45 0 1 0 2.9 0a1.45 1.45 0 1 0 -2.9 0M181.6 589.2m-1.45 0a1.45 1.45 0 1 0 2.9 0a1.45 1.45 0 1 0 -2.9 0M181.4 590.2m-1.45 0a1.45 1.45 0 1 0 2.9 0a1.45 1.45 0 1 0 -2.9 0M181.0 591.1m-1.45 0a1.45 1.45 0 1 0 2.9 0a1.45 1.45 0 1 0 -2.9 0M180.8 592.0m-1.45 0a1.45 1.45 0 1 0 2.9 0a1.45 1.45 0 1 0 -2.9 0M180.4 593.0m-1.45 0a1.45 1.45 0 1 0 2.9 0a1.45 1.45 0 1 0 -2.9 0M180.0 594.1m-1.45 0a1.45 1.45 0 1 0 2.9 0a1.45 1.45 0 1 0 -2.9 0M180.7 594.9m-1.45 0a1.45 1.45 0 1 0 2.9 0a1.45 1.45 0 1 0 -2.9 0M181.2 595.9m-1.45 0a1.45 1.45 0 1 0 2.9 0a1.45 1.45 0 1 0 -2.9 0M181.9 596.7m-1.45 0a1.45 1.45 0 1 0 2.9 0a1.45 1.45 0 1 0 -2.9 0M182.5 597.5m-1.45 0a1.45 1.45 0 1 0 2.9 0a1.45 1.45 0 1 0 -2.9 0M183.4 598.0m-1.45 0a1.45 1.45 0 1 0 2.9 0a1.45 1.45 0 1 0 -2.9 0M184.0 598.6m-1.45 0a1.45 1.45 0 1 0 2.9 0a1.45 1.45 0 1 0 -2.9 0M184.7 599.1m-1.45 0a1.45 1.45 0 1 0 2.9 0a1.45 1.45 0 1 0 -2.9 0M185.6 599.5m-1.45 0a1.45 1.45 0 1 0 2.9 0a1.45 1.45 0 1 0 -2.9 0M186.3 600.0m-1.45 0a1.45 1.45 0 1 0 2.9 0a1.45 1.45 0 1 0 -2.9 0M187.2 600.7m-1.45 0a1.45 1.45 0 1 0 2.9 0a1.45 1.45 0 1 0 -2.9 0M188.2 600.8m-1.45 0a1.45 1.45 0 1 0 2.9 0a1.45 1.45 0 1 0 -2.9 0M189.1 601.0m-1.45 0a1.45 1.45 0 1 0 2.9 0a1.45 1.45 0 1 0 -2.9 0M190.1 601.2m-1.45 0a1.45 1.45 0 1 0 2.9 0a1.45 1.45 0 1 0 -2.9 0M190.8 601.3m-1.45 0a1.45 1.45 0 1 0 2.9 0a1.45 1.45 0 1 0 -2.9 0M191.7 601.6m-1.45 0a1.45 1.45 0 1 0 2.9 0a1.45 1.45 0 1 0 -2.9 0M191.1 602.5m-1.45 0a1.45 1.45 0 1 0 2.9 0a1.45 1.45 0 1 0 -2.9 0M190.7 603.4m-1.45 0a1.45 1.45 0 1 0 2.9 0a1.45 1.45 0 1 0 -2.9 0M189.9 604.0m-1.45 0a1.45 1.45 0 1 0 2.9 0a1.45 1.45 0 1 0 -2.9 0M188.7 604.5m-1.45 0a1.45 1.45 0 1 0 2.9 0a1.45 1.45 0 1 0 -2.9 0M187.8 605.1m-1.45 0a1.45 1.45 0 1 0 2.9 0a1.45 1.45 0 1 0 -2.9 0M186.9 605.7m-1.45 0a1.45 1.45 0 1 0 2.9 0a1.45 1.45 0 1 0 -2.9 0M185.8 606.2m-1.45 0a1.45 1.45 0 1 0 2.9 0a1.45 1.45 0 1 0 -2.9 0M185.7 607.2m-1.45 0a1.45 1.45 0 1 0 2.9 0a1.45 1.45 0 1 0 -2.9 0M185.4 608.0m-1.45 0a1.45 1.45 0 1 0 2.9 0a1.45 1.45 0 1 0 -2.9 0M185.3 608.9m-1.45 0a1.45 1.45 0 1 0 2.9 0a1.45 1.45 0 1 0 -2.9 0M184.8 609.8m-1.45 0a1.45 1.45 0 1 0 2.9 0a1.45 1.45 0 1 0 -2.9 0M184.5 610.7m-1.45 0a1.45 1.45 0 1 0 2.9 0a1.45 1.45 0 1 0 -2.9 0M184.4 611.4m-1.45 0a1.45 1.45 0 1 0 2.9 0a1.45 1.45 0 1 0 -2.9 0M184.2 612.6m-1.45 0a1.45 1.45 0 1 0 2.9 0a1.45 1.45 0 1 0 -2.9 0M183.9 613.6m-1.45 0a1.45 1.45 0 1 0 2.9 0a1.45 1.45 0 1 0 -2.9 0M183.4 614.4m-1.45 0a1.45 1.45 0 1 0 2.9 0a1.45 1.45 0 1 0 -2.9 0M183.3 615.4m-1.45 0a1.45 1.45 0 1 0 2.9 0a1.45 1.45 0 1 0 -2.9 0M183.2 616.4m-1.45 0a1.45 1.45 0 1 0 2.9 0a1.45 1.45 0 1 0 -2.9 0M182.7 617.5m-1.45 0a1.45 1.45 0 1 0 2.9 0a1.45 1.45 0 1 0 -2.9 0M182.8 618.4m-1.45 0a1.45 1.45 0 1 0 2.9 0a1.45 1.45 0 1 0 -2.9 0M182.4 619.4m-1.45 0a1.45 1.45 0 1 0 2.9 0a1.45 1.45 0 1 0 -2.9 0M182.3 620.4m-1.45 0a1.45 1.45 0 1 0 2.9 0a1.45 1.45 0 1 0 -2.9 0M182.1 621.3m-1.45 0a1.45 1.45 0 1 0 2.9 0a1.45 1.45 0 1 0 -2.9 0M181.6 622.3m-1.45 0a1.45 1.45 0 1 0 2.9 0a1.45 1.45 0 1 0 -2.9 0M181.5 623.3m-1.45 0a1.45 1.45 0 1 0 2.9 0a1.45 1.45 0 1 0 -2.9 0M181.5 624.3m-1.45 0a1.45 1.45 0 1 0 2.9 0a1.45 1.45 0 1 0 -2.9 0M181.1 625.2m-1.45 0a1.45 1.45 0 1 0 2.9 0a1.45 1.45 0 1 0 -2.9 0M180.8 626.2m-1.45 0a1.45 1.45 0 1 0 2.9 0a1.45 1.45 0 1 0 -2.9 0M180.6 627.2m-1.45 0a1.45 1.45 0 1 0 2.9 0a1.45 1.45 0 1 0 -2.9 0M180.2 628.1m-1.45 0a1.45 1.45 0 1 0 2.9 0a1.45 1.45 0 1 0 -2.9 0M180.1 629.2m-1.45 0a1.45 1.45 0 1 0 2.9 0a1.45 1.45 0 1 0 -2.9 0M180.0 630.0m-1.45 0a1.45 1.45 0 1 0 2.9 0a1.45 1.45 0 1 0 -2.9 0M179.8 631.0m-1.45 0a1.45 1.45 0 1 0 2.9 0a1.45 1.45 0 1 0 -2.9 0M179.5 632.1m-1.45 0a1.45 1.45 0 1 0 2.9 0a1.45 1.45 0 1 0 -2.9 0M179.2 633.0m-1.45 0a1.45 1.45 0 1 0 2.9 0a1.45 1.45 0 1 0 -2.9 0M179.0 633.9m-1.45 0a1.45 1.45 0 1 0 2.9 0a1.45 1.45 0 1 0 -2.9 0M179.0 635.0m-1.45 0a1.45 1.45 0 1 0 2.9 0a1.45 1.45 0 1 0 -2.9 0M178.6 635.8m-1.45 0a1.45 1.45 0 1 0 2.9 0a1.45 1.45 0 1 0 -2.9 0M178.4 636.9m-1.45 0a1.45 1.45 0 1 0 2.9 0a1.45 1.45 0 1 0 -2.9 0M178.3 637.7m-1.45 0a1.45 1.45 0 1 0 2.9 0a1.45 1.45 0 1 0 -2.9 0M177.9 638.7m-1.45 0a1.45 1.45 0 1 0 2.9 0a1.45 1.45 0 1 0 -2.9 0M177.8 639.6m-1.45 0a1.45 1.45 0 1 0 2.9 0a1.45 1.45 0 1 0 -2.9 0M207.7 630.1m-1.45 0a1.45 1.45 0 1 0 2.9 0a1.45 1.45 0 1 0 -2.9 0M207.7 631.1m-1.45 0a1.45 1.45 0 1 0 2.9 0a1.45 1.45 0 1 0 -2.9 0M208.2 632.6m-1.45 0a1.45 1.45 0 1 0 2.9 0a1.45 1.45 0 1 0 -2.9 0M208.5 633.9m-1.45 0a1.45 1.45 0 1 0 2.9 0a1.45 1.45 0 1 0 -2.9 0M209.1 635.0m-1.45 0a1.45 1.45 0 1 0 2.9 0a1.45 1.45 0 1 0 -2.9 0M209.1 636.2m-1.45 0a1.45 1.45 0 1 0 2.9 0a1.45 1.45 0 1 0 -2.9 0M209.5 637.4m-1.45 0a1.45 1.45 0 1 0 2.9 0a1.45 1.45 0 1 0 -2.9 0M209.3 638.4m-1.45 0a1.45 1.45 0 1 0 2.9 0a1.45 1.45 0 1 0 -2.9 0M209.9 639.8m-1.45 0a1.45 1.45 0 1 0 2.9 0a1.45 1.45 0 1 0 -2.9 0M209.9 640.7m-1.45 0a1.45 1.45 0 1 0 2.9 0a1.45 1.45 0 1 0 -2.9 0M210.3 641.8m-1.45 0a1.45 1.45 0 1 0 2.9 0a1.45 1.45 0 1 0 -2.9 0M210.7 643.0m-1.45 0a1.45 1.45 0 1 0 2.9 0a1.45 1.45 0 1 0 -2.9 0M211.1 643.9m-1.45 0a1.45 1.45 0 1 0 2.9 0a1.45 1.45 0 1 0 -2.9 0M211.6 644.8m-1.45 0a1.45 1.45 0 1 0 2.9 0a1.45 1.45 0 1 0 -2.9 0M211.9 645.8m-1.45 0a1.45 1.45 0 1 0 2.9 0a1.45 1.45 0 1 0 -2.9 0M212.4 646.9m-1.45 0a1.45 1.45 0 1 0 2.9 0a1.45 1.45 0 1 0 -2.9 0M212.1 648.1m-1.45 0a1.45 1.45 0 1 0 2.9 0a1.45 1.45 0 1 0 -2.9 0M211.9 649.4m-1.45 0a1.45 1.45 0 1 0 2.9 0a1.45 1.45 0 1 0 -2.9 0M211.7 650.8m-1.45 0a1.45 1.45 0 1 0 2.9 0a1.45 1.45 0 1 0 -2.9 0M211.1 652.1m-1.45 0a1.45 1.45 0 1 0 2.9 0a1.45 1.45 0 1 0 -2.9 0M211.3 652.9m-1.45 0a1.45 1.45 0 1 0 2.9 0a1.45 1.45 0 1 0 -2.9 0M211.2 654.2m-1.45 0a1.45 1.45 0 1 0 2.9 0a1.45 1.45 0 1 0 -2.9 0M211.3 655.2m-1.45 0a1.45 1.45 0 1 0 2.9 0a1.45 1.45 0 1 0 -2.9 0M211.0 656.4m-1.45 0a1.45 1.45 0 1 0 2.9 0a1.45 1.45 0 1 0 -2.9 0M210.5 657.4m-1.45 0a1.45 1.45 0 1 0 2.9 0a1.45 1.45 0 1 0 -2.9 0M210.9 658.7m-1.45 0a1.45 1.45 0 1 0 2.9 0a1.45 1.45 0 1 0 -2.9 0M210.7 659.8m-1.45 0a1.45 1.45 0 1 0 2.9 0a1.45 1.45 0 1 0 -2.9 0M210.3 660.9m-1.45 0a1.45 1.45 0 1 0 2.9 0a1.45 1.45 0 1 0 -2.9 0M210.1 661.9m-1.45 0a1.45 1.45 0 1 0 2.9 0a1.45 1.45 0 1 0 -2.9 0M209.6 663.2m-1.45 0a1.45 1.45 0 1 0 2.9 0a1.45 1.45 0 1 0 -2.9 0M209.0 664.4m-1.45 0a1.45 1.45 0 1 0 2.9 0a1.45 1.45 0 1 0 -2.9 0M208.9 665.4m-1.45 0a1.45 1.45 0 1 0 2.9 0a1.45 1.45 0 1 0 -2.9 0M209.0 666.3m-1.45 0a1.45 1.45 0 1 0 2.9 0a1.45 1.45 0 1 0 -2.9 0M208.0 667.5m-1.45 0a1.45 1.45 0 1 0 2.9 0a1.45 1.45 0 1 0 -2.9 0M207.4 668.3m-1.45 0a1.45 1.45 0 1 0 2.9 0a1.45 1.45 0 1 0 -2.9 0M207.3 669.4m-1.45 0a1.45 1.45 0 1 0 2.9 0a1.45 1.45 0 1 0 -2.9 0M206.8 670.4m-1.45 0a1.45 1.45 0 1 0 2.9 0a1.45 1.45 0 1 0 -2.9 0M206.6 671.5m-1.45 0a1.45 1.45 0 1 0 2.9 0a1.45 1.45 0 1 0 -2.9 0M206.0 672.4m-1.45 0a1.45 1.45 0 1 0 2.9 0a1.45 1.45 0 1 0 -2.9 0M205.4 673.2m-1.45 0a1.45 1.45 0 1 0 2.9 0a1.45 1.45 0 1 0 -2.9 0M205.2 674.3m-1.45 0a1.45 1.45 0 1 0 2.9 0a1.45 1.45 0 1 0 -2.9 0M204.9 675.6m-1.45 0a1.45 1.45 0 1 0 2.9 0a1.45 1.45 0 1 0 -2.9 0M204.5 676.6m-1.45 0a1.45 1.45 0 1 0 2.9 0a1.45 1.45 0 1 0 -2.9 0M204.6 678.0m-1.45 0a1.45 1.45 0 1 0 2.9 0a1.45 1.45 0 1 0 -2.9 0M204.5 679.2m-1.45 0a1.45 1.45 0 1 0 2.9 0a1.45 1.45 0 1 0 -2.9 0M204.6 680.5m-1.45 0a1.45 1.45 0 1 0 2.9 0a1.45 1.45 0 1 0 -2.9 0M205.2 681.6m-1.45 0a1.45 1.45 0 1 0 2.9 0a1.45 1.45 0 1 0 -2.9 0M205.2 683.0m-1.45 0a1.45 1.45 0 1 0 2.9 0a1.45 1.45 0 1 0 -2.9 0M205.6 684.1m-1.45 0a1.45 1.45 0 1 0 2.9 0a1.45 1.45 0 1 0 -2.9 0M205.9 685.6m-1.45 0a1.45 1.45 0 1 0 2.9 0a1.45 1.45 0 1 0 -2.9 0M206.3 686.5m-1.45 0a1.45 1.45 0 1 0 2.9 0a1.45 1.45 0 1 0 -2.9 0M206.3 687.5m-1.45 0a1.45 1.45 0 1 0 2.9 0a1.45 1.45 0 1 0 -2.9 0M207.3 688.5m-1.45 0a1.45 1.45 0 1 0 2.9 0a1.45 1.45 0 1 0 -2.9 0M207.6 689.7m-1.45 0a1.45 1.45 0 1 0 2.9 0a1.45 1.45 0 1 0 -2.9 0M208.1 690.6m-1.45 0a1.45 1.45 0 1 0 2.9 0a1.45 1.45 0 1 0 -2.9 0M233.7 684.4m-1.45 0a1.45 1.45 0 1 0 2.9 0a1.45 1.45 0 1 0 -2.9 0M234.7 684.9m-1.45 0a1.45 1.45 0 1 0 2.9 0a1.45 1.45 0 1 0 -2.9 0M236.0 685.5m-1.45 0a1.45 1.45 0 1 0 2.9 0a1.45 1.45 0 1 0 -2.9 0M236.9 686.2m-1.45 0a1.45 1.45 0 1 0 2.9 0a1.45 1.45 0 1 0 -2.9 0M237.4 687.6m-1.45 0a1.45 1.45 0 1 0 2.9 0a1.45 1.45 0 1 0 -2.9 0M238.0 688.4m-1.45 0a1.45 1.45 0 1 0 2.9 0a1.45 1.45 0 1 0 -2.9 0M238.9 689.3m-1.45 0a1.45 1.45 0 1 0 2.9 0a1.45 1.45 0 1 0 -2.9 0M239.5 690.5m-1.45 0a1.45 1.45 0 1 0 2.9 0a1.45 1.45 0 1 0 -2.9 0M239.5 691.7m-1.45 0a1.45 1.45 0 1 0 2.9 0a1.45 1.45 0 1 0 -2.9 0M239.1 693.2m-1.45 0a1.45 1.45 0 1 0 2.9 0a1.45 1.45 0 1 0 -2.9 0M239.4 694.3m-1.45 0a1.45 1.45 0 1 0 2.9 0a1.45 1.45 0 1 0 -2.9 0M239.4 695.6m-1.45 0a1.45 1.45 0 1 0 2.9 0a1.45 1.45 0 1 0 -2.9 0M238.8 696.6m-1.45 0a1.45 1.45 0 1 0 2.9 0a1.45 1.45 0 1 0 -2.9 0M238.4 697.9m-1.45 0a1.45 1.45 0 1 0 2.9 0a1.45 1.45 0 1 0 -2.9 0M238.1 699.3m-1.45 0a1.45 1.45 0 1 0 2.9 0a1.45 1.45 0 1 0 -2.9 0M238.2 700.6m-1.45 0a1.45 1.45 0 1 0 2.9 0a1.45 1.45 0 1 0 -2.9 0M238.0 701.7m-1.45 0a1.45 1.45 0 1 0 2.9 0a1.45 1.45 0 1 0 -2.9 0M237.6 702.8m-1.45 0a1.45 1.45 0 1 0 2.9 0a1.45 1.45 0 1 0 -2.9 0M237.1 703.8m-1.45 0a1.45 1.45 0 1 0 2.9 0a1.45 1.45 0 1 0 -2.9 0M236.9 705.0m-1.45 0a1.45 1.45 0 1 0 2.9 0a1.45 1.45 0 1 0 -2.9 0" fill="#8c8c8c"/>
<path d="M191.6 492.7m-0.9 0a0.9 0.9 0 1 0 1.8 0a0.9 0.9 0 1 0 -1.8 0M190.4 493.0m-0.9 0a0.9 0.9 0 1 0 1.8 0a0.9 0.9 0 1 0 -1.8 0M189.4 493.3m-0.9 0a0.9 0.9 0 1 0 1.8 0a0.9 0.9 0 1 0 -1.8 0M188.3 493.6m-0.9 0a0.9 0.9 0 1 0 1.8 0a0.9 0.9 0 1 0 -1.8 0M187.4 493.8m-0.9 0a0.9 0.9 0 1 0 1.8 0a0.9 0.9 0 1 0 -1.8 0M186.6 494.2m-0.9 0a0.9 0.9 0 1 0 1.8 0a0.9 0.9 0 1 0 -1.8 0M185.7 494.4m-0.9 0a0.9 0.9 0 1 0 1.8 0a0.9 0.9 0 1 0 -1.8 0M184.9 494.6m-0.9 0a0.9 0.9 0 1 0 1.8 0a0.9 0.9 0 1 0 -1.8 0M184.0 494.8m-0.9 0a0.9 0.9 0 1 0 1.8 0a0.9 0.9 0 1 0 -1.8 0M183.1 495.3m-0.9 0a0.9 0.9 0 1 0 1.8 0a0.9 0.9 0 1 0 -1.8 0M182.4 495.7m-0.9 0a0.9 0.9 0 1 0 1.8 0a0.9 0.9 0 1 0 -1.8 0M181.7 496.2m-0.9 0a0.9 0.9 0 1 0 1.8 0a0.9 0.9 0 1 0 -1.8 0M180.9 496.7m-0.9 0a0.9 0.9 0 1 0 1.8 0a0.9 0.9 0 1 0 -1.8 0M180.7 497.6m-0.9 0a0.9 0.9 0 1 0 1.8 0a0.9 0.9 0 1 0 -1.8 0M180.5 498.4m-0.9 0a0.9 0.9 0 1 0 1.8 0a0.9 0.9 0 1 0 -1.8 0M180.4 499.6m-0.9 0a0.9 0.9 0 1 0 1.8 0a0.9 0.9 0 1 0 -1.8 0M180.9 500.2m-0.9 0a0.9 0.9 0 1 0 1.8 0a0.9 0.9 0 1 0 -1.8 0M181.9 501.1m-0.9 0a0.9 0.9 0 1 0 1.8 0a0.9 0.9 0 1 0 -1.8 0M182.8 501.9m-0.9 0a0.9 0.9 0 1 0 1.8 0a0.9 0.9 0 1 0 -1.8 0M182.2 502.7m-0.9 0a0.9 0.9 0 1 0 1.8 0a0.9 0.9 0 1 0 -1.8 0M181.4 503.4m-0.9 0a0.9 0.9 0 1 0 1.8 0a0.9 0.9 0 1 0 -1.8 0M180.8 504.2m-0.9 0a0.9 0.9 0 1 0 1.8 0a0.9 0.9 0 1 0 -1.8 0M181.6 504.7m-0.9 0a0.9 0.9 0 1 0 1.8 0a0.9 0.9 0 1 0 -1.8 0M182.6 505.3m-0.9 0a0.9 0.9 0 1 0 1.8 0a0.9 0.9 0 1 0 -1.8 0M183.1 506.0m-0.9 0a0.9 0.9 0 1 0 1.8 0a0.9 0.9 0 1 0 -1.8 0M183.8 506.5m-0.9 0a0.9 0.9 0 1 0 1.8 0a0.9 0.9 0 1 0 -1.8 0M184.6 507.0m-0.9 0a0.9 0.9 0 1 0 1.8 0a0.9 0.9 0 1 0 -1.8 0M185.2 507.7m-0.9 0a0.9 0.9 0 1 0 1.8 0a0.9 0.9 0 1 0 -1.8 0M186.1 508.3m-0.9 0a0.9 0.9 0 1 0 1.8 0a0.9 0.9 0 1 0 -1.8 0M186.5 509.3m-0.9 0a0.9 0.9 0 1 0 1.8 0a0.9 0.9 0 1 0 -1.8 0M186.9 510.1m-0.9 0a0.9 0.9 0 1 0 1.8 0a0.9 0.9 0 1 0 -1.8 0M186.6 511.2m-0.9 0a0.9 0.9 0 1 0 1.8 0a0.9 0.9 0 1 0 -1.8 0M187.2 512.2m-0.9 0a0.9 0.9 0 1 0 1.8 0a0.9 0.9 0 1 0 -1.8 0M187.3 513.0m-0.9 0a0.9 0.9 0 1 0 1.8 0a0.9 0.9 0 1 0 -1.8 0M187.3 514.2m-0.9 0a0.9 0.9 0 1 0 1.8 0a0.9 0.9 0 1 0 -1.8 0M187.1 515.1m-0.9 0a0.9 0.9 0 1 0 1.8 0a0.9 0.9 0 1 0 -1.8 0M187.2 516.0m-0.9 0a0.9 0.9 0 1 0 1.8 0a0.9 0.9 0 1 0 -1.8 0M187.1 517.0m-0.9 0a0.9 0.9 0 1 0 1.8 0a0.9 0.9 0 1 0 -1.8 0M187.0 518.0m-0.9 0a0.9 0.9 0 1 0 1.8 0a0.9 0.9 0 1 0 -1.8 0M187.0 519.1m-0.9 0a0.9 0.9 0 1 0 1.8 0a0.9 0.9 0 1 0 -1.8 0M186.9 520.0m-0.9 0a0.9 0.9 0 1 0 1.8 0a0.9 0.9 0 1 0 -1.8 0M186.8 521.1m-0.9 0a0.9 0.9 0 1 0 1.8 0a0.9 0.9 0 1 0 -1.8 0M186.7 522.1m-0.9 0a0.9 0.9 0 1 0 1.8 0a0.9 0.9 0 1 0 -1.8 0M186.7 523.0m-0.9 0a0.9 0.9 0 1 0 1.8 0a0.9 0.9 0 1 0 -1.8 0M186.6 524.0m-0.9 0a0.9 0.9 0 1 0 1.8 0a0.9 0.9 0 1 0 -1.8 0M186.5 525.1m-0.9 0a0.9 0.9 0 1 0 1.8 0a0.9 0.9 0 1 0 -1.8 0M186.4 526.1m-0.9 0a0.9 0.9 0 1 0 1.8 0a0.9 0.9 0 1 0 -1.8 0M186.2 527.0m-0.9 0a0.9 0.9 0 1 0 1.8 0a0.9 0.9 0 1 0 -1.8 0M186.2 528.1m-0.9 0a0.9 0.9 0 1 0 1.8 0a0.9 0.9 0 1 0 -1.8 0M185.8 529.1m-0.9 0a0.9 0.9 0 1 0 1.8 0a0.9 0.9 0 1 0 -1.8 0M185.8 530.1m-0.9 0a0.9 0.9 0 1 0 1.8 0a0.9 0.9 0 1 0 -1.8 0M185.6 531.1m-0.9 0a0.9 0.9 0 1 0 1.8 0a0.9 0.9 0 1 0 -1.8 0M185.3 532.0m-0.9 0a0.9 0.9 0 1 0 1.8 0a0.9 0.9 0 1 0 -1.8 0M185.3 533.1m-0.9 0a0.9 0.9 0 1 0 1.8 0a0.9 0.9 0 1 0 -1.8 0M185.1 534.1m-0.9 0a0.9 0.9 0 1 0 1.8 0a0.9 0.9 0 1 0 -1.8 0M184.9 535.1m-0.9 0a0.9 0.9 0 1 0 1.8 0a0.9 0.9 0 1 0 -1.8 0M184.6 536.1m-0.9 0a0.9 0.9 0 1 0 1.8 0a0.9 0.9 0 1 0 -1.8 0M184.3 537.0m-0.9 0a0.9 0.9 0 1 0 1.8 0a0.9 0.9 0 1 0 -1.8 0M184.1 538.0m-0.9 0a0.9 0.9 0 1 0 1.8 0a0.9 0.9 0 1 0 -1.8 0M183.5 539.1m-0.9 0a0.9 0.9 0 1 0 1.8 0a0.9 0.9 0 1 0 -1.8 0M183.4 540.2m-0.9 0a0.9 0.9 0 1 0 1.8 0a0.9 0.9 0 1 0 -1.8 0M183.1 541.1m-0.9 0a0.9 0.9 0 1 0 1.8 0a0.9 0.9 0 1 0 -1.8 0M182.9 542.1m-0.9 0a0.9 0.9 0 1 0 1.8 0a0.9 0.9 0 1 0 -1.8 0M182.6 543.2m-0.9 0a0.9 0.9 0 1 0 1.8 0a0.9 0.9 0 1 0 -1.8 0M182.4 544.2m-0.9 0a0.9 0.9 0 1 0 1.8 0a0.9 0.9 0 1 0 -1.8 0M182.2 545.0m-0.9 0a0.9 0.9 0 1 0 1.8 0a0.9 0.9 0 1 0 -1.8 0M181.9 546.1m-0.9 0a0.9 0.9 0 1 0 1.8 0a0.9 0.9 0 1 0 -1.8 0M181.7 547.1m-0.9 0a0.9 0.9 0 1 0 1.8 0a0.9 0.9 0 1 0 -1.8 0M181.7 548.1m-0.9 0a0.9 0.9 0 1 0 1.8 0a0.9 0.9 0 1 0 -1.8 0M181.6 549.0m-0.9 0a0.9 0.9 0 1 0 1.8 0a0.9 0.9 0 1 0 -1.8 0M182.0 549.9m-0.9 0a0.9 0.9 0 1 0 1.8 0a0.9 0.9 0 1 0 -1.8 0M182.1 550.9m-0.9 0a0.9 0.9 0 1 0 1.8 0a0.9 0.9 0 1 0 -1.8 0M182.0 551.8m-0.9 0a0.9 0.9 0 1 0 1.8 0a0.9 0.9 0 1 0 -1.8 0M182.2 552.8m-0.9 0a0.9 0.9 0 1 0 1.8 0a0.9 0.9 0 1 0 -1.8 0M182.1 553.8m-0.9 0a0.9 0.9 0 1 0 1.8 0a0.9 0.9 0 1 0 -1.8 0M182.0 554.8m-0.9 0a0.9 0.9 0 1 0 1.8 0a0.9 0.9 0 1 0 -1.8 0M181.8 555.8m-0.9 0a0.9 0.9 0 1 0 1.8 0a0.9 0.9 0 1 0 -1.8 0M181.9 556.8m-0.9 0a0.9 0.9 0 1 0 1.8 0a0.9 0.9 0 1 0 -1.8 0M181.8 557.8m-0.9 0a0.9 0.9 0 1 0 1.8 0a0.9 0.9 0 1 0 -1.8 0M181.6 558.8m-0.9 0a0.9 0.9 0 1 0 1.8 0a0.9 0.9 0 1 0 -1.8 0M181.6 559.8m-0.9 0a0.9 0.9 0 1 0 1.8 0a0.9 0.9 0 1 0 -1.8 0M181.4 560.7m-0.9 0a0.9 0.9 0 1 0 1.8 0a0.9 0.9 0 1 0 -1.8 0M181.3 561.8m-0.9 0a0.9 0.9 0 1 0 1.8 0a0.9 0.9 0 1 0 -1.8 0M181.0 562.7m-0.9 0a0.9 0.9 0 1 0 1.8 0a0.9 0.9 0 1 0 -1.8 0M181.0 563.7m-0.9 0a0.9 0.9 0 1 0 1.8 0a0.9 0.9 0 1 0 -1.8 0M180.6 564.7m-0.9 0a0.9 0.9 0 1 0 1.8 0a0.9 0.9 0 1 0 -1.8 0M180.7 565.9m-0.9 0a0.9 0.9 0 1 0 1.8 0a0.9 0.9 0 1 0 -1.8 0M180.3 566.7m-0.9 0a0.9 0.9 0 1 0 1.8 0a0.9 0.9 0 1 0 -1.8 0M180.2 567.7m-0.9 0a0.9 0.9 0 1 0 1.8 0a0.9 0.9 0 1 0 -1.8 0M180.2 568.8m-0.9 0a0.9 0.9 0 1 0 1.8 0a0.9 0.9 0 1 0 -1.8 0M180.1 569.8m-0.9 0a0.9 0.9 0 1 0 1.8 0a0.9 0.9 0 1 0 -1.8 0M180.1 570.8m-0.9 0a0.9 0.9 0 1 0 1.8 0a0.9 0.9 0 1 0 -1.8 0M180.1 571.8m-0.9 0a0.9 0.9 0 1 0 1.8 0a0.9 0.9 0 1 0 -1.8 0M180.0 572.8m-0.9 0a0.9 0.9 0 1 0 1.8 0a0.9 0.9 0 1 0 -1.8 0M179.8 573.8m-0.9 0a0.9 0.9 0 1 0 1.8 0a0.9 0.9 0 1 0 -1.8 0M180.1 574.8m-0.9 0a0.9 0.9 0 1 0 1.8 0a0.9 0.9 0 1 0 -1.8 0M180.3 575.8m-0.9 0a0.9 0.9 0 1 0 1.8 0a0.9 0.9 0 1 0 -1.8 0M180.7 576.8m-0.9 0a0.9 0.9 0 1 0 1.8 0a0.9 0.9 0 1 0 -1.8 0M181.0 577.6m-0.9 0a0.9 0.9 0 1 0 1.8 0a0.9 0.9 0 1 0 -1.8 0M181.4 578.6m-0.9 0a0.9 0.9 0 1 0 1.8 0a0.9 0.9 0 1 0 -1.8 0M181.4 579.6m-0.9 0a0.9 0.9 0 1 0 1.8 0a0.9 0.9 0 1 0 -1.8 0M181.5 580.7m-0.9 0a0.9 0.9 0 1 0 1.8 0a0.9 0.9 0 1 0 -1.8 0M181.5 581.8m-0.9 0a0.9 0.9 0 1 0 1.8 0a0.9 0.9 0 1 0 -1.8 0M181.6 582.9m-0.9 0a0.9 0.9 0 1 0 1.8 0a0.9 0.9 0 1 0 -1.8 0M181.7 584.0m-0.9 0a0.9 0.9 0 1 0 1.8 0a0.9 0.9 0 1 0 -1.8 0M181.5 585.0m-0.9 0a0.9 0.9 0 1 0 1.8 0a0.9 0.9 0 1 0 -1.8 0M182.1 545.0m-0.9 0a0.9 0.9 0 1 0 1.8 0a0.9 0.9 0 1 0 -1.8 0M181.9 546.0m-0.9 0a0.9 0.9 0 1 0 1.8 0a0.9 0.9 0 1 0 -1.8 0M182.3 547.0m-0.9 0a0.9 0.9 0 1 0 1.8 0a0.9 0.9 0 1 0 -1.8 0M182.4 548.0m-0.9 0a0.9 0.9 0 1 0 1.8 0a0.9 0.9 0 1 0 -1.8 0M182.5 549.0m-0.9 0a0.9 0.9 0 1 0 1.8 0a0.9 0.9 0 1 0 -1.8 0M182.7 550.1m-0.9 0a0.9 0.9 0 1 0 1.8 0a0.9 0.9 0 1 0 -1.8 0M182.7 551.1m-0.9 0a0.9 0.9 0 1 0 1.8 0a0.9 0.9 0 1 0 -1.8 0M182.9 552.0m-0.9 0a0.9 0.9 0 1 0 1.8 0a0.9 0.9 0 1 0 -1.8 0M182.7 553.0m-0.9 0a0.9 0.9 0 1 0 1.8 0a0.9 0.9 0 1 0 -1.8 0M182.9 554.0m-0.9 0a0.9 0.9 0 1 0 1.8 0a0.9 0.9 0 1 0 -1.8 0M182.5 554.9m-0.9 0a0.9 0.9 0 1 0 1.8 0a0.9 0.9 0 1 0 -1.8 0M182.7 556.1m-0.9 0a0.9 0.9 0 1 0 1.8 0a0.9 0.9 0 1 0 -1.8 0M182.7 557.1m-0.9 0a0.9 0.9 0 1 0 1.8 0a0.9 0.9 0 1 0 -1.8 0M182.5 558.1m-0.9 0a0.9 0.9 0 1 0 1.8 0a0.9 0.9 0 1 0 -1.8 0M182.4 559.0m-0.9 0a0.9 0.9 0 1 0 1.8 0a0.9 0.9 0 1 0 -1.8 0M182.2 560.0m-0.9 0a0.9 0.9 0 1 0 1.8 0a0.9 0.9 0 1 0 -1.8 0M182.1 561.0m-0.9 0a0.9 0.9 0 1 0 1.8 0a0.9 0.9 0 1 0 -1.8 0M182.1 562.0m-0.9 0a0.9 0.9 0 1 0 1.8 0a0.9 0.9 0 1 0 -1.8 0M181.8 563.0m-0.9 0a0.9 0.9 0 1 0 1.8 0a0.9 0.9 0 1 0 -1.8 0M181.7 564.0m-0.9 0a0.9 0.9 0 1 0 1.8 0a0.9 0.9 0 1 0 -1.8 0M181.5 565.0m-0.9 0a0.9 0.9 0 1 0 1.8 0a0.9 0.9 0 1 0 -1.8 0M181.2 566.0m-0.9 0a0.9 0.9 0 1 0 1.8 0a0.9 0.9 0 1 0 -1.8 0M180.9 567.0m-0.9 0a0.9 0.9 0 1 0 1.8 0a0.9 0.9 0 1 0 -1.8 0M180.8 568.0m-0.9 0a0.9 0.9 0 1 0 1.8 0a0.9 0.9 0 1 0 -1.8 0M180.6 569.0m-0.9 0a0.9 0.9 0 1 0 1.8 0a0.9 0.9 0 1 0 -1.8 0M180.3 570.0m-0.9 0a0.9 0.9 0 1 0 1.8 0a0.9 0.9 0 1 0 -1.8 0M180.0 571.1m-0.9 0a0.9 0.9 0 1 0 1.8 0a0.9 0.9 0 1 0 -1.8 0M179.9 572.0m-0.9 0a0.9 0.9 0 1 0 1.8 0a0.9 0.9 0 1 0 -1.8 0M179.9 573.1m-0.9 0a0.9 0.9 0 1 0 1.8 0a0.9 0.9 0 1 0 -1.8 0M179.9 574.0m-0.9 0a0.9 0.9 0 1 0 1.8 0a0.9 0.9 0 1 0 -1.8 0M180.3 574.9m-0.9 0a0.9 0.9 0 1 0 1.8 0a0.9 0.9 0 1 0 -1.8 0M180.7 575.8m-0.9 0a0.9 0.9 0 1 0 1.8 0a0.9 0.9 0 1 0 -1.8 0M180.9 576.7m-0.9 0a0.9 0.9 0 1 0 1.8 0a0.9 0.9 0 1 0 -1.8 0M181.4 577.6m-0.9 0a0.9 0.9 0 1 0 1.8 0a0.9 0.9 0 1 0 -1.8 0M181.8 578.5m-0.9 0a0.9 0.9 0 1 0 1.8 0a0.9 0.9 0 1 0 -1.8 0M182.4 579.3m-0.9 0a0.9 0.9 0 1 0 1.8 0a0.9 0.9 0 1 0 -1.8 0M182.9 580.1m-0.9 0a0.9 0.9 0 1 0 1.8 0a0.9 0.9 0 1 0 -1.8 0M182.5 581.0m-0.9 0a0.9 0.9 0 1 0 1.8 0a0.9 0.9 0 1 0 -1.8 0M181.9 581.8m-0.9 0a0.9 0.9 0 1 0 1.8 0a0.9 0.9 0 1 0 -1.8 0M181.6 582.6m-0.9 0a0.9 0.9 0 1 0 1.8 0a0.9 0.9 0 1 0 -1.8 0M181.5 583.6m-0.9 0a0.9 0.9 0 1 0 1.8 0a0.9 0.9 0 1 0 -1.8 0M181.2 584.5m-0.9 0a0.9 0.9 0 1 0 1.8 0a0.9 0.9 0 1 0 -1.8 0M181.5 585.3m-0.9 0a0.9 0.9 0 1 0 1.8 0a0.9 0.9 0 1 0 -1.8 0M181.7 586.4m-0.9 0a0.9 0.9 0 1 0 1.8 0a0.9 0.9 0 1 0 -1.8 0M181.8 587.2m-0.9 0a0.9 0.9 0 1 0 1.8 0a0.9 0.9 0 1 0 -1.8 0M182.1 588.2m-0.9 0a0.9 0.9 0 1 0 1.8 0a0.9 0.9 0 1 0 -1.8 0M181.6 589.2m-0.9 0a0.9 0.9 0 1 0 1.8 0a0.9 0.9 0 1 0 -1.8 0M181.4 590.2m-0.9 0a0.9 0.9 0 1 0 1.8 0a0.9 0.9 0 1 0 -1.8 0M181.0 591.1m-0.9 0a0.9 0.9 0 1 0 1.8 0a0.9 0.9 0 1 0 -1.8 0M180.8 592.0m-0.9 0a0.9 0.9 0 1 0 1.8 0a0.9 0.9 0 1 0 -1.8 0M180.4 593.0m-0.9 0a0.9 0.9 0 1 0 1.8 0a0.9 0.9 0 1 0 -1.8 0M180.0 594.1m-0.9 0a0.9 0.9 0 1 0 1.8 0a0.9 0.9 0 1 0 -1.8 0M180.7 594.9m-0.9 0a0.9 0.9 0 1 0 1.8 0a0.9 0.9 0 1 0 -1.8 0M181.2 595.9m-0.9 0a0.9 0.9 0 1 0 1.8 0a0.9 0.9 0 1 0 -1.8 0M181.9 596.7m-0.9 0a0.9 0.9 0 1 0 1.8 0a0.9 0.9 0 1 0 -1.8 0M182.5 597.5m-0.9 0a0.9 0.9 0 1 0 1.8 0a0.9 0.9 0 1 0 -1.8 0M183.4 598.0m-0.9 0a0.9 0.9 0 1 0 1.8 0a0.9 0.9 0 1 0 -1.8 0M184.0 598.6m-0.9 0a0.9 0.9 0 1 0 1.8 0a0.9 0.9 0 1 0 -1.8 0M184.7 599.1m-0.9 0a0.9 0.9 0 1 0 1.8 0a0.9 0.9 0 1 0 -1.8 0M185.6 599.5m-0.9 0a0.9 0.9 0 1 0 1.8 0a0.9 0.9 0 1 0 -1.8 0M186.3 600.0m-0.9 0a0.9 0.9 0 1 0 1.8 0a0.9 0.9 0 1 0 -1.8 0M187.2 600.7m-0.9 0a0.9 0.9 0 1 0 1.8 0a0.9 0.9 0 1 0 -1.8 0M188.2 600.8m-0.9 0a0.9 0.9 0 1 0 1.8 0a0.9 0.9 0 1 0 -1.8 0M189.1 601.0m-0.9 0a0.9 0.9 0 1 0 1.8 0a0.9 0.9 0 1 0 -1.8 0M190.1 601.2m-0.9 0a0.9 0.9 0 1 0 1.8 0a0.9 0.9 0 1 0 -1.8 0M190.8 601.3m-0.9 0a0.9 0.9 0 1 0 1.8 0a0.9 0.9 0 1 0 -1.8 0M191.7 601.6m-0.9 0a0.9 0.9 0 1 0 1.8 0a0.9 0.9 0 1 0 -1.8 0M191.1 602.5m-0.9 0a0.9 0.9 0 1 0 1.8 0a0.9 0.9 0 1 0 -1.8 0M190.7 603.4m-0.9 0a0.9 0.9 0 1 0 1.8 0a0.9 0.9 0 1 0 -1.8 0M189.9 604.0m-0.9 0a0.9 0.9 0 1 0 1.8 0a0.9 0.9 0 1 0 -1.8 0M188.7 604.5m-0.9 0a0.9 0.9 0 1 0 1.8 0a0.9 0.9 0 1 0 -1.8 0M187.8 605.1m-0.9 0a0.9 0.9 0 1 0 1.8 0a0.9 0.9 0 1 0 -1.8 0M186.9 605.7m-0.9 0a0.9 0.9 0 1 0 1.8 0a0.9 0.9 0 1 0 -1.8 0M185.8 606.2m-0.9 0a0.9 0.9 0 1 0 1.8 0a0.9 0.9 0 1 0 -1.8 0M185.7 607.2m-0.9 0a0.9 0.9 0 1 0 1.8 0a0.9 0.9 0 1 0 -1.8 0M185.4 608.0m-0.9 0a0.9 0.9 0 1 0 1.8 0a0.9 0.9 0 1 0 -1.8 0M185.3 608.9m-0.9 0a0.9 0.9 0 1 0 1.8 0a0.9 0.9 0 1 0 -1.8 0M184.8 609.8m-0.9 0a0.9 0.9 0 1 0 1.8 0a0.9 0.9 0 1 0 -1.8 0M184.5 610.7m-0.9 0a0.9 0.9 0 1 0 1.8 0a0.9 0.9 0 1 0 -1.8 0M184.4 611.4m-0.9 0a0.9 0.9 0 1 0 1.8 0a0.9 0.9 0 1 0 -1.8 0M184.2 612.6m-0.9 0a0.9 0.9 0 1 0 1.8 0a0.9 0.9 0 1 0 -1.8 0M183.9 613.6m-0.9 0a0.9 0.9 0 1 0 1.8 0a0.9 0.9 0 1 0 -1.8 0M183.4 614.4m-0.9 0a0.9 0.9 0 1 0 1.8 0a0.9 0.9 0 1 0 -1.8 0M183.3 615.4m-0.9 0a0.9 0.9 0 1 0 1.8 0a0.9 0.9 0 1 0 -1.8 0M183.2 616.4m-0.9 0a0.9 0.9 0 1 0 1.8 0a0.9 0.9 0 1 0 -1.8 0M182.7 617.5m-0.9 0a0.9 0.9 0 1 0 1.8 0a0.9 0.9 0 1 0 -1.8 0M182.8 618.4m-0.9 0a0.9 0.9 0 1 0 1.8 0a0.9 0.9 0 1 0 -1.8 0M182.4 619.4m-0.9 0a0.9 0.9 0 1 0 1.8 0a0.9 0.9 0 1 0 -1.8 0M182.3 620.4m-0.9 0a0.9 0.9 0 1 0 1.8 0a0.9 0.9 0 1 0 -1.8 0M182.1 621.3m-0.9 0a0.9 0.9 0 1 0 1.8 0a0.9 0.9 0 1 0 -1.8 0M181.6 622.3m-0.9 0a0.9 0.9 0 1 0 1.8 0a0.9 0.9 0 1 0 -1.8 0M181.5 623.3m-0.9 0a0.9 0.9 0 1 0 1.8 0a0.9 0.9 0 1 0 -1.8 0M181.5 624.3m-0.9 0a0.9 0.9 0 1 0 1.8 0a0.9 0.9 0 1 0 -1.8 0M181.1 625.2m-0.9 0a0.9 0.9 0 1 0 1.8 0a0.9 0.9 0 1 0 -1.8 0M180.8 626.2m-0.9 0a0.9 0.9 0 1 0 1.8 0a0.9 0.9 0 1 0 -1.8 0M180.6 627.2m-0.9 0a0.9 0.9 0 1 0 1.8 0a0.9 0.9 0 1 0 -1.8 0M180.2 628.1m-0.9 0a0.9 0.9 0 1 0 1.8 0a0.9 0.9 0 1 0 -1.8 0M180.1 629.2m-0.9 0a0.9 0.9 0 1 0 1.8 0a0.9 0.9 0 1 0 -1.8 0M180.0 630.0m-0.9 0a0.9 0.9 0 1 0 1.8 0a0.9 0.9 0 1 0 -1.8 0M179.8 631.0m-0.9 0a0.9 0.9 0 1 0 1.8 0a0.9 0.9 0 1 0 -1.8 0M179.5 632.1m-0.9 0a0.9 0.9 0 1 0 1.8 0a0.9 0.9 0 1 0 -1.8 0M179.2 633.0m-0.9 0a0.9 0.9 0 1 0 1.8 0a0.9 0.9 0 1 0 -1.8 0M179.0 633.9m-0.9 0a0.9 0.9 0 1 0 1.8 0a0.9 0.9 0 1 0 -1.8 0M179.0 635.0m-0.9 0a0.9 0.9 0 1 0 1.8 0a0.9 0.9 0 1 0 -1.8 0M178.6 635.8m-0.9 0a0.9 0.9 0 1 0 1.8 0a0.9 0.9 0 1 0 -1.8 0M178.4 636.9m-0.9 0a0.9 0.9 0 1 0 1.8 0a0.9 0.9 0 1 0 -1.8 0M178.3 637.7m-0.9 0a0.9 0.9 0 1 0 1.8 0a0.9 0.9 0 1 0 -1.8 0M177.9 638.7m-0.9 0a0.9 0.9 0 1 0 1.8 0a0.9 0.9 0 1 0 -1.8 0M177.8 639.6m-0.9 0a0.9 0.9 0 1 0 1.8 0a0.9 0.9 0 1 0 -1.8 0M207.7 630.1m-0.9 0a0.9 0.9 0 1 0 1.8 0a0.9 0.9 0 1 0 -1.8 0M207.7 631.1m-0.9 0a0.9 0.9 0 1 0 1.8 0a0.9 0.9 0 1 0 -1.8 0M208.2 632.6m-0.9 0a0.9 0.9 0 1 0 1.8 0a0.9 0.9 0 1 0 -1.8 0M208.5 633.9m-0.9 0a0.9 0.9 0 1 0 1.8 0a0.9 0.9 0 1 0 -1.8 0M209.1 635.0m-0.9 0a0.9 0.9 0 1 0 1.8 0a0.9 0.9 0 1 0 -1.8 0M209.1 636.2m-0.9 0a0.9 0.9 0 1 0 1.8 0a0.9 0.9 0 1 0 -1.8 0M209.5 637.4m-0.9 0a0.9 0.9 0 1 0 1.8 0a0.9 0.9 0 1 0 -1.8 0M209.3 638.4m-0.9 0a0.9 0.9 0 1 0 1.8 0a0.9 0.9 0 1 0 -1.8 0M209.9 639.8m-0.9 0a0.9 0.9 0 1 0 1.8 0a0.9 0.9 0 1 0 -1.8 0M209.9 640.7m-0.9 0a0.9 0.9 0 1 0 1.8 0a0.9 0.9 0 1 0 -1.8 0M210.3 641.8m-0.9 0a0.9 0.9 0 1 0 1.8 0a0.9 0.9 0 1 0 -1.8 0M210.7 643.0m-0.9 0a0.9 0.9 0 1 0 1.8 0a0.9 0.9 0 1 0 -1.8 0M211.1 643.9m-0.9 0a0.9 0.9 0 1 0 1.8 0a0.9 0.9 0 1 0 -1.8 0M211.6 644.8m-0.9 0a0.9 0.9 0 1 0 1.8 0a0.9 0.9 0 1 0 -1.8 0M211.9 645.8m-0.9 0a0.9 0.9 0 1 0 1.8 0a0.9 0.9 0 1 0 -1.8 0M212.4 646.9m-0.9 0a0.9 0.9 0 1 0 1.8 0a0.9 0.9 0 1 0 -1.8 0M212.1 648.1m-0.9 0a0.9 0.9 0 1 0 1.8 0a0.9 0.9 0 1 0 -1.8 0M211.9 649.4m-0.9 0a0.9 0.9 0 1 0 1.8 0a0.9 0.9 0 1 0 -1.8 0M211.7 650.8m-0.9 0a0.9 0.9 0 1 0 1.8 0a0.9 0.9 0 1 0 -1.8 0M211.1 652.1m-0.9 0a0.9 0.9 0 1 0 1.8 0a0.9 0.9 0 1 0 -1.8 0M211.3 652.9m-0.9 0a0.9 0.9 0 1 0 1.8 0a0.9 0.9 0 1 0 -1.8 0M211.2 654.2m-0.9 0a0.9 0.9 0 1 0 1.8 0a0.9 0.9 0 1 0 -1.8 0M211.3 655.2m-0.9 0a0.9 0.9 0 1 0 1.8 0a0.9 0.9 0 1 0 -1.8 0M211.0 656.4m-0.9 0a0.9 0.9 0 1 0 1.8 0a0.9 0.9 0 1 0 -1.8 0M210.5 657.4m-0.9 0a0.9 0.9 0 1 0 1.8 0a0.9 0.9 0 1 0 -1.8 0M210.9 658.7m-0.9 0a0.9 0.9 0 1 0 1.8 0a0.9 0.9 0 1 0 -1.8 0M210.7 659.8m-0.9 0a0.9 0.9 0 1 0 1.8 0a0.9 0.9 0 1 0 -1.8 0M210.3 660.9m-0.9 0a0.9 0.9 0 1 0 1.8 0a0.9 0.9 0 1 0 -1.8 0M210.1 661.9m-0.9 0a0.9 0.9 0 1 0 1.8 0a0.9 0.9 0 1 0 -1.8 0M209.6 663.2m-0.9 0a0.9 0.9 0 1 0 1.8 0a0.9 0.9 0 1 0 -1.8 0M209.0 664.4m-0.9 0a0.9 0.9 0 1 0 1.8 0a0.9 0.9 0 1 0 -1.8 0M208.9 665.4m-0.9 0a0.9 0.9 0 1 0 1.8 0a0.9 0.9 0 1 0 -1.8 0M209.0 666.3m-0.9 0a0.9 0.9 0 1 0 1.8 0a0.9 0.9 0 1 0 -1.8 0M208.0 667.5m-0.9 0a0.9 0.9 0 1 0 1.8 0a0.9 0.9 0 1 0 -1.8 0M207.4 668.3m-0.9 0a0.9 0.9 0 1 0 1.8 0a0.9 0.9 0 1 0 -1.8 0M207.3 669.4m-0.9 0a0.9 0.9 0 1 0 1.8 0a0.9 0.9 0 1 0 -1.8 0M206.8 670.4m-0.9 0a0.9 0.9 0 1 0 1.8 0a0.9 0.9 0 1 0 -1.8 0M206.6 671.5m-0.9 0a0.9 0.9 0 1 0 1.8 0a0.9 0.9 0 1 0 -1.8 0M206.0 672.4m-0.9 0a0.9 0.9 0 1 0 1.8 0a0.9 0.9 0 1 0 -1.8 0M205.4 673.2m-0.9 0a0.9 0.9 0 1 0 1.8 0a0.9 0.9 0 1 0 -1.8 0M205.2 674.3m-0.9 0a0.9 0.9 0 1 0 1.8 0a0.9 0.9 0 1 0 -1.8 0M204.9 675.6m-0.9 0a0.9 0.9 0 1 0 1.8 0a0.9 0.9 0 1 0 -1.8 0M204.5 676.6m-0.9 0a0.9 0.9 0 1 0 1.8 0a0.9 0.9 0 1 0 -1.8 0M204.6 678.0m-0.9 0a0.9 0.9 0 1 0 1.8 0a0.9 0.9 0 1 0 -1.8 0M204.5 679.2m-0.9 0a0.9 0.9 0 1 0 1.8 0a0.9 0.9 0 1 0 -1.8 0M204.6 680.5m-0.9 0a0.9 0.9 0 1 0 1.8 0a0.9 0.9 0 1 0 -1.8 0M205.2 681.6m-0.9 0a0.9 0.9 0 1 0 1.8 0a0.9 0.9 0 1 0 -1.8 0M205.2 683.0m-0.9 0a0.9 0.9 0 1 0 1.8 0a0.9 0.9 0 1 0 -1.8 0M205.6 684.1m-0.9 0a0.9 0.9 0 1 0 1.8 0a0.9 0.9 0 1 0 -1.8 0M205.9 685.6m-0.9 0a0.9 0.9 0 1 0 1.8 0a0.9 0.9 0 1 0 -1.8 0M206.3 686.5m-0.9 0a0.9 0.9 0 1 0 1.8 0a0.9 0.9 0 1 0 -1.8 0M206.3 687.5m-0.9 0a0.9 0.9 0 1 0 1.8 0a0.9 0.9 0 1 0 -1.8 0M207.3 688.5m-0.9 0a0.9 0.9 0 1 0 1.8 0a0.9 0.9 0 1 0 -1.8 0M207.6 689.7m-0.9 0a0.9 0.9 0 1 0 1.8 0a0.9 0.9 0 1 0 -1.8 0M208.1 690.6m-0.9 0a0.9 0.9 0 1 0 1.8 0a0.9 0.9 0 1 0 -1.8 0M233.7 684.4m-0.9 0a0.9 0.9 0 1 0 1.8 0a0.9 0.9 0 1 0 -1.8 0M234.7 684.9m-0.9 0a0.9 0.9 0 1 0 1.8 0a0.9 0.9 0 1 0 -1.8 0M236.0 685.5m-0.9 0a0.9 0.9 0 1 0 1.8 0a0.9 0.9 0 1 0 -1.8 0M236.9 686.2m-0.9 0a0.9 0.9 0 1 0 1.8 0a0.9 0.9 0 1 0 -1.8 0M237.4 687.6m-0.9 0a0.9 0.9 0 1 0 1.8 0a0.9 0.9 0 1 0 -1.8 0M238.0 688.4m-0.9 0a0.9 0.9 0 1 0 1.8 0a0.9 0.9 0 1 0 -1.8 0M238.9 689.3m-0.9 0a0.9 0.9 0 1 0 1.8 0a0.9 0.9 0 1 0 -1.8 0M239.5 690.5m-0.9 0a0.9 0.9 0 1 0 1.8 0a0.9 0.9 0 1 0 -1.8 0M239.5 691.7m-0.9 0a0.9 0.9 0 1 0 1.8 0a0.9 0.9 0 1 0 -1.8 0M239.1 693.2m-0.9 0a0.9 0.9 0 1 0 1.8 0a0.9 0.9 0 1 0 -1.8 0M239.4 694.3m-0.9 0a0.9 0.9 0 1 0 1.8 0a0.9 0.9 0 1 0 -1.8 0M239.4 695.6m-0.9 0a0.9 0.9 0 1 0 1.8 0a0.9 0.9 0 1 0 -1.8 0M238.8 696.6m-0.9 0a0.9 0.9 0 1 0 1.8 0a0.9 0.9 0 1 0 -1.8 0M238.4 697.9m-0.9 0a0.9 0.9 0 1 0 1.8 0a0.9 0.9 0 1 0 -1.8 0M238.1 699.3m-0.9 0a0.9 0.9 0 1 0 1.8 0a0.9 0.9 0 1 0 -1.8 0M238.2 700.6m-0.9 0a0.9 0.9 0 1 0 1.8 0a0.9 0.9 0 1 0 -1.8 0M238.0 701.7m-0.9 0a0.9 0.9 0 1 0 1.8 0a0.9 0.9 0 1 0 -1.8 0M237.6 702.8m-0.9 0a0.9 0.9 0 1 0 1.8 0a0.9 0.9 0 1 0 -1.8 0M237.1 703.8m-0.9 0a0.9 0.9 0 1 0 1.8 0a0.9 0.9 0 1 0 -1.8 0M236.9 705.0m-0.9 0a0.9 0.9 0 1 0 1.8 0a0.9 0.9 0 1 0 -1.8 0" fill="#0a0a0a"/>
<path d="M431.4 29V115" stroke="#555" stroke-width="1" stroke-dasharray="6.9 6.3" fill="none"/>
<path d="M471.6 29V115" stroke="#555" stroke-width="1" stroke-dasharray="6.9 6.3" fill="none"/>
<path d="M530.4 29V115" stroke="#555" stroke-width="1" stroke-dasharray="6.9 6.3" fill="none"/>
<path d="M589 29V115" stroke="#555" stroke-width="1" stroke-dasharray="6.9 6.3" fill="none"/>
<path d="M626.4 29V115" stroke="#555" stroke-width="1" stroke-dasharray="6.9 6.3" fill="none"/>
<rect x="389.2" y="28.1" width="289.1" height="87.1" fill="none" stroke="#000" stroke-width="1.3"/>
<line x1="389.2" y1="37.76" x2="393.2" y2="37.76" stroke="#000" stroke-width="1.2"/>
<text x="385.8" y="42.76" text-anchor="end">1.2</text>
<line x1="389.2" y1="57.12" x2="393.2" y2="57.12" stroke="#000" stroke-width="1.2"/>
<text x="385.8" y="62.12" text-anchor="end">1.0</text>
<line x1="389.2" y1="76.48" x2="393.2" y2="76.48" stroke="#000" stroke-width="1.2"/>
<text x="385.8" y="81.48" text-anchor="end">0.8</text>
<line x1="389.2" y1="95.84" x2="393.2" y2="95.84" stroke="#000" stroke-width="1.2"/>
<text x="385.8" y="100.84" text-anchor="end">0.6</text>
<text x="385.8" y="120.2" text-anchor="end">0.4</text>
<line x1="389.2" y1="47.44" x2="391.7" y2="47.44" stroke="#000" stroke-width="1.2"/>
<line x1="389.2" y1="66.8" x2="391.7" y2="66.8" stroke="#000" stroke-width="1.2"/>
<line x1="389.2" y1="86.16" x2="391.7" y2="86.16" stroke="#000" stroke-width="1.2"/>
<line x1="389.2" y1="105.52" x2="391.7" y2="105.52" stroke="#000" stroke-width="1.2"/>
<line x1="431.4" y1="115.2" x2="431.4" y2="112" stroke="#000" stroke-width="1.2"/>
<text x="431.4" y="131.3" text-anchor="middle">-2</text>
<line x1="471.6" y1="115.2" x2="471.6" y2="112" stroke="#000" stroke-width="1.2"/>
<text x="471.6" y="131.3" text-anchor="middle">-1</text>
<line x1="530.4" y1="115.2" x2="530.4" y2="112" stroke="#000" stroke-width="1.2"/>
<text x="530.4" y="131.3" text-anchor="middle">0</text>
<line x1="589" y1="115.2" x2="589" y2="112" stroke="#000" stroke-width="1.2"/>
<text x="589" y="131.3" text-anchor="middle">1</text>
<line x1="626.4" y1="115.2" x2="626.4" y2="112" stroke="#000" stroke-width="1.2"/>
<text x="626.4" y="131.3" text-anchor="middle">2</text>
<text x="503" y="22.9">H-stacked</text>
<text x="364.5" y="31.4" font-size="16">c</text>
<text x="364.5" y="137.6" font-size="16">d</text>
<text transform="translate(356.5 73.4) rotate(-90)" text-anchor="middle" font-size="13.5" textLength="70" lengthAdjust="spacingAndGlyphs">σ<tspan dy="-4.5" font-size="8.37">2</tspan><tspan dy="4.5">−σ</tspan><tspan dy="3" font-size="8.37">0</tspan><tspan dy="-7.5" font-size="8.37">2</tspan><tspan dy="4.5"> (μm</tspan><tspan dy="-4.5" font-size="8.37">2</tspan><tspan dy="4.5">)</tspan></text>
<g fill="none" stroke="#f010e0" stroke-linejoin="round" stroke-linecap="round"><path d="M390.1 107.9L391.4 107.1L392.7 107.3L394.1 106.6L395.4 106.5L396.7 105.9L398.1 105.4L399.5 105.2L401.1 105.0L402.6 104.4L404.0 103.2L405.5 103.7L406.9 102.9L408.4 102.8L409.8 101.7L411.2 101.4L412.6 101.6L413.8 100.4L415.1 99.9L416.4 99.5L417.5 99.5L418.5 99.5L420.1 99.6L421.5 100.0L423.0 100.0L424.4 99.2L425.8 100.3L427.4 101.2L428.4 101.9L429.4 102.2L431.0 102.8" stroke-width="1.9"/><path d="M390.1 107.9L391.4 107.1L392.7 107.3L394.1 106.6L395.4 106.5L396.7 105.9L398.1 105.4L399.5 105.2L401.1 105.0L402.6 104.4L404.0 103.2L405.5 103.7L406.9 102.9L408.4 102.8L409.8 101.7L411.2 101.4L412.6 101.6L413.8 100.4L415.1 99.9L416.4 99.5L417.5 99.5L418.5 99.5L420.1 99.6L421.5 100.0L423.0 100.0L424.4 99.2L425.8 100.3L427.4 101.2L428.4 101.9L429.4 102.2L431.0 102.8" stroke-width="2.9" stroke-dasharray="0 2.4" opacity="0.6"/><path d="M390.1 107.9L391.4 107.1L392.7 107.3L394.1 106.6L395.4 106.5L396.7 105.9L398.1 105.4L399.5 105.2L401.1 105.0L402.6 104.4L404.0 103.2L405.5 103.7L406.9 102.9L408.4 102.8L409.8 101.7L411.2 101.4L412.6 101.6L413.8 100.4L415.1 99.9L416.4 99.5L417.5 99.5L418.5 99.5L420.1 99.6L421.5 100.0L423.0 100.0L424.4 99.2L425.8 100.3L427.4 101.2L428.4 101.9L429.4 102.2L431.0 102.8" stroke="#fff" stroke-width="0.8" opacity="0.35"/></g>
<g fill="none" stroke="#2020e0" stroke-linejoin="round" stroke-linecap="round"><path d="M431.4 77.8L431.6 79.0L431.7 80.4L431.8 82.4L432.0 84.0L432.0 86.0L434.1 85.8L435.1 85.2L436.1 84.6L437.4 84.4L438.9 84.0L440.4 83.5L441.8 84.0L443.5 83.9L444.8 83.6L446.5 83.4L447.6 82.1L449.3 82.6L450.7 82.3L452.2 81.8L453.6 81.6L455.0 82.3L456.6 81.8L458.0 81.9L459.5 82.1L460.9 83.0L462.4 83.3L463.7 84.2L465.3 85.3L466.4 86.8L467.5 88.0L468.2 89.1L468.9 91.0L469.9 91.6L470.8 92.6" stroke-width="1.9"/><path d="M431.4 77.8L431.6 79.0L431.7 80.4L431.8 82.4L432.0 84.0L432.0 86.0L434.1 85.8L435.1 85.2L436.1 84.6L437.4 84.4L438.9 84.0L440.4 83.5L441.8 84.0L443.5 83.9L444.8 83.6L446.5 83.4L447.6 82.1L449.3 82.6L450.7 82.3L452.2 81.8L453.6 81.6L455.0 82.3L456.6 81.8L458.0 81.9L459.5 82.1L460.9 83.0L462.4 83.3L463.7 84.2L465.3 85.3L466.4 86.8L467.5 88.0L468.2 89.1L468.9 91.0L469.9 91.6L470.8 92.6" stroke-width="2.9" stroke-dasharray="0 2.4" opacity="0.6"/><path d="M431.4 77.8L431.6 79.0L431.7 80.4L431.8 82.4L432.0 84.0L432.0 86.0L434.1 85.8L435.1 85.2L436.1 84.6L437.4 84.4L438.9 84.0L440.4 83.5L441.8 84.0L443.5 83.9L444.8 83.6L446.5 83.4L447.6 82.1L449.3 82.6L450.7 82.3L452.2 81.8L453.6 81.6L455.0 82.3L456.6 81.8L458.0 81.9L459.5 82.1L460.9 83.0L462.4 83.3L463.7 84.2L465.3 85.3L466.4 86.8L467.5 88.0L468.2 89.1L468.9 91.0L469.9 91.6L470.8 92.6" stroke="#fff" stroke-width="0.8" opacity="0.35"/></g>
<g fill="none" stroke="#f01010" stroke-linejoin="round" stroke-linecap="round"><path d="M471.1 59.3L471.6 60.7L471.9 62.0L472.4 63.4L472.8 64.8L473.3 66.1L473.8 67.5L474.8 68.7L476.0 69.8L477.5 69.7L479.0 70.1L480.0 70.9L481.4 71.3L482.5 71.6L483.9 70.8L485.6 69.6L486.9 69.5L488.3 68.8L489.8 68.5L491.3 68.1L492.8 68.1L494.1 68.7L495.6 68.0L497.0 68.2L498.5 68.3L500.1 68.9L501.4 69.5L503.0 69.9L504.3 69.7L505.8 69.3L507.3 68.5L508.7 69.0L510.1 69.0L511.7 69.6L513.2 70.1L514.7 70.3L516.0 69.8L517.6 69.7L518.9 69.1L519.9 68.7L521.2 68.7L522.7 68.3L524.0 67.5L525.6 68.1L526.0 69.0L526.3 69.8L526.6 71.7L527.0 73.6L527.4 75.1L527.8 76.6L529.1 78.6L529.6 77.8L530.2 76.9L530.9 75.2L531.6 73.7L532.5 73.5L533.7 72.7L535.0 71.9L536.5 71.7L537.9 70.9L539.6 70.5L540.9 69.9L542.5 69.0L543.8 68.8L545.3 68.5L546.8 68.1L548.6 68.3L550.1 68.8L551.5 69.5L552.2 68.5L553.1 66.8L553.8 66.1L555.0 64.4L556.1 63.0L557.1 63.9L558.1 65.0L559.3 66.9L560.3 67.5L561.5 66.5L562.5 65.5L564.1 64.3L565.4 64.5L567.2 64.9L569.1 64.9L570.6 64.7L572.0 65.0L573.1 66.2L574.3 66.6L575.3 66.5L576.4 65.5L577.9 64.3L579.2 63.8L580.0 62.3L580.8 61.1L581.7 60.6L582.3 58.2L583.0 56.7L583.7 55.9L584.2 54.7L584.7 52.9L585.1 52.1L585.4 50.6L585.8 49.7L586.1 47.0L586.6 46.4L586.8 44.6L587.0 43.2L587.4 41.8L587.5 40.1L587.9 39.3L588.1 36.8L588.2 35.3L588.3 33.9L588.8 32.0" stroke-width="1.9"/><path d="M471.1 59.3L471.6 60.7L471.9 62.0L472.4 63.4L472.8 64.8L473.3 66.1L473.8 67.5L474.8 68.7L476.0 69.8L477.5 69.7L479.0 70.1L480.0 70.9L481.4 71.3L482.5 71.6L483.9 70.8L485.6 69.6L486.9 69.5L488.3 68.8L489.8 68.5L491.3 68.1L492.8 68.1L494.1 68.7L495.6 68.0L497.0 68.2L498.5 68.3L500.1 68.9L501.4 69.5L503.0 69.9L504.3 69.7L505.8 69.3L507.3 68.5L508.7 69.0L510.1 69.0L511.7 69.6L513.2 70.1L514.7 70.3L516.0 69.8L517.6 69.7L518.9 69.1L519.9 68.7L521.2 68.7L522.7 68.3L524.0 67.5L525.6 68.1L526.0 69.0L526.3 69.8L526.6 71.7L527.0 73.6L527.4 75.1L527.8 76.6L529.1 78.6L529.6 77.8L530.2 76.9L530.9 75.2L531.6 73.7L532.5 73.5L533.7 72.7L535.0 71.9L536.5 71.7L537.9 70.9L539.6 70.5L540.9 69.9L542.5 69.0L543.8 68.8L545.3 68.5L546.8 68.1L548.6 68.3L550.1 68.8L551.5 69.5L552.2 68.5L553.1 66.8L553.8 66.1L555.0 64.4L556.1 63.0L557.1 63.9L558.1 65.0L559.3 66.9L560.3 67.5L561.5 66.5L562.5 65.5L564.1 64.3L565.4 64.5L567.2 64.9L569.1 64.9L570.6 64.7L572.0 65.0L573.1 66.2L574.3 66.6L575.3 66.5L576.4 65.5L577.9 64.3L579.2 63.8L580.0 62.3L580.8 61.1L581.7 60.6L582.3 58.2L583.0 56.7L583.7 55.9L584.2 54.7L584.7 52.9L585.1 52.1L585.4 50.6L585.8 49.7L586.1 47.0L586.6 46.4L586.8 44.6L587.0 43.2L587.4 41.8L587.5 40.1L587.9 39.3L588.1 36.8L588.2 35.3L588.3 33.9L588.8 32.0" stroke-width="2.9" stroke-dasharray="0 2.4" opacity="0.6"/><path d="M471.1 59.3L471.6 60.7L471.9 62.0L472.4 63.4L472.8 64.8L473.3 66.1L473.8 67.5L474.8 68.7L476.0 69.8L477.5 69.7L479.0 70.1L480.0 70.9L481.4 71.3L482.5 71.6L483.9 70.8L485.6 69.6L486.9 69.5L488.3 68.8L489.8 68.5L491.3 68.1L492.8 68.1L494.1 68.7L495.6 68.0L497.0 68.2L498.5 68.3L500.1 68.9L501.4 69.5L503.0 69.9L504.3 69.7L505.8 69.3L507.3 68.5L508.7 69.0L510.1 69.0L511.7 69.6L513.2 70.1L514.7 70.3L516.0 69.8L517.6 69.7L518.9 69.1L519.9 68.7L521.2 68.7L522.7 68.3L524.0 67.5L525.6 68.1L526.0 69.0L526.3 69.8L526.6 71.7L527.0 73.6L527.4 75.1L527.8 76.6L529.1 78.6L529.6 77.8L530.2 76.9L530.9 75.2L531.6 73.7L532.5 73.5L533.7 72.7L535.0 71.9L536.5 71.7L537.9 70.9L539.6 70.5L540.9 69.9L542.5 69.0L543.8 68.8L545.3 68.5L546.8 68.1L548.6 68.3L550.1 68.8L551.5 69.5L552.2 68.5L553.1 66.8L553.8 66.1L555.0 64.4L556.1 63.0L557.1 63.9L558.1 65.0L559.3 66.9L560.3 67.5L561.5 66.5L562.5 65.5L564.1 64.3L565.4 64.5L567.2 64.9L569.1 64.9L570.6 64.7L572.0 65.0L573.1 66.2L574.3 66.6L575.3 66.5L576.4 65.5L577.9 64.3L579.2 63.8L580.0 62.3L580.8 61.1L581.7 60.6L582.3 58.2L583.0 56.7L583.7 55.9L584.2 54.7L584.7 52.9L585.1 52.1L585.4 50.6L585.8 49.7L586.1 47.0L586.6 46.4L586.8 44.6L587.0 43.2L587.4 41.8L587.5 40.1L587.9 39.3L588.1 36.8L588.2 35.3L588.3 33.9L588.8 32.0" stroke="#fff" stroke-width="0.8" opacity="0.35"/></g>
<g fill="none" stroke="#2020e0" stroke-linejoin="round" stroke-linecap="round"><path d="M589.5 100.2L590.2 99.0L591.0 96.9L592.0 96.0L593.1 95.9L594.6 94.8L596.1 93.9L597.2 93.3L598.6 93.6L599.6 92.6L600.9 92.7L602.2 92.2L603.4 91.1L604.8 91.3L606.3 90.1L607.9 90.1L609.7 90.6L611.4 89.8L609.6 90.4L608.3 90.7L606.6 91.4L605.0 91.6L606.3 91.0L607.6 90.6L608.8 90.0L610.1 90.3L611.4 90.4L612.6 89.9L614.0 90.6L615.2 91.8L616.5 90.9L617.8 90.7L618.7 90.5L619.8 90.5L620.6 90.5L621.7 91.9L623.5 93.0L624.0 91.1L624.4 90.1L624.8 88.7L625.2 87.7L625.7 86.5L626.0 84.1L626.7 82.5" stroke-width="1.9"/><path d="M589.5 100.2L590.2 99.0L591.0 96.9L592.0 96.0L593.1 95.9L594.6 94.8L596.1 93.9L597.2 93.3L598.6 93.6L599.6 92.6L600.9 92.7L602.2 92.2L603.4 91.1L604.8 91.3L606.3 90.1L607.9 90.1L609.7 90.6L611.4 89.8L609.6 90.4L608.3 90.7L606.6 91.4L605.0 91.6L606.3 91.0L607.6 90.6L608.8 90.0L610.1 90.3L611.4 90.4L612.6 89.9L614.0 90.6L615.2 91.8L616.5 90.9L617.8 90.7L618.7 90.5L619.8 90.5L620.6 90.5L621.7 91.9L623.5 93.0L624.0 91.1L624.4 90.1L624.8 88.7L625.2 87.7L625.7 86.5L626.0 84.1L626.7 82.5" stroke-width="2.9" stroke-dasharray="0 2.4" opacity="0.6"/><path d="M589.5 100.2L590.2 99.0L591.0 96.9L592.0 96.0L593.1 95.9L594.6 94.8L596.1 93.9L597.2 93.3L598.6 93.6L599.6 92.6L600.9 92.7L602.2 92.2L603.4 91.1L604.8 91.3L606.3 90.1L607.9 90.1L609.7 90.6L611.4 89.8L609.6 90.4L608.3 90.7L606.6 91.4L605.0 91.6L606.3 91.0L607.6 90.6L608.8 90.0L610.1 90.3L611.4 90.4L612.6 89.9L614.0 90.6L615.2 91.8L616.5 90.9L617.8 90.7L618.7 90.5L619.8 90.5L620.6 90.5L621.7 91.9L623.5 93.0L624.0 91.1L624.4 90.1L624.8 88.7L625.2 87.7L625.7 86.5L626.0 84.1L626.7 82.5" stroke="#fff" stroke-width="0.8" opacity="0.35"/></g>
<g fill="none" stroke="#f010e0" stroke-linejoin="round" stroke-linecap="round"><path d="M627.4 81.2L628.3 81.4L629.1 81.8L629.8 81.4L629.9 80.1L630.7 79.6L631.7 77.4L632.4 76.5L634.4 77.9L634.9 76.7L635.5 75.8L636.8 77.0L637.6 79.3L638.2 78.2L638.9 76.6L639.8 75.4L641.0 73.5L641.6 74.8L642.0 77.7L642.6 76.3L643.5 75.0L643.7 74.0L645.0 74.6L645.6 75.5L645.9 76.6L646.9 78.6L647.3 79.1L649.0 80.3L650.1 80.6L650.9 81.5L651.5 79.8L652.4 77.7L653.0 76.9L653.0 78.1L653.6 80.4L654.3 82.3L654.8 82.3L655.5 84.6L656.2 85.1L657.9 85.4L658.7 85.6L659.9 87.3L660.2 86.4L660.8 83.9L661.1 83.1L661.8 84.9L662.4 85.9L663.4 87.1L664.6 87.1L665.4 87.0L666.6 87.7L667.8 88.5L668.9 87.3L670.3 87.7L671.2 87.2L671.9 86.2L673.3 86.5L673.7 88.7L674.7 89.5L675.3 90.5L675.5 89.4L675.9 87.8L676.1 86.6L676.4 84.2L676.6 85.5L677.1 87.2L677.2 88.9" stroke-width="1.9"/><path d="M627.4 81.2L628.3 81.4L629.1 81.8L629.8 81.4L629.9 80.1L630.7 79.6L631.7 77.4L632.4 76.5L634.4 77.9L634.9 76.7L635.5 75.8L636.8 77.0L637.6 79.3L638.2 78.2L638.9 76.6L639.8 75.4L641.0 73.5L641.6 74.8L642.0 77.7L642.6 76.3L643.5 75.0L643.7 74.0L645.0 74.6L645.6 75.5L645.9 76.6L646.9 78.6L647.3 79.1L649.0 80.3L650.1 80.6L650.9 81.5L651.5 79.8L652.4 77.7L653.0 76.9L653.0 78.1L653.6 80.4L654.3 82.3L654.8 82.3L655.5 84.6L656.2 85.1L657.9 85.4L658.7 85.6L659.9 87.3L660.2 86.4L660.8 83.9L661.1 83.1L661.8 84.9L662.4 85.9L663.4 87.1L664.6 87.1L665.4 87.0L666.6 87.7L667.8 88.5L668.9 87.3L670.3 87.7L671.2 87.2L671.9 86.2L673.3 86.5L673.7 88.7L674.7 89.5L675.3 90.5L675.5 89.4L675.9 87.8L676.1 86.6L676.4 84.2L676.6 85.5L677.1 87.2L677.2 88.9" stroke-width="2.9" stroke-dasharray="0 2.4" opacity="0.6"/><path d="M627.4 81.2L628.3 81.4L629.1 81.8L629.8 81.4L629.9 80.1L630.7 79.6L631.7 77.4L632.4 76.5L634.4 77.9L634.9 76.7L635.5 75.8L636.8 77.0L637.6 79.3L638.2 78.2L638.9 76.6L639.8 75.4L641.0 73.5L641.6 74.8L642.0 77.7L642.6 76.3L643.5 75.0L643.7 74.0L645.0 74.6L645.6 75.5L645.9 76.6L646.9 78.6L647.3 79.1L649.0 80.3L650.1 80.6L650.9 81.5L651.5 79.8L652.4 77.7L653.0 76.9L653.0 78.1L653.6 80.4L654.3 82.3L654.8 82.3L655.5 84.6L656.2 85.1L657.9 85.4L658.7 85.6L659.9 87.3L660.2 86.4L660.8 83.9L661.1 83.1L661.8 84.9L662.4 85.9L663.4 87.1L664.6 87.1L665.4 87.0L666.6 87.7L667.8 88.5L668.9 87.3L670.3 87.7L671.2 87.2L671.9 86.2L673.3 86.5L673.7 88.7L674.7 89.5L675.3 90.5L675.5 89.4L675.9 87.8L676.1 86.6L676.4 84.2L676.6 85.5L677.1 87.2L677.2 88.9" stroke="#fff" stroke-width="0.8" opacity="0.35"/></g>
<path d="M423.9 154.1V322" stroke="#555" stroke-width="1" stroke-dasharray="6.9 6.3" fill="none"/>
<path d="M464.4 154.1V322" stroke="#555" stroke-width="1" stroke-dasharray="6.9 6.3" fill="none"/>
<path d="M532.1 154.1V322" stroke="#555" stroke-width="1" stroke-dasharray="6.9 6.3" fill="none"/>
<path d="M605.1 154.1V322" stroke="#555" stroke-width="1" stroke-dasharray="6.9 6.3" fill="none"/>
<path d="M640.3 154.1V322" stroke="#555" stroke-width="1" stroke-dasharray="6.9 6.3" fill="none"/>
<path d="M389.2 216V149.9H678V216" fill="none" stroke="#222" stroke-width="1.3"/>
<path d="M389.2 216V322.8H678V216" fill="none" stroke="#222" stroke-width="1.3"/>
<path d="M385 215.4L393.4 211.8L393.4 214.8L385 218.4Z" fill="#fff"/><path d="M385 215.4L393.4 211.8M385 218.4L393.4 214.8" stroke="#111" stroke-width="1" fill="none"/><path d="M671.3 215.1L686 211.7L686 214.7L671.3 218.1Z" fill="#fff"/><path d="M671.3 215.1L686 211.7M671.3 218.1L686 214.7" stroke="#111" stroke-width="1" fill="none"/>
<text x="385.8" y="154.9" text-anchor="end">1.3</text>
<line x1="389.2" y1="192" x2="393.2" y2="192" stroke="#222" stroke-width="1.2"/>
<text x="385.8" y="197" text-anchor="end">1.2</text>
<line x1="389.2" y1="259.3" x2="393.2" y2="259.3" stroke="#222" stroke-width="1.2"/>
<text x="385.8" y="264.3" text-anchor="end">0.9</text>
<line x1="389.2" y1="301.5" x2="393.2" y2="301.5" stroke="#222" stroke-width="1.2"/>
<text x="385.8" y="306.5" text-anchor="end">0.8</text>
<line x1="389.2" y1="171" x2="391.7" y2="171" stroke="#222" stroke-width="1.2"/>
<line x1="389.2" y1="238.2" x2="391.7" y2="238.2" stroke="#222" stroke-width="1.2"/>
<line x1="389.2" y1="280.4" x2="391.7" y2="280.4" stroke="#222" stroke-width="1.2"/>
<line x1="423.9" y1="322.8" x2="423.9" y2="319.3" stroke="#222" stroke-width="1.2"/>
<text x="423.9" y="339.4" text-anchor="middle">-2/3</text>
<line x1="464.4" y1="322.8" x2="464.4" y2="319.3" stroke="#222" stroke-width="1.2"/>
<text x="464.4" y="339.4" text-anchor="middle">-1/3</text>
<line x1="532.1" y1="322.8" x2="532.1" y2="319.3" stroke="#222" stroke-width="1.2"/>
<text x="532.1" y="339.4" text-anchor="middle">0</text>
<line x1="605.1" y1="322.8" x2="605.1" y2="319.3" stroke="#222" stroke-width="1.2"/>
<text x="605.1" y="339.4" text-anchor="middle">1/3</text>
<line x1="640.3" y1="322.8" x2="640.3" y2="319.3" stroke="#222" stroke-width="1.2"/>
<text x="640.3" y="339.4" text-anchor="middle">2/3</text>
<text x="495.2" y="354.5">Filling factor</text>
<text transform="translate(356.5 233) rotate(-90)" text-anchor="middle" font-size="13.5" textLength="74" lengthAdjust="spacingAndGlyphs">σ<tspan dy="-4.5" font-size="8.37">2</tspan><tspan dy="4.5">−σ</tspan><tspan dy="3" font-size="8.37">0</tspan><tspan dy="-7.5" font-size="8.37">2</tspan><tspan dy="4.5"> (μm</tspan><tspan dy="-4.5" font-size="8.37">2</tspan><tspan dy="4.5">)</tspan></text>
<path d="M471.6 114.5L392.722 147.412" stroke="#6c6c6c" stroke-width="1.8" stroke-dasharray="8 4.6" fill="none"/><path d="M385.8 150.3L391.566 144.643L393.877 150.181Z" fill="#6c6c6c"/>
<path d="M589 114.5L671.331 147.229" stroke="#6c6c6c" stroke-width="1.8" stroke-dasharray="8 4.6" fill="none"/><path d="M678.3 150L670.222 150.017L672.439 144.442Z" fill="#6c6c6c"/>
<path d="M587.5 300.7V283" stroke="#000" stroke-width="1.6"/><path d="M587.5 277.2l-3.3 8.6h6.6z" fill="#000"/>
<g fill="none" stroke="#f01010" stroke-linejoin="round" stroke-linecap="round"><path d="M388.7 224.4L389.1 226.0L389.3 228.4L389.8 230.1L390.1 231.7L390.3 233.6L390.7 235.6L390.9 237.4L391.2 239.3L391.5 241.1L391.7 242.5L391.9 244.8L392.1 246.9L392.3 248.5L392.4 250.7L392.6 252.1L392.7 254.7L392.9 256.2L393.1 258.5L393.3 260.4L393.5 262.2L394.3 264.5L395.1 266.5L396.3 268.2L397.5 270.6L399.3 272.3L401.0 273.8L403.0 274.7L405.2 275.6L406.8 276.2L408.6 277.1L410.4 277.4L412.3 277.4L414.5 276.5L416.1 277.3L417.9 278.2L419.6 278.2L421.3 278.4L422.5 277.2L423.7 275.3L424.7 272.9L425.8 271.0L427.2 270.3L428.8 269.9L430.4 269.1L432.1 269.1L433.8 268.7L435.4 268.0L437.2 268.0L438.9 267.2L440.5 268.1L442.3 268.4L443.8 267.7L445.7 267.3L447.3 266.8L449.4 266.0L451.4 264.9L453.5 264.7L455.7 264.6L457.4 265.2L459.0 266.0L459.9 267.7L460.7 268.8L461.7 270.2L464.2 271.5L465.3 272.3L466.6 272.9L467.8 272.1L469.3 271.3L470.9 271.2L472.5 270.6L474.2 269.4L475.8 268.5L477.5 267.8L479.2 267.1L480.5 266.2L481.7 265.2L482.5 266.8L483.4 268.2L484.2 269.9L485.8 271.4L486.9 272.7L488.5 273.5L490.1 273.6L491.8 273.8L493.6 273.7L495.5 273.5L497.5 273.3L499.3 273.2L501.1 272.0L502.7 271.1L504.5 270.3L507.0 270.9L508.2 269.5L509.2 268.7L510.3 267.3L511.5 265.9L512.9 264.8L515.0 264.5L517.0 264.0L519.6 263.5L520.5 265.8L521.2 267.5L522.2 269.9L522.3 271.5L522.5 273.5L522.7 275.6L523.1 277.6L523.2 279.4L523.5 281.2L523.6 283.4L524.0 285.2L524.1 287.0L524.3 289.4L524.6 291.1L524.8 293.3L525.0 295.4L525.2 297.6L525.5 299.6L525.7 301.6L525.9 303.7L526.2 305.4L526.3 307.6L527.8 309.3L529.3 310.9L530.3 308.9L531.3 307.1L531.8 305.1L532.2 302.6L532.7 300.5L533.2 298.5L533.6 296.3L534.2 294.4L534.6 292.6L535.6 291.2L536.4 289.1L537.3 287.7L538.6 286.1L539.7 285.2L541.0 286.9L541.9 287.9L542.7 286.0L543.3 284.3L544.0 282.3L545.2 281.5L546.5 280.6L547.8 281.5L549.1 282.6L549.9 280.9L550.7 278.7L551.5 276.5L554.2 275.4L555.8 274.2L557.5 272.7L559.2 272.2L560.8 271.5L562.4 270.8L564.2 269.9L565.9 267.7L567.6 266.3L569.4 265.8L571.1 265.6L572.8 265.2L574.8 264.2L576.4 263.7L578.2 263.2L579.5 264.4L580.8 265.4L581.7 267.4L582.5 270.3L583.9 271.3L585.1 273.0L586.3 272.1L587.8 270.0L588.0 267.9L588.3 265.7L588.5 263.5L588.8 261.8L589.0 259.9L589.3 257.9L589.6 255.6L590.1 254.0L590.6 251.9L591.3 249.9L591.6 247.8L592.1 245.5L593.6 244.9L595.2 243.2L596.2 244.8L597.3 246.0L598.4 247.8L599.3 249.6L600.0 251.5L601.0 253.3L601.6 254.9L602.3 256.6L602.8 258.3L603.6 259.9L604.4 261.5L605.3 262.8L605.9 261.3L606.5 259.5L607.0 257.4L607.9 255.8L608.9 254.3L609.6 252.3L611.4 251.0L613.1 249.6L614.9 249.6L616.7 249.7L619.0 250.7L621.0 252.1L623.2 252.0L625.4 251.8L627.6 251.3L629.8 250.3L632.4 252.1L633.4 253.4L634.2 254.9L635.1 256.5L636.7 258.1L638.5 258.7L640.6 257.6L641.5 255.8L642.2 254.4L642.9 252.7L644.7 251.2L646.5 249.7L648.3 248.2L649.9 246.8L651.2 245.7L652.6 243.8L653.3 241.3L653.9 240.1L654.5 238.5L655.4 236.6L655.8 234.8L656.6 233.0L657.2 231.3L657.8 229.4L658.5 227.8L659.2 225.9L659.9 224.0L660.6 222.7L661.2 220.6L662.0 218.9L662.8 216.9" stroke-width="1.2"/><path d="M388.7 224.4L389.1 226.0L389.3 228.4L389.8 230.1L390.1 231.7L390.3 233.6L390.7 235.6L390.9 237.4L391.2 239.3L391.5 241.1L391.7 242.5L391.9 244.8L392.1 246.9L392.3 248.5L392.4 250.7L392.6 252.1L392.7 254.7L392.9 256.2L393.1 258.5L393.3 260.4L393.5 262.2L394.3 264.5L395.1 266.5L396.3 268.2L397.5 270.6L399.3 272.3L401.0 273.8L403.0 274.7L405.2 275.6L406.8 276.2L408.6 277.1L410.4 277.4L412.3 277.4L414.5 276.5L416.1 277.3L417.9 278.2L419.6 278.2L421.3 278.4L422.5 277.2L423.7 275.3L424.7 272.9L425.8 271.0L427.2 270.3L428.8 269.9L430.4 269.1L432.1 269.1L433.8 268.7L435.4 268.0L437.2 268.0L438.9 267.2L440.5 268.1L442.3 268.4L443.8 267.7L445.7 267.3L447.3 266.8L449.4 266.0L451.4 264.9L453.5 264.7L455.7 264.6L457.4 265.2L459.0 266.0L459.9 267.7L460.7 268.8L461.7 270.2L464.2 271.5L465.3 272.3L466.6 272.9L467.8 272.1L469.3 271.3L470.9 271.2L472.5 270.6L474.2 269.4L475.8 268.5L477.5 267.8L479.2 267.1L480.5 266.2L481.7 265.2L482.5 266.8L483.4 268.2L484.2 269.9L485.8 271.4L486.9 272.7L488.5 273.5L490.1 273.6L491.8 273.8L493.6 273.7L495.5 273.5L497.5 273.3L499.3 273.2L501.1 272.0L502.7 271.1L504.5 270.3L507.0 270.9L508.2 269.5L509.2 268.7L510.3 267.3L511.5 265.9L512.9 264.8L515.0 264.5L517.0 264.0L519.6 263.5L520.5 265.8L521.2 267.5L522.2 269.9L522.3 271.5L522.5 273.5L522.7 275.6L523.1 277.6L523.2 279.4L523.5 281.2L523.6 283.4L524.0 285.2L524.1 287.0L524.3 289.4L524.6 291.1L524.8 293.3L525.0 295.4L525.2 297.6L525.5 299.6L525.7 301.6L525.9 303.7L526.2 305.4L526.3 307.6L527.8 309.3L529.3 310.9L530.3 308.9L531.3 307.1L531.8 305.1L532.2 302.6L532.7 300.5L533.2 298.5L533.6 296.3L534.2 294.4L534.6 292.6L535.6 291.2L536.4 289.1L537.3 287.7L538.6 286.1L539.7 285.2L541.0 286.9L541.9 287.9L542.7 286.0L543.3 284.3L544.0 282.3L545.2 281.5L546.5 280.6L547.8 281.5L549.1 282.6L549.9 280.9L550.7 278.7L551.5 276.5L554.2 275.4L555.8 274.2L557.5 272.7L559.2 272.2L560.8 271.5L562.4 270.8L564.2 269.9L565.9 267.7L567.6 266.3L569.4 265.8L571.1 265.6L572.8 265.2L574.8 264.2L576.4 263.7L578.2 263.2L579.5 264.4L580.8 265.4L581.7 267.4L582.5 270.3L583.9 271.3L585.1 273.0L586.3 272.1L587.8 270.0L588.0 267.9L588.3 265.7L588.5 263.5L588.8 261.8L589.0 259.9L589.3 257.9L589.6 255.6L590.1 254.0L590.6 251.9L591.3 249.9L591.6 247.8L592.1 245.5L593.6 244.9L595.2 243.2L596.2 244.8L597.3 246.0L598.4 247.8L599.3 249.6L600.0 251.5L601.0 253.3L601.6 254.9L602.3 256.6L602.8 258.3L603.6 259.9L604.4 261.5L605.3 262.8L605.9 261.3L606.5 259.5L607.0 257.4L607.9 255.8L608.9 254.3L609.6 252.3L611.4 251.0L613.1 249.6L614.9 249.6L616.7 249.7L619.0 250.7L621.0 252.1L623.2 252.0L625.4 251.8L627.6 251.3L629.8 250.3L632.4 252.1L633.4 253.4L634.2 254.9L635.1 256.5L636.7 258.1L638.5 258.7L640.6 257.6L641.5 255.8L642.2 254.4L642.9 252.7L644.7 251.2L646.5 249.7L648.3 248.2L649.9 246.8L651.2 245.7L652.6 243.8L653.3 241.3L653.9 240.1L654.5 238.5L655.4 236.6L655.8 234.8L656.6 233.0L657.2 231.3L657.8 229.4L658.5 227.8L659.2 225.9L659.9 224.0L660.6 222.7L661.2 220.6L662.0 218.9L662.8 216.9" stroke-width="2" stroke-dasharray="0 3.2" opacity="0.6"/></g>
<g fill="none" stroke="#f01010" stroke-linejoin="round" stroke-linecap="round"><path d="M670.4 213.0L670.5 211.2L670.6 209.2L670.6 206.9L670.8 205.0L670.9 203.4L671.1 201.3L671.1 199.4L671.1 197.3L671.4 195.5L671.4 193.2L671.5 191.4L671.6 189.6L671.7 187.7L671.8 185.3L672.0 183.3L672.0 181.9L672.1 179.6L672.2 178.1L672.4 175.7L672.4 173.7L672.4 171.9L672.6 169.9L672.7 167.9L673.9 170.9L676.2 171.3" stroke-width="1.2"/><path d="M670.4 213.0L670.5 211.2L670.6 209.2L670.6 206.9L670.8 205.0L670.9 203.4L671.1 201.3L671.1 199.4L671.1 197.3L671.4 195.5L671.4 193.2L671.5 191.4L671.6 189.6L671.7 187.7L671.8 185.3L672.0 183.3L672.0 181.9L672.1 179.6L672.2 178.1L672.4 175.7L672.4 173.7L672.4 171.9L672.6 169.9L672.7 167.9L673.9 170.9L676.2 171.3" stroke-width="2" stroke-dasharray="0 3.2" opacity="0.6"/></g>
<path d="M408.9 412V496" stroke="#555" stroke-width="1" stroke-dasharray="6.9 6.3" fill="none"/>
<path d="M463.8 412V496" stroke="#555" stroke-width="1" stroke-dasharray="6.9 6.3" fill="none"/>
<path d="M536.2 412V496" stroke="#555" stroke-width="1" stroke-dasharray="6.9 6.3" fill="none"/>
<path d="M595.6 412V496" stroke="#555" stroke-width="1" stroke-dasharray="6.9 6.3" fill="none"/>
<path d="M650.5 412V496" stroke="#555" stroke-width="1" stroke-dasharray="6.9 6.3" fill="none"/>
<rect x="389" y="411" width="288.3" height="85.8" fill="none" stroke="#000" stroke-width="1.3"/>
<line x1="389" y1="424.5" x2="393" y2="424.5" stroke="#000" stroke-width="1.2"/>
<text x="385.8" y="429.5" text-anchor="end">1.2</text>
<line x1="389" y1="451.9" x2="393" y2="451.9" stroke="#000" stroke-width="1.2"/>
<text x="385.8" y="456.9" text-anchor="end">1.0</text>
<line x1="389" y1="479.3" x2="393" y2="479.3" stroke="#000" stroke-width="1.2"/>
<text x="385.8" y="484.3" text-anchor="end">0.8</text>
<line x1="389" y1="438.2" x2="391.5" y2="438.2" stroke="#000" stroke-width="1.2"/>
<line x1="389" y1="465.6" x2="391.5" y2="465.6" stroke="#000" stroke-width="1.2"/>
<line x1="389" y1="493" x2="391.5" y2="493" stroke="#000" stroke-width="1.2"/>
<line x1="408.9" y1="496.8" x2="408.9" y2="493.3" stroke="#000" stroke-width="1.2"/>
<text x="408.9" y="512.8" text-anchor="middle">−2</text>
<line x1="463.8" y1="496.8" x2="463.8" y2="493.3" stroke="#000" stroke-width="1.2"/>
<text x="463.8" y="512.8" text-anchor="middle">−1</text>
<line x1="536.2" y1="496.8" x2="536.2" y2="493.3" stroke="#000" stroke-width="1.2"/>
<text x="536.2" y="512.8" text-anchor="middle">0</text>
<line x1="595.6" y1="496.8" x2="595.6" y2="493.3" stroke="#000" stroke-width="1.2"/>
<text x="595.6" y="512.8" text-anchor="middle">1</text>
<line x1="650.5" y1="496.8" x2="650.5" y2="493.3" stroke="#000" stroke-width="1.2"/>
<text x="650.5" y="512.8" text-anchor="middle">2</text>
<text x="503.8" y="405.4">R-stacked</text>
<text x="364.5" y="416.6" font-size="16">e</text>
<text x="366" y="518.6" font-size="16">f</text>
<text transform="translate(356.5 452) rotate(-90)" text-anchor="middle" font-size="13.5" textLength="72" lengthAdjust="spacingAndGlyphs">σ<tspan dy="-4.5" font-size="8.37">2</tspan><tspan dy="4.5">−σ</tspan><tspan dy="3" font-size="8.37">0</tspan><tspan dy="-7.5" font-size="8.37">2</tspan><tspan dy="4.5"> (μm</tspan><tspan dy="-4.5" font-size="8.37">2</tspan><tspan dy="4.5">)</tspan></text>
<g fill="none" stroke="#f010e0" stroke-linejoin="round" stroke-linecap="round"><path d="M389.1 492.6L389.8 492.3L390.4 490.3L392.1 490.0L392.8 490.8L393.8 490.6L395.0 489.9L395.7 488.1L397.3 487.8L398.8 485.9L399.7 485.4L400.3 484.7L401.6 483.0L402.8 481.4L403.3 481.1L404.7 478.5L405.3 477.2L405.9 476.4L406.6 474.7L407.6 473.3L408.4 472.2" stroke-width="1.9"/><path d="M389.1 492.6L389.8 492.3L390.4 490.3L392.1 490.0L392.8 490.8L393.8 490.6L395.0 489.9L395.7 488.1L397.3 487.8L398.8 485.9L399.7 485.4L400.3 484.7L401.6 483.0L402.8 481.4L403.3 481.1L404.7 478.5L405.3 477.2L405.9 476.4L406.6 474.7L407.6 473.3L408.4 472.2" stroke-width="3" stroke-dasharray="0 2.4" opacity="0.6"/><path d="M389.1 492.6L389.8 492.3L390.4 490.3L392.1 490.0L392.8 490.8L393.8 490.6L395.0 489.9L395.7 488.1L397.3 487.8L398.8 485.9L399.7 485.4L400.3 484.7L401.6 483.0L402.8 481.4L403.3 481.1L404.7 478.5L405.3 477.2L405.9 476.4L406.6 474.7L407.6 473.3L408.4 472.2" stroke="#fff" stroke-width="0.8" opacity="0.35"/></g>
<g fill="none" stroke="#2020e0" stroke-linejoin="round" stroke-linecap="round"><path d="M402.2 469.2L402.8 469.9L403.4 471.2L404.3 474.3L405.1 474.2L406.7 474.9L408.1 476.5L409.1 476.6L410.1 475.9L411.7 474.2L412.2 471.3L414.1 470.1L415.7 469.2L416.7 469.8L418.1 468.3L419.3 470.4L420.1 471.4L421.8 470.6L423.2 469.7L424.9 471.0L426.4 472.6L427.5 472.6L429.0 474.0L430.4 475.5L431.0 474.6L432.6 475.4L433.7 476.9L435.0 477.3L435.9 476.0L437.4 477.4L440.2 476.2L441.3 476.8L441.8 478.5L443.8 478.6L444.6 479.5L445.7 477.6L446.5 477.1L447.8 476.1L448.7 473.0L449.6 475.0L451.8 477.2L452.8 474.4L453.3 474.8L454.0 471.6L454.9 470.5L457.0 470.8L457.8 470.2L458.9 468.8L460.4 465.2L461.6 464.9" stroke-width="1.9"/><path d="M402.2 469.2L402.8 469.9L403.4 471.2L404.3 474.3L405.1 474.2L406.7 474.9L408.1 476.5L409.1 476.6L410.1 475.9L411.7 474.2L412.2 471.3L414.1 470.1L415.7 469.2L416.7 469.8L418.1 468.3L419.3 470.4L420.1 471.4L421.8 470.6L423.2 469.7L424.9 471.0L426.4 472.6L427.5 472.6L429.0 474.0L430.4 475.5L431.0 474.6L432.6 475.4L433.7 476.9L435.0 477.3L435.9 476.0L437.4 477.4L440.2 476.2L441.3 476.8L441.8 478.5L443.8 478.6L444.6 479.5L445.7 477.6L446.5 477.1L447.8 476.1L448.7 473.0L449.6 475.0L451.8 477.2L452.8 474.4L453.3 474.8L454.0 471.6L454.9 470.5L457.0 470.8L457.8 470.2L458.9 468.8L460.4 465.2L461.6 464.9" stroke-width="3" stroke-dasharray="0 2.4" opacity="0.6"/><path d="M402.2 469.2L402.8 469.9L403.4 471.2L404.3 474.3L405.1 474.2L406.7 474.9L408.1 476.5L409.1 476.6L410.1 475.9L411.7 474.2L412.2 471.3L414.1 470.1L415.7 469.2L416.7 469.8L418.1 468.3L419.3 470.4L420.1 471.4L421.8 470.6L423.2 469.7L424.9 471.0L426.4 472.6L427.5 472.6L429.0 474.0L430.4 475.5L431.0 474.6L432.6 475.4L433.7 476.9L435.0 477.3L435.9 476.0L437.4 477.4L440.2 476.2L441.3 476.8L441.8 478.5L443.8 478.6L444.6 479.5L445.7 477.6L446.5 477.1L447.8 476.1L448.7 473.0L449.6 475.0L451.8 477.2L452.8 474.4L453.3 474.8L454.0 471.6L454.9 470.5L457.0 470.8L457.8 470.2L458.9 468.8L460.4 465.2L461.6 464.9" stroke="#fff" stroke-width="0.8" opacity="0.35"/></g>
<g fill="none" stroke="#f01010" stroke-linejoin="round" stroke-linecap="round"><path d="M458.0 463.1L458.7 464.6" stroke-width="1.9"/><path d="M458.0 463.1L458.7 464.6" stroke-width="3" stroke-dasharray="0 2.4" opacity="0.6"/><path d="M458.0 463.1L458.7 464.6" stroke="#fff" stroke-width="0.8" opacity="0.35"/></g>
<g fill="none" stroke="#f01010" stroke-linejoin="round" stroke-linecap="round"><path d="M463.1 467.8L464.9 468.0L466.8 468.4L468.3 469.4L469.8 468.6L471.1 469.1L472.4 469.0L474.1 469.6L475.7 469.7L477.0 470.2L478.7 470.9L479.9 471.7L480.6 473.0L481.6 473.8L482.4 475.0L483.1 476.0L484.0 476.9L484.9 476.3L485.6 475.2L486.6 474.1L488.1 472.7L489.4 471.8L489.4 469.4L489.6 468.6L489.8 467.2L490.1 465.1L490.2 463.8L491.3 463.9L492.6 463.7L493.9 462.8L495.4 462.2L496.9 461.4L498.2 460.7L499.8 459.8L501.2 458.9L502.3 460.1L503.7 460.1L504.6 460.7L505.6 461.6L507.2 461.0L508.6 459.7L510.0 459.1L511.4 457.7L512.0 456.9L512.3 456.0L512.8 455.1L514.0 456.3L515.0 457.5L515.5 458.8L516.0 460.3L516.3 460.7L516.6 463.1L516.9 463.9L517.0 464.8L517.5 466.5L518.0 467.7L518.5 469.3L518.9 470.2L519.6 471.4L520.6 470.4L521.7 470.2L522.5 469.1L523.6 468.3L524.8 467.3L525.5 468.7L526.1 469.3L526.8 470.0L527.6 471.2L528.3 471.7L529.7 471.9L531.1 471.1L532.6 470.5L534.3 469.3L535.2 470.1L536.3 471.4L538.0 470.8L539.1 472.0L540.6 471.4L542.4 471.4L543.6 470.9L545.1 470.3L546.7 470.5L548.0 469.5L549.5 469.6L551.2 469.3L552.5 468.3L554.0 467.7L555.3 468.3L556.8 467.7L558.1 468.2L559.7 468.2L561.1 467.5L562.7 467.8L563.9 466.7L565.7 467.0L567.2 467.1L568.9 466.2L570.2 466.3L571.7 465.0L573.2 464.6L574.8 463.8L575.9 462.6L577.3 462.2L578.5 463.6L579.9 464.6L581.4 465.1L582.8 465.5L583.0 463.6L583.4 463.1L584.2 461.5L584.6 459.9L585.5 461.1L586.2 462.2L587.0 463.4L588.1 464.7L588.4 463.7L589.0 461.9L589.2 460.2L589.7 459.2L590.2 457.2L590.4 455.9L590.8 454.2L591.3 453.3L591.8 451.8L592.1 450.7L593.1 451.1L594.0 452.6L594.1 450.3L594.1 449.4L594.3 447.6L594.4 446.5L594.5 444.6L594.9 443.3L595.0 441.1L595.1 439.8L595.1 437.9L595.4 437.3L595.4 435.6L595.7 433.5L595.7 432.3L595.9 430.7L595.8 429.8L596.1 427.2L596.0 425.7L596.3 424.2L596.4 422.5L596.6 420.8L596.7 419.8L596.6 417.8L596.9 416.4" stroke-width="1.9"/><path d="M463.1 467.8L464.9 468.0L466.8 468.4L468.3 469.4L469.8 468.6L471.1 469.1L472.4 469.0L474.1 469.6L475.7 469.7L477.0 470.2L478.7 470.9L479.9 471.7L480.6 473.0L481.6 473.8L482.4 475.0L483.1 476.0L484.0 476.9L484.9 476.3L485.6 475.2L486.6 474.1L488.1 472.7L489.4 471.8L489.4 469.4L489.6 468.6L489.8 467.2L490.1 465.1L490.2 463.8L491.3 463.9L492.6 463.7L493.9 462.8L495.4 462.2L496.9 461.4L498.2 460.7L499.8 459.8L501.2 458.9L502.3 460.1L503.7 460.1L504.6 460.7L505.6 461.6L507.2 461.0L508.6 459.7L510.0 459.1L511.4 457.7L512.0 456.9L512.3 456.0L512.8 455.1L514.0 456.3L515.0 457.5L515.5 458.8L516.0 460.3L516.3 460.7L516.6 463.1L516.9 463.9L517.0 464.8L517.5 466.5L518.0 467.7L518.5 469.3L518.9 470.2L519.6 471.4L520.6 470.4L521.7 470.2L522.5 469.1L523.6 468.3L524.8 467.3L525.5 468.7L526.1 469.3L526.8 470.0L527.6 471.2L528.3 471.7L529.7 471.9L531.1 471.1L532.6 470.5L534.3 469.3L535.2 470.1L536.3 471.4L538.0 470.8L539.1 472.0L540.6 471.4L542.4 471.4L543.6 470.9L545.1 470.3L546.7 470.5L548.0 469.5L549.5 469.6L551.2 469.3L552.5 468.3L554.0 467.7L555.3 468.3L556.8 467.7L558.1 468.2L559.7 468.2L561.1 467.5L562.7 467.8L563.9 466.7L565.7 467.0L567.2 467.1L568.9 466.2L570.2 466.3L571.7 465.0L573.2 464.6L574.8 463.8L575.9 462.6L577.3 462.2L578.5 463.6L579.9 464.6L581.4 465.1L582.8 465.5L583.0 463.6L583.4 463.1L584.2 461.5L584.6 459.9L585.5 461.1L586.2 462.2L587.0 463.4L588.1 464.7L588.4 463.7L589.0 461.9L589.2 460.2L589.7 459.2L590.2 457.2L590.4 455.9L590.8 454.2L591.3 453.3L591.8 451.8L592.1 450.7L593.1 451.1L594.0 452.6L594.1 450.3L594.1 449.4L594.3 447.6L594.4 446.5L594.5 444.6L594.9 443.3L595.0 441.1L595.1 439.8L595.1 437.9L595.4 437.3L595.4 435.6L595.7 433.5L595.7 432.3L595.9 430.7L595.8 429.8L596.1 427.2L596.0 425.7L596.3 424.2L596.4 422.5L596.6 420.8L596.7 419.8L596.6 417.8L596.9 416.4" stroke-width="3" stroke-dasharray="0 2.4" opacity="0.6"/><path d="M463.1 467.8L464.9 468.0L466.8 468.4L468.3 469.4L469.8 468.6L471.1 469.1L472.4 469.0L474.1 469.6L475.7 469.7L477.0 470.2L478.7 470.9L479.9 471.7L480.6 473.0L481.6 473.8L482.4 475.0L483.1 476.0L484.0 476.9L484.9 476.3L485.6 475.2L486.6 474.1L488.1 472.7L489.4 471.8L489.4 469.4L489.6 468.6L489.8 467.2L490.1 465.1L490.2 463.8L491.3 463.9L492.6 463.7L493.9 462.8L495.4 462.2L496.9 461.4L498.2 460.7L499.8 459.8L501.2 458.9L502.3 460.1L503.7 460.1L504.6 460.7L505.6 461.6L507.2 461.0L508.6 459.7L510.0 459.1L511.4 457.7L512.0 456.9L512.3 456.0L512.8 455.1L514.0 456.3L515.0 457.5L515.5 458.8L516.0 460.3L516.3 460.7L516.6 463.1L516.9 463.9L517.0 464.8L517.5 466.5L518.0 467.7L518.5 469.3L518.9 470.2L519.6 471.4L520.6 470.4L521.7 470.2L522.5 469.1L523.6 468.3L524.8 467.3L525.5 468.7L526.1 469.3L526.8 470.0L527.6 471.2L528.3 471.7L529.7 471.9L531.1 471.1L532.6 470.5L534.3 469.3L535.2 470.1L536.3 471.4L538.0 470.8L539.1 472.0L540.6 471.4L542.4 471.4L543.6 470.9L545.1 470.3L546.7 470.5L548.0 469.5L549.5 469.6L551.2 469.3L552.5 468.3L554.0 467.7L555.3 468.3L556.8 467.7L558.1 468.2L559.7 468.2L561.1 467.5L562.7 467.8L563.9 466.7L565.7 467.0L567.2 467.1L568.9 466.2L570.2 466.3L571.7 465.0L573.2 464.6L574.8 463.8L575.9 462.6L577.3 462.2L578.5 463.6L579.9 464.6L581.4 465.1L582.8 465.5L583.0 463.6L583.4 463.1L584.2 461.5L584.6 459.9L585.5 461.1L586.2 462.2L587.0 463.4L588.1 464.7L588.4 463.7L589.0 461.9L589.2 460.2L589.7 459.2L590.2 457.2L590.4 455.9L590.8 454.2L591.3 453.3L591.8 451.8L592.1 450.7L593.1 451.1L594.0 452.6L594.1 450.3L594.1 449.4L594.3 447.6L594.4 446.5L594.5 444.6L594.9 443.3L595.0 441.1L595.1 439.8L595.1 437.9L595.4 437.3L595.4 435.6L595.7 433.5L595.7 432.3L595.9 430.7L595.8 429.8L596.1 427.2L596.0 425.7L596.3 424.2L596.4 422.5L596.6 420.8L596.7 419.8L596.6 417.8L596.9 416.4" stroke="#fff" stroke-width="0.8" opacity="0.35"/></g>
<g fill="none" stroke="#2020e0" stroke-linejoin="round" stroke-linecap="round"><path d="M594.4 436.5L594.8 436.7L594.2 438.1L595.1 441.0L594.7 442.8L594.5 443.7L594.5 445.8L594.7 447.1L595.3 448.3L595.3 448.9L594.9 451.6L595.3 451.8L595.3 455.5L595.4 456.0L595.6 457.7L595.9 459.4L596.1 461.0L596.3 461.9L596.2 460.7L596.4 463.9L596.8 464.9L597.6 466.6L597.7 469.2L598.0 471.4L598.5 473.1L598.5 474.5L598.9 474.6L599.3 475.9L600.3 476.8L600.6 477.5L601.6 479.2L601.9 480.2L602.3 477.6L602.7 477.2L603.4 477.0L603.5 474.5L603.9 477.0L604.5 479.4L605.0 478.9L605.5 476.8L606.3 475.7L606.9 474.9L606.6 472.6L607.5 475.6L607.8 475.7L608.0 478.2L608.3 478.8L609.4 480.0L610.1 481.7L610.6 480.7L611.3 480.2L611.5 479.0L611.8 477.8L611.8 477.2L611.7 474.8L612.7 476.6L613.0 476.1L613.7 478.0L614.2 480.6L614.9 482.8L616.1 482.1L615.8 482.7L617.2 479.7L617.2 478.2L617.4 480.0L619.0 477.3L620.2 475.8L620.7 479.6L621.4 479.0L621.3 481.3L621.9 482.0L622.0 481.3L622.4 479.2L622.6 478.1L622.6 475.5L622.4 475.2L623.7 474.4L623.5 471.2L623.6 470.2L623.9 472.0L624.1 473.5L623.9 476.8L624.1 476.0L624.4 478.1L625.3 477.7L625.6 476.6L626.8 475.4L626.8 477.2L627.0 480.4L628.0 479.2L628.2 479.5L628.4 479.8L628.7 477.8L629.2 476.1L629.5 475.0L629.1 473.5L630.2 471.1L630.0 474.2L630.5 475.2L630.9 477.6L631.5 479.5L631.8 478.6L632.9 476.4L633.4 474.7L633.4 477.8L634.0 476.9L634.5 479.5L634.9 480.3L634.9 481.2L635.3 481.1L636.1 479.7L636.5 477.0L637.4 475.8L636.7 478.1L637.2 478.7L637.5 480.7L637.5 481.6L638.1 484.5L638.1 484.5L638.9 486.9L639.0 484.3L639.5 483.3L639.6 481.8L640.0 480.8L640.3 476.7L641.1 477.7L642.1 476.3L642.3 478.4L643.4 477.8L643.8 479.7L644.8 481.3L645.2 483.9L646.6 483.5L647.1 483.8L648.2 484.0L649.5 485.9L650.8 487.3" stroke-width="1.9"/><path d="M594.4 436.5L594.8 436.7L594.2 438.1L595.1 441.0L594.7 442.8L594.5 443.7L594.5 445.8L594.7 447.1L595.3 448.3L595.3 448.9L594.9 451.6L595.3 451.8L595.3 455.5L595.4 456.0L595.6 457.7L595.9 459.4L596.1 461.0L596.3 461.9L596.2 460.7L596.4 463.9L596.8 464.9L597.6 466.6L597.7 469.2L598.0 471.4L598.5 473.1L598.5 474.5L598.9 474.6L599.3 475.9L600.3 476.8L600.6 477.5L601.6 479.2L601.9 480.2L602.3 477.6L602.7 477.2L603.4 477.0L603.5 474.5L603.9 477.0L604.5 479.4L605.0 478.9L605.5 476.8L606.3 475.7L606.9 474.9L606.6 472.6L607.5 475.6L607.8 475.7L608.0 478.2L608.3 478.8L609.4 480.0L610.1 481.7L610.6 480.7L611.3 480.2L611.5 479.0L611.8 477.8L611.8 477.2L611.7 474.8L612.7 476.6L613.0 476.1L613.7 478.0L614.2 480.6L614.9 482.8L616.1 482.1L615.8 482.7L617.2 479.7L617.2 478.2L617.4 480.0L619.0 477.3L620.2 475.8L620.7 479.6L621.4 479.0L621.3 481.3L621.9 482.0L622.0 481.3L622.4 479.2L622.6 478.1L622.6 475.5L622.4 475.2L623.7 474.4L623.5 471.2L623.6 470.2L623.9 472.0L624.1 473.5L623.9 476.8L624.1 476.0L624.4 478.1L625.3 477.7L625.6 476.6L626.8 475.4L626.8 477.2L627.0 480.4L628.0 479.2L628.2 479.5L628.4 479.8L628.7 477.8L629.2 476.1L629.5 475.0L629.1 473.5L630.2 471.1L630.0 474.2L630.5 475.2L630.9 477.6L631.5 479.5L631.8 478.6L632.9 476.4L633.4 474.7L633.4 477.8L634.0 476.9L634.5 479.5L634.9 480.3L634.9 481.2L635.3 481.1L636.1 479.7L636.5 477.0L637.4 475.8L636.7 478.1L637.2 478.7L637.5 480.7L637.5 481.6L638.1 484.5L638.1 484.5L638.9 486.9L639.0 484.3L639.5 483.3L639.6 481.8L640.0 480.8L640.3 476.7L641.1 477.7L642.1 476.3L642.3 478.4L643.4 477.8L643.8 479.7L644.8 481.3L645.2 483.9L646.6 483.5L647.1 483.8L648.2 484.0L649.5 485.9L650.8 487.3" stroke-width="3" stroke-dasharray="0 2.4" opacity="0.6"/><path d="M594.4 436.5L594.8 436.7L594.2 438.1L595.1 441.0L594.7 442.8L594.5 443.7L594.5 445.8L594.7 447.1L595.3 448.3L595.3 448.9L594.9 451.6L595.3 451.8L595.3 455.5L595.4 456.0L595.6 457.7L595.9 459.4L596.1 461.0L596.3 461.9L596.2 460.7L596.4 463.9L596.8 464.9L597.6 466.6L597.7 469.2L598.0 471.4L598.5 473.1L598.5 474.5L598.9 474.6L599.3 475.9L600.3 476.8L600.6 477.5L601.6 479.2L601.9 480.2L602.3 477.6L602.7 477.2L603.4 477.0L603.5 474.5L603.9 477.0L604.5 479.4L605.0 478.9L605.5 476.8L606.3 475.7L606.9 474.9L606.6 472.6L607.5 475.6L607.8 475.7L608.0 478.2L608.3 478.8L609.4 480.0L610.1 481.7L610.6 480.7L611.3 480.2L611.5 479.0L611.8 477.8L611.8 477.2L611.7 474.8L612.7 476.6L613.0 476.1L613.7 478.0L614.2 480.6L614.9 482.8L616.1 482.1L615.8 482.7L617.2 479.7L617.2 478.2L617.4 480.0L619.0 477.3L620.2 475.8L620.7 479.6L621.4 479.0L621.3 481.3L621.9 482.0L622.0 481.3L622.4 479.2L622.6 478.1L622.6 475.5L622.4 475.2L623.7 474.4L623.5 471.2L623.6 470.2L623.9 472.0L624.1 473.5L623.9 476.8L624.1 476.0L624.4 478.1L625.3 477.7L625.6 476.6L626.8 475.4L626.8 477.2L627.0 480.4L628.0 479.2L628.2 479.5L628.4 479.8L628.7 477.8L629.2 476.1L629.5 475.0L629.1 473.5L630.2 471.1L630.0 474.2L630.5 475.2L630.9 477.6L631.5 479.5L631.8 478.6L632.9 476.4L633.4 474.7L633.4 477.8L634.0 476.9L634.5 479.5L634.9 480.3L634.9 481.2L635.3 481.1L636.1 479.7L636.5 477.0L637.4 475.8L636.7 478.1L637.2 478.7L637.5 480.7L637.5 481.6L638.1 484.5L638.1 484.5L638.9 486.9L639.0 484.3L639.5 483.3L639.6 481.8L640.0 480.8L640.3 476.7L641.1 477.7L642.1 476.3L642.3 478.4L643.4 477.8L643.8 479.7L644.8 481.3L645.2 483.9L646.6 483.5L647.1 483.8L648.2 484.0L649.5 485.9L650.8 487.3" stroke="#fff" stroke-width="0.8" opacity="0.35"/></g>
<g fill="none" stroke="#f010e0" stroke-linejoin="round" stroke-linecap="round"><path d="M650.8 486.5L651.6 485.4L652.3 482.6L653.2 485.5L653.9 488.4L654.3 489.3L654.6 488.6L655.1 486.4L655.9 485.6L657.4 485.7L658.6 487.1L659.5 487.6L660.1 487.8L660.9 488.5L662.2 488.1L662.1 490.6L662.9 490.4L663.9 489.2L664.4 489.7L665.0 490.2L665.8 492.2L667.3 491.9L668.2 491.6L668.9 490.6L670.1 490.9L670.3 494.6L670.8 493.6L671.9 493.5L672.9 491.3L673.6 494.0L674.5 494.7L675.7 493.5" stroke-width="1.9"/><path d="M650.8 486.5L651.6 485.4L652.3 482.6L653.2 485.5L653.9 488.4L654.3 489.3L654.6 488.6L655.1 486.4L655.9 485.6L657.4 485.7L658.6 487.1L659.5 487.6L660.1 487.8L660.9 488.5L662.2 488.1L662.1 490.6L662.9 490.4L663.9 489.2L664.4 489.7L665.0 490.2L665.8 492.2L667.3 491.9L668.2 491.6L668.9 490.6L670.1 490.9L670.3 494.6L670.8 493.6L671.9 493.5L672.9 491.3L673.6 494.0L674.5 494.7L675.7 493.5" stroke-width="3" stroke-dasharray="0 2.4" opacity="0.6"/><path d="M650.8 486.5L651.6 485.4L652.3 482.6L653.2 485.5L653.9 488.4L654.3 489.3L654.6 488.6L655.1 486.4L655.9 485.6L657.4 485.7L658.6 487.1L659.5 487.6L660.1 487.8L660.9 488.5L662.2 488.1L662.1 490.6L662.9 490.4L663.9 489.2L664.4 489.7L665.0 490.2L665.8 492.2L667.3 491.9L668.2 491.6L668.9 490.6L670.1 490.9L670.3 494.6L670.8 493.6L671.9 493.5L672.9 491.3L673.6 494.0L674.5 494.7L675.7 493.5" stroke="#fff" stroke-width="0.8" opacity="0.35"/></g>
<path d="M443.4 535V705" stroke="#555" stroke-width="1" stroke-dasharray="6.9 6.3" fill="none"/>
<path d="M490.8 535V705" stroke="#555" stroke-width="1" stroke-dasharray="6.9 6.3" fill="none"/>
<path d="M546.2 535V705" stroke="#555" stroke-width="1" stroke-dasharray="6.9 6.3" fill="none"/>
<path d="M592.1 535V705" stroke="#555" stroke-width="1" stroke-dasharray="6.9 6.3" fill="none"/>
<path d="M638.1 535V705" stroke="#555" stroke-width="1" stroke-dasharray="6.9 6.3" fill="none"/>
<path d="M389 583V533.3H677.6V583" fill="none" stroke="#222" stroke-width="1.3"/>
<path d="M389 583V705.5H677.6V583" fill="none" stroke="#222" stroke-width="1.3"/>
<path d="M384.8 583.4L393.2 579.8L393.2 582.8L384.8 586.4Z" fill="#fff"/><path d="M384.8 583.4L393.2 579.8M384.8 586.4L393.2 582.8" stroke="#111" stroke-width="1" fill="none"/><path d="M670.9 583.1L686 579.7L686 582.7L670.9 586.1Z" fill="#fff"/><path d="M670.9 583.1L686 579.7M670.9 586.1L686 582.7" stroke="#111" stroke-width="1" fill="none"/>
<text x="385.8" y="538.3" text-anchor="end">1.3</text>
<line x1="389" y1="608.9" x2="393" y2="608.9" stroke="#222" stroke-width="1.2"/>
<text x="385.8" y="613.9" text-anchor="end">1.0</text>
<line x1="389" y1="657.6" x2="393" y2="657.6" stroke="#222" stroke-width="1.2"/>
<text x="385.8" y="662.6" text-anchor="end">0.9</text>
<text x="385.8" y="710.8" text-anchor="end">0.8</text>
<line x1="389" y1="560.2" x2="391.5" y2="560.2" stroke="#222" stroke-width="1.2"/>
<line x1="389" y1="633.3" x2="391.5" y2="633.3" stroke="#222" stroke-width="1.2"/>
<line x1="389" y1="681.7" x2="391.5" y2="681.7" stroke="#222" stroke-width="1.2"/>
<line x1="443.4" y1="705.5" x2="443.4" y2="702" stroke="#222" stroke-width="1.2"/>
<text x="443.4" y="721.3" text-anchor="middle">-2/3</text>
<line x1="490.8" y1="705.5" x2="490.8" y2="702" stroke="#222" stroke-width="1.2"/>
<text x="490.8" y="721.3" text-anchor="middle">-1/3</text>
<line x1="546.2" y1="705.5" x2="546.2" y2="702" stroke="#222" stroke-width="1.2"/>
<text x="546.2" y="721.3" text-anchor="middle">0</text>
<line x1="592.1" y1="705.5" x2="592.1" y2="702" stroke="#222" stroke-width="1.2"/>
<text x="592.1" y="721.3" text-anchor="middle">1/3</text>
<line x1="638.1" y1="705.5" x2="638.1" y2="702" stroke="#222" stroke-width="1.2"/>
<text x="638.1" y="721.3" text-anchor="middle">2/3</text>
<text x="490.8" y="737.7">Filling factor</text>
<text transform="translate(356.5 610) rotate(-90)" text-anchor="middle" font-size="13.5" textLength="72" lengthAdjust="spacingAndGlyphs">σ<tspan dy="-4.5" font-size="8.37">2</tspan><tspan dy="4.5">−σ</tspan><tspan dy="3" font-size="8.37">0</tspan><tspan dy="-7.5" font-size="8.37">2</tspan><tspan dy="4.5"> (μm</tspan><tspan dy="-4.5" font-size="8.37">2</tspan><tspan dy="4.5">)</tspan></text>
<path d="M463.8 495.3L392.546 529.922" stroke="#6c6c6c" stroke-width="1.8" stroke-dasharray="8 4.6" fill="none"/><path d="M385.8 533.2L391.235 527.224L393.857 532.621Z" fill="#6c6c6c"/>
<path d="M595.6 495.3L671.482 530.075" stroke="#6c6c6c" stroke-width="1.8" stroke-dasharray="8 4.6" fill="none"/><path d="M678.3 533.2L670.232 532.803L672.732 527.348Z" fill="#6c6c6c"/>
<g fill="none" stroke="#f01010" stroke-linejoin="round" stroke-linecap="round"><path d="M389.7 664.1L391.2 665.2L392.6 666.8L393.7 665.2L394.8 664.0L396.0 662.5L397.2 664.8L398.4 666.9L400.1 666.6L401.8 665.8L403.6 667.2L405.2 668.8L406.9 667.9L408.6 667.9L410.3 668.2L411.9 668.9L413.6 670.8L415.2 672.6L416.9 673.1L418.7 673.6L420.4 674.0L422.0 674.3L422.9 676.2L423.7 677.7L424.5 679.6L425.9 681.0L427.1 682.6L427.8 684.4L428.3 686.0L429.0 687.4L429.7 689.3L430.5 691.2L431.3 693.3L432.1 695.2L433.9 694.6L434.4 692.4L435.0 689.7L435.5 687.8L436.3 686.0L437.2 684.4L438.0 682.3L439.4 681.3L440.6 680.3L441.9 678.7L443.1 677.5L443.3 675.3L443.3 673.3L443.4 671.2L443.6 669.4L443.7 667.2L444.0 665.5L443.9 663.5L444.2 661.4L444.3 659.1L444.6 657.1L444.9 655.6L445.2 653.1L445.5 650.7L445.9 649.0L446.7 647.4L447.6 645.7L448.7 647.5L449.8 649.7L451.0 651.1L452.3 652.7L453.2 650.7L454.0 649.2L454.8 647.7L455.7 646.3L456.6 644.8L458.2 644.6L459.9 643.6L461.1 642.8L462.5 641.9L465.0 642.2L465.8 640.4L466.7 638.2L467.5 636.4L468.8 635.0L470.1 634.3L471.3 635.3L472.5 636.3L474.9 636.3L476.0 638.1L477.0 640.0L478.0 641.0L479.2 642.3L480.4 640.0L481.7 638.1L483.4 636.5L484.2 634.9L485.0 633.5L486.0 635.3L486.8 636.2L488.1 634.9L489.4 633.1L490.1 631.9L491.0 630.2L491.5 628.7L491.9 626.9L492.3 624.9L492.8 623.0L493.2 621.2L494.1 619.2L495.2 617.3L495.9 618.8L496.6 620.4L497.3 621.7L497.8 624.1L498.3 625.6L498.9 627.1L499.4 628.4L501.1 630.5L501.6 632.7L502.3 635.0L502.8 637.1L503.2 639.2L503.6 641.2L504.1 643.5L504.5 645.8L504.8 647.6L505.1 649.6L505.4 651.3L505.6 653.3L506.0 655.6L506.2 657.5L506.5 659.3L506.7 661.1L507.0 663.0L507.3 664.6L507.6 666.6L507.8 668.1L508.4 670.1L509.0 672.8L509.5 674.6L510.1 676.8L512.1 676.8L513.4 675.0L514.6 672.6L515.7 670.3L517.1 668.3L518.3 666.3L519.6 664.3L522.1 663.4L522.9 665.7L523.8 668.0L524.4 669.4L525.1 671.1L525.7 672.4L526.4 674.1L527.7 676.7L528.8 678.3L530.5 677.7L532.2 677.1L533.9 676.6L535.6 675.9L537.3 674.0L538.9 672.4L540.2 671.1L541.5 669.4L543.2 669.0L544.5 670.1L545.7 671.6L546.9 673.2L548.3 675.1L549.9 675.8L551.6 676.8L553.7 677.1L555.9 677.5L557.9 677.5L560.1 677.5L561.7 676.7L563.4 675.6L565.0 677.2L566.2 675.2L567.4 673.7L568.7 672.2L570.3 671.2L572.1 670.4L573.8 669.5L575.4 669.9L577.1 670.2L578.6 670.3L579.9 668.9L581.2 667.2L582.4 665.8L583.7 664.6L584.9 663.1L586.5 663.2L588.2 663.5L589.9 664.0L592.1 663.6L594.1 663.4L596.1 663.0L598.1 663.4L600.3 663.8L602.3 664.5L604.5 663.3L606.5 662.6L608.7 662.2L610.6 661.4L612.7 660.4L614.8 659.5L617.0 659.8L618.9 659.8L621.0 660.2L622.7 658.2L624.4 657.0L626.0 655.8L627.2 654.1L628.4 652.6L629.7 650.8L630.9 649.4L632.1 648.3L633.5 646.7L635.9 645.9L637.1 647.4L638.5 649.7L639.7 650.9L640.9 652.2L642.1 652.9L643.6 654.5L645.2 655.7L646.8 653.8L648.4 651.9L648.8 650.0L649.2 647.7L649.6 645.6L650.0 643.3L650.5 641.8L650.9 639.6L651.8 637.5L652.6 635.8L653.6 637.4L654.7 639.5L655.1 641.9L655.7 643.7L656.1 646.0L656.7 648.0L657.5 650.0L658.3 652.0L658.9 650.1L659.5 648.2L660.3 646.5L660.9 644.4L661.1 642.5L661.5 640.9L661.8 638.9L662.2 636.9L662.4 635.0L662.6 633.1L663.1 631.3L663.3 629.5L663.7 627.5L663.8 625.8L664.1 623.6L664.4 621.8L664.7 620.0L665.0 617.9L665.2 616.0L665.5 614.4L665.9 612.1L666.2 610.3L666.6 608.3L666.9 606.5L667.2 604.9L667.5 603.1L667.9 600.7L668.4 599.0L668.8 601.0L669.4 602.7L670.1 604.8L670.4 606.7L670.8 608.2L671.1 610.3L671.6 612.1L672.2 610.6L672.7 608.1L673.3 610.2L673.5 612.1L674.0 614.0L674.1 611.9L674.3 609.8L674.3 607.8L674.3 606.0L674.3 604.1L674.4 601.9L674.7 600.0L674.7 597.6L674.7 595.6L674.8 594.1L675.1 591.8L675.0 589.8L675.1 587.5L675.2 585.7L675.3 583.3L675.4 581.0L675.4 579.3L675.5 577.5L675.7 575.5L675.7 573.1L675.8 570.9L675.8 569.0L675.9 567.2L676.1 564.8L676.1 562.8L676.3 560.6L676.5 558.4L676.4 556.3L676.7 554.6L676.8 552.4" stroke-width="1.2"/><path d="M389.7 664.1L391.2 665.2L392.6 666.8L393.7 665.2L394.8 664.0L396.0 662.5L397.2 664.8L398.4 666.9L400.1 666.6L401.8 665.8L403.6 667.2L405.2 668.8L406.9 667.9L408.6 667.9L410.3 668.2L411.9 668.9L413.6 670.8L415.2 672.6L416.9 673.1L418.7 673.6L420.4 674.0L422.0 674.3L422.9 676.2L423.7 677.7L424.5 679.6L425.9 681.0L427.1 682.6L427.8 684.4L428.3 686.0L429.0 687.4L429.7 689.3L430.5 691.2L431.3 693.3L432.1 695.2L433.9 694.6L434.4 692.4L435.0 689.7L435.5 687.8L436.3 686.0L437.2 684.4L438.0 682.3L439.4 681.3L440.6 680.3L441.9 678.7L443.1 677.5L443.3 675.3L443.3 673.3L443.4 671.2L443.6 669.4L443.7 667.2L444.0 665.5L443.9 663.5L444.2 661.4L444.3 659.1L444.6 657.1L444.9 655.6L445.2 653.1L445.5 650.7L445.9 649.0L446.7 647.4L447.6 645.7L448.7 647.5L449.8 649.7L451.0 651.1L452.3 652.7L453.2 650.7L454.0 649.2L454.8 647.7L455.7 646.3L456.6 644.8L458.2 644.6L459.9 643.6L461.1 642.8L462.5 641.9L465.0 642.2L465.8 640.4L466.7 638.2L467.5 636.4L468.8 635.0L470.1 634.3L471.3 635.3L472.5 636.3L474.9 636.3L476.0 638.1L477.0 640.0L478.0 641.0L479.2 642.3L480.4 640.0L481.7 638.1L483.4 636.5L484.2 634.9L485.0 633.5L486.0 635.3L486.8 636.2L488.1 634.9L489.4 633.1L490.1 631.9L491.0 630.2L491.5 628.7L491.9 626.9L492.3 624.9L492.8 623.0L493.2 621.2L494.1 619.2L495.2 617.3L495.9 618.8L496.6 620.4L497.3 621.7L497.8 624.1L498.3 625.6L498.9 627.1L499.4 628.4L501.1 630.5L501.6 632.7L502.3 635.0L502.8 637.1L503.2 639.2L503.6 641.2L504.1 643.5L504.5 645.8L504.8 647.6L505.1 649.6L505.4 651.3L505.6 653.3L506.0 655.6L506.2 657.5L506.5 659.3L506.7 661.1L507.0 663.0L507.3 664.6L507.6 666.6L507.8 668.1L508.4 670.1L509.0 672.8L509.5 674.6L510.1 676.8L512.1 676.8L513.4 675.0L514.6 672.6L515.7 670.3L517.1 668.3L518.3 666.3L519.6 664.3L522.1 663.4L522.9 665.7L523.8 668.0L524.4 669.4L525.1 671.1L525.7 672.4L526.4 674.1L527.7 676.7L528.8 678.3L530.5 677.7L532.2 677.1L533.9 676.6L535.6 675.9L537.3 674.0L538.9 672.4L540.2 671.1L541.5 669.4L543.2 669.0L544.5 670.1L545.7 671.6L546.9 673.2L548.3 675.1L549.9 675.8L551.6 676.8L553.7 677.1L555.9 677.5L557.9 677.5L560.1 677.5L561.7 676.7L563.4 675.6L565.0 677.2L566.2 675.2L567.4 673.7L568.7 672.2L570.3 671.2L572.1 670.4L573.8 669.5L575.4 669.9L577.1 670.2L578.6 670.3L579.9 668.9L581.2 667.2L582.4 665.8L583.7 664.6L584.9 663.1L586.5 663.2L588.2 663.5L589.9 664.0L592.1 663.6L594.1 663.4L596.1 663.0L598.1 663.4L600.3 663.8L602.3 664.5L604.5 663.3L606.5 662.6L608.7 662.2L610.6 661.4L612.7 660.4L614.8 659.5L617.0 659.8L618.9 659.8L621.0 660.2L622.7 658.2L624.4 657.0L626.0 655.8L627.2 654.1L628.4 652.6L629.7 650.8L630.9 649.4L632.1 648.3L633.5 646.7L635.9 645.9L637.1 647.4L638.5 649.7L639.7 650.9L640.9 652.2L642.1 652.9L643.6 654.5L645.2 655.7L646.8 653.8L648.4 651.9L648.8 650.0L649.2 647.7L649.6 645.6L650.0 643.3L650.5 641.8L650.9 639.6L651.8 637.5L652.6 635.8L653.6 637.4L654.7 639.5L655.1 641.9L655.7 643.7L656.1 646.0L656.7 648.0L657.5 650.0L658.3 652.0L658.9 650.1L659.5 648.2L660.3 646.5L660.9 644.4L661.1 642.5L661.5 640.9L661.8 638.9L662.2 636.9L662.4 635.0L662.6 633.1L663.1 631.3L663.3 629.5L663.7 627.5L663.8 625.8L664.1 623.6L664.4 621.8L664.7 620.0L665.0 617.9L665.2 616.0L665.5 614.4L665.9 612.1L666.2 610.3L666.6 608.3L666.9 606.5L667.2 604.9L667.5 603.1L667.9 600.7L668.4 599.0L668.8 601.0L669.4 602.7L670.1 604.8L670.4 606.7L670.8 608.2L671.1 610.3L671.6 612.1L672.2 610.6L672.7 608.1L673.3 610.2L673.5 612.1L674.0 614.0L674.1 611.9L674.3 609.8L674.3 607.8L674.3 606.0L674.3 604.1L674.4 601.9L674.7 600.0L674.7 597.6L674.7 595.6L674.8 594.1L675.1 591.8L675.0 589.8L675.1 587.5L675.2 585.7L675.3 583.3L675.4 581.0L675.4 579.3L675.5 577.5L675.7 575.5L675.7 573.1L675.8 570.9L675.8 569.0L675.9 567.2L676.1 564.8L676.1 562.8L676.3 560.6L676.5 558.4L676.4 556.3L676.7 554.6L676.8 552.4" stroke-width="2" stroke-dasharray="0 3.2" opacity="0.6"/></g>
</svg>
</body></html>
